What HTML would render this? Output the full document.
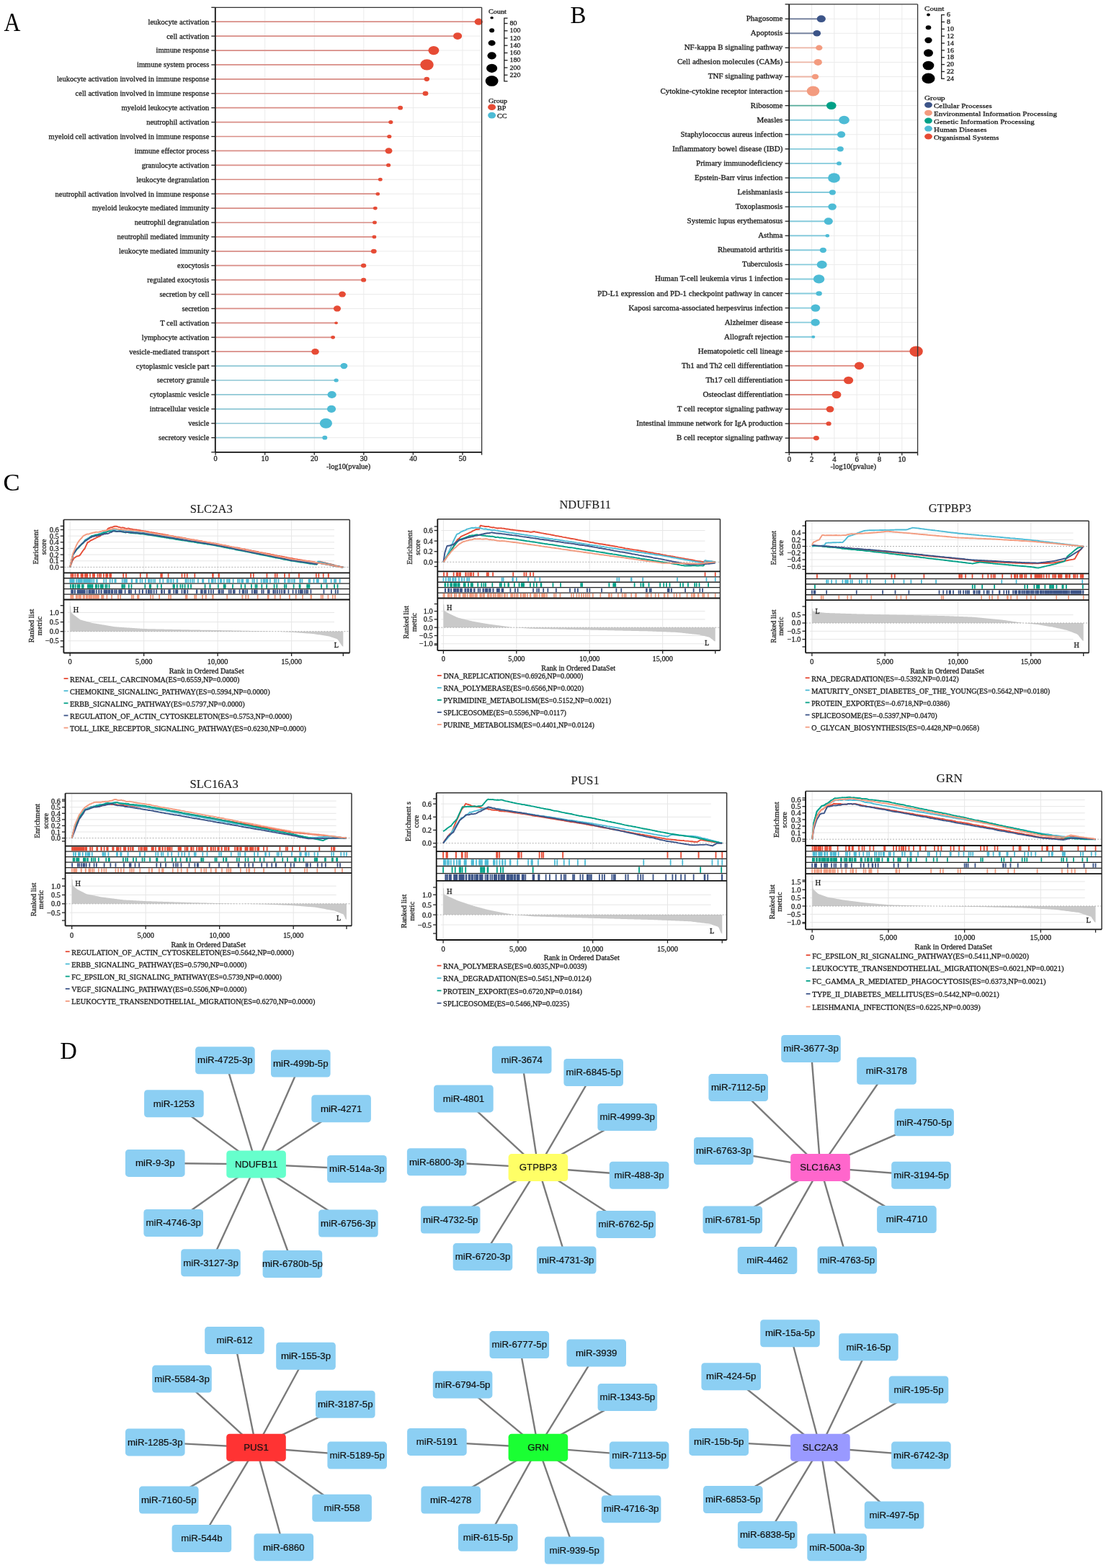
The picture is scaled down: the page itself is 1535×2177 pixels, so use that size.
<!DOCTYPE html>
<html><head><meta charset="utf-8"><title>Figure</title>
<style>
html,body{margin:0;padding:0;background:#fff;}
body{width:1535px;height:2177px;overflow:hidden;}
svg{display:block;}
text.s{font-family:"Liberation Serif","Times New Roman",serif;fill:#1c1c1c;stroke:#1c1c1c;stroke-width:0.28px;}
text.a{font-family:"Liberation Sans",Arial,sans-serif;fill:#111;stroke:#111;stroke-width:0.2px;}
</style></head><body>
<svg width="1535" height="2177" viewBox="0 0 1535 2177">
<rect width="1535" height="2177" fill="#fff"/>
<g id="panelA">
<text class="s" transform="translate(5.6,42.7) scale(0.9,1)" font-size="35.2" style="fill:#000;stroke:none">A</text>
<line x1="367.67" y1="10.3" x2="367.67" y2="627.8" stroke="#ebebeb" stroke-width="1"/>
<line x1="436.24" y1="10.3" x2="436.24" y2="627.8" stroke="#ebebeb" stroke-width="1"/>
<line x1="504.81" y1="10.3" x2="504.81" y2="627.8" stroke="#ebebeb" stroke-width="1"/>
<line x1="573.38" y1="10.3" x2="573.38" y2="627.8" stroke="#ebebeb" stroke-width="1"/>
<line x1="641.95" y1="10.3" x2="641.95" y2="627.8" stroke="#ebebeb" stroke-width="1"/>
<line x1="298.8" y1="30.2" x2="668.6" y2="30.2" stroke="#ebebeb" stroke-width="1"/>
<line x1="298.8" y1="50.11" x2="668.6" y2="50.11" stroke="#ebebeb" stroke-width="1"/>
<line x1="298.8" y1="70.03" x2="668.6" y2="70.03" stroke="#ebebeb" stroke-width="1"/>
<line x1="298.8" y1="89.94" x2="668.6" y2="89.94" stroke="#ebebeb" stroke-width="1"/>
<line x1="298.8" y1="109.85" x2="668.6" y2="109.85" stroke="#ebebeb" stroke-width="1"/>
<line x1="298.8" y1="129.76" x2="668.6" y2="129.76" stroke="#ebebeb" stroke-width="1"/>
<line x1="298.8" y1="149.68" x2="668.6" y2="149.68" stroke="#ebebeb" stroke-width="1"/>
<line x1="298.8" y1="169.59" x2="668.6" y2="169.59" stroke="#ebebeb" stroke-width="1"/>
<line x1="298.8" y1="189.5" x2="668.6" y2="189.5" stroke="#ebebeb" stroke-width="1"/>
<line x1="298.8" y1="209.42" x2="668.6" y2="209.42" stroke="#ebebeb" stroke-width="1"/>
<line x1="298.8" y1="229.33" x2="668.6" y2="229.33" stroke="#ebebeb" stroke-width="1"/>
<line x1="298.8" y1="249.24" x2="668.6" y2="249.24" stroke="#ebebeb" stroke-width="1"/>
<line x1="298.8" y1="269.16" x2="668.6" y2="269.16" stroke="#ebebeb" stroke-width="1"/>
<line x1="298.8" y1="289.07" x2="668.6" y2="289.07" stroke="#ebebeb" stroke-width="1"/>
<line x1="298.8" y1="308.98" x2="668.6" y2="308.98" stroke="#ebebeb" stroke-width="1"/>
<line x1="298.8" y1="328.89" x2="668.6" y2="328.89" stroke="#ebebeb" stroke-width="1"/>
<line x1="298.8" y1="348.81" x2="668.6" y2="348.81" stroke="#ebebeb" stroke-width="1"/>
<line x1="298.8" y1="368.72" x2="668.6" y2="368.72" stroke="#ebebeb" stroke-width="1"/>
<line x1="298.8" y1="388.63" x2="668.6" y2="388.63" stroke="#ebebeb" stroke-width="1"/>
<line x1="298.8" y1="408.55" x2="668.6" y2="408.55" stroke="#ebebeb" stroke-width="1"/>
<line x1="298.8" y1="428.46" x2="668.6" y2="428.46" stroke="#ebebeb" stroke-width="1"/>
<line x1="298.8" y1="448.37" x2="668.6" y2="448.37" stroke="#ebebeb" stroke-width="1"/>
<line x1="298.8" y1="468.29" x2="668.6" y2="468.29" stroke="#ebebeb" stroke-width="1"/>
<line x1="298.8" y1="488.2" x2="668.6" y2="488.2" stroke="#ebebeb" stroke-width="1"/>
<line x1="298.8" y1="508.11" x2="668.6" y2="508.11" stroke="#ebebeb" stroke-width="1"/>
<line x1="298.8" y1="528.02" x2="668.6" y2="528.02" stroke="#ebebeb" stroke-width="1"/>
<line x1="298.8" y1="547.94" x2="668.6" y2="547.94" stroke="#ebebeb" stroke-width="1"/>
<line x1="298.8" y1="567.85" x2="668.6" y2="567.85" stroke="#ebebeb" stroke-width="1"/>
<line x1="298.8" y1="587.76" x2="668.6" y2="587.76" stroke="#ebebeb" stroke-width="1"/>
<line x1="298.8" y1="607.68" x2="668.6" y2="607.68" stroke="#ebebeb" stroke-width="1"/>
<line x1="298.8" y1="30.2" x2="664.2" y2="30.2" stroke="#d98d86" stroke-width="1.7"/>
<line x1="298.8" y1="50.11" x2="635.1" y2="50.11" stroke="#d98d86" stroke-width="1.7"/>
<line x1="298.8" y1="70.03" x2="601.9" y2="70.03" stroke="#d98d86" stroke-width="1.7"/>
<line x1="298.8" y1="89.94" x2="592.5" y2="89.94" stroke="#d98d86" stroke-width="1.7"/>
<line x1="298.8" y1="109.85" x2="592.3" y2="109.85" stroke="#d98d86" stroke-width="1.7"/>
<line x1="298.8" y1="129.76" x2="590.5" y2="129.76" stroke="#d98d86" stroke-width="1.7"/>
<line x1="298.8" y1="149.68" x2="555.6" y2="149.68" stroke="#d98d86" stroke-width="1.7"/>
<line x1="298.8" y1="169.59" x2="542.3" y2="169.59" stroke="#d98d86" stroke-width="1.7"/>
<line x1="298.8" y1="189.5" x2="540.3" y2="189.5" stroke="#d98d86" stroke-width="1.7"/>
<line x1="298.8" y1="209.42" x2="539.5" y2="209.42" stroke="#d98d86" stroke-width="1.7"/>
<line x1="298.8" y1="229.33" x2="539.1" y2="229.33" stroke="#d98d86" stroke-width="1.7"/>
<line x1="298.8" y1="249.24" x2="527.8" y2="249.24" stroke="#d98d86" stroke-width="1.7"/>
<line x1="298.8" y1="269.16" x2="524.3" y2="269.16" stroke="#d98d86" stroke-width="1.7"/>
<line x1="298.8" y1="289.07" x2="520.8" y2="289.07" stroke="#d98d86" stroke-width="1.7"/>
<line x1="298.8" y1="308.98" x2="520" y2="308.98" stroke="#d98d86" stroke-width="1.7"/>
<line x1="298.8" y1="328.89" x2="519.4" y2="328.89" stroke="#d98d86" stroke-width="1.7"/>
<line x1="298.8" y1="348.81" x2="518.8" y2="348.81" stroke="#d98d86" stroke-width="1.7"/>
<line x1="298.8" y1="368.72" x2="504.6" y2="368.72" stroke="#d98d86" stroke-width="1.7"/>
<line x1="298.8" y1="388.63" x2="504.6" y2="388.63" stroke="#d98d86" stroke-width="1.7"/>
<line x1="298.8" y1="408.55" x2="475" y2="408.55" stroke="#d98d86" stroke-width="1.7"/>
<line x1="298.8" y1="428.46" x2="468" y2="428.46" stroke="#d98d86" stroke-width="1.7"/>
<line x1="298.8" y1="448.37" x2="466.6" y2="448.37" stroke="#d98d86" stroke-width="1.7"/>
<line x1="298.8" y1="468.29" x2="462.1" y2="468.29" stroke="#d98d86" stroke-width="1.7"/>
<line x1="298.8" y1="488.2" x2="437.5" y2="488.2" stroke="#d98d86" stroke-width="1.7"/>
<line x1="298.8" y1="508.11" x2="477.4" y2="508.11" stroke="#8fc8d6" stroke-width="1.7"/>
<line x1="298.8" y1="528.02" x2="466.6" y2="528.02" stroke="#8fc8d6" stroke-width="1.7"/>
<line x1="298.8" y1="547.94" x2="460.6" y2="547.94" stroke="#8fc8d6" stroke-width="1.7"/>
<line x1="298.8" y1="567.85" x2="460" y2="567.85" stroke="#8fc8d6" stroke-width="1.7"/>
<line x1="298.8" y1="587.76" x2="452.4" y2="587.76" stroke="#8fc8d6" stroke-width="1.7"/>
<line x1="298.8" y1="607.68" x2="450.8" y2="607.68" stroke="#8fc8d6" stroke-width="1.7"/>
<ellipse cx="664.2" cy="30.2" rx="5.62" ry="4.6" fill="#E64B35"/>
<ellipse cx="635.1" cy="50.11" rx="6.04" ry="4.95" fill="#E64B35"/>
<ellipse cx="601.9" cy="70.03" rx="7.51" ry="6.15" fill="#E64B35"/>
<ellipse cx="592.5" cy="89.94" rx="9.24" ry="7.57" fill="#E64B35"/>
<ellipse cx="592.3" cy="109.85" rx="3.78" ry="3.1" fill="#E64B35"/>
<ellipse cx="590.5" cy="129.76" rx="3.89" ry="3.18" fill="#E64B35"/>
<ellipse cx="555.6" cy="149.68" rx="3.46" ry="2.84" fill="#E64B35"/>
<ellipse cx="542.3" cy="169.59" rx="3.1" ry="2.54" fill="#E64B35"/>
<ellipse cx="540.3" cy="189.5" rx="3.1" ry="2.54" fill="#E64B35"/>
<ellipse cx="539.5" cy="209.42" rx="4.94" ry="4.05" fill="#E64B35"/>
<ellipse cx="539.1" cy="229.33" rx="3.1" ry="2.54" fill="#E64B35"/>
<ellipse cx="527.8" cy="249.24" rx="2.89" ry="2.37" fill="#E64B35"/>
<ellipse cx="524.3" cy="269.16" rx="2.78" ry="2.28" fill="#E64B35"/>
<ellipse cx="520.8" cy="289.07" rx="2.89" ry="2.37" fill="#E64B35"/>
<ellipse cx="520" cy="308.98" rx="2.89" ry="2.37" fill="#E64B35"/>
<ellipse cx="519.4" cy="328.89" rx="2.89" ry="2.37" fill="#E64B35"/>
<ellipse cx="518.8" cy="348.81" rx="3.89" ry="3.18" fill="#E64B35"/>
<ellipse cx="504.6" cy="368.72" rx="3.68" ry="3.01" fill="#E64B35"/>
<ellipse cx="504.6" cy="388.63" rx="3.57" ry="2.93" fill="#E64B35"/>
<ellipse cx="475" cy="408.55" rx="4.94" ry="4.05" fill="#E64B35"/>
<ellipse cx="468" cy="428.46" rx="5.04" ry="4.13" fill="#E64B35"/>
<ellipse cx="466.6" cy="448.37" rx="2.36" ry="1.94" fill="#E64B35"/>
<ellipse cx="462.1" cy="468.29" rx="2.89" ry="2.37" fill="#E64B35"/>
<ellipse cx="437.5" cy="488.2" rx="5.25" ry="4.3" fill="#E64B35"/>
<ellipse cx="477.4" cy="508.11" rx="4.94" ry="4.05" fill="#4DBBD5"/>
<ellipse cx="466.6" cy="528.02" rx="3.15" ry="2.58" fill="#4DBBD5"/>
<ellipse cx="460.6" cy="547.94" rx="6.14" ry="5.03" fill="#4DBBD5"/>
<ellipse cx="460" cy="567.85" rx="6.14" ry="5.03" fill="#4DBBD5"/>
<ellipse cx="452.4" cy="587.76" rx="8.61" ry="7.06" fill="#4DBBD5"/>
<ellipse cx="450.8" cy="607.68" rx="3.46" ry="2.84" fill="#4DBBD5"/>
<line x1="298.8" y1="10.3" x2="668.6" y2="10.3" stroke="#333" stroke-width="1.3"/>
<line x1="668.6" y1="10.3" x2="668.6" y2="627.8" stroke="#333" stroke-width="1.3"/>
<line x1="298.8" y1="627.8" x2="668.6" y2="627.8" stroke="#111" stroke-width="1.8"/>
<line x1="298.8" y1="10.3" x2="298.8" y2="627.8" stroke="#111" stroke-width="1.8"/>
<line x1="293.3" y1="30.2" x2="298.8" y2="30.2" stroke="#222" stroke-width="1.3"/>
<line x1="293.3" y1="50.11" x2="298.8" y2="50.11" stroke="#222" stroke-width="1.3"/>
<line x1="293.3" y1="70.03" x2="298.8" y2="70.03" stroke="#222" stroke-width="1.3"/>
<line x1="293.3" y1="89.94" x2="298.8" y2="89.94" stroke="#222" stroke-width="1.3"/>
<line x1="293.3" y1="109.85" x2="298.8" y2="109.85" stroke="#222" stroke-width="1.3"/>
<line x1="293.3" y1="129.76" x2="298.8" y2="129.76" stroke="#222" stroke-width="1.3"/>
<line x1="293.3" y1="149.68" x2="298.8" y2="149.68" stroke="#222" stroke-width="1.3"/>
<line x1="293.3" y1="169.59" x2="298.8" y2="169.59" stroke="#222" stroke-width="1.3"/>
<line x1="293.3" y1="189.5" x2="298.8" y2="189.5" stroke="#222" stroke-width="1.3"/>
<line x1="293.3" y1="209.42" x2="298.8" y2="209.42" stroke="#222" stroke-width="1.3"/>
<line x1="293.3" y1="229.33" x2="298.8" y2="229.33" stroke="#222" stroke-width="1.3"/>
<line x1="293.3" y1="249.24" x2="298.8" y2="249.24" stroke="#222" stroke-width="1.3"/>
<line x1="293.3" y1="269.16" x2="298.8" y2="269.16" stroke="#222" stroke-width="1.3"/>
<line x1="293.3" y1="289.07" x2="298.8" y2="289.07" stroke="#222" stroke-width="1.3"/>
<line x1="293.3" y1="308.98" x2="298.8" y2="308.98" stroke="#222" stroke-width="1.3"/>
<line x1="293.3" y1="328.89" x2="298.8" y2="328.89" stroke="#222" stroke-width="1.3"/>
<line x1="293.3" y1="348.81" x2="298.8" y2="348.81" stroke="#222" stroke-width="1.3"/>
<line x1="293.3" y1="368.72" x2="298.8" y2="368.72" stroke="#222" stroke-width="1.3"/>
<line x1="293.3" y1="388.63" x2="298.8" y2="388.63" stroke="#222" stroke-width="1.3"/>
<line x1="293.3" y1="408.55" x2="298.8" y2="408.55" stroke="#222" stroke-width="1.3"/>
<line x1="293.3" y1="428.46" x2="298.8" y2="428.46" stroke="#222" stroke-width="1.3"/>
<line x1="293.3" y1="448.37" x2="298.8" y2="448.37" stroke="#222" stroke-width="1.3"/>
<line x1="293.3" y1="468.29" x2="298.8" y2="468.29" stroke="#222" stroke-width="1.3"/>
<line x1="293.3" y1="488.2" x2="298.8" y2="488.2" stroke="#222" stroke-width="1.3"/>
<line x1="293.3" y1="508.11" x2="298.8" y2="508.11" stroke="#222" stroke-width="1.3"/>
<line x1="293.3" y1="528.02" x2="298.8" y2="528.02" stroke="#222" stroke-width="1.3"/>
<line x1="293.3" y1="547.94" x2="298.8" y2="547.94" stroke="#222" stroke-width="1.3"/>
<line x1="293.3" y1="567.85" x2="298.8" y2="567.85" stroke="#222" stroke-width="1.3"/>
<line x1="293.3" y1="587.76" x2="298.8" y2="587.76" stroke="#222" stroke-width="1.3"/>
<line x1="293.3" y1="607.68" x2="298.8" y2="607.68" stroke="#222" stroke-width="1.3"/>
<line x1="293.3" y1="10.3" x2="298.8" y2="10.3" stroke="#222" stroke-width="1.3"/>
<line x1="293.3" y1="627.8" x2="298.8" y2="627.8" stroke="#222" stroke-width="1.3"/>
<line x1="299.1" y1="627.8" x2="299.1" y2="631.65" stroke="#222" stroke-width="1.3"/>
<line x1="367.67" y1="627.8" x2="367.67" y2="631.65" stroke="#222" stroke-width="1.3"/>
<line x1="436.24" y1="627.8" x2="436.24" y2="631.65" stroke="#222" stroke-width="1.3"/>
<line x1="504.81" y1="627.8" x2="504.81" y2="631.65" stroke="#222" stroke-width="1.3"/>
<line x1="573.38" y1="627.8" x2="573.38" y2="631.65" stroke="#222" stroke-width="1.3"/>
<line x1="641.95" y1="627.8" x2="641.95" y2="631.65" stroke="#222" stroke-width="1.3"/>
<line x1="668.6" y1="627.8" x2="668.6" y2="631.65" stroke="#222" stroke-width="1.3"/>
<text class="s" transform="translate(290.3,33.6) scale(1.05,1)" font-size="10" text-anchor="end">leukocyte activation</text>
<text class="s" transform="translate(290.3,53.51) scale(1.05,1)" font-size="10" text-anchor="end">cell activation</text>
<text class="s" transform="translate(290.3,73.43) scale(1.05,1)" font-size="10" text-anchor="end">immune response</text>
<text class="s" transform="translate(290.3,93.34) scale(1.05,1)" font-size="10" text-anchor="end">immune system process</text>
<text class="s" transform="translate(290.3,113.25) scale(1.05,1)" font-size="10" text-anchor="end">leukocyte activation involved in immune response</text>
<text class="s" transform="translate(290.3,133.16) scale(1.05,1)" font-size="10" text-anchor="end">cell activation involved in immune response</text>
<text class="s" transform="translate(290.3,153.08) scale(1.05,1)" font-size="10" text-anchor="end">myeloid leukocyte activation</text>
<text class="s" transform="translate(290.3,172.99) scale(1.05,1)" font-size="10" text-anchor="end">neutrophil activation</text>
<text class="s" transform="translate(290.3,192.9) scale(1.05,1)" font-size="10" text-anchor="end">myeloid cell activation involved in immune response</text>
<text class="s" transform="translate(290.3,212.82) scale(1.05,1)" font-size="10" text-anchor="end">immune effector process</text>
<text class="s" transform="translate(290.3,232.73) scale(1.05,1)" font-size="10" text-anchor="end">granulocyte activation</text>
<text class="s" transform="translate(290.3,252.64) scale(1.05,1)" font-size="10" text-anchor="end">leukocyte degranulation</text>
<text class="s" transform="translate(290.3,272.56) scale(1.05,1)" font-size="10" text-anchor="end">neutrophil activation involved in immune response</text>
<text class="s" transform="translate(290.3,292.47) scale(1.05,1)" font-size="10" text-anchor="end">myeloid leukocyte mediated immunity</text>
<text class="s" transform="translate(290.3,312.38) scale(1.05,1)" font-size="10" text-anchor="end">neutrophil degranulation</text>
<text class="s" transform="translate(290.3,332.29) scale(1.05,1)" font-size="10" text-anchor="end">neutrophil mediated immunity</text>
<text class="s" transform="translate(290.3,352.21) scale(1.05,1)" font-size="10" text-anchor="end">leukocyte mediated immunity</text>
<text class="s" transform="translate(290.3,372.12) scale(1.05,1)" font-size="10" text-anchor="end">exocytosis</text>
<text class="s" transform="translate(290.3,392.03) scale(1.05,1)" font-size="10" text-anchor="end">regulated exocytosis</text>
<text class="s" transform="translate(290.3,411.95) scale(1.05,1)" font-size="10" text-anchor="end">secretion by cell</text>
<text class="s" transform="translate(290.3,431.86) scale(1.05,1)" font-size="10" text-anchor="end">secretion</text>
<text class="s" transform="translate(290.3,451.77) scale(1.05,1)" font-size="10" text-anchor="end">T cell activation</text>
<text class="s" transform="translate(290.3,471.69) scale(1.05,1)" font-size="10" text-anchor="end">lymphocyte activation</text>
<text class="s" transform="translate(290.3,491.6) scale(1.05,1)" font-size="10" text-anchor="end">vesicle-mediated transport</text>
<text class="s" transform="translate(290.3,511.51) scale(1.05,1)" font-size="10" text-anchor="end">cytoplasmic vesicle part</text>
<text class="s" transform="translate(290.3,531.42) scale(1.05,1)" font-size="10" text-anchor="end">secretory granule</text>
<text class="s" transform="translate(290.3,551.34) scale(1.05,1)" font-size="10" text-anchor="end">cytoplasmic vesicle</text>
<text class="s" transform="translate(290.3,571.25) scale(1.05,1)" font-size="10" text-anchor="end">intracellular vesicle</text>
<text class="s" transform="translate(290.3,591.16) scale(1.05,1)" font-size="10" text-anchor="end">vesicle</text>
<text class="s" transform="translate(290.3,611.08) scale(1.05,1)" font-size="10" text-anchor="end">secretory vesicle</text>
<text class="s" transform="translate(299.1,639.5) scale(1.1,1)" font-size="9.4" text-anchor="middle">0</text>
<text class="s" transform="translate(367.67,639.5) scale(1.1,1)" font-size="9.4" text-anchor="middle">10</text>
<text class="s" transform="translate(436.24,639.5) scale(1.1,1)" font-size="9.4" text-anchor="middle">20</text>
<text class="s" transform="translate(504.81,639.5) scale(1.1,1)" font-size="9.4" text-anchor="middle">30</text>
<text class="s" transform="translate(573.38,639.5) scale(1.1,1)" font-size="9.4" text-anchor="middle">40</text>
<text class="s" transform="translate(641.95,639.5) scale(1.1,1)" font-size="9.4" text-anchor="middle">50</text>
<text class="s" transform="translate(483.6,650.5) scale(1.1,1)" font-size="9.4" text-anchor="middle">-log10(pvalue)</text>
<text class="s" transform="translate(677.9,19.2) scale(1.22,1)" font-size="8.4">Count</text>
<ellipse cx="682.6" cy="24.7" rx="2.25" ry="1.75" fill="#000"/>
<ellipse cx="682.6" cy="42.3" rx="3.5" ry="2.95" fill="#000"/>
<ellipse cx="682.6" cy="59.7" rx="5" ry="3.95" fill="#000"/>
<ellipse cx="682.6" cy="77.3" rx="6.15" ry="5.1" fill="#000"/>
<ellipse cx="682.6" cy="94.8" rx="7.6" ry="6.1" fill="#000"/>
<ellipse cx="682.6" cy="112.4" rx="8.9" ry="7.4" fill="#000"/>
<line x1="699.8" y1="25.2" x2="699.8" y2="112.8" stroke="#222" stroke-width="1.3"/>
<line x1="699.2" y1="25.2" x2="704.5" y2="25.2" stroke="#222" stroke-width="1.3"/>
<line x1="699.2" y1="112.8" x2="704.5" y2="112.8" stroke="#222" stroke-width="1.3"/>
<line x1="699.8" y1="32.5" x2="704.5" y2="32.5" stroke="#222" stroke-width="1.3"/>
<text class="s" transform="translate(707.6,35.2) scale(1.28,1)" font-size="7.8">80</text>
<line x1="699.8" y1="42.74" x2="704.5" y2="42.74" stroke="#222" stroke-width="1.3"/>
<text class="s" transform="translate(707.6,45.44) scale(1.28,1)" font-size="7.8">100</text>
<line x1="699.8" y1="52.98" x2="704.5" y2="52.98" stroke="#222" stroke-width="1.3"/>
<text class="s" transform="translate(707.6,55.68) scale(1.28,1)" font-size="7.8">120</text>
<line x1="699.8" y1="63.22" x2="704.5" y2="63.22" stroke="#222" stroke-width="1.3"/>
<text class="s" transform="translate(707.6,65.92) scale(1.28,1)" font-size="7.8">140</text>
<line x1="699.8" y1="73.46" x2="704.5" y2="73.46" stroke="#222" stroke-width="1.3"/>
<text class="s" transform="translate(707.6,76.16) scale(1.28,1)" font-size="7.8">160</text>
<line x1="699.8" y1="83.7" x2="704.5" y2="83.7" stroke="#222" stroke-width="1.3"/>
<text class="s" transform="translate(707.6,86.4) scale(1.28,1)" font-size="7.8">180</text>
<line x1="699.8" y1="93.94" x2="704.5" y2="93.94" stroke="#222" stroke-width="1.3"/>
<text class="s" transform="translate(707.6,96.64) scale(1.28,1)" font-size="7.8">200</text>
<line x1="699.8" y1="104.18" x2="704.5" y2="104.18" stroke="#222" stroke-width="1.3"/>
<text class="s" transform="translate(707.6,106.88) scale(1.28,1)" font-size="7.8">220</text>
<text class="s" transform="translate(677.9,142.6) scale(1.22,1)" font-size="8.4">Group</text>
<ellipse cx="682.6" cy="148.8" rx="5.5" ry="4.3" fill="#E64B35"/>
<ellipse cx="682.6" cy="160.1" rx="5.5" ry="4.3" fill="#4DBBD5"/>
<text class="s" transform="translate(690,153) scale(1.22,1)" font-size="8.4">BP</text>
<text class="s" transform="translate(690,164) scale(1.22,1)" font-size="8.4">CC</text>
</g>
<g id="panelB">
<text class="s" transform="translate(791.6,31.9) scale(0.96,1)" font-size="34.3" style="fill:#000;stroke:none">B</text>
<line x1="1126.6" y1="5.9" x2="1126.6" y2="628.4" stroke="#ebebeb" stroke-width="1"/>
<line x1="1157.9" y1="5.9" x2="1157.9" y2="628.4" stroke="#ebebeb" stroke-width="1"/>
<line x1="1189.2" y1="5.9" x2="1189.2" y2="628.4" stroke="#ebebeb" stroke-width="1"/>
<line x1="1220.5" y1="5.9" x2="1220.5" y2="628.4" stroke="#ebebeb" stroke-width="1"/>
<line x1="1251.8" y1="5.9" x2="1251.8" y2="628.4" stroke="#ebebeb" stroke-width="1"/>
<line x1="1095.2" y1="26.2" x2="1273.6" y2="26.2" stroke="#ebebeb" stroke-width="1"/>
<line x1="1095.2" y1="46.27" x2="1273.6" y2="46.27" stroke="#ebebeb" stroke-width="1"/>
<line x1="1095.2" y1="66.34" x2="1273.6" y2="66.34" stroke="#ebebeb" stroke-width="1"/>
<line x1="1095.2" y1="86.41" x2="1273.6" y2="86.41" stroke="#ebebeb" stroke-width="1"/>
<line x1="1095.2" y1="106.48" x2="1273.6" y2="106.48" stroke="#ebebeb" stroke-width="1"/>
<line x1="1095.2" y1="126.55" x2="1273.6" y2="126.55" stroke="#ebebeb" stroke-width="1"/>
<line x1="1095.2" y1="146.62" x2="1273.6" y2="146.62" stroke="#ebebeb" stroke-width="1"/>
<line x1="1095.2" y1="166.69" x2="1273.6" y2="166.69" stroke="#ebebeb" stroke-width="1"/>
<line x1="1095.2" y1="186.76" x2="1273.6" y2="186.76" stroke="#ebebeb" stroke-width="1"/>
<line x1="1095.2" y1="206.83" x2="1273.6" y2="206.83" stroke="#ebebeb" stroke-width="1"/>
<line x1="1095.2" y1="226.9" x2="1273.6" y2="226.9" stroke="#ebebeb" stroke-width="1"/>
<line x1="1095.2" y1="246.97" x2="1273.6" y2="246.97" stroke="#ebebeb" stroke-width="1"/>
<line x1="1095.2" y1="267.04" x2="1273.6" y2="267.04" stroke="#ebebeb" stroke-width="1"/>
<line x1="1095.2" y1="287.11" x2="1273.6" y2="287.11" stroke="#ebebeb" stroke-width="1"/>
<line x1="1095.2" y1="307.18" x2="1273.6" y2="307.18" stroke="#ebebeb" stroke-width="1"/>
<line x1="1095.2" y1="327.25" x2="1273.6" y2="327.25" stroke="#ebebeb" stroke-width="1"/>
<line x1="1095.2" y1="347.32" x2="1273.6" y2="347.32" stroke="#ebebeb" stroke-width="1"/>
<line x1="1095.2" y1="367.39" x2="1273.6" y2="367.39" stroke="#ebebeb" stroke-width="1"/>
<line x1="1095.2" y1="387.46" x2="1273.6" y2="387.46" stroke="#ebebeb" stroke-width="1"/>
<line x1="1095.2" y1="407.53" x2="1273.6" y2="407.53" stroke="#ebebeb" stroke-width="1"/>
<line x1="1095.2" y1="427.6" x2="1273.6" y2="427.6" stroke="#ebebeb" stroke-width="1"/>
<line x1="1095.2" y1="447.67" x2="1273.6" y2="447.67" stroke="#ebebeb" stroke-width="1"/>
<line x1="1095.2" y1="467.74" x2="1273.6" y2="467.74" stroke="#ebebeb" stroke-width="1"/>
<line x1="1095.2" y1="487.81" x2="1273.6" y2="487.81" stroke="#ebebeb" stroke-width="1"/>
<line x1="1095.2" y1="507.88" x2="1273.6" y2="507.88" stroke="#ebebeb" stroke-width="1"/>
<line x1="1095.2" y1="527.95" x2="1273.6" y2="527.95" stroke="#ebebeb" stroke-width="1"/>
<line x1="1095.2" y1="548.02" x2="1273.6" y2="548.02" stroke="#ebebeb" stroke-width="1"/>
<line x1="1095.2" y1="568.09" x2="1273.6" y2="568.09" stroke="#ebebeb" stroke-width="1"/>
<line x1="1095.2" y1="588.16" x2="1273.6" y2="588.16" stroke="#ebebeb" stroke-width="1"/>
<line x1="1095.2" y1="608.23" x2="1273.6" y2="608.23" stroke="#ebebeb" stroke-width="1"/>
<line x1="1095.2" y1="26.2" x2="1139.8" y2="26.2" stroke="#7884a0" stroke-width="1.9"/>
<line x1="1095.2" y1="46.27" x2="1133.8" y2="46.27" stroke="#7884a0" stroke-width="1.9"/>
<line x1="1095.2" y1="66.34" x2="1136.8" y2="66.34" stroke="#ecb4a4" stroke-width="1.9"/>
<line x1="1095.2" y1="86.41" x2="1135.3" y2="86.41" stroke="#ecb4a4" stroke-width="1.9"/>
<line x1="1095.2" y1="106.48" x2="1131.5" y2="106.48" stroke="#ecb4a4" stroke-width="1.9"/>
<line x1="1095.2" y1="126.55" x2="1128.5" y2="126.55" stroke="#ecb4a4" stroke-width="1.9"/>
<line x1="1095.2" y1="146.62" x2="1153.8" y2="146.62" stroke="#55ab9a" stroke-width="1.9"/>
<line x1="1095.2" y1="166.69" x2="1171.5" y2="166.69" stroke="#86cbdc" stroke-width="1.9"/>
<line x1="1095.2" y1="186.76" x2="1167.6" y2="186.76" stroke="#86cbdc" stroke-width="1.9"/>
<line x1="1095.2" y1="206.83" x2="1166.3" y2="206.83" stroke="#86cbdc" stroke-width="1.9"/>
<line x1="1095.2" y1="226.9" x2="1164.5" y2="226.9" stroke="#86cbdc" stroke-width="1.9"/>
<line x1="1095.2" y1="246.97" x2="1157.5" y2="246.97" stroke="#86cbdc" stroke-width="1.9"/>
<line x1="1095.2" y1="267.04" x2="1155.4" y2="267.04" stroke="#86cbdc" stroke-width="1.9"/>
<line x1="1095.2" y1="287.11" x2="1155.1" y2="287.11" stroke="#86cbdc" stroke-width="1.9"/>
<line x1="1095.2" y1="307.18" x2="1149.8" y2="307.18" stroke="#86cbdc" stroke-width="1.9"/>
<line x1="1095.2" y1="327.25" x2="1148.3" y2="327.25" stroke="#86cbdc" stroke-width="1.9"/>
<line x1="1095.2" y1="347.32" x2="1142.4" y2="347.32" stroke="#86cbdc" stroke-width="1.9"/>
<line x1="1095.2" y1="367.39" x2="1140.7" y2="367.39" stroke="#86cbdc" stroke-width="1.9"/>
<line x1="1095.2" y1="387.46" x2="1136.6" y2="387.46" stroke="#86cbdc" stroke-width="1.9"/>
<line x1="1095.2" y1="407.53" x2="1136.7" y2="407.53" stroke="#86cbdc" stroke-width="1.9"/>
<line x1="1095.2" y1="427.6" x2="1131.8" y2="427.6" stroke="#86cbdc" stroke-width="1.9"/>
<line x1="1095.2" y1="447.67" x2="1131.6" y2="447.67" stroke="#86cbdc" stroke-width="1.9"/>
<line x1="1095.2" y1="467.74" x2="1128.8" y2="467.74" stroke="#86cbdc" stroke-width="1.9"/>
<line x1="1095.2" y1="487.81" x2="1271.6" y2="487.81" stroke="#df8a80" stroke-width="1.9"/>
<line x1="1095.2" y1="507.88" x2="1192.5" y2="507.88" stroke="#df8a80" stroke-width="1.9"/>
<line x1="1095.2" y1="527.95" x2="1177.6" y2="527.95" stroke="#df8a80" stroke-width="1.9"/>
<line x1="1095.2" y1="548.02" x2="1161" y2="548.02" stroke="#df8a80" stroke-width="1.9"/>
<line x1="1095.2" y1="568.09" x2="1152" y2="568.09" stroke="#df8a80" stroke-width="1.9"/>
<line x1="1095.2" y1="588.16" x2="1150.1" y2="588.16" stroke="#df8a80" stroke-width="1.9"/>
<line x1="1095.2" y1="608.23" x2="1132.9" y2="608.23" stroke="#df8a80" stroke-width="1.9"/>
<ellipse cx="1139.8" cy="26.2" rx="6.1" ry="4.88" fill="#3C5488"/>
<ellipse cx="1133.8" cy="46.27" rx="5.3" ry="4.24" fill="#3C5488"/>
<ellipse cx="1136.8" cy="66.34" rx="4.65" ry="3.72" fill="#F39B7F"/>
<ellipse cx="1135.3" cy="86.41" rx="5.65" ry="4.52" fill="#F39B7F"/>
<ellipse cx="1131.5" cy="106.48" rx="4.7" ry="3.76" fill="#F39B7F"/>
<ellipse cx="1128.5" cy="126.55" rx="8.8" ry="7.04" fill="#F39B7F"/>
<ellipse cx="1153.8" cy="146.62" rx="6.85" ry="5.48" fill="#00A087"/>
<ellipse cx="1171.5" cy="166.69" rx="7.35" ry="5.88" fill="#4DBBD5"/>
<ellipse cx="1167.6" cy="186.76" rx="5.6" ry="4.48" fill="#4DBBD5"/>
<ellipse cx="1166.3" cy="206.83" rx="4.55" ry="3.64" fill="#4DBBD5"/>
<ellipse cx="1164.5" cy="226.9" rx="3.4" ry="2.72" fill="#4DBBD5"/>
<ellipse cx="1157.5" cy="246.97" rx="8.45" ry="6.76" fill="#4DBBD5"/>
<ellipse cx="1155.4" cy="267.04" rx="4.55" ry="3.64" fill="#4DBBD5"/>
<ellipse cx="1155.1" cy="287.11" rx="5.8" ry="4.64" fill="#4DBBD5"/>
<ellipse cx="1149.8" cy="307.18" rx="6.1" ry="4.88" fill="#4DBBD5"/>
<ellipse cx="1148.3" cy="327.25" rx="2.75" ry="2.2" fill="#4DBBD5"/>
<ellipse cx="1142.4" cy="347.32" rx="4.55" ry="3.64" fill="#4DBBD5"/>
<ellipse cx="1140.7" cy="367.39" rx="7" ry="5.6" fill="#4DBBD5"/>
<ellipse cx="1136.6" cy="387.46" rx="7.7" ry="6.16" fill="#4DBBD5"/>
<ellipse cx="1136.7" cy="407.53" rx="4.15" ry="3.32" fill="#4DBBD5"/>
<ellipse cx="1131.8" cy="427.6" rx="6.45" ry="5.16" fill="#4DBBD5"/>
<ellipse cx="1131.6" cy="447.67" rx="6.2" ry="4.96" fill="#4DBBD5"/>
<ellipse cx="1128.8" cy="467.74" rx="2.5" ry="2" fill="#4DBBD5"/>
<ellipse cx="1271.6" cy="487.81" rx="9.25" ry="7.4" fill="#E64B35"/>
<ellipse cx="1192.5" cy="507.88" rx="6.6" ry="5.28" fill="#E64B35"/>
<ellipse cx="1177.6" cy="527.95" rx="6.6" ry="5.28" fill="#E64B35"/>
<ellipse cx="1161" cy="548.02" rx="6.45" ry="5.16" fill="#E64B35"/>
<ellipse cx="1152" cy="568.09" rx="5.4" ry="4.32" fill="#E64B35"/>
<ellipse cx="1150.1" cy="588.16" rx="3.55" ry="2.84" fill="#E64B35"/>
<ellipse cx="1132.9" cy="608.23" rx="3.95" ry="3.16" fill="#E64B35"/>
<line x1="1095.2" y1="5.9" x2="1273.6" y2="5.9" stroke="#333" stroke-width="1.3"/>
<line x1="1273.6" y1="5.9" x2="1273.6" y2="628.4" stroke="#333" stroke-width="1.3"/>
<line x1="1095.2" y1="628.4" x2="1273.6" y2="628.4" stroke="#111" stroke-width="1.8"/>
<line x1="1095.2" y1="5.9" x2="1095.2" y2="628.4" stroke="#111" stroke-width="1.8"/>
<line x1="1089.6" y1="26.2" x2="1095.2" y2="26.2" stroke="#222" stroke-width="1.3"/>
<line x1="1089.6" y1="46.27" x2="1095.2" y2="46.27" stroke="#222" stroke-width="1.3"/>
<line x1="1089.6" y1="66.34" x2="1095.2" y2="66.34" stroke="#222" stroke-width="1.3"/>
<line x1="1089.6" y1="86.41" x2="1095.2" y2="86.41" stroke="#222" stroke-width="1.3"/>
<line x1="1089.6" y1="106.48" x2="1095.2" y2="106.48" stroke="#222" stroke-width="1.3"/>
<line x1="1089.6" y1="126.55" x2="1095.2" y2="126.55" stroke="#222" stroke-width="1.3"/>
<line x1="1089.6" y1="146.62" x2="1095.2" y2="146.62" stroke="#222" stroke-width="1.3"/>
<line x1="1089.6" y1="166.69" x2="1095.2" y2="166.69" stroke="#222" stroke-width="1.3"/>
<line x1="1089.6" y1="186.76" x2="1095.2" y2="186.76" stroke="#222" stroke-width="1.3"/>
<line x1="1089.6" y1="206.83" x2="1095.2" y2="206.83" stroke="#222" stroke-width="1.3"/>
<line x1="1089.6" y1="226.9" x2="1095.2" y2="226.9" stroke="#222" stroke-width="1.3"/>
<line x1="1089.6" y1="246.97" x2="1095.2" y2="246.97" stroke="#222" stroke-width="1.3"/>
<line x1="1089.6" y1="267.04" x2="1095.2" y2="267.04" stroke="#222" stroke-width="1.3"/>
<line x1="1089.6" y1="287.11" x2="1095.2" y2="287.11" stroke="#222" stroke-width="1.3"/>
<line x1="1089.6" y1="307.18" x2="1095.2" y2="307.18" stroke="#222" stroke-width="1.3"/>
<line x1="1089.6" y1="327.25" x2="1095.2" y2="327.25" stroke="#222" stroke-width="1.3"/>
<line x1="1089.6" y1="347.32" x2="1095.2" y2="347.32" stroke="#222" stroke-width="1.3"/>
<line x1="1089.6" y1="367.39" x2="1095.2" y2="367.39" stroke="#222" stroke-width="1.3"/>
<line x1="1089.6" y1="387.46" x2="1095.2" y2="387.46" stroke="#222" stroke-width="1.3"/>
<line x1="1089.6" y1="407.53" x2="1095.2" y2="407.53" stroke="#222" stroke-width="1.3"/>
<line x1="1089.6" y1="427.6" x2="1095.2" y2="427.6" stroke="#222" stroke-width="1.3"/>
<line x1="1089.6" y1="447.67" x2="1095.2" y2="447.67" stroke="#222" stroke-width="1.3"/>
<line x1="1089.6" y1="467.74" x2="1095.2" y2="467.74" stroke="#222" stroke-width="1.3"/>
<line x1="1089.6" y1="487.81" x2="1095.2" y2="487.81" stroke="#222" stroke-width="1.3"/>
<line x1="1089.6" y1="507.88" x2="1095.2" y2="507.88" stroke="#222" stroke-width="1.3"/>
<line x1="1089.6" y1="527.95" x2="1095.2" y2="527.95" stroke="#222" stroke-width="1.3"/>
<line x1="1089.6" y1="548.02" x2="1095.2" y2="548.02" stroke="#222" stroke-width="1.3"/>
<line x1="1089.6" y1="568.09" x2="1095.2" y2="568.09" stroke="#222" stroke-width="1.3"/>
<line x1="1089.6" y1="588.16" x2="1095.2" y2="588.16" stroke="#222" stroke-width="1.3"/>
<line x1="1089.6" y1="608.23" x2="1095.2" y2="608.23" stroke="#222" stroke-width="1.3"/>
<line x1="1089.6" y1="5.9" x2="1095.2" y2="5.9" stroke="#222" stroke-width="1.3"/>
<line x1="1089.6" y1="628.4" x2="1095.2" y2="628.4" stroke="#222" stroke-width="1.3"/>
<line x1="1095.3" y1="628.4" x2="1095.3" y2="632.32" stroke="#222" stroke-width="1.3"/>
<line x1="1126.6" y1="628.4" x2="1126.6" y2="632.32" stroke="#222" stroke-width="1.3"/>
<line x1="1157.9" y1="628.4" x2="1157.9" y2="632.32" stroke="#222" stroke-width="1.3"/>
<line x1="1189.2" y1="628.4" x2="1189.2" y2="632.32" stroke="#222" stroke-width="1.3"/>
<line x1="1220.5" y1="628.4" x2="1220.5" y2="632.32" stroke="#222" stroke-width="1.3"/>
<line x1="1251.8" y1="628.4" x2="1251.8" y2="632.32" stroke="#222" stroke-width="1.3"/>
<line x1="1273.6" y1="628.4" x2="1273.6" y2="632.32" stroke="#222" stroke-width="1.3"/>
<text class="s" transform="translate(1086.3,29.2) scale(1.18,1)" font-size="9.3" text-anchor="end">Phagosome</text>
<text class="s" transform="translate(1086.3,49.27) scale(1.18,1)" font-size="9.3" text-anchor="end">Apoptosis</text>
<text class="s" transform="translate(1086.3,69.34) scale(1.18,1)" font-size="9.3" text-anchor="end">NF-kappa B signaling pathway</text>
<text class="s" transform="translate(1086.3,89.41) scale(1.18,1)" font-size="9.3" text-anchor="end">Cell adhesion molecules (CAMs)</text>
<text class="s" transform="translate(1086.3,109.48) scale(1.18,1)" font-size="9.3" text-anchor="end">TNF signaling pathway</text>
<text class="s" transform="translate(1086.3,129.55) scale(1.18,1)" font-size="9.3" text-anchor="end">Cytokine-cytokine receptor interaction</text>
<text class="s" transform="translate(1086.3,149.62) scale(1.18,1)" font-size="9.3" text-anchor="end">Ribosome</text>
<text class="s" transform="translate(1086.3,169.69) scale(1.18,1)" font-size="9.3" text-anchor="end">Measles</text>
<text class="s" transform="translate(1086.3,189.76) scale(1.18,1)" font-size="9.3" text-anchor="end">Staphylococcus aureus infection</text>
<text class="s" transform="translate(1086.3,209.83) scale(1.18,1)" font-size="9.3" text-anchor="end">Inflammatory bowel disease (IBD)</text>
<text class="s" transform="translate(1086.3,229.9) scale(1.18,1)" font-size="9.3" text-anchor="end">Primary immunodeficiency</text>
<text class="s" transform="translate(1086.3,249.97) scale(1.18,1)" font-size="9.3" text-anchor="end">Epstein-Barr virus infection</text>
<text class="s" transform="translate(1086.3,270.04) scale(1.18,1)" font-size="9.3" text-anchor="end">Leishmaniasis</text>
<text class="s" transform="translate(1086.3,290.11) scale(1.18,1)" font-size="9.3" text-anchor="end">Toxoplasmosis</text>
<text class="s" transform="translate(1086.3,310.18) scale(1.18,1)" font-size="9.3" text-anchor="end">Systemic lupus erythematosus</text>
<text class="s" transform="translate(1086.3,330.25) scale(1.18,1)" font-size="9.3" text-anchor="end">Asthma</text>
<text class="s" transform="translate(1086.3,350.32) scale(1.18,1)" font-size="9.3" text-anchor="end">Rheumatoid arthritis</text>
<text class="s" transform="translate(1086.3,370.39) scale(1.18,1)" font-size="9.3" text-anchor="end">Tuberculosis</text>
<text class="s" transform="translate(1086.3,390.46) scale(1.18,1)" font-size="9.3" text-anchor="end">Human T-cell leukemia virus 1 infection</text>
<text class="s" transform="translate(1086.3,410.53) scale(1.18,1)" font-size="9.3" text-anchor="end">PD-L1 expression and PD-1 checkpoint pathway in cancer</text>
<text class="s" transform="translate(1086.3,430.6) scale(1.18,1)" font-size="9.3" text-anchor="end">Kaposi sarcoma-associated herpesvirus infection</text>
<text class="s" transform="translate(1086.3,450.67) scale(1.18,1)" font-size="9.3" text-anchor="end">Alzheimer disease</text>
<text class="s" transform="translate(1086.3,470.74) scale(1.18,1)" font-size="9.3" text-anchor="end">Allograft rejection</text>
<text class="s" transform="translate(1086.3,490.81) scale(1.18,1)" font-size="9.3" text-anchor="end">Hematopoietic cell lineage</text>
<text class="s" transform="translate(1086.3,510.88) scale(1.18,1)" font-size="9.3" text-anchor="end">Th1 and Th2 cell differentiation</text>
<text class="s" transform="translate(1086.3,530.95) scale(1.18,1)" font-size="9.3" text-anchor="end">Th17 cell differentiation</text>
<text class="s" transform="translate(1086.3,551.02) scale(1.18,1)" font-size="9.3" text-anchor="end">Osteoclast differentiation</text>
<text class="s" transform="translate(1086.3,571.09) scale(1.18,1)" font-size="9.3" text-anchor="end">T cell receptor signaling pathway</text>
<text class="s" transform="translate(1086.3,591.16) scale(1.18,1)" font-size="9.3" text-anchor="end">Intestinal immune network for IgA production</text>
<text class="s" transform="translate(1086.3,611.23) scale(1.18,1)" font-size="9.3" text-anchor="end">B cell receptor signaling pathway</text>
<text class="s" transform="translate(1095.3,641) scale(1.14,1)" font-size="9.4" text-anchor="middle">0</text>
<text class="s" transform="translate(1126.6,641) scale(1.14,1)" font-size="9.4" text-anchor="middle">2</text>
<text class="s" transform="translate(1157.9,641) scale(1.14,1)" font-size="9.4" text-anchor="middle">4</text>
<text class="s" transform="translate(1189.2,641) scale(1.14,1)" font-size="9.4" text-anchor="middle">6</text>
<text class="s" transform="translate(1220.5,641) scale(1.14,1)" font-size="9.4" text-anchor="middle">8</text>
<text class="s" transform="translate(1251.8,641) scale(1.14,1)" font-size="9.4" text-anchor="middle">10</text>
<text class="s" transform="translate(1184.2,650.5) scale(1.14,1)" font-size="9.4" text-anchor="middle">-log10(pvalue)</text>
<text class="s" transform="translate(1283,14.9) scale(1.3,1)" font-size="8.6">Count</text>
<ellipse cx="1288.5" cy="20.5" rx="2.4" ry="1.92" fill="#000"/>
<ellipse cx="1288.5" cy="38.3" rx="3.8" ry="3.04" fill="#000"/>
<ellipse cx="1288.5" cy="55.8" rx="5.15" ry="4.12" fill="#000"/>
<ellipse cx="1288.5" cy="73.5" rx="6.5" ry="5.2" fill="#000"/>
<ellipse cx="1288.5" cy="91" rx="7.85" ry="6.28" fill="#000"/>
<ellipse cx="1288.5" cy="108.8" rx="9.05" ry="7.24" fill="#000"/>
<line x1="1306.7" y1="20.2" x2="1306.7" y2="109" stroke="#222" stroke-width="1.3"/>
<line x1="1306.1" y1="20.6" x2="1311" y2="20.6" stroke="#222" stroke-width="1.3"/>
<text class="s" transform="translate(1314,23.3) scale(1.28,1)" font-size="7.8">6</text>
<line x1="1306.1" y1="30.45" x2="1311" y2="30.45" stroke="#222" stroke-width="1.3"/>
<text class="s" transform="translate(1314,33.15) scale(1.28,1)" font-size="7.8">8</text>
<line x1="1306.1" y1="40.3" x2="1311" y2="40.3" stroke="#222" stroke-width="1.3"/>
<text class="s" transform="translate(1314,43) scale(1.28,1)" font-size="7.8">10</text>
<line x1="1306.1" y1="50.15" x2="1311" y2="50.15" stroke="#222" stroke-width="1.3"/>
<text class="s" transform="translate(1314,52.85) scale(1.28,1)" font-size="7.8">12</text>
<line x1="1306.1" y1="60" x2="1311" y2="60" stroke="#222" stroke-width="1.3"/>
<text class="s" transform="translate(1314,62.7) scale(1.28,1)" font-size="7.8">14</text>
<line x1="1306.1" y1="69.85" x2="1311" y2="69.85" stroke="#222" stroke-width="1.3"/>
<text class="s" transform="translate(1314,72.55) scale(1.28,1)" font-size="7.8">16</text>
<line x1="1306.1" y1="79.7" x2="1311" y2="79.7" stroke="#222" stroke-width="1.3"/>
<text class="s" transform="translate(1314,82.4) scale(1.28,1)" font-size="7.8">18</text>
<line x1="1306.1" y1="89.55" x2="1311" y2="89.55" stroke="#222" stroke-width="1.3"/>
<text class="s" transform="translate(1314,92.25) scale(1.28,1)" font-size="7.8">20</text>
<line x1="1306.1" y1="99.4" x2="1311" y2="99.4" stroke="#222" stroke-width="1.3"/>
<text class="s" transform="translate(1314,102.1) scale(1.28,1)" font-size="7.8">22</text>
<line x1="1306.1" y1="109.25" x2="1311" y2="109.25" stroke="#222" stroke-width="1.3"/>
<text class="s" transform="translate(1314,111.95) scale(1.28,1)" font-size="7.8">24</text>
<text class="s" transform="translate(1283,139) scale(1.3,1)" font-size="8.6">Group</text>
<ellipse cx="1288.5" cy="145.7" rx="5.4" ry="4" fill="#3C5488"/>
<text class="s" transform="translate(1296,149.8) scale(1.28,1)" font-size="8.6">Cellular Processes</text>
<ellipse cx="1288.5" cy="156.65" rx="5.4" ry="4" fill="#F39B7F"/>
<text class="s" transform="translate(1296,160.75) scale(1.28,1)" font-size="8.6">Environmental Information Processing</text>
<ellipse cx="1288.5" cy="167.6" rx="5.4" ry="4" fill="#00A087"/>
<text class="s" transform="translate(1296,171.7) scale(1.28,1)" font-size="8.6">Genetic Information Processing</text>
<ellipse cx="1288.5" cy="178.55" rx="5.4" ry="4" fill="#4DBBD5"/>
<text class="s" transform="translate(1296,182.65) scale(1.28,1)" font-size="8.6">Human Diseases</text>
<ellipse cx="1288.5" cy="189.5" rx="5.4" ry="4" fill="#E64B35"/>
<text class="s" transform="translate(1296,193.6) scale(1.28,1)" font-size="8.6">Organismal Systems</text>
</g>
<g id="panelC">
<text class="s" transform="translate(4.5,681.3)" font-size="34.6" style="fill:#000;stroke:none">C</text>
<line x1="97.2" y1="722.6" x2="97.2" y2="795.3" stroke="#e6e6e6" stroke-width="1"/>
<line x1="97.2" y1="832.5" x2="97.2" y2="906.5" stroke="#e6e6e6" stroke-width="1"/>
<line x1="199.67" y1="722.6" x2="199.67" y2="795.3" stroke="#e6e6e6" stroke-width="1"/>
<line x1="199.67" y1="832.5" x2="199.67" y2="906.5" stroke="#e6e6e6" stroke-width="1"/>
<line x1="302.13" y1="722.6" x2="302.13" y2="795.3" stroke="#e6e6e6" stroke-width="1"/>
<line x1="302.13" y1="832.5" x2="302.13" y2="906.5" stroke="#e6e6e6" stroke-width="1"/>
<line x1="404.6" y1="722.6" x2="404.6" y2="795.3" stroke="#e6e6e6" stroke-width="1"/>
<line x1="404.6" y1="832.5" x2="404.6" y2="906.5" stroke="#e6e6e6" stroke-width="1"/>
<line x1="94.2" y1="778.75" x2="464.02" y2="778.75" stroke="#e6e6e6" stroke-width="1"/>
<line x1="94.2" y1="770.1" x2="464.02" y2="770.1" stroke="#e6e6e6" stroke-width="1"/>
<line x1="94.2" y1="761.45" x2="464.02" y2="761.45" stroke="#e6e6e6" stroke-width="1"/>
<line x1="94.2" y1="752.8" x2="464.02" y2="752.8" stroke="#e6e6e6" stroke-width="1"/>
<line x1="94.2" y1="744.15" x2="464.02" y2="744.15" stroke="#e6e6e6" stroke-width="1"/>
<line x1="94.2" y1="735.5" x2="464.02" y2="735.5" stroke="#e6e6e6" stroke-width="1"/>
<line x1="94.2" y1="850.5" x2="464.02" y2="850.5" stroke="#e6e6e6" stroke-width="1"/>
<line x1="94.2" y1="863.6" x2="464.02" y2="863.6" stroke="#e6e6e6" stroke-width="1"/>
<line x1="94.2" y1="889.8" x2="464.02" y2="889.8" stroke="#e6e6e6" stroke-width="1"/>
<line x1="89.4" y1="787.4" x2="484.3" y2="787.4" stroke="#b0b0b0" stroke-width="1" stroke-dasharray="2,2"/>
<path d="M97.2,876.7 L97.2,840.81 L98.12,841.88 L98.43,849.19 L98.43,849.19 L98.43,849.19 L98.43,849.19 L98.43,849.19 L98.43,849.19 L98.43,849.19 L98.43,849.19 L98.43,849.19 L98.43,849.19 L98.43,849.19 L98.59,849.69 L98.78,850.3 L98.98,850.62 L99.18,850.8 L99.4,850.99 L99.62,851.18 L99.85,851.38 L100.09,851.59 L100.34,851.81 L100.6,852.03 L100.86,852.26 L101.13,852.5 L101.41,852.74 L101.69,852.98 L101.98,853.24 L102.28,853.5 L102.58,853.76 L102.89,854.03 L103.21,854.31 L103.53,854.57 L103.86,854.81 L104.2,855.06 L104.54,855.31 L104.89,855.56 L105.25,855.83 L105.61,856.09 L105.97,856.36 L106.35,856.63 L106.72,856.91 L107.11,857.19 L107.5,857.48 L107.89,857.77 L108.29,858.06 L108.7,858.36 L109.11,858.67 L109.53,858.97 L109.95,859.28 L110.38,859.6 L110.81,859.92 L111.25,860.24 L111.69,860.5 L112.14,860.62 L112.59,860.74 L113.05,860.87 L113.51,860.99 L113.98,861.12 L114.46,861.25 L114.94,861.38 L115.42,861.51 L115.91,861.64 L116.4,861.78 L116.9,861.91 L117.4,862.05 L117.91,862.18 L118.42,862.32 L118.94,862.46 L119.46,862.61 L119.98,862.75 L120.52,862.89 L121.05,863.04 L121.59,863.19 L122.13,863.33 L122.68,863.48 L123.24,863.63 L123.79,863.78 L124.36,863.94 L124.92,864.09 L125.49,864.25 L126.07,864.4 L126.65,864.56 L127.23,864.72 L127.82,864.88 L128.41,864.99 L129.01,865.09 L129.61,865.19 L130.22,865.3 L130.82,865.4 L131.44,865.51 L132.06,865.61 L132.68,865.72 L133.3,865.82 L133.93,865.93 L134.57,866.04 L135.2,866.15 L135.85,866.26 L136.49,866.37 L137.14,866.48 L137.8,866.59 L138.46,866.7 L139.12,866.82 L139.78,866.93 L140.45,867.04 L141.13,867.16 L141.81,867.27 L142.49,867.39 L143.17,867.51 L143.86,867.62 L144.55,867.74 L145.25,867.86 L145.95,867.98 L146.66,868.1 L147.37,868.22 L148.08,868.34 L148.79,868.46 L149.51,868.59 L150.24,868.71 L150.96,868.83 L151.69,868.96 L152.43,869.08 L153.17,869.21 L153.91,869.34 L154.66,869.46 L155.4,869.59 L156.16,869.72 L156.91,869.85 L157.67,869.98 L158.44,870.11 L159.2,870.19 L159.98,870.24 L160.75,870.3 L161.53,870.35 L162.31,870.41 L163.09,870.46 L163.88,870.52 L164.68,870.57 L165.47,870.63 L166.27,870.68 L167.07,870.74 L167.88,870.8 L168.69,870.85 L169.5,870.91 L170.32,870.97 L171.14,871.03 L171.96,871.08 L172.79,871.14 L173.62,871.2 L174.45,871.26 L175.29,871.32 L176.13,871.38 L176.97,871.44 L177.82,871.5 L178.67,871.56 L179.52,871.62 L180.38,871.68 L181.24,871.74 L182.1,871.8 L182.97,871.86 L183.84,871.92 L184.71,871.98 L185.59,872.04 L186.47,872.1 L187.35,872.17 L188.24,872.23 L189.13,872.29 L190.02,872.35 L190.92,872.42 L191.82,872.48 L192.72,872.54 L193.63,872.61 L194.54,872.67 L195.45,872.74 L196.36,872.8 L197.28,872.86 L198.2,872.93 L199.13,872.99 L200.06,873.04 L200.99,873.06 L201.92,873.08 L202.86,873.1 L203.8,873.12 L204.75,873.14 L205.69,873.16 L206.64,873.18 L207.6,873.2 L208.55,873.22 L209.51,873.24 L210.47,873.26 L211.44,873.28 L212.41,873.3 L213.38,873.32 L214.36,873.35 L215.33,873.37 L216.31,873.39 L217.3,873.41 L218.29,873.43 L219.28,873.45 L220.27,873.47 L221.26,873.49 L222.26,873.51 L223.27,873.53 L224.27,873.56 L225.28,873.58 L226.29,873.6 L227.3,873.62 L228.32,873.64 L229.34,873.66 L230.36,873.69 L231.39,873.71 L232.42,873.73 L233.45,873.75 L234.48,873.77 L235.52,873.8 L236.56,873.82 L237.61,873.84 L238.65,873.86 L239.7,873.89 L240.75,873.91 L241.81,873.93 L242.87,873.95 L243.93,873.98 L244.99,874 L246.06,874.02 L247.13,874.04 L248.2,874.07 L249.27,874.09 L250.35,874.11 L251.43,874.14 L252.52,874.16 L253.6,874.18 L254.69,874.2 L255.78,874.23 L256.88,874.25 L257.98,874.27 L259.08,874.3 L260.18,874.32 L261.29,874.34 L262.4,874.36 L263.51,874.38 L264.62,874.4 L265.74,874.42 L266.86,874.44 L267.99,874.46 L269.11,874.48 L270.24,874.5 L271.37,874.52 L272.51,874.54 L273.64,874.56 L274.78,874.57 L275.92,874.59 L277.07,874.61 L278.22,874.63 L279.37,874.65 L280.52,874.67 L281.68,874.69 L282.84,874.71 L284,874.73 L285.16,874.75 L286.33,874.77 L287.5,874.79 L288.67,874.81 L289.85,874.83 L291.03,874.85 L292.21,874.87 L293.39,874.89 L294.57,874.91 L295.76,874.93 L296.95,874.95 L298.15,874.97 L299.35,874.99 L300.54,875.01 L301.75,875.03 L302.95,875.05 L304.16,875.08 L305.37,875.1 L306.58,875.12 L307.8,875.14 L309.01,875.16 L310.23,875.18 L311.46,875.2 L312.68,875.22 L313.91,875.24 L315.14,875.26 L316.37,875.28 L317.61,875.3 L318.85,875.33 L320.09,875.35 L321.33,875.37 L322.58,875.39 L323.83,875.41 L325.08,875.44 L326.34,875.47 L327.59,875.49 L328.85,875.52 L330.11,875.54 L331.38,875.57 L332.65,875.6 L333.92,875.62 L335.19,875.65 L336.46,875.67 L337.74,875.7 L339.02,875.73 L340.3,875.75 L341.59,875.78 L342.88,875.8 L344.17,875.83 L345.46,875.86 L346.75,875.88 L348.05,875.91 L349.35,875.94 L350.65,875.96 L351.96,875.99 L353.27,876.02 L354.58,876.04 L355.89,876.07 L357.2,876.1 L358.52,876.12 L359.84,876.15 L361.17,876.18 L362.49,876.21 L363.82,876.23 L365.15,876.26 L366.48,876.29 L367.82,876.31 L369.15,876.34 L370.49,876.37 L371.84,876.4 L373.18,876.42 L374.53,876.47 L375.88,876.52 L377.23,876.58 L378.59,876.64 L379.94,876.7 L381.3,876.76 L382.67,876.81 L384.03,876.87 L385.4,876.93 L386.77,876.99 L388.14,877.05 L389.51,877.11 L390.89,877.16 L392.27,877.22 L393.65,877.28 L395.03,877.34 L396.42,877.4 L397.81,877.46 L399.2,877.52 L400.59,877.58 L401.99,877.64 L403.39,877.7 L404.79,877.76 L406.19,877.87 L407.6,877.98 L409.01,878.09 L410.42,878.19 L411.83,878.3 L413.25,878.41 L414.66,878.52 L416.08,878.63 L417.51,878.74 L418.93,878.85 L420.36,878.96 L421.79,879.07 L423.22,879.18 L424.65,879.29 L426.09,879.4 L427.53,879.51 L428.97,879.62 L430.41,879.73 L431.86,879.84 L433.31,879.95 L434.76,880.06 L436.21,880.24 L437.67,880.46 L439.13,880.69 L440.59,880.91 L442.05,881.14 L443.51,881.36 L444.98,881.59 L446.45,881.81 L447.92,882.04 L449.39,882.26 L450.87,882.49 L452.35,882.72 L453.83,882.94 L455.31,883.17 L456.8,883.56 L458.29,884.04 L459.78,884.51 L461.27,884.99 L462.76,885.47 L464.26,885.95 L465.76,886.42 L467.26,886.9 L468.77,888.12 L470.27,890.32 L471.78,892.52 L473.29,894.73 L474.81,896.94 L476.32,897.66 L476.32,876.7 Z" stroke="none" stroke-width="1" fill="#c9c9c9"/>
<line x1="89.4" y1="876.7" x2="484.3" y2="876.7" stroke="#b0b0b0" stroke-width="1" stroke-dasharray="2,2"/>
<path d="M98.55,796.3V801.84M100.52,796.3V801.84M101.47,796.3V801.84M104.39,796.3V801.84M107.43,796.3V801.84M108.46,796.3V801.84M112.54,796.3V801.84M113.74,796.3V801.84M114.07,796.3V801.84M114.99,796.3V801.84M117.94,796.3V801.84M119.79,796.3V801.84M121.39,796.3V801.84M124.98,796.3V801.84M128.93,796.3V801.84M130.24,796.3V801.84M131.07,796.3V801.84M135.43,796.3V801.84M137.95,796.3V801.84M140.12,796.3V801.84M143.93,796.3V801.84M147.18,796.3V801.84M147.4,796.3V801.84M149.14,796.3V801.84M152.3,796.3V801.84M152.65,796.3V801.84M152.99,796.3V801.84M154.16,796.3V801.84M171.16,796.3V801.84M175.04,796.3V801.84M194.81,796.3V801.84M203.88,796.3V801.84M223.25,796.3V801.84M224.91,796.3V801.84M233.6,796.3V801.84M252.49,796.3V801.84M256.36,796.3V801.84M259.73,796.3V801.84M270.32,796.3V801.84M295.05,796.3V801.84M295.82,796.3V801.84M303.37,796.3V801.84M303.98,796.3V801.84M348.11,796.3V801.84M351.79,796.3V801.84M370.43,796.3V801.84M381.81,796.3V801.84M384.58,796.3V801.84M395.06,796.3V801.84M401.31,796.3V801.84M414.94,796.3V801.84M438.83,796.3V801.84M442.32,796.3V801.84M448.72,796.3V801.84M455.68,796.3V801.84M455.95,796.3V801.84" stroke="#E64B35" stroke-width="1.8" fill="none"/>
<path d="M97.32,803.74V809.28M98.92,803.74V809.28M99.92,803.74V809.28M100.39,803.74V809.28M101.28,803.74V809.28M102.8,803.74V809.28M105.95,803.74V809.28M105.95,803.74V809.28M108.27,803.74V809.28M109.68,803.74V809.28M109.93,803.74V809.28M111.09,803.74V809.28M112.71,803.74V809.28M113.01,803.74V809.28M113.85,803.74V809.28M116.17,803.74V809.28M116.82,803.74V809.28M118.04,803.74V809.28M119.84,803.74V809.28M121.14,803.74V809.28M121.59,803.74V809.28M122.77,803.74V809.28M123.15,803.74V809.28M124.17,803.74V809.28M125.53,803.74V809.28M127.69,803.74V809.28M130.2,803.74V809.28M130.28,803.74V809.28M130.4,803.74V809.28M134.09,803.74V809.28M134.09,803.74V809.28M134.81,803.74V809.28M144.24,803.74V809.28M147.29,803.74V809.28M152.63,803.74V809.28M152.77,803.74V809.28M155.78,803.74V809.28M159.47,803.74V809.28M160.67,803.74V809.28M169.72,803.74V809.28M172.29,803.74V809.28M174.17,803.74V809.28M176.03,803.74V809.28M182.61,803.74V809.28M183.26,803.74V809.28M188.82,803.74V809.28M190.14,803.74V809.28M194.63,803.74V809.28M197.41,803.74V809.28M201.84,803.74V809.28M206.01,803.74V809.28M206.24,803.74V809.28M207.49,803.74V809.28M209.83,803.74V809.28M212.58,803.74V809.28M215.06,803.74V809.28M221.96,803.74V809.28M226.38,803.74V809.28M232.13,803.74V809.28M234.22,803.74V809.28M237.1,803.74V809.28M237.22,803.74V809.28M237.65,803.74V809.28M240.72,803.74V809.28M245.63,803.74V809.28M246.31,803.74V809.28M257.52,803.74V809.28M258.74,803.74V809.28M261.24,803.74V809.28M264.15,803.74V809.28M266.81,803.74V809.28M269.32,803.74V809.28M274.88,803.74V809.28M281.03,803.74V809.28M282.12,803.74V809.28M282.28,803.74V809.28M289.85,803.74V809.28M293.91,803.74V809.28M295.72,803.74V809.28M298.59,803.74V809.28M302.85,803.74V809.28M305.92,803.74V809.28M307.4,803.74V809.28M310.82,803.74V809.28M315.17,803.74V809.28M317.41,803.74V809.28M318.71,803.74V809.28M323.67,803.74V809.28M330.12,803.74V809.28M332.41,803.74V809.28M335.46,803.74V809.28M337.22,803.74V809.28M342.25,803.74V809.28M343.59,803.74V809.28M344.65,803.74V809.28M350.48,803.74V809.28M352.83,803.74V809.28M356.7,803.74V809.28M362.61,803.74V809.28M365.62,803.74V809.28M367.49,803.74V809.28M369.67,803.74V809.28M371.31,803.74V809.28M374.81,803.74V809.28M380.96,803.74V809.28M383.28,803.74V809.28M386.49,803.74V809.28M395.05,803.74V809.28M395.54,803.74V809.28M399.93,803.74V809.28M402.28,803.74V809.28M405.27,803.74V809.28M408.06,803.74V809.28M408.8,803.74V809.28M416.15,803.74V809.28M416.99,803.74V809.28M419.45,803.74V809.28M428.52,803.74V809.28M428.78,803.74V809.28M430.23,803.74V809.28M435.53,803.74V809.28M439.79,803.74V809.28M441.27,803.74V809.28M441.86,803.74V809.28M449.64,803.74V809.28M452.03,803.74V809.28M452.15,803.74V809.28M452.76,803.74V809.28M459.61,803.74V809.28M464.07,803.74V809.28M466.07,803.74V809.28M471.65,803.74V809.28" stroke="#4DBBD5" stroke-width="1.8" fill="none"/>
<path d="M97.89,811.18V816.72M100.6,811.18V816.72M102.14,811.18V816.72M104.69,811.18V816.72M107.68,811.18V816.72M109.54,811.18V816.72M110.12,811.18V816.72M110.52,811.18V816.72M113.89,811.18V816.72M114.08,811.18V816.72M114.45,811.18V816.72M115.76,811.18V816.72M121.95,811.18V816.72M122.74,811.18V816.72M124.6,811.18V816.72M125.41,811.18V816.72M127.32,811.18V816.72M128.54,811.18V816.72M132.72,811.18V816.72M133.77,811.18V816.72M134.16,811.18V816.72M136.69,811.18V816.72M139.74,811.18V816.72M140.77,811.18V816.72M141.24,811.18V816.72M141.47,811.18V816.72M142.88,811.18V816.72M146.37,811.18V816.72M148.43,811.18V816.72M151.57,811.18V816.72M169.31,811.18V816.72M170.99,811.18V816.72M173.1,811.18V816.72M178.83,811.18V816.72M182.42,811.18V816.72M201.31,811.18V816.72M207.76,811.18V816.72M209.16,811.18V816.72M218.45,811.18V816.72M223.89,811.18V816.72M240.52,811.18V816.72M241.94,811.18V816.72M245.76,811.18V816.72M250.45,811.18V816.72M253.35,811.18V816.72M256.62,811.18V816.72M261.15,811.18V816.72M265.07,811.18V816.72M284.56,811.18V816.72M291.44,811.18V816.72M291.59,811.18V816.72M302.77,811.18V816.72M310.68,811.18V816.72M311.91,811.18V816.72M312.75,811.18V816.72M323.03,811.18V816.72M334.71,811.18V816.72M340.2,811.18V816.72M348.96,811.18V816.72M354.51,811.18V816.72M356.54,811.18V816.72M363.31,811.18V816.72M370.17,811.18V816.72M380.61,811.18V816.72M384.29,811.18V816.72M394.85,811.18V816.72M397.29,811.18V816.72M407.62,811.18V816.72M415.62,811.18V816.72M416.56,811.18V816.72M426.18,811.18V816.72M427.53,811.18V816.72M429.43,811.18V816.72M445.98,811.18V816.72M453.64,811.18V816.72M453.69,811.18V816.72M464.06,811.18V816.72M468.52,811.18V816.72" stroke="#00A087" stroke-width="1.8" fill="none"/>
<path d="M99.08,818.62V824.16M99.28,818.62V824.16M99.6,818.62V824.16M101.26,818.62V824.16M103.79,818.62V824.16M104.01,818.62V824.16M104.1,818.62V824.16M107.57,818.62V824.16M109.38,818.62V824.16M110.98,818.62V824.16M111.52,818.62V824.16M112.48,818.62V824.16M112.71,818.62V824.16M114.29,818.62V824.16M115.37,818.62V824.16M116.53,818.62V824.16M117.81,818.62V824.16M120.63,818.62V824.16M123.38,818.62V824.16M124.83,818.62V824.16M124.96,818.62V824.16M125.3,818.62V824.16M127.36,818.62V824.16M128.35,818.62V824.16M129.91,818.62V824.16M130.02,818.62V824.16M130.17,818.62V824.16M130.85,818.62V824.16M133.78,818.62V824.16M133.81,818.62V824.16M137.14,818.62V824.16M137.49,818.62V824.16M137.51,818.62V824.16M140.43,818.62V824.16M140.87,818.62V824.16M144.43,818.62V824.16M145.2,818.62V824.16M145.4,818.62V824.16M146.73,818.62V824.16M147.79,818.62V824.16M148.46,818.62V824.16M150.61,818.62V824.16M151.84,818.62V824.16M152.34,818.62V824.16M154.78,818.62V824.16M155.96,818.62V824.16M156.26,818.62V824.16M159.18,818.62V824.16M159.71,818.62V824.16M161.82,818.62V824.16M165.09,818.62V824.16M165.72,818.62V824.16M165.84,818.62V824.16M167.45,818.62V824.16M168.5,818.62V824.16M168.93,818.62V824.16M173.63,818.62V824.16M178.63,818.62V824.16M180.07,818.62V824.16M182.16,818.62V824.16M187.86,818.62V824.16M193.53,818.62V824.16M193.64,818.62V824.16M197.71,818.62V824.16M198.11,818.62V824.16M203.03,818.62V824.16M205.84,818.62V824.16M206.36,818.62V824.16M208.41,818.62V824.16M210.54,818.62V824.16M213.71,818.62V824.16M217.18,818.62V824.16M223.99,818.62V824.16M224.91,818.62V824.16M227.99,818.62V824.16M234.18,818.62V824.16M235.98,818.62V824.16M241.25,818.62V824.16M244.07,818.62V824.16M244.76,818.62V824.16M246.35,818.62V824.16M252.43,818.62V824.16M255.5,818.62V824.16M255.59,818.62V824.16M257.09,818.62V824.16M260.27,818.62V824.16M272.81,818.62V824.16M273.39,818.62V824.16M279.07,818.62V824.16M279.62,818.62V824.16M280.81,818.62V824.16M283.75,818.62V824.16M285.66,818.62V824.16M285.72,818.62V824.16M289.72,818.62V824.16M292.95,818.62V824.16M295.99,818.62V824.16M303.38,818.62V824.16M304.97,818.62V824.16M307.62,818.62V824.16M309.79,818.62V824.16M317.8,818.62V824.16M320.29,818.62V824.16M320.67,818.62V824.16M323.99,818.62V824.16M324.11,818.62V824.16M325.7,818.62V824.16M332.58,818.62V824.16M336.65,818.62V824.16M338.13,818.62V824.16M340.62,818.62V824.16M343.11,818.62V824.16M349.89,818.62V824.16M352.86,818.62V824.16M354.12,818.62V824.16M356.07,818.62V824.16M356.62,818.62V824.16M363.32,818.62V824.16M365.72,818.62V824.16M371.85,818.62V824.16M373.71,818.62V824.16M379.33,818.62V824.16M380.21,818.62V824.16M382.47,818.62V824.16M385.14,818.62V824.16M388.22,818.62V824.16M391.12,818.62V824.16M394.14,818.62V824.16M395.38,818.62V824.16M400.39,818.62V824.16M406.55,818.62V824.16M410.82,818.62V824.16M414.48,818.62V824.16M416.86,818.62V824.16M418.48,818.62V824.16M419.76,818.62V824.16M422.72,818.62V824.16M425.17,818.62V824.16M427.2,818.62V824.16M431.44,818.62V824.16M449.45,818.62V824.16M459.89,818.62V824.16M465.7,818.62V824.16M468.78,818.62V824.16" stroke="#3C5488" stroke-width="1.8" fill="none"/>
<path d="M98.31,826.06V831.6M98.63,826.06V831.6M99.84,826.06V831.6M101.2,826.06V831.6M101.5,826.06V831.6M105.69,826.06V831.6M105.91,826.06V831.6M107.03,826.06V831.6M109.29,826.06V831.6M110.05,826.06V831.6M110.38,826.06V831.6M111.76,826.06V831.6M112.28,826.06V831.6M115.49,826.06V831.6M115.65,826.06V831.6M115.8,826.06V831.6M117.24,826.06V831.6M119.85,826.06V831.6M120.3,826.06V831.6M121.71,826.06V831.6M123.91,826.06V831.6M124.83,826.06V831.6M125.4,826.06V831.6M126.33,826.06V831.6M127.4,826.06V831.6M129.57,826.06V831.6M130.85,826.06V831.6M132.75,826.06V831.6M133.06,826.06V831.6M134.62,826.06V831.6M134.91,826.06V831.6M136,826.06V831.6M136.93,826.06V831.6M141.13,826.06V831.6M141.61,826.06V831.6M142.46,826.06V831.6M143.4,826.06V831.6M143.44,826.06V831.6M148.38,826.06V831.6M148.43,826.06V831.6M155.08,826.06V831.6M164.01,826.06V831.6M167.16,826.06V831.6M182.81,826.06V831.6M185.19,826.06V831.6M191,826.06V831.6M192.48,826.06V831.6M209.15,826.06V831.6M212.25,826.06V831.6M221.14,826.06V831.6M234.37,826.06V831.6M237.02,826.06V831.6M257.77,826.06V831.6M259.56,826.06V831.6M270.2,826.06V831.6M272.29,826.06V831.6M281,826.06V831.6M285.83,826.06V831.6M295.1,826.06V831.6M295.7,826.06V831.6M315.23,826.06V831.6M336.33,826.06V831.6M336.58,826.06V831.6M341.17,826.06V831.6M344.54,826.06V831.6M357.63,826.06V831.6M371.78,826.06V831.6M372.6,826.06V831.6M381.64,826.06V831.6M389.01,826.06V831.6M401.86,826.06V831.6M410.65,826.06V831.6M420.09,826.06V831.6M431.38,826.06V831.6M432.13,826.06V831.6M445.68,826.06V831.6M448.03,826.06V831.6M455.42,826.06V831.6M461.82,826.06V831.6M465.08,826.06V831.6" stroke="#F39B7F" stroke-width="1.8" fill="none"/>
<line x1="88.4" y1="802.74" x2="485.3" y2="802.74" stroke="#222" stroke-width="1.3"/>
<line x1="88.4" y1="810.18" x2="485.3" y2="810.18" stroke="#222" stroke-width="1.3"/>
<line x1="88.4" y1="817.62" x2="485.3" y2="817.62" stroke="#222" stroke-width="1.3"/>
<line x1="88.4" y1="825.06" x2="485.3" y2="825.06" stroke="#222" stroke-width="1.3"/>
<polyline points="97.2,787.4 98.66,783.61 100.11,779.47 100.27,778.68 101.57,777.02 103.02,774.54 103.35,774.29 104.48,773.78 105.93,772.66 107.41,772.26 108.86,771.94 110.32,771.27 111.55,770 111.77,769.56 113.23,767.42 114.68,765.25 116.16,763.28 117.61,761.77 117.69,761.67 119.07,758.45 120.52,755.37 121.79,752.62 121.98,753.02 123.43,752.42 124.89,751.14 126.36,750 127.82,749.71 129.27,748.79 129.99,748.66 130.73,747.85 132.18,747.6 133.64,746.41 135.11,746.02 136.57,745.13 138.02,744.45 138.19,744.68 139.48,743.85 140.93,742.17 142.39,741.52 143.84,740.57 144.33,740.22 145.32,738.85 146.77,737.78 148.23,736.13 149.68,734.25 150.48,733.36 151.14,733.41 152.59,732.59 154.07,732.2 155.52,732.13 156.98,731.38 158.43,731.05 158.68,730.71 159.89,730.73 161.34,730.69 162.8,730.97 164.27,731.76 165.73,731.9 167.18,732.46 168.64,732.58 170.09,732.39 171.55,732.57 173.02,733.15 174.48,733.57 175.93,733.84 177.39,733.58 178.84,733.56 180.3,734.08 181.75,734.32 183.23,734.69 184.68,735.04 186.14,735.25 187.59,735.51 189.05,735.56 190.5,735.74 191.98,735.89 193.44,736.1 194.89,736.46 196.35,736.83 197.8,736.87 199.26,737.24 199.67,737.39 200.71,737.48 202.19,737.57 203.64,737.88 205.1,738.16 206.55,738.46 208.01,738.83 209.46,738.93 210.94,739.24 212.39,739.51 213.85,739.79 215.3,740.11 216.76,740.18 218.21,740.34 219.67,740.75 221.14,740.92 222.6,741.16 224.05,741.32 225.51,741.66 226.96,742.01 228.42,742.15 229.89,742.41 231.35,742.6 232.8,743 234.26,743.42 235.71,743.65 237.17,744 238.62,744.18 240.1,744.42 241.55,744.75 243.01,745.02 244.46,745.33 245.92,745.6 247.37,745.7 248.85,746.04 250.3,746.41 251.76,746.45 253.21,746.63 254.67,746.92 256.12,747.14 257.58,747.54 259.05,747.93 260.51,748.22 261.96,748.39 263.42,748.6 264.87,748.83 266.33,749.15 267.8,749.32 269.26,749.54 270.71,749.88 272.17,750.12 273.62,750.31 275.08,750.71 276.53,750.82 278.01,751.07 279.46,751.3 280.92,751.57 282.37,751.99 283.83,752.2 285.28,752.57 286.76,752.79 288.22,753.15 289.67,753.41 291.13,753.52 292.58,753.77 294.04,753.99 295.49,754.26 296.97,754.51 298.42,754.62 299.88,754.79 301.33,755.24 302.13,755.41 302.79,755.57 304.24,755.69 305.72,756.15 307.17,756.4 308.63,756.63 310.08,756.82 311.54,757.12 312.99,757.39 314.45,757.77 315.92,758.03 317.38,758.44 318.83,758.82 320.29,759 321.74,759.4 323.2,759.67 324.67,759.74 326.13,760.08 327.58,760.34 329.04,760.53 330.49,760.74 331.95,761 333.4,761.37 334.88,761.64 336.33,762.07 337.79,762.32 339.24,762.49 340.7,762.96 342.15,763.36 343.63,763.44 345.08,763.61 346.54,764.08 347.99,764.26 349.45,764.65 350.9,764.94 352.36,765.22 353.83,765.48 355.29,765.75 356.74,766.01 358.2,766.27 359.65,766.7 361.11,766.92 362.58,767.19 364.04,767.43 365.49,767.74 366.95,768.11 368.4,768.27 369.86,768.61 371.31,768.75 372.79,769.04 374.24,769.28 375.7,769.68 377.15,769.88 378.61,770.12 380.06,770.35 381.54,770.82 383,771.14 384.45,771.54 385.91,771.84 387.36,772.03 388.82,772.23 390.27,772.39 391.75,772.68 393.2,773.05 394.66,773.26 396.11,773.59 397.57,773.81 399.02,774.19 400.5,774.51 401.95,774.84 403.41,775.04 404.6,775.14 404.86,775.2 406.32,775.51 407.77,775.82 409.23,776.06 410.7,776.34 412.16,776.46 413.61,776.84 415.07,776.94 416.52,777.13 417.98,777.33 419.45,777.73 420.91,778.11 422.36,778.19 423.82,778.57 425.27,778.61 426.73,778.84 428.18,778.98 429.66,779.29 431.11,779.62 432.57,779.78 434.02,779.93 435.48,780.34 436.93,780.56 438.41,780.84 439.86,780.97 441.32,781.39 441.48,781.42 442.77,780.38 443.53,779.68 444.23,779.67 445.68,780.06 447.14,780.46 448.61,780.94 450.07,781.19 451.52,781.43 452.98,781.94 454.43,782.17 455.89,782.55 457.36,783.1 458.82,783.28 460.27,783.64 461.73,783.98 463.18,784.43 464.64,784.94 466.09,785.31 467.57,785.72 469.02,786.09 470.48,786.43 471.93,786.82 473.39,787.16 474.85,787.49 475.3,787.4 476.32,787.4" fill="none" stroke="#E64B35" stroke-width="1.9" stroke-linejoin="round"/>
<polyline points="97.2,787.4 98.66,780.9 100.11,774.95 101.3,769.89 101.57,769.21 103.02,767.26 104.48,765.21 105.93,763.47 107.41,761.59 107.45,761.8 108.86,760.23 110.32,758.17 111.77,757 113.23,755.23 114.68,753.81 116.16,752.1 117.61,750.28 117.69,749.96 119.07,748.86 120.52,748.35 121.98,747.19 123.43,746.53 124.89,745.57 126.36,744.49 127.82,743.69 127.94,744.06 129.27,743.73 130.73,743.61 132.18,742.65 133.64,742.54 135.11,742.32 136.57,741.78 138.02,740.72 139.48,740.54 140.93,740.22 142.39,739.38 143.84,739.03 145.32,738.24 146.77,738.08 148.23,737.74 148.43,737.73 149.68,737.26 151.14,737.05 152.59,736.58 154.07,736.18 155.52,736.04 156.98,735.69 158.43,735.72 158.68,735.95 159.89,735.78 161.34,735.54 162.8,735.57 164.27,735.78 165.73,735.73 167.18,736.41 168.64,736.49 170.09,736.72 171.55,736.55 173.02,736.42 174.48,736.95 175.93,737.56 177.39,737.82 178.84,737.86 180.3,737.92 181.75,737.99 183.23,738.2 184.68,738.16 186.14,738.49 187.59,738.68 189.05,738.68 190.5,738.71 191.98,739.02 193.44,739.05 194.89,739.29 196.35,739.5 197.8,739.55 199.26,739.77 199.67,739.71 200.71,739.94 202.19,740.11 203.64,740.37 205.1,740.8 206.55,740.96 208.01,741.17 209.46,741.38 210.94,741.75 212.39,742.02 213.85,742.28 215.3,742.37 216.76,742.56 218.21,742.96 219.67,743.12 221.14,743.29 222.6,743.58 224.05,743.79 225.51,744.09 226.96,744.35 228.42,744.53 229.89,744.72 231.35,744.96 232.8,745.26 234.26,745.43 235.71,745.69 237.17,745.87 238.62,746.36 240.1,746.54 241.55,746.69 243.01,747.16 244.46,747.49 245.92,747.65 247.37,747.96 248.85,748.2 250.3,748.39 251.76,748.53 253.21,748.8 254.67,749.12 256.12,749.29 257.58,749.62 259.05,749.88 260.51,750.1 261.96,750.33 263.42,750.45 264.87,750.83 266.33,751.15 267.8,751.27 269.26,751.68 270.71,751.78 272.17,752.13 273.62,752.29 275.08,752.46 276.53,752.65 278.01,753.1 279.46,753.37 280.92,753.53 282.37,753.73 283.83,753.93 285.28,754.27 286.76,754.38 288.22,754.78 289.67,755.1 291.13,755.32 292.58,755.67 294.04,755.97 295.49,756.1 296.97,756.23 298.42,756.42 299.88,756.56 301.33,756.97 302.13,757.21 302.79,757.44 304.24,757.75 305.72,758.04 307.17,758.23 308.63,758.56 310.08,758.9 311.54,759.04 312.99,759.25 314.45,759.61 315.92,759.82 317.38,760.08 318.83,760.46 320.29,760.61 321.74,761.03 323.2,761.17 324.67,761.49 326.13,761.92 327.58,762.17 329.04,762.36 330.49,762.76 331.95,762.89 333.4,763.16 334.88,763.38 336.33,763.68 337.79,763.9 339.24,764.11 340.7,764.42 342.15,764.82 343.63,765.01 345.08,765.24 346.54,765.51 347.99,765.97 349.45,766.39 350.9,766.79 352.36,767.07 353.83,767.25 355.29,767.62 356.74,767.73 358.2,768.07 359.65,768.23 361.11,768.54 362.58,768.94 364.04,769.32 365.49,769.49 366.95,769.71 368.4,770 369.86,770.23 371.31,770.63 372.79,770.77 374.24,771.01 375.7,771.26 377.15,771.7 378.61,772.06 380.06,772.17 381.54,772.48 383,772.75 384.45,773.05 385.91,773.36 387.36,773.8 388.82,774.16 390.27,774.45 391.75,774.56 393.2,774.81 394.66,774.94 396.11,775.2 397.57,775.5 399.02,775.94 400.5,776.24 401.95,776.45 403.41,776.85 404.6,777 404.86,776.95 406.32,777.26 407.77,777.45 409.23,777.57 410.7,777.78 412.16,778.13 413.61,778.32 415.07,778.5 416.52,778.83 417.98,779.12 419.45,779.44 420.91,779.56 422.36,779.63 423.82,779.94 425.27,780.05 426.73,780.14 428.18,780.34 429.66,780.69 431.11,780.94 432.57,781.11 434.02,781.29 435.48,781.58 436.93,781.71 438.41,782.12 439.43,782.3 439.86,781.62 441.32,779.67 441.48,779.44 442.77,779.68 444.23,780.18 445.68,780.61 447.14,780.97 448.61,781.24 450.07,781.72 451.52,782.18 452.98,782.55 454.43,782.68 455.89,783.05 457.36,783.39 458.82,783.8 460.27,784.22 461.73,784.36 463.18,784.64 464.64,785.16 466.09,785.56 467.57,785.9 469.02,786.24 470.48,786.6 471.93,787.05 473.39,787.3 474.27,787.4 474.85,787.4 476.32,787.4" fill="none" stroke="#4DBBD5" stroke-width="1.9" stroke-linejoin="round"/>
<polyline points="97.2,787.4 98.66,781.32 100.11,775.48 101.3,770.28 101.57,769.4 103.02,767.75 104.48,765.83 105.93,763.66 107.41,761.97 107.45,762.07 108.86,760.65 110.32,759.24 111.77,757.23 113.23,755.85 114.68,754.71 116.16,753.29 117.61,751.2 117.69,751.43 119.07,750.3 120.52,749.37 121.98,748.65 123.43,747.35 124.89,745.95 126.36,745.04 127.82,744.18 127.94,744.45 129.27,743.76 130.73,743.54 132.18,742.75 133.64,742.43 135.11,742.46 136.57,741.94 138.02,741.97 139.48,741.63 140.93,740.78 142.39,740.43 143.84,739.66 145.32,739.44 146.77,739.08 148.23,738.55 148.43,738.26 149.68,737.93 151.14,737.55 152.59,737.58 154.07,737.88 155.52,737.82 156.63,737.23 156.98,737.21 158.43,737.31 159.89,737.45 161.34,738.04 162.8,737.89 164.27,737.65 165.73,737.53 167.18,737.98 168.64,737.87 170.09,738.48 171.55,738.8 173.02,739.11 174.48,739.46 175.93,739.02 177.39,739.13 178.84,739.64 180.3,739.73 181.75,739.95 183.23,740.14 184.68,740.25 186.14,740.42 187.59,740.43 189.05,740.44 190.5,740.67 191.98,740.91 193.44,740.96 194.89,741.22 196.35,741.21 197.8,741.37 199.26,741.65 199.67,741.58 200.71,741.75 202.19,742.05 203.64,742.26 205.1,742.55 206.55,742.78 208.01,742.91 209.46,743.06 210.94,743.27 212.39,743.55 213.85,743.83 215.3,743.94 216.76,744.27 218.21,744.58 219.67,744.85 221.14,745.06 222.6,745.21 224.05,745.46 225.51,745.77 226.96,745.87 228.42,746.25 229.89,746.41 231.35,746.73 232.8,746.87 234.26,747.1 235.71,747.47 237.17,747.62 238.62,747.72 240.1,747.91 241.55,748.28 243.01,748.63 244.46,748.95 245.92,749.08 247.37,749.35 248.85,749.67 250.3,749.86 251.76,750.06 253.21,750.3 254.67,750.35 256.12,750.53 257.58,750.74 259.05,750.93 260.51,751.37 261.96,751.68 263.42,751.82 264.87,752.04 266.33,752.33 267.8,752.42 269.26,752.61 270.71,753.04 272.17,753.13 273.62,753.45 275.08,753.75 276.53,753.92 278.01,754 279.46,754.34 280.92,754.54 282.37,754.76 283.83,755.05 285.28,755.16 286.76,755.32 288.22,755.78 289.67,755.89 291.13,756.04 292.58,756.22 294.04,756.44 295.49,756.69 296.97,757.03 298.42,757.26 299.88,757.67 301.33,758 302.13,757.93 302.79,758.09 304.24,758.52 305.72,758.68 307.17,759.08 308.63,759.36 310.08,759.55 311.54,759.97 312.99,760.1 314.45,760.57 315.92,760.79 317.38,761.16 318.83,761.49 320.29,761.59 321.74,761.81 323.2,762.11 324.67,762.38 326.13,762.79 327.58,763.25 329.04,763.47 330.49,763.75 331.95,764.15 333.4,764.36 334.88,764.65 336.33,764.89 337.79,765.07 339.24,765.36 340.7,765.7 342.15,765.89 343.63,766.24 345.08,766.52 346.54,766.76 347.99,767.19 349.45,767.57 350.9,767.82 352.36,768.11 353.83,768.37 355.29,768.63 356.74,769.01 358.2,769.23 359.65,769.59 361.11,769.96 362.58,770.27 364.04,770.52 365.49,770.82 366.95,771.11 368.4,771.41 369.86,771.6 371.31,771.93 372.79,772.34 374.24,772.47 375.7,772.9 377.15,773.16 378.61,773.5 380.06,773.71 381.54,774.19 383,774.57 384.45,774.64 385.91,774.84 387.36,775.14 388.82,775.37 390.27,775.78 391.75,776.14 393.2,776.52 394.66,776.78 396.11,776.97 397.57,777.17 399.02,777.47 400.5,777.84 401.95,778.09 403.41,778.48 404.6,778.78 404.86,778.67 406.32,778.84 407.77,779.12 409.23,779.3 410.7,779.64 412.16,779.72 413.61,780.07 415.07,780.33 416.52,780.56 417.98,780.74 419.45,780.89 420.91,781.06 422.36,781.31 423.82,781.61 425.27,781.77 426.73,781.94 428.18,782.23 429.66,782.51 431.11,782.74 432.57,782.88 434.02,783.05 435.48,783.2 436.93,783.53 438.41,783.64 439.43,783.86 439.86,783.42 441.32,781.71 441.48,781.3 442.77,781.66 444.23,781.93 445.68,782.28 447.14,782.35 448.61,782.77 450.07,783.12 451.52,783.25 452.98,783.4 454.43,783.73 455.89,784.03 457.36,784.2 458.82,784.51 460.27,784.93 461.73,785.23 463.18,785.56 464.64,785.63 466.09,785.85 467.57,786.14 469.02,786.47 470.48,786.8 471.93,787.05 473.39,787.35 474.27,787.4 474.85,787.4 476.32,787.4" fill="none" stroke="#00A087" stroke-width="1.9" stroke-linejoin="round"/>
<polyline points="97.2,787.4 98.66,781.33 100.11,775.32 101.3,769.83 101.57,769.89 103.02,767.45 104.48,765.18 105.93,762.89 107.41,761.15 107.45,761.43 108.86,759.89 110.32,758.08 111.77,756.93 113.23,755.25 114.68,754.17 116.16,753.01 117.61,751.58 117.69,751.5 119.07,750.52 120.52,749.84 121.98,748.61 123.43,747.93 124.89,746.6 126.36,746.24 127.82,745.43 127.94,744.86 129.27,744.65 130.73,744.78 132.18,743.91 133.64,744.05 135.11,743.54 136.57,743.52 138.02,743.05 139.48,742.86 140.93,742.38 142.39,742.41 143.84,741.67 145.32,740.97 146.77,741.2 148.23,740.66 148.43,740.94 149.68,740.8 151.14,740.3 152.59,739.42 154.07,739.06 155.52,738.31 156.63,737.49 156.98,737.36 158.43,737.25 159.89,737.6 161.34,737.65 162.8,737.97 164.27,737.85 165.73,737.74 167.18,737.71 168.64,738.31 170.09,738.4 171.55,738.31 173.02,738.82 174.48,738.7 175.93,738.94 177.39,738.84 178.84,739.06 180.3,739.08 181.75,739.21 183.23,739.27 184.68,739.49 186.14,739.75 187.59,739.73 189.05,739.81 190.5,739.92 191.98,740.15 193.44,740.37 194.89,740.55 196.35,740.59 197.8,740.53 199.26,740.54 199.67,740.59 200.71,740.85 202.19,741.09 203.64,741.44 205.1,741.76 206.55,742.04 208.01,742.27 209.46,742.52 210.94,742.52 212.39,742.68 213.85,742.97 215.3,743.1 216.76,743.28 218.21,743.44 219.67,743.69 221.14,743.87 222.6,744.2 224.05,744.41 225.51,744.64 226.96,744.8 228.42,745.08 229.89,745.54 231.35,745.82 232.8,746 234.26,746.25 235.71,746.44 237.17,746.58 238.62,746.8 240.1,747.11 241.55,747.24 243.01,747.51 244.46,747.8 245.92,747.93 247.37,748.26 248.85,748.53 250.3,748.8 251.76,749.1 253.21,749.18 254.67,749.56 256.12,749.83 257.58,749.95 259.05,750.1 260.51,750.5 261.96,750.67 263.42,750.9 264.87,751.11 266.33,751.34 267.8,751.53 269.26,751.75 270.71,751.91 272.17,752.16 273.62,752.53 275.08,752.67 276.53,752.89 278.01,753.32 279.46,753.45 280.92,753.61 282.37,753.98 283.83,754.15 285.28,754.29 286.76,754.69 288.22,754.9 289.67,754.99 291.13,755.34 292.58,755.7 294.04,755.84 295.49,756.17 296.97,756.26 298.42,756.62 299.88,756.75 301.33,757.12 302.13,757.25 302.79,757.47 304.24,757.65 305.72,757.95 307.17,758.17 308.63,758.46 310.08,758.77 311.54,759.02 312.99,759.2 314.45,759.43 315.92,759.91 317.38,760.26 318.83,760.61 320.29,760.79 321.74,761.2 323.2,761.52 324.67,761.84 326.13,762.16 327.58,762.53 329.04,762.85 330.49,763.05 331.95,763.16 333.4,763.37 334.88,763.76 336.33,764.06 337.79,764.42 339.24,764.7 340.7,764.94 342.15,765.31 343.63,765.65 345.08,765.9 346.54,766.24 347.99,766.58 349.45,766.93 350.9,767.09 352.36,767.33 353.83,767.74 355.29,768.1 356.74,768.27 358.2,768.43 359.65,768.86 361.11,769.18 362.58,769.31 364.04,769.66 365.49,769.89 366.95,770.17 368.4,770.63 369.86,770.81 371.31,771.17 372.79,771.43 374.24,771.62 375.7,771.85 377.15,772.13 378.61,772.44 380.06,772.89 381.54,773.2 383,773.51 384.45,773.91 385.91,774.25 387.36,774.37 388.82,774.65 390.27,774.95 391.75,775.15 393.2,775.41 394.66,775.71 396.11,776.08 397.57,776.52 399.02,776.75 400.5,777.17 401.95,777.56 403.41,777.82 404.6,778.03 404.86,778.07 406.32,778.23 407.77,778.32 409.23,778.55 410.7,778.68 412.16,778.82 413.61,779.18 415.07,779.53 416.52,779.77 417.98,780.03 419.45,780.09 420.91,780.38 422.36,780.49 423.82,780.61 425.27,780.77 426.73,781.05 428.18,781.45 429.66,781.74 431.11,782.05 432.57,782.14 434.02,782.43 435.48,782.68 436.93,782.92 438.41,783.05 439.43,783.15 439.86,782.84 441.32,781.7 441.48,781.34 442.77,781.67 444.23,781.8 445.68,782.21 447.14,782.49 448.61,782.66 450.07,782.79 451.52,783.24 452.98,783.57 454.43,783.66 455.89,784.05 457.36,784.32 458.82,784.56 460.27,784.91 461.73,785.26 463.18,785.5 464.64,785.84 466.09,785.9 467.57,786.26 469.02,786.38 470.48,786.56 471.93,786.8 473.39,787.05 474.27,787.4 474.85,787.4 476.32,787.4" fill="none" stroke="#3C5488" stroke-width="1.9" stroke-linejoin="round"/>
<polyline points="97.2,787.4 98.66,780.42 100.11,773.6 101.3,768.24 101.57,767.57 103.02,764.44 104.48,760.77 105.93,757.29 107.41,754.65 107.45,754.22 108.86,752.15 110.32,750.15 111.77,748.46 113.23,747.06 114.68,745.18 115.64,744.11 116.16,743.74 117.61,743.09 119.07,742.22 120.52,741.72 121.79,741.34 121.98,741.65 123.43,741.49 124.89,740.76 126.36,740.35 127.82,740.03 129.27,739.43 130.73,739.51 132.18,739 133.64,738.67 135.11,738.86 136.57,738.85 138.02,738.32 138.19,738.52 139.48,737.99 140.93,737.76 142.39,737.02 143.84,737.18 145.32,736.72 146.77,736.74 148.23,736.64 149.68,735.83 150.48,735.29 151.14,735.48 152.59,734.88 154.07,734.98 155.52,734.52 156.98,733.81 158.43,734.02 158.68,733.6 159.89,733.87 161.34,734.16 162.8,734.58 164.27,734.69 165.73,735.07 167.18,734.85 168.64,735.03 170.09,735.48 171.55,735.27 173.02,735.29 174.48,735.85 175.93,735.73 177.39,735.62 178.84,736.09 180.3,736.11 181.75,736.27 183.23,736.42 184.68,736.55 186.14,736.55 187.59,736.63 189.05,736.86 190.5,736.95 191.98,737.26 193.44,737.49 194.89,737.6 196.35,737.63 197.8,737.72 199.26,737.9 199.67,738.03 200.71,738.15 202.19,738.45 203.64,738.82 205.1,739.17 206.55,739.41 208.01,739.56 209.46,739.77 210.94,740.09 212.39,740.37 213.85,740.69 215.3,740.93 216.76,741.21 218.21,741.26 219.67,741.41 221.14,741.8 222.6,742.03 224.05,742.37 225.51,742.69 226.96,742.81 228.42,743.06 229.89,743.3 231.35,743.39 232.8,743.65 234.26,743.9 235.71,744.05 237.17,744.21 238.62,744.48 240.1,744.95 241.55,745.14 243.01,745.49 244.46,745.84 245.92,746.08 247.37,746.15 248.85,746.37 250.3,746.63 251.76,746.79 253.21,746.94 254.67,747.2 256.12,747.62 257.58,747.76 259.05,747.94 260.51,748.4 261.96,748.73 263.42,749.05 264.87,749.26 266.33,749.53 267.8,749.8 269.26,749.85 270.71,750.17 272.17,750.38 273.62,750.54 275.08,750.89 276.53,751.19 278.01,751.37 279.46,751.47 280.92,751.82 282.37,752.01 283.83,752.13 285.28,752.4 286.76,752.66 288.22,753.03 289.67,753.28 291.13,753.41 292.58,753.85 294.04,753.99 295.49,754.3 296.97,754.6 298.42,754.67 299.88,755.11 301.33,755.41 302.13,755.5 302.79,755.65 304.24,755.91 305.72,756.22 307.17,756.34 308.63,756.59 310.08,756.98 311.54,757.2 312.99,757.65 314.45,757.89 315.92,758.07 317.38,758.48 318.83,758.68 320.29,758.89 321.74,759.4 323.2,759.63 324.67,759.98 326.13,760.38 327.58,760.59 329.04,760.9 330.49,761.27 331.95,761.51 333.4,761.84 334.88,762.04 336.33,762.36 337.79,762.77 339.24,763.13 340.7,763.44 342.15,763.77 343.63,763.99 345.08,764.2 346.54,764.53 347.99,764.82 349.45,765.09 350.9,765.39 352.36,765.61 353.83,765.94 355.29,766.2 356.74,766.51 358.2,766.71 359.65,766.95 361.11,767.16 362.58,767.59 364.04,768.04 365.49,768.14 366.95,768.62 368.4,768.92 369.86,769.26 371.31,769.61 372.79,769.78 374.24,770.15 375.7,770.35 377.15,770.57 378.61,770.98 380.06,771.26 381.54,771.55 383,771.84 384.45,772.21 385.91,772.38 387.36,772.8 388.82,773.03 390.27,773.42 391.75,773.65 393.2,773.96 394.66,774.06 396.11,774.31 397.57,774.72 399.02,774.96 400.5,775.3 401.95,775.7 403.41,775.82 404.6,776.17 404.86,776.13 406.32,776.5 407.77,776.66 409.23,776.75 410.7,777.05 412.16,777.39 413.61,777.59 415.07,777.59 416.52,777.67 417.98,777.89 419.45,778.19 420.91,778.4 422.36,778.53 423.82,778.77 425.27,779.08 426.73,779.21 428.18,779.35 429.66,779.49 431.11,779.91 432.57,780.03 434.02,780.25 435.48,780.5 436.93,780.81 438.41,781.05 439.86,781.28 441.32,781.55 441.48,781.35 442.77,781.74 444.23,781.97 445.68,782.22 447.14,782.47 448.61,782.82 450.07,782.92 451.52,783.16 452.98,783.5 454.43,783.62 455.89,783.95 457.36,784.1 458.82,784.52 460.27,784.66 461.73,785.06 463.18,785.47 464.64,785.56 466.09,785.8 467.57,786.22 469.02,786.55 470.48,786.89 471.93,786.96 473.39,787.28 474.27,787.4 474.85,787.4 476.32,787.4" fill="none" stroke="#F39B7F" stroke-width="1.9" stroke-linejoin="round"/>
<line x1="88.4" y1="721.6" x2="485.3" y2="721.6" stroke="#333" stroke-width="1.5"/>
<line x1="485.3" y1="721.6" x2="485.3" y2="906.5" stroke="#333" stroke-width="1.5"/>
<line x1="88.4" y1="906.5" x2="485.3" y2="906.5" stroke="#111" stroke-width="1.8"/>
<line x1="88.4" y1="721.6" x2="88.4" y2="906.5" stroke="#111" stroke-width="1.8"/>
<line x1="88.4" y1="795.3" x2="485.3" y2="795.3" stroke="#111" stroke-width="1.8"/>
<line x1="88.4" y1="832.5" x2="485.3" y2="832.5" stroke="#111" stroke-width="1.8"/>
<line x1="83.8" y1="787.4" x2="88.4" y2="787.4" stroke="#222" stroke-width="1.3"/>
<text class="s" transform="translate(81.8,790.9)" font-size="10.4" text-anchor="end">0.0</text>
<line x1="83.8" y1="778.75" x2="88.4" y2="778.75" stroke="#222" stroke-width="1.3"/>
<text class="s" transform="translate(81.8,782.25)" font-size="10.4" text-anchor="end">0.1</text>
<line x1="83.8" y1="770.1" x2="88.4" y2="770.1" stroke="#222" stroke-width="1.3"/>
<text class="s" transform="translate(81.8,773.6)" font-size="10.4" text-anchor="end">0.2</text>
<line x1="83.8" y1="761.45" x2="88.4" y2="761.45" stroke="#222" stroke-width="1.3"/>
<text class="s" transform="translate(81.8,764.95)" font-size="10.4" text-anchor="end">0.3</text>
<line x1="83.8" y1="752.8" x2="88.4" y2="752.8" stroke="#222" stroke-width="1.3"/>
<text class="s" transform="translate(81.8,756.3)" font-size="10.4" text-anchor="end">0.4</text>
<line x1="83.8" y1="744.15" x2="88.4" y2="744.15" stroke="#222" stroke-width="1.3"/>
<text class="s" transform="translate(81.8,747.65)" font-size="10.4" text-anchor="end">0.5</text>
<line x1="83.8" y1="735.5" x2="88.4" y2="735.5" stroke="#222" stroke-width="1.3"/>
<text class="s" transform="translate(81.8,739)" font-size="10.4" text-anchor="end">0.6</text>
<line x1="83.8" y1="730.4" x2="88.4" y2="730.4" stroke="#222" stroke-width="1.3"/>
<line x1="83.8" y1="850.5" x2="88.4" y2="850.5" stroke="#222" stroke-width="1.3"/>
<text class="s" transform="translate(81.8,854)" font-size="10.4" text-anchor="end">1.0</text>
<line x1="83.8" y1="863.6" x2="88.4" y2="863.6" stroke="#222" stroke-width="1.3"/>
<text class="s" transform="translate(81.8,867.1)" font-size="10.4" text-anchor="end">0.5</text>
<line x1="83.8" y1="876.7" x2="88.4" y2="876.7" stroke="#222" stroke-width="1.3"/>
<text class="s" transform="translate(81.8,880.2)" font-size="10.4" text-anchor="end">0.0</text>
<line x1="83.8" y1="889.8" x2="88.4" y2="889.8" stroke="#222" stroke-width="1.3"/>
<text class="s" transform="translate(81.8,893.3)" font-size="10.4" text-anchor="end">−0.5</text>
<line x1="83.8" y1="840.7" x2="88.4" y2="840.7" stroke="#222" stroke-width="1.3"/>
<line x1="83.8" y1="898" x2="88.4" y2="898" stroke="#222" stroke-width="1.3"/>
<line x1="97.2" y1="906.5" x2="97.2" y2="911" stroke="#222" stroke-width="1.3"/>
<text class="s" transform="translate(97.2,922.3)" font-size="10.4" text-anchor="middle">0</text>
<line x1="199.67" y1="906.5" x2="199.67" y2="911" stroke="#222" stroke-width="1.3"/>
<text class="s" transform="translate(199.67,922.3)" font-size="10.4" text-anchor="middle">5,000</text>
<line x1="302.13" y1="906.5" x2="302.13" y2="911" stroke="#222" stroke-width="1.3"/>
<text class="s" transform="translate(302.13,922.3)" font-size="10.4" text-anchor="middle">10,000</text>
<line x1="404.6" y1="906.5" x2="404.6" y2="911" stroke="#222" stroke-width="1.3"/>
<text class="s" transform="translate(404.6,922.3)" font-size="10.4" text-anchor="middle">15,000</text>
<line x1="476.32" y1="906.5" x2="476.32" y2="911" stroke="#222" stroke-width="1.3"/>
<text class="s" transform="translate(286.6,934.6)" font-size="10.3" text-anchor="middle">Rank in Ordered DataSet</text>
<text class="s" transform="translate(293.2,712)" font-size="16.6" text-anchor="middle" style="stroke-width:0.1px">SLC2A3</text>
<text class="s" transform="translate(52.8,759.4) rotate(-90)" font-size="10.3" text-anchor="middle">Enrichment</text>
<text class="s" transform="translate(64.3,759.4) rotate(-90)" font-size="10.3" text-anchor="middle">score</text>
<text class="s" transform="translate(47.1,869) rotate(-90)" font-size="10.3" text-anchor="middle">Ranked list</text>
<text class="s" transform="translate(57.9,869) rotate(-90)" font-size="10.3" text-anchor="middle">metric</text>
<text class="s" transform="translate(101.7,849.8)" font-size="10.3">H</text>
<text class="s" transform="translate(463.8,898.6)" font-size="10.3">L</text>
<line x1="88.6" y1="942.1" x2="94.5" y2="942.1" stroke="#E64B35" stroke-width="1.8"/>
<text class="s" transform="translate(97.1,946.5)" font-size="10.27">RENAL_CELL_CARCINOMA(ES=0.6559,NP=0.0000)</text>
<line x1="88.6" y1="959.2" x2="94.5" y2="959.2" stroke="#4DBBD5" stroke-width="1.8"/>
<text class="s" transform="translate(97.1,963.6)" font-size="10.27">CHEMOKINE_SIGNALING_PATHWAY(ES=0.5994,NP=0.0000)</text>
<line x1="88.6" y1="976.3" x2="94.5" y2="976.3" stroke="#00A087" stroke-width="1.8"/>
<text class="s" transform="translate(97.1,980.7)" font-size="10.27">ERBB_SIGNALING_PATHWAY(ES=0.5797,NP=0.0000)</text>
<line x1="88.6" y1="993.4" x2="94.5" y2="993.4" stroke="#3C5488" stroke-width="1.8"/>
<text class="s" transform="translate(97.1,997.8)" font-size="10.27">REGULATION_OF_ACTIN_CYTOSKELETON(ES=0.5753,NP=0.0000)</text>
<line x1="88.6" y1="1010.5" x2="94.5" y2="1010.5" stroke="#F39B7F" stroke-width="1.8"/>
<text class="s" transform="translate(97.1,1014.9)" font-size="10.27">TOLL_LIKE_RECEPTOR_SIGNALING_PATHWAY(ES=0.6230,NP=0.0000)</text>
<line x1="615.4" y1="721.7" x2="615.4" y2="793.4" stroke="#e6e6e6" stroke-width="1"/>
<line x1="615.4" y1="830.5" x2="615.4" y2="903.1" stroke="#e6e6e6" stroke-width="1"/>
<line x1="716.84" y1="721.7" x2="716.84" y2="793.4" stroke="#e6e6e6" stroke-width="1"/>
<line x1="716.84" y1="830.5" x2="716.84" y2="903.1" stroke="#e6e6e6" stroke-width="1"/>
<line x1="818.27" y1="721.7" x2="818.27" y2="793.4" stroke="#e6e6e6" stroke-width="1"/>
<line x1="818.27" y1="830.5" x2="818.27" y2="903.1" stroke="#e6e6e6" stroke-width="1"/>
<line x1="919.7" y1="721.7" x2="919.7" y2="793.4" stroke="#e6e6e6" stroke-width="1"/>
<line x1="919.7" y1="830.5" x2="919.7" y2="903.1" stroke="#e6e6e6" stroke-width="1"/>
<line x1="612.4" y1="765.7" x2="978.54" y2="765.7" stroke="#e6e6e6" stroke-width="1"/>
<line x1="612.4" y1="751.1" x2="978.54" y2="751.1" stroke="#e6e6e6" stroke-width="1"/>
<line x1="612.4" y1="736.5" x2="978.54" y2="736.5" stroke="#e6e6e6" stroke-width="1"/>
<line x1="612.4" y1="848.6" x2="978.54" y2="848.6" stroke="#e6e6e6" stroke-width="1"/>
<line x1="612.4" y1="859.9" x2="978.54" y2="859.9" stroke="#e6e6e6" stroke-width="1"/>
<line x1="612.4" y1="882.5" x2="978.54" y2="882.5" stroke="#e6e6e6" stroke-width="1"/>
<line x1="612.4" y1="893.8" x2="978.54" y2="893.8" stroke="#e6e6e6" stroke-width="1"/>
<line x1="608.3" y1="780.3" x2="998.5" y2="780.3" stroke="#b0b0b0" stroke-width="1" stroke-dasharray="2,2"/>
<path d="M615.4,871.2 L615.4,838.43 L616.31,839.41 L616.62,846.91 L616.62,846.91 L616.62,846.91 L616.62,846.91 L616.62,846.91 L616.62,846.91 L616.62,846.91 L616.62,846.91 L616.62,846.91 L616.62,846.91 L616.62,846.91 L616.78,847.25 L616.97,847.64 L617.17,848.05 L617.37,848.48 L617.59,848.69 L617.81,848.81 L618.04,848.94 L618.28,849.07 L618.53,849.21 L618.78,849.35 L619.04,849.5 L619.31,849.65 L619.59,849.8 L619.87,849.96 L620.16,850.12 L620.45,850.28 L620.76,850.45 L621.07,850.63 L621.38,850.8 L621.7,850.98 L622.03,851.16 L622.37,851.35 L622.71,851.54 L623.05,851.73 L623.41,851.93 L623.77,852.11 L624.13,852.28 L624.5,852.45 L624.88,852.62 L625.26,852.8 L625.65,852.98 L626.04,853.16 L626.44,853.35 L626.84,853.54 L627.25,853.73 L627.67,853.92 L628.09,854.11 L628.51,854.31 L628.95,854.51 L629.38,854.71 L629.82,854.92 L630.27,855.13 L630.72,855.33 L631.18,855.55 L631.64,855.76 L632.1,855.98 L632.58,856.2 L633.05,856.42 L633.53,856.64 L634.02,856.87 L634.51,857.09 L635.01,857.32 L635.51,857.56 L636.01,857.72 L636.52,857.84 L637.03,857.97 L637.55,858.1 L638.08,858.23 L638.61,858.36 L639.14,858.49 L639.68,858.62 L640.22,858.75 L640.76,858.88 L641.31,859.02 L641.87,859.16 L642.43,859.29 L642.99,859.43 L643.56,859.57 L644.13,859.71 L644.71,859.85 L645.29,859.99 L645.88,860.14 L646.47,860.28 L647.06,860.43 L647.66,860.57 L648.26,860.72 L648.87,860.87 L649.48,861.02 L650.09,861.17 L650.71,861.32 L651.33,861.47 L651.96,861.63 L652.59,861.78 L653.23,861.94 L653.87,862.1 L654.51,862.25 L655.16,862.41 L655.81,862.57 L656.46,862.7 L657.12,862.82 L657.78,862.93 L658.45,863.05 L659.12,863.17 L659.8,863.29 L660.47,863.41 L661.16,863.54 L661.84,863.66 L662.53,863.78 L663.23,863.9 L663.92,864.03 L664.62,864.15 L665.33,864.28 L666.04,864.41 L666.75,864.53 L667.47,864.66 L668.19,864.79 L668.91,864.92 L669.64,865.05 L670.37,865.18 L671.1,865.31 L671.84,865.44 L672.59,865.57 L673.33,865.71 L674.08,865.84 L674.83,865.97 L675.59,866.11 L676.35,866.24 L677.11,866.34 L677.88,866.44 L678.65,866.55 L679.43,866.65 L680.2,866.76 L680.98,866.86 L681.77,866.96 L682.56,867.07 L683.35,867.18 L684.15,867.28 L684.94,867.39 L685.75,867.5 L686.55,867.6 L687.36,867.71 L688.17,867.82 L688.99,867.93 L689.81,868.04 L690.63,868.15 L691.46,868.26 L692.29,868.37 L693.12,868.48 L693.96,868.59 L694.8,868.71 L695.64,868.82 L696.49,868.93 L697.33,869.05 L698.19,869.17 L699.04,869.29 L699.9,869.41 L700.77,869.53 L701.63,869.65 L702.5,869.77 L703.37,869.89 L704.25,870.01 L705.13,870.13 L706.01,870.26 L706.9,870.38 L707.79,870.5 L708.68,870.63 L709.57,870.75 L710.47,870.88 L711.37,871 L712.28,871.13 L713.19,871.23 L714.1,871.29 L715.01,871.35 L715.93,871.4 L716.85,871.46 L717.77,871.52 L718.7,871.58 L719.63,871.65 L720.56,871.71 L721.5,871.77 L722.44,871.83 L723.38,871.89 L724.33,871.95 L725.28,872.01 L726.23,872.07 L727.18,872.14 L728.14,872.2 L729.1,872.26 L730.07,872.32 L731.03,872.39 L732,872.45 L732.98,872.51 L733.95,872.58 L734.93,872.64 L735.92,872.7 L736.9,872.77 L737.89,872.8 L738.88,872.82 L739.88,872.84 L740.87,872.87 L741.87,872.89 L742.88,872.91 L743.88,872.93 L744.89,872.96 L745.9,872.98 L746.92,873 L747.94,873.02 L748.96,873.05 L749.98,873.07 L751.01,873.09 L752.04,873.11 L753.07,873.14 L754.11,873.16 L755.15,873.18 L756.19,873.21 L757.23,873.23 L758.28,873.25 L759.33,873.28 L760.38,873.3 L761.44,873.32 L762.5,873.35 L763.56,873.37 L764.62,873.39 L765.69,873.42 L766.76,873.44 L767.83,873.47 L768.91,873.49 L769.99,873.51 L771.07,873.54 L772.15,873.56 L773.24,873.59 L774.33,873.61 L775.42,873.64 L776.52,873.66 L777.62,873.68 L778.72,873.71 L779.82,873.73 L780.93,873.76 L782.04,873.78 L783.15,873.81 L784.26,873.83 L785.38,873.86 L786.5,873.88 L787.63,873.91 L788.75,873.93 L789.88,873.96 L791.01,873.98 L792.15,874.01 L793.28,874.03 L794.42,874.06 L795.57,874.08 L796.71,874.11 L797.86,874.14 L799.01,874.16 L800.16,874.19 L801.32,874.21 L802.48,874.24 L803.64,874.26 L804.81,874.29 L805.97,874.32 L807.14,874.34 L808.31,874.37 L809.49,874.39 L810.67,874.42 L811.85,874.45 L813.03,874.47 L814.22,874.5 L815.4,874.53 L816.59,874.55 L817.79,874.58 L818.98,874.61 L820.18,874.63 L821.39,874.66 L822.59,874.69 L823.8,874.71 L825.01,874.74 L826.22,874.77 L827.43,874.79 L828.65,874.82 L829.87,874.85 L831.09,874.88 L832.32,874.9 L833.54,874.93 L834.77,874.96 L836.01,874.99 L837.24,875.01 L838.48,875.04 L839.72,875.07 L840.96,875.1 L842.21,875.12 L843.46,875.15 L844.71,875.18 L845.96,875.21 L847.22,875.24 L848.48,875.26 L849.74,875.29 L851,875.32 L852.27,875.35 L853.54,875.38 L854.81,875.4 L856.08,875.43 L857.36,875.46 L858.64,875.49 L859.92,875.52 L861.2,875.55 L862.49,875.58 L863.78,875.6 L865.07,875.63 L866.37,875.66 L867.66,875.69 L868.96,875.72 L870.26,875.75 L871.57,875.78 L872.87,875.81 L874.18,875.84 L875.49,875.86 L876.81,875.89 L878.12,875.92 L879.44,875.95 L880.76,875.98 L882.09,876.01 L883.41,876.04 L884.74,876.07 L886.08,876.1 L887.41,876.13 L888.75,876.16 L890.08,876.19 L891.42,876.22 L892.77,876.25 L894.11,876.28 L895.46,876.31 L896.81,876.34 L898.17,876.37 L899.52,876.4 L900.88,876.46 L902.24,876.51 L903.6,876.56 L904.97,876.61 L906.34,876.67 L907.71,876.72 L909.08,876.77 L910.46,876.83 L911.83,876.88 L913.21,876.94 L914.6,876.99 L915.98,877.04 L917.37,877.1 L918.76,877.15 L920.15,877.21 L921.54,877.26 L922.94,877.32 L924.34,877.37 L925.74,877.42 L927.15,877.48 L928.55,877.53 L929.96,877.59 L931.37,877.64 L932.78,877.7 L934.2,877.75 L935.62,877.81 L937.04,877.86 L938.46,877.92 L939.89,877.98 L941.31,878.13 L942.74,878.29 L944.18,878.45 L945.61,878.61 L947.05,878.77 L948.49,878.93 L949.93,879.09 L951.37,879.25 L952.82,879.41 L954.27,879.57 L955.72,879.73 L957.17,879.89 L958.63,880.06 L960.08,880.22 L961.54,880.38 L963.01,880.54 L964.47,880.71 L965.94,880.87 L967.41,881.03 L968.88,881.2 L970.35,881.36 L971.83,881.71 L973.31,882.06 L974.79,882.41 L976.27,882.77 L977.76,883.12 L979.25,883.48 L980.74,883.83 L982.23,884.19 L983.72,884.55 L985.22,885.23 L986.72,886.43 L988.22,887.62 L989.72,888.82 L991.23,890.02 L992.74,890.41 L992.74,871.2 Z" stroke="none" stroke-width="1" fill="#c9c9c9"/>
<line x1="608.3" y1="871.2" x2="998.5" y2="871.2" stroke="#b0b0b0" stroke-width="1" stroke-dasharray="2,2"/>
<path d="M616.04,794.4V799.92M620.32,794.4V799.92M620.62,794.4V799.92M620.83,794.4V799.92M629.63,794.4V799.92M633.67,794.4V799.92M635.35,794.4V799.92M637.65,794.4V799.92M639.02,794.4V799.92M646.24,794.4V799.92M646.75,794.4V799.92M649.59,794.4V799.92M652.38,794.4V799.92M654.34,794.4V799.92M657.17,794.4V799.92M663.67,794.4V799.92M675.74,794.4V799.92M675.96,794.4V799.92M677.86,794.4V799.92M684.14,794.4V799.92M712.25,794.4V799.92M727.52,794.4V799.92M730.43,794.4V799.92M735.91,794.4V799.92M740.26,794.4V799.92M978.54,794.4V799.92M992.74,794.4V799.92M992.74,794.4V799.92" stroke="#E64B35" stroke-width="1.8" fill="none"/>
<path d="M615.4,801.82V807.34M615.4,801.82V807.34M618.82,801.82V807.34M622.24,801.82V807.34M622.71,801.82V807.34M624.88,801.82V807.34M628.27,801.82V807.34M629.03,801.82V807.34M629.49,801.82V807.34M631.97,801.82V807.34M632.57,801.82V807.34M637.01,801.82V807.34M640.97,801.82V807.34M641.2,801.82V807.34M644.29,801.82V807.34M648.23,801.82V807.34M648.72,801.82V807.34M651.15,801.82V807.34M696.55,801.82V807.34M698.64,801.82V807.34M711.34,801.82V807.34M712,801.82V807.34M716.9,801.82V807.34M733.13,801.82V807.34M742.4,801.82V807.34M749.29,801.82V807.34M856.46,801.82V807.34M859.24,801.82V807.34M875.98,801.82V807.34M876.56,801.82V807.34M892.2,801.82V807.34M939.99,801.82V807.34M980.44,801.82V807.34M992.74,801.82V807.34" stroke="#4DBBD5" stroke-width="1.8" fill="none"/>
<path d="M617.44,809.24V814.76M618.16,809.24V814.76M621.52,809.24V814.76M621.68,809.24V814.76M625.25,809.24V814.76M626.18,809.24V814.76M627.17,809.24V814.76M629.93,809.24V814.76M630.64,809.24V814.76M632.26,809.24V814.76M633.41,809.24V814.76M635.7,809.24V814.76M637.32,809.24V814.76M637.61,809.24V814.76M643.79,809.24V814.76M644.49,809.24V814.76M645.09,809.24V814.76M645.66,809.24V814.76M649.92,809.24V814.76M653.73,809.24V814.76M655.1,809.24V814.76M655.81,809.24V814.76M655.97,809.24V814.76M663.24,809.24V814.76M668.32,809.24V814.76M671.43,809.24V814.76M673.99,809.24V814.76M674.12,809.24V814.76M683.34,809.24V814.76M693.74,809.24V814.76M693.8,809.24V814.76M695.78,809.24V814.76M700.3,809.24V814.76M705.35,809.24V814.76M706.03,809.24V814.76M713.84,809.24V814.76M720.52,809.24V814.76M720.57,809.24V814.76M723.8,809.24V814.76M725.48,809.24V814.76M727.09,809.24V814.76M735.89,809.24V814.76M740.81,809.24V814.76M744.79,809.24V814.76M750.57,809.24V814.76M751.39,809.24V814.76M767.47,809.24V814.76M778.08,809.24V814.76M806.24,809.24V814.76M808.13,809.24V814.76M845.37,809.24V814.76M851.29,809.24V814.76M853.02,809.24V814.76M854.26,809.24V814.76M880.61,809.24V814.76M889.38,809.24V814.76M892.27,809.24V814.76M893.25,809.24V814.76M900.51,809.24V814.76M916.16,809.24V814.76M921.23,809.24V814.76M924.96,809.24V814.76M929.46,809.24V814.76M944.29,809.24V814.76M947.94,809.24V814.76M954.92,809.24V814.76M964.16,809.24V814.76M966.71,809.24V814.76M970.53,809.24V814.76M983.05,809.24V814.76" stroke="#00A087" stroke-width="1.8" fill="none"/>
<path d="M617.8,816.66V822.18M618.17,816.66V822.18M622.11,816.66V822.18M622.96,816.66V822.18M623.26,816.66V822.18M626.03,816.66V822.18M626.08,816.66V822.18M629.96,816.66V822.18M630.38,816.66V822.18M631.16,816.66V822.18M632.64,816.66V822.18M634.72,816.66V822.18M636.34,816.66V822.18M638.95,816.66V822.18M640.77,816.66V822.18M640.99,816.66V822.18M645.36,816.66V822.18M646.43,816.66V822.18M649.1,816.66V822.18M650.21,816.66V822.18M652.99,816.66V822.18M654.44,816.66V822.18M657.96,816.66V822.18M658.44,816.66V822.18M658.65,816.66V822.18M663.69,816.66V822.18M663.74,816.66V822.18M663.83,816.66V822.18M666.31,816.66V822.18M670.37,816.66V822.18M671.05,816.66V822.18M673.66,816.66V822.18M674.8,816.66V822.18M675.98,816.66V822.18M676.55,816.66V822.18M679.08,816.66V822.18M680.68,816.66V822.18M684.29,816.66V822.18M684.43,816.66V822.18M684.65,816.66V822.18M689.83,816.66V822.18M691.07,816.66V822.18M691.47,816.66V822.18M692.92,816.66V822.18M696.55,816.66V822.18M698.34,816.66V822.18M708.41,816.66V822.18M714.94,816.66V822.18M718.6,816.66V822.18M740.1,816.66V822.18M745.33,816.66V822.18M747.88,816.66V822.18M754.2,816.66V822.18M760.36,816.66V822.18M771.85,816.66V822.18M791.01,816.66V822.18M797.98,816.66V822.18M797.98,816.66V822.18M801.95,816.66V822.18M814.96,816.66V822.18M818.38,816.66V822.18M835.09,816.66V822.18M855.38,816.66V822.18M862.25,816.66V822.18M897,816.66V822.18M897.74,816.66V822.18M901.81,816.66V822.18M903.7,816.66V822.18M926.84,816.66V822.18M928.61,816.66V822.18M931.94,816.66V822.18M951.08,816.66V822.18M962.64,816.66V822.18M971.31,816.66V822.18M975.11,816.66V822.18" stroke="#3C5488" stroke-width="1.8" fill="none"/>
<path d="M615.4,824.08V829.6M615.71,824.08V829.6M616.82,824.08V829.6M621.65,824.08V829.6M623.52,824.08V829.6M626.09,824.08V829.6M626.54,824.08V829.6M626.78,824.08V829.6M630.72,824.08V829.6M631.24,824.08V829.6M633.37,824.08V829.6M637.16,824.08V829.6M637.49,824.08V829.6M638.48,824.08V829.6M642.58,824.08V829.6M643.16,824.08V829.6M644.23,824.08V829.6M646.03,824.08V829.6M648.76,824.08V829.6M648.86,824.08V829.6M652.16,824.08V829.6M652.93,824.08V829.6M654.76,824.08V829.6M656.79,824.08V829.6M659.45,824.08V829.6M660.94,824.08V829.6M661.63,824.08V829.6M661.92,824.08V829.6M666.3,824.08V829.6M667.92,824.08V829.6M670.47,824.08V829.6M671.89,824.08V829.6M672.2,824.08V829.6M676.7,824.08V829.6M677.99,824.08V829.6M678.49,824.08V829.6M681.02,824.08V829.6M681.84,824.08V829.6M684.7,824.08V829.6M685.67,824.08V829.6M687.92,824.08V829.6M690.73,824.08V829.6M692.01,824.08V829.6M693.39,824.08V829.6M694.17,824.08V829.6M696.62,824.08V829.6M699.85,824.08V829.6M700.08,824.08V829.6M700.77,824.08V829.6M701.06,824.08V829.6M703.82,824.08V829.6M709.15,824.08V829.6M709.59,824.08V829.6M710.41,824.08V829.6M710.9,824.08V829.6M711.43,824.08V829.6M714.01,824.08V829.6M716.58,824.08V829.6M718.57,824.08V829.6M718.69,824.08V829.6M722.54,824.08V829.6M723.21,824.08V829.6M726.07,824.08V829.6M726.69,824.08V829.6M728.31,824.08V829.6M729.22,824.08V829.6M732.14,824.08V829.6M735.83,824.08V829.6M736.05,824.08V829.6M736.48,824.08V829.6M741.25,824.08V829.6M742.49,824.08V829.6M743.39,824.08V829.6M745.47,824.08V829.6M745.51,824.08V829.6M748.77,824.08V829.6M752.07,824.08V829.6M753.53,824.08V829.6M754.52,824.08V829.6M756.35,824.08V829.6M758.93,824.08V829.6M769.03,824.08V829.6M771.41,824.08V829.6M771.58,824.08V829.6M777.45,824.08V829.6M777.56,824.08V829.6M793.01,824.08V829.6M795.88,824.08V829.6M800.35,824.08V829.6M803.65,824.08V829.6M807.08,824.08V829.6M810.01,824.08V829.6M812.97,824.08V829.6M815.57,824.08V829.6M818.29,824.08V829.6M822.9,824.08V829.6M833.33,824.08V829.6M844.84,824.08V829.6M844.85,824.08V829.6M845.9,824.08V829.6M848.74,824.08V829.6M857.88,824.08V829.6M863.65,824.08V829.6M866.68,824.08V829.6M868.7,824.08V829.6M876.19,824.08V829.6M881.95,824.08V829.6M883.02,824.08V829.6M896.74,824.08V829.6M899.03,824.08V829.6M899.05,824.08V829.6M903.69,824.08V829.6M909.72,824.08V829.6M914.04,824.08V829.6M921.7,824.08V829.6M922.48,824.08V829.6M926.86,824.08V829.6M935.59,824.08V829.6M939.06,824.08V829.6M943.58,824.08V829.6M953.57,824.08V829.6M959.79,824.08V829.6M962.3,824.08V829.6M964.06,824.08V829.6M968.8,824.08V829.6M969.55,824.08V829.6M975.27,824.08V829.6M977.25,824.08V829.6M982.8,824.08V829.6M992.74,824.08V829.6" stroke="#F39B7F" stroke-width="1.8" fill="none"/>
<line x1="607.3" y1="800.82" x2="999.5" y2="800.82" stroke="#222" stroke-width="1.3"/>
<line x1="607.3" y1="808.24" x2="999.5" y2="808.24" stroke="#222" stroke-width="1.3"/>
<line x1="607.3" y1="815.66" x2="999.5" y2="815.66" stroke="#222" stroke-width="1.3"/>
<line x1="607.3" y1="823.08" x2="999.5" y2="823.08" stroke="#222" stroke-width="1.3"/>
<polyline points="615.4,780.3 616.84,778.05 618.3,776.27 619.74,773.96 621.2,771.63 621.49,771.39 622.64,769.88 624.1,767.77 625.54,765.17 627,762.76 628.44,760.28 629.6,758.55 629.91,758.11 631.35,755.16 632.81,752.51 634.27,750.31 634.67,749.38 635.71,748.63 637.17,747.52 638.61,746.15 640.07,744.79 641.51,744.12 641.77,744.11 642.97,743.47 644.41,742.92 645.87,742.1 647.31,741.65 648.77,740.94 649.89,740.48 650.21,740.37 651.67,739.46 653.13,738.78 654.57,738.28 656.03,737.15 657.48,736.68 658.94,735.95 660.03,735.27 660.38,734.89 661.84,735.01 663.28,734.83 664.74,734.85 665.1,734.83 666.18,731.45 666.73,729.64 667.64,729.6 669.08,730.22 670.54,730.43 672,730.75 673.44,731.04 674.9,730.95 676.34,731.11 677.8,730.95 679.24,731.47 680.7,731.82 682.14,732.1 683.6,732.48 685.05,732.16 686.51,732.59 687.95,732.95 689.41,733.2 690.87,733.51 692.31,733.27 693.77,733.33 695.21,733.25 696.67,733.47 698.11,733.62 699.57,733.8 701.01,734.11 702.47,734.44 703.91,734.54 705.37,734.63 706.81,734.93 708.27,735.22 709.73,735.43 711.17,735.48 712.64,735.7 714.08,735.89 715.54,736.16 716.98,736.4 718.44,736.5 719.88,736.73 721.34,736.79 722.78,737.04 724.24,737.13 725.68,737.22 727.14,737.46 728.6,737.61 730.04,737.9 731.5,738.04 732.94,738.12 734.4,738.43 735.84,738.7 737.12,738.8 737.3,738.83 738.74,738.54 740.21,738.21 741.18,738.04 741.65,738.16 743.11,738.5 744.55,738.69 746.01,739 747.47,739.28 748.91,739.46 750.37,739.82 751.81,740.13 753.27,740.36 754.71,740.69 756.17,740.93 757.61,741.21 759.07,741.47 760.51,741.65 761.97,741.91 763.41,742.09 764.87,742.48 766.34,742.76 767.78,743.01 769.24,743.33 770.68,743.7 772.14,744 773.58,744.1 775.04,744.36 776.48,744.76 777.94,744.93 779.38,745.14 780.84,745.57 782.28,745.88 783.74,746.12 785.2,746.25 786.64,746.62 788.1,746.89 789.54,747.19 791,747.47 792.44,747.81 793.91,747.97 795.35,748.18 796.81,748.42 798.25,748.66 799.71,749.04 801.15,749.25 802.61,749.64 804.07,749.84 805.51,750.07 806.97,750.43 808.41,750.66 809.87,750.94 811.31,751.12 812.77,751.49 814.21,751.65 815.67,751.91 817.11,752.36 818.27,752.59 818.57,752.74 820.01,752.98 821.48,753.09 822.94,753.26 824.38,753.6 825.84,753.99 827.28,754.19 828.74,754.41 830.18,754.61 831.64,754.96 833.08,755.2 834.54,755.32 835.98,755.56 837.44,755.81 838.88,756.02 840.34,756.23 841.8,756.61 843.24,756.78 844.7,757.04 846.14,757.27 847.61,757.62 849.05,757.76 850.51,758.01 851.95,758.22 853.41,758.53 854.85,758.71 856.31,758.93 857.75,759.32 859.21,759.58 860.67,759.9 862.11,760.06 863.57,760.32 865.01,760.62 866.47,760.98 867.91,761.32 869.37,761.62 870.81,761.8 872.27,761.98 873.71,762.27 875.18,762.5 876.62,762.59 878.08,762.94 879.54,763.22 880.98,763.35 882.44,763.64 883.88,763.77 885.34,764.03 886.78,764.26 888.24,764.46 889.68,764.79 891.14,765.1 892.58,765.25 894.04,765.56 895.48,765.73 896.94,765.97 898.4,766.4 899.84,766.78 901.3,766.88 902.75,767.11 904.21,767.35 905.65,767.55 907.11,767.84 908.55,768.18 910.01,768.48 911.45,768.75 912.91,768.87 914.35,769.04 915.81,769.38 917.27,769.74 918.71,770.04 919.7,770.23 920.17,770.33 921.61,770.61 923.07,770.72 924.51,771.07 925.97,771.4 927.41,771.58 928.87,771.92 930.32,772.03 931.78,772.34 933.22,772.44 934.68,772.76 936.14,772.91 937.58,773.31 939.04,773.59 940.48,773.91 941.94,774.23 943.38,774.34 944.84,774.61 946.28,774.9 947.74,775.14 949.18,775.42 950.64,775.76 952.08,776 953.54,776.15 955,776.34 956.44,776.7 957.91,776.89 959.35,777.12 960.81,777.4 962.25,777.79 963.71,778.05 965.15,778.41 966.61,778.7 968.05,778.89 969.51,779.19 970.95,779.3 972.41,779.5 973.87,779.78 975.31,779.96 976.51,780.13 976.77,779.89 978.21,778.98 978.54,778.66 979.67,778.73 981.11,779.09 982.57,779.29 984.01,779.31 985.48,779.62 986.92,779.79 988.38,779.78 989.82,780.01 991.28,780.26 992.74,780.3" fill="none" stroke="#E64B35" stroke-width="1.9" stroke-linejoin="round"/>
<polyline points="615.4,780.3 616.84,777.43 618.3,774.59 619.74,772.18 621.2,769.53 621.49,768.86 622.64,766.7 624.1,763.36 625.54,760.48 627,756.75 628.44,753.3 629.6,750.72 629.91,750.01 631.35,746.99 632.81,744.26 633.66,742.37 634.27,741.7 635.71,741.09 637.17,740.54 638.61,739.32 640.07,738.21 641.51,737.9 642.97,736.99 643.8,736.74 644.41,736.58 645.87,736.1 647.31,735.12 648.77,734.37 650.21,734.24 651.67,733.63 653.13,733.46 653.95,732.84 654.57,732.93 656.03,732.78 657.48,733.16 658.94,732.74 660.38,732.45 661.84,732.87 663.28,732.7 664.09,732.51 664.74,732.63 666.18,733.21 667.64,733.49 669.08,733.93 670.54,734.33 672,734.64 673.44,734.27 674.9,734.47 676.34,734.98 677.8,735.25 679.24,735.14 680.7,735.61 682.14,736.05 683.6,736.2 685.05,735.92 686.51,735.86 687.95,736.41 689.41,736.63 690.87,736.68 692.31,737.26 693.77,737.4 695.21,737.73 696.67,737.89 698.11,738.06 699.57,738.2 701.01,738.46 702.47,738.8 703.91,739.09 705.37,739.2 706.81,739.45 708.27,739.58 709.73,739.79 711.17,739.94 712.64,740.2 714.08,740.51 715.54,740.81 716.84,740.94 716.98,741.06 718.44,741.1 719.88,741.26 721.34,741.53 722.78,741.71 724.24,742.01 725.68,742.21 727.14,742.3 728.6,742.7 730.04,742.77 731.5,743.01 732.94,743.34 734.4,743.53 735.84,743.74 737.3,743.99 738.74,744.17 740.21,744.34 741.65,744.6 743.11,744.74 744.55,745.1 746.01,745.22 747.47,745.56 748.91,745.87 750.37,746.07 751.81,746.25 753.27,746.32 754.71,746.54 756.17,746.87 757.61,747.14 759.07,747.35 760.51,747.43 761.97,747.79 763.41,748.01 764.87,748.13 766.34,748.29 767.78,748.61 769.24,748.9 770.68,748.96 772.14,749.17 773.58,749.39 775.04,749.55 776.48,749.79 777.94,750.07 779.38,750.25 780.84,750.41 782.28,750.79 783.74,751.1 785.2,751.36 786.64,751.42 788.1,751.67 789.54,751.91 791,752.11 792.44,752.2 793.91,752.42 795.35,752.57 796.81,752.89 798.25,753.07 799.71,753.43 801.15,753.74 802.61,753.85 804.07,754 805.51,754.26 806.97,754.48 808.41,754.76 809.87,754.98 811.31,755.21 812.77,755.41 814.21,755.6 815.67,755.84 817.11,755.96 818.27,756.26 818.57,756.4 820.01,756.62 821.48,756.78 822.94,757.08 824.38,757.16 825.84,757.3 827.28,757.59 828.74,757.79 830.18,758.11 831.64,758.32 833.08,758.4 834.54,758.76 835.98,758.85 837.44,759.02 838.88,759.37 840.34,759.59 841.8,759.77 843.24,760.07 844.7,760.33 846.14,760.55 847.61,760.61 849.05,760.92 850.51,761.23 851.95,761.43 853.41,761.5 854.85,761.76 856.31,761.92 857.75,762.23 859.21,762.53 860.67,762.7 862.11,762.86 863.57,763.08 865.01,763.17 866.47,763.31 867.91,763.5 869.37,763.76 870.81,764.09 872.27,764.33 873.71,764.6 875.18,764.73 876.62,764.94 878.08,765.3 879.54,765.46 880.98,765.74 882.44,766.05 883.88,766.28 885.34,766.51 886.78,766.78 888.24,766.89 889.68,767.07 891.14,767.27 892.58,767.4 894.04,767.67 895.48,767.96 896.94,768.26 898.4,768.42 899.84,768.63 901.3,768.92 902.75,768.96 904.21,769.23 905.65,769.52 907.11,769.63 908.55,769.97 910.01,770.23 911.45,770.49 912.91,770.52 914.35,770.65 915.81,770.85 917.27,771 918.71,771.39 919.7,771.58 920.17,771.6 921.61,771.93 923.07,772.29 924.51,772.37 925.97,772.61 927.41,772.82 928.87,773.07 930.32,773.35 931.78,773.74 933.22,774.1 934.68,774.22 936.14,774.5 937.58,774.67 939.04,774.97 940.48,775.23 941.94,775.5 943.38,775.82 944.84,776.18 946.28,776.28 947.74,776.48 949.18,776.86 950.64,777.24 952.08,777.33 953.54,777.62 955,777.8 956.44,777.98 957.91,778.21 959.35,778.6 960.81,778.84 962.25,779.09 963.71,779.45 965.15,779.78 966.61,779.89 968.05,780.11 969.51,780.54 970.95,780.76 972.41,781.03 973.87,781.37 975.31,781.7 976.51,781.91 976.77,781.36 978.21,778.62 978.54,777.94 979.67,778.27 981.11,778.63 982.57,778.71 984.01,778.88 985.48,779.11 986.92,779.3 988.38,779.48 989.82,779.81 991.28,780.03 992.74,780.3" fill="none" stroke="#4DBBD5" stroke-width="1.9" stroke-linejoin="round"/>
<polyline points="615.4,780.3 616.84,778.1 618.3,775.84 619.74,773.57 621.2,771.53 621.49,771.02 622.64,769.32 624.1,766.86 625.54,765.02 627,762.74 628.44,760.64 629.6,758.97 629.91,758.05 631.35,756.65 632.81,754.66 634.27,752.9 635.71,751.07 637.17,749.46 637.72,748.98 638.61,748.75 640.07,748.44 641.51,747.89 642.97,747.37 644.41,746.88 645.87,746.27 647.31,745.75 648.77,745.2 650.21,744.53 651.67,743.64 651.92,743.7 653.13,743.97 654.57,743.44 656.03,743.28 657.48,743.43 658.94,742.93 660.38,742.51 661.84,742.17 662.06,742.08 663.28,742.74 664.74,742.62 666.18,742.9 667.64,743.15 669.08,743.46 670.54,743.55 672,743.8 673.44,743.66 674.9,744.32 676.34,744.13 677.8,744.55 679.24,744.51 680.7,744.77 682.14,744.75 683.6,744.67 685.05,745.09 686.51,745.49 687.95,746 689.41,745.82 690.87,745.66 692.31,746.2 693.77,746.44 695.21,746.36 696.67,746.5 698.11,746.62 699.57,746.98 701.01,747.13 702.47,747.31 703.91,747.58 705.37,747.75 706.81,747.93 708.27,748.01 709.73,748.04 711.17,748.25 712.64,748.31 714.08,748.58 715.54,748.64 716.84,748.89 716.98,749.04 718.44,749.09 719.88,749.4 721.34,749.57 722.78,749.72 724.24,750.1 725.68,750.25 727.14,750.49 728.6,750.76 730.04,751.01 731.5,751.3 732.94,751.35 734.4,751.49 735.84,751.84 737.3,752.09 738.74,752.32 740.21,752.47 741.65,752.57 743.11,752.83 744.55,753.16 746.01,753.4 747.47,753.69 748.91,753.8 750.37,754.02 751.81,754.2 753.27,754.46 754.71,754.67 756.17,754.98 757.61,755.2 759.07,755.29 760.51,755.59 761.97,755.9 763.41,755.96 764.87,756.16 766.34,756.28 767.78,756.47 769.24,756.7 770.68,757.09 772.14,757.19 773.58,757.5 775.04,757.71 776.48,757.95 777.94,758.1 779.38,758.38 780.84,758.53 782.28,758.74 783.74,759.09 785.2,759.26 786.64,759.39 788.1,759.72 789.54,759.95 791,760.2 792.44,760.27 793.91,760.42 795.35,760.6 796.81,760.82 798.25,761.15 799.71,761.52 801.15,761.7 802.61,761.79 804.07,762.09 805.51,762.39 806.97,762.45 808.41,762.81 809.87,763.11 811.31,763.23 812.77,763.5 814.21,763.6 815.67,763.73 817.11,763.99 818.27,764.19 818.57,764.3 820.01,764.53 821.48,764.68 822.94,765.06 824.38,765.14 825.84,765.41 827.28,765.59 828.74,765.96 830.18,766.08 831.64,766.38 833.08,766.6 834.54,766.88 835.98,767.01 837.44,767.31 838.88,767.44 840.34,767.77 841.8,768.06 843.24,768.29 844.7,768.44 846.14,768.76 847.61,768.98 849.05,769.05 850.51,769.39 851.95,769.59 853.41,769.76 854.85,769.91 856.31,770.21 857.75,770.49 859.21,770.75 860.67,770.87 862.11,771.22 863.57,771.53 865.01,771.71 866.47,771.89 867.91,772.2 869.37,772.5 870.81,772.67 872.27,772.89 873.71,773.19 875.18,773.43 876.62,773.47 878.08,773.61 879.54,773.81 880.98,774.16 882.44,774.34 883.88,774.7 885.34,774.89 886.78,775.04 888.24,775.41 889.68,775.7 891.14,775.94 892.58,776.11 894.04,776.23 895.48,776.48 896.94,776.67 898.4,777.03 899.84,777.17 901.3,777.31 902.75,777.6 904.21,777.81 905.65,777.92 907.11,778.34 908.55,778.57 910.01,778.81 911.45,779.1 912.91,779.25 914.35,779.47 915.81,779.77 917.27,779.99 918.71,780.17 919.7,780.23 920.17,780.35 921.61,780.62 923.07,780.77 924.51,780.92 925.97,781.26 927.41,781.42 928.87,781.62 930.32,781.87 931.78,782.29 933.22,782.58 934.68,782.74 936.14,783 937.58,783.22 939.04,783.43 940.48,783.77 941.94,784.02 943.38,784.38 944.84,784.68 946.28,784.98 947.74,785.11 949.18,785.25 950.14,785.52 950.64,785.59 952.08,785.45 953.54,785.49 955,785.44 956.44,785.47 957.91,785.44 959.35,785.45 960.81,785.39 962.25,785.32 963.71,785.27 965.15,785.28 966.61,785.43 968.05,785.54 969.51,785.44 970.95,785.33 972.41,785.36 973.87,785.42 975.31,785.43 976.51,785.31 976.77,784.96 978.21,782.35 978.54,781.75 979.67,781.53 981.11,781.42 982.57,781.28 984.01,781.26 985.48,781.04 986.92,780.89 988.38,780.85 989.82,780.54 991.28,780.29 992.74,780.3" fill="none" stroke="#00A087" stroke-width="1.9" stroke-linejoin="round"/>
<polyline points="615.4,780.3 616.84,771.17 617.43,767.26 618.3,764.4 619.74,760.03 620.47,758.14 621.2,757.69 622.64,757.73 624.1,757.54 625.54,756.82 627,756.46 628.44,756.3 629.6,755.77 629.91,755.15 631.35,753.91 632.81,752.7 634.27,751.87 635.71,751.22 637.17,750.25 637.72,749.69 638.61,749.46 640.07,749.34 641.51,748.96 642.97,748.46 644.41,747.8 645.87,747.46 647.31,747.17 648.77,746.43 649.89,745.91 650.21,746.21 651.67,745.84 653.13,745.47 654.57,745.11 656.03,744.98 657.48,744.69 658.94,743.88 660.38,743.91 661.84,743.64 663.28,743.29 664.74,742.77 666.12,742.28 666.18,742.64 667.64,742.01 669.08,741.61 670.54,741.53 672,741.02 673.44,740.77 674.9,740.5 676.34,740.28 677.8,740.23 679.24,740.16 680.7,739.57 682.14,739.23 682.35,739.17 683.6,739.65 685.05,739.79 686.51,740.04 687.95,740.2 689.41,740.56 690.87,740.35 692.31,740.78 693.77,740.75 695.21,740.83 696.67,741.11 698.11,741.42 699.57,741.48 701.01,741.67 702.47,741.94 703.91,742.22 705.37,742.3 706.81,742.52 708.27,742.72 709.73,742.79 711.17,743.12 712.64,743.36 714.08,743.4 715.54,743.54 716.84,743.77 716.98,743.74 718.44,743.93 719.88,744.19 721.34,744.44 722.78,744.62 724.24,744.92 725.68,745.17 727.14,745.36 728.6,745.48 730.04,745.58 731.5,745.93 732.94,746.06 734.4,746.21 735.84,746.57 737.3,746.81 738.74,746.92 740.21,747.19 741.65,747.36 743.11,747.51 744.55,747.78 746.01,747.88 747.47,748.21 748.91,748.52 750.37,748.78 751.81,748.88 753.27,748.98 754.71,749.23 756.17,749.46 757.61,749.57 759.07,749.7 760.51,749.89 761.97,750.23 763.41,750.53 764.87,750.82 766.34,750.97 767.78,751.06 769.24,751.33 770.68,751.59 772.14,751.86 773.58,751.98 775.04,752.16 776.48,752.38 777.94,752.56 779.38,752.89 780.84,753.02 782.28,753.32 783.74,753.6 785.2,753.74 786.64,753.89 788.1,754.03 789.54,754.23 791,754.35 792.44,754.62 793.91,754.76 795.35,754.9 796.81,755.15 798.25,755.45 799.71,755.78 801.15,755.92 802.61,756.25 804.07,756.48 805.51,756.74 806.97,756.81 808.41,756.95 809.87,757.18 811.31,757.42 812.77,757.72 814.21,757.76 815.67,758.02 817.11,758.29 818.27,758.55 818.57,758.48 820.01,758.73 821.48,759.03 822.94,759.36 824.38,759.48 825.84,759.86 827.28,760.13 828.74,760.24 830.18,760.62 831.64,760.96 833.08,761.06 834.54,761.3 835.98,761.55 837.44,761.93 838.88,762.04 840.34,762.25 841.8,762.67 843.24,762.91 844.7,763.07 846.14,763.28 847.61,763.7 849.05,763.92 850.51,764.19 851.95,764.58 853.41,764.85 854.85,765.09 856.31,765.31 857.75,765.62 859.21,765.94 860.67,766.24 862.11,766.37 863.57,766.52 865.01,766.69 866.47,766.91 867.91,767.29 869.37,767.45 870.81,767.69 872.27,768.06 873.71,768.3 875.18,768.51 876.62,768.94 878.08,769.19 879.54,769.4 880.98,769.6 882.44,769.96 883.88,770.12 885.34,770.43 886.78,770.81 888.24,771.09 889.68,771.25 891.14,771.63 892.58,771.74 894.04,772.14 895.48,772.45 896.94,772.53 898.4,772.69 899.84,773.05 901.3,773.21 902.75,773.46 904.21,773.72 905.65,774.15 907.11,774.49 908.55,774.77 910.01,774.98 911.45,775.17 912.91,775.35 914.35,775.73 915.81,775.91 917.27,776.19 918.71,776.49 919.7,776.65 920.17,776.79 921.61,777.07 923.07,777.41 924.51,777.67 925.97,777.99 927.41,778.24 928.87,778.63 930.32,778.74 931.78,779.07 933.22,779.47 934.68,779.69 936.14,779.96 937.58,780.15 939.04,780.54 940.48,780.79 941.94,781.05 943.38,781.36 944.84,781.69 946.28,781.94 947.74,782.37 949.18,782.5 950.64,782.77 952.08,783.12 953.54,783.32 955,783.61 956.22,783.83 956.44,783.8 957.91,783.76 959.35,783.74 960.81,783.6 962.25,783.68 963.71,783.57 965.15,783.59 966.61,783.59 968.05,783.41 969.51,783.36 970.95,783.46 972.41,783.27 973.87,783.14 975.31,783.26 976.51,783.32 976.77,783.21 978.21,783.14 979.67,783.04 981.11,782.8 982.57,782.75 984.01,782.7 985.48,782.51 986.92,782.27 988.38,782.21 989.82,781.94 991.28,781.75 992.74,781.76" fill="none" stroke="#3C5488" stroke-width="1.9" stroke-linejoin="round"/>
<polyline points="615.4,780.3 616.84,778.54 618.3,775.98 619.74,774.11 621.2,772.07 621.49,771.73 622.64,770.43 624.1,768.69 625.54,766.59 627,764.92 628.44,763.66 629.6,762.09 629.91,761.66 631.35,760.74 632.81,759.67 634.27,758.09 635.71,756.91 637.17,755.58 637.72,755.06 638.61,754.63 640.07,753.81 641.51,752.88 642.97,752.19 644.41,751.75 645.87,751.3 647.31,750.77 647.86,750.49 648.77,750.6 650.21,750.02 651.67,749.5 653.13,749.52 654.57,749.38 656.03,749.05 657.48,748.26 658,748.26 658.94,748.02 660.38,748.22 661.84,748.33 663.28,748.13 664.74,748.24 666.18,748.05 667.64,748.39 669.08,748.61 670.54,748.53 672,748.51 672.2,748.4 673.44,748.25 674.9,748.14 676.34,748.34 677.8,748.9 679.24,749.26 680.7,748.98 682.14,749.46 683.6,749.57 685.05,749.45 686.51,749.96 687.95,750.18 689.41,750.51 690.87,750.73 692.31,750.89 693.77,751.2 695.21,751.08 696.67,751.03 698.11,751.11 699.57,751.2 701.01,751.4 702.47,751.59 703.91,751.77 705.37,751.91 706.81,752.17 708.27,752.38 709.73,752.59 711.17,752.69 712.64,752.96 714.08,753.02 715.54,753.17 716.84,753.36 716.98,753.31 718.44,753.49 719.88,753.59 721.34,753.98 722.78,754.18 724.24,754.36 725.68,754.47 727.14,754.73 728.6,754.93 730.04,755.17 731.5,755.37 732.94,755.71 734.4,755.77 735.84,756 737.3,756.24 738.74,756.43 740.21,756.61 741.65,756.79 743.11,757.14 744.55,757.2 746.01,757.39 747.47,757.68 748.91,757.95 750.37,758.05 751.81,758.4 753.27,758.64 754.71,758.79 756.17,759.07 757.61,759.26 759.07,759.3 760.51,759.6 761.97,759.68 763.41,759.93 764.87,760.25 766.34,760.49 767.78,760.66 769.24,760.76 770.68,760.98 772.14,761.27 773.58,761.37 775.04,761.5 776.48,761.89 777.94,762.03 779.38,762.35 780.84,762.62 782.28,762.76 783.74,762.83 785.2,763.17 786.64,763.29 788.1,763.53 789.54,763.74 791,764.04 792.44,764.24 793.91,764.33 795.35,764.61 796.81,764.71 798.25,764.99 799.71,765.17 801.15,765.48 802.61,765.56 804.07,765.7 805.51,765.87 806.97,766.21 808.41,766.43 809.87,766.71 811.31,766.95 812.77,767.02 814.21,767.34 815.67,767.51 817.11,767.69 818.27,767.75 818.57,767.76 820.01,767.93 821.48,768.15 822.94,768.52 824.38,768.66 825.84,768.99 827.28,769.09 828.74,769.21 830.18,769.36 831.64,769.75 833.08,770.02 834.54,770.25 835.98,770.31 837.44,770.42 838.88,770.76 840.34,770.84 841.8,771.07 843.24,771.28 844.7,771.37 846.14,771.72 847.61,771.98 849.05,772.11 850.51,772.21 851.95,772.38 853.41,772.75 854.85,772.83 856.31,773.05 857.75,773.19 859.21,773.32 860.67,773.54 862.11,773.79 863.57,774.03 865.01,774.14 866.47,774.42 867.91,774.64 869.37,774.97 870.81,775.04 872.27,775.36 873.71,775.47 875.18,775.58 876.62,775.71 878.08,775.91 879.54,776.23 880.98,776.56 882.44,776.6 883.88,776.8 885.34,777.15 886.78,777.34 888.24,777.6 889.68,777.67 891.14,777.9 892.58,778.13 894.04,778.28 895.48,778.55 896.94,778.76 898.4,778.97 899.84,779.13 901.3,779.32 902.75,779.61 904.21,779.64 905.65,779.84 907.11,779.94 908.55,780.3 910.01,780.36 911.45,780.55 912.91,780.68 914.35,780.95 915.81,781.13 917.27,781.39 918.71,781.69 919.7,781.72 920.17,781.85 921.61,781.81 923.07,781.7 924.51,781.68 925.97,781.69 927.41,781.65 928.87,781.78 930.32,781.95 931.78,781.92 933.22,781.83 934.68,781.92 936.14,781.87 937.58,781.94 939.04,781.87 940.48,781.9 941.94,781.98 943.38,782.1 944.84,782.21 946.28,782.14 947.74,782.26 949.18,782.22 950.64,782.3 952.08,782.18 953.54,782.27 955,782.29 956.44,782.33 957.91,782.46 959.35,782.46 960.81,782.46 962.25,782.4 963.71,782.47 965.15,782.56 966.61,782.52 968.05,782.6 969.51,782.54 970.42,782.55 970.95,782.5 972.41,782.28 973.87,782.2 975.31,782.13 976.77,781.94 978.21,781.71 979.67,781.6 981.11,781.51 982.57,781.24 984.01,781.04 985.48,780.98 986.92,780.86 988.38,780.69 989.82,780.49 991.28,780.51 992.74,780.3" fill="none" stroke="#F39B7F" stroke-width="1.9" stroke-linejoin="round"/>
<line x1="607.3" y1="720.7" x2="999.5" y2="720.7" stroke="#333" stroke-width="1.5"/>
<line x1="999.5" y1="720.7" x2="999.5" y2="903.1" stroke="#333" stroke-width="1.5"/>
<line x1="607.3" y1="903.1" x2="999.5" y2="903.1" stroke="#111" stroke-width="1.8"/>
<line x1="607.3" y1="720.7" x2="607.3" y2="903.1" stroke="#111" stroke-width="1.8"/>
<line x1="607.3" y1="793.4" x2="999.5" y2="793.4" stroke="#111" stroke-width="1.8"/>
<line x1="607.3" y1="830.5" x2="999.5" y2="830.5" stroke="#111" stroke-width="1.8"/>
<line x1="602.7" y1="780.3" x2="607.3" y2="780.3" stroke="#222" stroke-width="1.3"/>
<text class="s" transform="translate(600.7,783.76)" font-size="10.3" text-anchor="end">0.0</text>
<line x1="602.7" y1="765.7" x2="607.3" y2="765.7" stroke="#222" stroke-width="1.3"/>
<text class="s" transform="translate(600.7,769.16)" font-size="10.3" text-anchor="end">0.2</text>
<line x1="602.7" y1="751.1" x2="607.3" y2="751.1" stroke="#222" stroke-width="1.3"/>
<text class="s" transform="translate(600.7,754.56)" font-size="10.3" text-anchor="end">0.4</text>
<line x1="602.7" y1="736.5" x2="607.3" y2="736.5" stroke="#222" stroke-width="1.3"/>
<text class="s" transform="translate(600.7,739.97)" font-size="10.3" text-anchor="end">0.6</text>
<line x1="602.7" y1="731" x2="607.3" y2="731" stroke="#222" stroke-width="1.3"/>
<line x1="602.7" y1="786.5" x2="607.3" y2="786.5" stroke="#222" stroke-width="1.3"/>
<line x1="602.7" y1="848.6" x2="607.3" y2="848.6" stroke="#222" stroke-width="1.3"/>
<text class="s" transform="translate(600.7,852.07)" font-size="10.3" text-anchor="end">1.0</text>
<line x1="602.7" y1="859.9" x2="607.3" y2="859.9" stroke="#222" stroke-width="1.3"/>
<text class="s" transform="translate(600.7,863.37)" font-size="10.3" text-anchor="end">0.5</text>
<line x1="602.7" y1="871.2" x2="607.3" y2="871.2" stroke="#222" stroke-width="1.3"/>
<text class="s" transform="translate(600.7,874.67)" font-size="10.3" text-anchor="end">0.0</text>
<line x1="602.7" y1="882.5" x2="607.3" y2="882.5" stroke="#222" stroke-width="1.3"/>
<text class="s" transform="translate(600.7,885.97)" font-size="10.3" text-anchor="end">−0.5</text>
<line x1="602.7" y1="893.8" x2="607.3" y2="893.8" stroke="#222" stroke-width="1.3"/>
<text class="s" transform="translate(600.7,897.27)" font-size="10.3" text-anchor="end">−1.0</text>
<line x1="602.7" y1="838.5" x2="607.3" y2="838.5" stroke="#222" stroke-width="1.3"/>
<line x1="602.7" y1="895.5" x2="607.3" y2="895.5" stroke="#222" stroke-width="1.3"/>
<line x1="615.4" y1="903.1" x2="615.4" y2="907.6" stroke="#222" stroke-width="1.3"/>
<text class="s" transform="translate(615.4,918)" font-size="10.3" text-anchor="middle">0</text>
<line x1="716.84" y1="903.1" x2="716.84" y2="907.6" stroke="#222" stroke-width="1.3"/>
<text class="s" transform="translate(716.84,918)" font-size="10.3" text-anchor="middle">5,000</text>
<line x1="818.27" y1="903.1" x2="818.27" y2="907.6" stroke="#222" stroke-width="1.3"/>
<text class="s" transform="translate(818.27,918)" font-size="10.3" text-anchor="middle">10,000</text>
<line x1="919.7" y1="903.1" x2="919.7" y2="907.6" stroke="#222" stroke-width="1.3"/>
<text class="s" transform="translate(919.7,918)" font-size="10.3" text-anchor="middle">15,000</text>
<line x1="992.74" y1="903.1" x2="992.74" y2="907.6" stroke="#222" stroke-width="1.3"/>
<text class="s" transform="translate(802.7,931)" font-size="10.2" text-anchor="middle">Rank in Ordered DataSet</text>
<text class="s" transform="translate(812.2,706.2)" font-size="16.43" text-anchor="middle" style="stroke-width:0.1px">NDUFB11</text>
<text class="s" transform="translate(571.5,760) rotate(-90)" font-size="10.2" text-anchor="middle">Enrichment</text>
<text class="s" transform="translate(583,760) rotate(-90)" font-size="10.2" text-anchor="middle">score</text>
<text class="s" transform="translate(566.5,864) rotate(-90)" font-size="10.2" text-anchor="middle">Ranked list</text>
<text class="s" transform="translate(577.5,864) rotate(-90)" font-size="10.2" text-anchor="middle">metric</text>
<text class="s" transform="translate(620,846.5)" font-size="10.2">H</text>
<text class="s" transform="translate(978,895.5)" font-size="10.2">L</text>
<line x1="606.9" y1="937.9" x2="612.8" y2="937.9" stroke="#E64B35" stroke-width="1.8"/>
<text class="s" transform="translate(615.4,942.3)" font-size="10.17">DNA_REPLICATION(ES=0.6926,NP=0.0000)</text>
<line x1="606.9" y1="954.9" x2="612.8" y2="954.9" stroke="#4DBBD5" stroke-width="1.8"/>
<text class="s" transform="translate(615.4,959.3)" font-size="10.17">RNA_POLYMERASE(ES=0.6566,NP=0.0020)</text>
<line x1="606.9" y1="971.9" x2="612.8" y2="971.9" stroke="#00A087" stroke-width="1.8"/>
<text class="s" transform="translate(615.4,976.3)" font-size="10.17">PYRIMIDINE_METABOLISM(ES=0.5152,NP=0.0021)</text>
<line x1="606.9" y1="988.9" x2="612.8" y2="988.9" stroke="#3C5488" stroke-width="1.8"/>
<text class="s" transform="translate(615.4,993.3)" font-size="10.17">SPLICEOSOME(ES=0.5596,NP=0.0117)</text>
<line x1="606.9" y1="1005.9" x2="612.8" y2="1005.9" stroke="#F39B7F" stroke-width="1.8"/>
<text class="s" transform="translate(615.4,1010.3)" font-size="10.17">PURINE_METABOLISM(ES=0.4401,NP=0.0124)</text>
<line x1="1126.9" y1="724.3" x2="1126.9" y2="796.3" stroke="#e6e6e6" stroke-width="1"/>
<line x1="1126.9" y1="833.1" x2="1126.9" y2="906.4" stroke="#e6e6e6" stroke-width="1"/>
<line x1="1228.2" y1="724.3" x2="1228.2" y2="796.3" stroke="#e6e6e6" stroke-width="1"/>
<line x1="1228.2" y1="833.1" x2="1228.2" y2="906.4" stroke="#e6e6e6" stroke-width="1"/>
<line x1="1329.5" y1="724.3" x2="1329.5" y2="796.3" stroke="#e6e6e6" stroke-width="1"/>
<line x1="1329.5" y1="833.1" x2="1329.5" y2="906.4" stroke="#e6e6e6" stroke-width="1"/>
<line x1="1430.8" y1="724.3" x2="1430.8" y2="796.3" stroke="#e6e6e6" stroke-width="1"/>
<line x1="1430.8" y1="833.1" x2="1430.8" y2="906.4" stroke="#e6e6e6" stroke-width="1"/>
<line x1="1123.9" y1="740.02" x2="1489.55" y2="740.02" stroke="#e6e6e6" stroke-width="1"/>
<line x1="1123.9" y1="749.26" x2="1489.55" y2="749.26" stroke="#e6e6e6" stroke-width="1"/>
<line x1="1123.9" y1="767.74" x2="1489.55" y2="767.74" stroke="#e6e6e6" stroke-width="1"/>
<line x1="1123.9" y1="776.98" x2="1489.55" y2="776.98" stroke="#e6e6e6" stroke-width="1"/>
<line x1="1123.9" y1="786.22" x2="1489.55" y2="786.22" stroke="#e6e6e6" stroke-width="1"/>
<line x1="1123.9" y1="853.7" x2="1489.55" y2="853.7" stroke="#e6e6e6" stroke-width="1"/>
<line x1="1123.9" y1="876.3" x2="1489.55" y2="876.3" stroke="#e6e6e6" stroke-width="1"/>
<line x1="1123.9" y1="887.6" x2="1489.55" y2="887.6" stroke="#e6e6e6" stroke-width="1"/>
<line x1="1119.1" y1="758.5" x2="1510.2" y2="758.5" stroke="#b0b0b0" stroke-width="1" stroke-dasharray="2,2"/>
<path d="M1126.9,865 L1126.9,844.66 L1127.81,845.27 L1128.12,848.23 L1128.12,848.23 L1128.12,848.23 L1128.12,848.23 L1128.12,848.23 L1128.12,848.23 L1128.12,848.23 L1128.12,848.23 L1128.12,848.23 L1128.12,848.23 L1128.12,848.23 L1128.28,848.27 L1128.47,848.33 L1128.66,848.38 L1128.87,848.44 L1129.08,848.51 L1129.31,848.57 L1129.54,848.64 L1129.78,848.71 L1130.02,848.78 L1130.28,848.85 L1130.54,848.93 L1130.8,849 L1131.08,849.08 L1131.36,849.16 L1131.65,849.25 L1131.95,849.33 L1132.25,849.42 L1132.56,849.51 L1132.87,849.6 L1133.2,849.65 L1133.52,849.68 L1133.86,849.72 L1134.2,849.75 L1134.54,849.78 L1134.9,849.82 L1135.26,849.85 L1135.62,849.88 L1135.99,849.92 L1136.37,849.96 L1136.75,849.99 L1137.13,850.03 L1137.53,850.07 L1137.93,850.11 L1138.33,850.14 L1138.74,850.18 L1139.15,850.22 L1139.57,850.26 L1140,850.3 L1140.43,850.34 L1140.86,850.39 L1141.3,850.43 L1141.75,850.47 L1142.2,850.51 L1142.66,850.56 L1143.12,850.6 L1143.58,850.65 L1144.05,850.69 L1144.53,850.74 L1145.01,850.78 L1145.49,850.83 L1145.98,850.88 L1146.48,850.92 L1146.98,850.97 L1147.48,851 L1147.99,851.02 L1148.51,851.03 L1149.02,851.05 L1149.55,851.07 L1150.07,851.09 L1150.61,851.1 L1151.14,851.12 L1151.68,851.14 L1152.23,851.16 L1152.78,851.18 L1153.33,851.19 L1153.89,851.21 L1154.46,851.23 L1155.02,851.25 L1155.59,851.27 L1156.17,851.29 L1156.75,851.31 L1157.34,851.33 L1157.92,851.35 L1158.52,851.37 L1159.11,851.39 L1159.72,851.41 L1160.32,851.43 L1160.93,851.45 L1161.55,851.47 L1162.16,851.49 L1162.79,851.51 L1163.41,851.53 L1164.04,851.55 L1164.68,851.57 L1165.31,851.6 L1165.96,851.62 L1166.6,851.64 L1167.25,851.66 L1167.91,851.68 L1168.56,851.7 L1169.23,851.73 L1169.89,851.75 L1170.56,851.77 L1171.24,851.79 L1171.91,851.82 L1172.6,851.84 L1173.28,851.86 L1173.97,851.89 L1174.66,851.91 L1175.36,851.93 L1176.06,851.96 L1176.76,851.98 L1177.47,852 L1178.18,852.03 L1178.9,852.05 L1179.62,852.07 L1180.34,852.1 L1181.07,852.12 L1181.8,852.15 L1182.53,852.17 L1183.27,852.2 L1184.01,852.22 L1184.75,852.25 L1185.5,852.27 L1186.25,852.3 L1187.01,852.32 L1187.77,852.35 L1188.53,852.36 L1189.3,852.38 L1190.07,852.4 L1190.84,852.41 L1191.62,852.43 L1192.4,852.45 L1193.18,852.47 L1193.97,852.48 L1194.76,852.5 L1195.55,852.52 L1196.35,852.54 L1197.15,852.56 L1197.96,852.57 L1198.77,852.59 L1199.58,852.61 L1200.39,852.63 L1201.21,852.65 L1202.03,852.66 L1202.86,852.68 L1203.68,852.7 L1204.52,852.72 L1205.35,852.74 L1206.19,852.76 L1207.03,852.78 L1207.88,852.79 L1208.73,852.81 L1209.58,852.83 L1210.43,852.85 L1211.29,852.87 L1212.15,852.89 L1213.02,852.91 L1213.89,852.93 L1214.76,852.95 L1215.63,852.97 L1216.51,852.99 L1217.39,853.01 L1218.28,853.03 L1219.16,853.05 L1220.05,853.07 L1220.95,853.09 L1221.85,853.11 L1222.75,853.13 L1223.65,853.15 L1224.56,853.17 L1225.47,853.19 L1226.38,853.21 L1227.3,853.23 L1228.22,853.25 L1229.14,853.27 L1230.06,853.29 L1230.99,853.31 L1231.92,853.33 L1232.86,853.35 L1233.8,853.37 L1234.74,853.39 L1235.68,853.41 L1236.63,853.44 L1237.58,853.46 L1238.54,853.48 L1239.49,853.5 L1240.45,853.52 L1241.41,853.54 L1242.38,853.56 L1243.35,853.59 L1244.32,853.61 L1245.3,853.63 L1246.27,853.65 L1247.26,853.67 L1248.24,853.7 L1249.23,853.72 L1250.22,853.74 L1251.21,853.76 L1252.21,853.78 L1253.2,853.81 L1254.21,853.83 L1255.21,853.85 L1256.22,853.87 L1257.23,853.9 L1258.24,853.92 L1259.26,853.94 L1260.28,853.96 L1261.3,853.99 L1262.33,854.01 L1263.36,854.03 L1264.39,854.06 L1265.42,854.08 L1266.46,854.1 L1267.5,854.12 L1268.54,854.15 L1269.59,854.17 L1270.64,854.19 L1271.69,854.22 L1272.74,854.24 L1273.8,854.27 L1274.86,854.29 L1275.92,854.31 L1276.99,854.34 L1278.06,854.36 L1279.13,854.38 L1280.2,854.41 L1281.28,854.43 L1282.36,854.46 L1283.44,854.48 L1284.53,854.5 L1285.62,854.53 L1286.71,854.55 L1287.8,854.58 L1288.9,854.6 L1290,854.63 L1291.1,854.65 L1292.21,854.68 L1293.32,854.7 L1294.43,854.73 L1295.54,854.75 L1296.66,854.78 L1297.78,854.8 L1298.9,854.83 L1300.02,854.85 L1301.15,854.88 L1302.28,854.9 L1303.41,854.93 L1304.55,854.95 L1305.69,854.98 L1306.83,855 L1307.97,855.03 L1309.12,855.05 L1310.27,855.1 L1311.42,855.14 L1312.57,855.19 L1313.73,855.23 L1314.89,855.28 L1316.05,855.32 L1317.22,855.37 L1318.39,855.41 L1319.56,855.46 L1320.73,855.5 L1321.91,855.55 L1323.09,855.6 L1324.27,855.64 L1325.45,855.69 L1326.64,855.74 L1327.83,855.78 L1329.02,855.83 L1330.21,855.87 L1331.41,855.92 L1332.61,855.97 L1333.81,856.02 L1335.02,856.06 L1336.23,856.11 L1337.44,856.16 L1338.65,856.2 L1339.87,856.25 L1341.08,856.3 L1342.3,856.35 L1343.53,856.39 L1344.75,856.44 L1345.98,856.49 L1347.21,856.54 L1348.45,856.59 L1349.68,856.64 L1350.92,856.75 L1352.16,856.87 L1353.41,856.98 L1354.66,857.1 L1355.9,857.22 L1357.16,857.34 L1358.41,857.46 L1359.67,857.58 L1360.93,857.7 L1362.19,857.82 L1363.45,857.94 L1364.72,858.06 L1365.99,858.18 L1367.26,858.3 L1368.54,858.42 L1369.81,858.54 L1371.09,858.66 L1372.38,858.78 L1373.66,858.9 L1374.95,859.03 L1376.24,859.15 L1377.53,859.27 L1378.83,859.39 L1380.12,859.52 L1381.42,859.64 L1382.73,859.76 L1384.03,859.89 L1385.34,860.01 L1386.65,860.14 L1387.96,860.26 L1389.27,860.38 L1390.59,860.53 L1391.91,860.72 L1393.23,860.92 L1394.56,861.12 L1395.89,861.31 L1397.21,861.51 L1398.55,861.71 L1399.88,861.91 L1401.22,862.11 L1402.56,862.31 L1403.9,862.51 L1405.24,862.71 L1406.59,862.91 L1407.94,863.11 L1409.29,863.31 L1410.64,863.51 L1412,863.71 L1413.36,863.91 L1414.72,864.12 L1416.09,864.32 L1417.45,864.52 L1418.82,864.72 L1420.19,864.93 L1421.56,865.1 L1422.94,865.25 L1424.32,865.41 L1425.7,865.56 L1427.08,865.72 L1428.47,865.87 L1429.85,866.02 L1431.24,866.18 L1432.64,866.33 L1434.03,866.49 L1435.43,866.65 L1436.83,866.8 L1438.23,866.96 L1439.63,867.12 L1441.04,867.28 L1442.45,867.51 L1443.86,867.75 L1445.28,867.99 L1446.69,868.22 L1448.11,868.46 L1449.53,868.7 L1450.95,868.94 L1452.38,869.18 L1453.81,869.41 L1455.24,869.65 L1456.67,869.89 L1458.11,870.13 L1459.54,870.37 L1460.98,870.62 L1462.43,870.93 L1463.87,871.25 L1465.32,871.57 L1466.76,871.89 L1468.22,872.22 L1469.67,872.54 L1471.13,872.87 L1472.58,873.19 L1474.04,873.52 L1475.51,873.84 L1476.97,874.17 L1478.44,874.5 L1479.91,874.83 L1481.38,875.15 L1482.86,875.73 L1484.33,876.32 L1485.81,876.91 L1487.29,877.5 L1488.78,878.09 L1490.26,878.68 L1491.75,879.27 L1493.24,879.87 L1494.73,880.46 L1496.23,881.58 L1497.72,883.49 L1499.22,885.4 L1500.73,887.31 L1502.23,889.23 L1503.74,889.86 L1503.74,865 Z" stroke="none" stroke-width="1" fill="#c9c9c9"/>
<line x1="1119.1" y1="865" x2="1510.2" y2="865" stroke="#b0b0b0" stroke-width="1" stroke-dasharray="2,2"/>
<path d="M1133.96,797.3V802.76M1179.79,797.3V802.76M1203.25,797.3V802.76M1237.47,797.3V802.76M1241.83,797.3V802.76M1282.39,797.3V802.76M1331.22,797.3V802.76M1332.8,797.3V802.76M1334.93,797.3V802.76M1340.16,797.3V802.76M1349.51,797.3V802.76M1363.73,797.3V802.76M1371.33,797.3V802.76M1375.66,797.3V802.76M1378.7,797.3V802.76M1380.89,797.3V802.76M1391.25,797.3V802.76M1403.64,797.3V802.76M1407.95,797.3V802.76M1409.1,797.3V802.76M1411.47,797.3V802.76M1412.05,797.3V802.76M1415.6,797.3V802.76M1417.57,797.3V802.76M1418.81,797.3V802.76M1422.22,797.3V802.76M1424.41,797.3V802.76M1430.8,797.3V802.76M1431.35,797.3V802.76M1436.48,797.3V802.76M1438.14,797.3V802.76M1439.91,797.3V802.76M1441.16,797.3V802.76M1442.13,797.3V802.76M1442.59,797.3V802.76M1443.83,797.3V802.76M1445.78,797.3V802.76M1448.6,797.3V802.76M1452.39,797.3V802.76M1452.69,797.3V802.76M1455.85,797.3V802.76M1461.24,797.3V802.76M1463.39,797.3V802.76M1465.32,797.3V802.76M1468.97,797.3V802.76M1470.02,797.3V802.76M1471.83,797.3V802.76M1473.52,797.3V802.76M1479.06,797.3V802.76M1480.2,797.3V802.76M1481.22,797.3V802.76M1483.81,797.3V802.76M1484.74,797.3V802.76M1490.04,797.3V802.76M1492.04,797.3V802.76M1492.51,797.3V802.76M1495.27,797.3V802.76M1499.75,797.3V802.76M1501.61,797.3V802.76M1503.28,797.3V802.76" stroke="#E64B35" stroke-width="1.8" fill="none"/>
<path d="M1147.11,804.66V810.12M1149.31,804.66V810.12M1154.18,804.66V810.12M1160.45,804.66V810.12M1169.45,804.66V810.12M1173.2,804.66V810.12M1175.09,804.66V810.12M1176.82,804.66V810.12M1180.46,804.66V810.12M1182.83,804.66V810.12M1192.77,804.66V810.12M1192.97,804.66V810.12M1195.87,804.66V810.12M1203.52,804.66V810.12M1207.94,804.66V810.12M1228.79,804.66V810.12M1240.13,804.66V810.12M1254.52,804.66V810.12M1264.37,804.66V810.12M1264.39,804.66V810.12M1278.85,804.66V810.12M1299.11,804.66V810.12M1390.28,804.66V810.12M1410.54,804.66V810.12M1502.24,804.66V810.12" stroke="#4DBBD5" stroke-width="1.8" fill="none"/>
<path d="M1130.95,812.02V817.48M1349.76,812.02V817.48M1352.83,812.02V817.48M1363.17,812.02V817.48M1380.15,812.02V817.48M1422.27,812.02V817.48M1425.91,812.02V817.48M1435.42,812.02V817.48M1438.93,812.02V817.48M1440.15,812.02V817.48M1441.37,812.02V817.48M1442.26,812.02V817.48M1450.33,812.02V817.48M1457.11,812.02V817.48M1459,812.02V817.48M1460.99,812.02V817.48M1461.97,812.02V817.48M1466.39,812.02V817.48M1474.41,812.02V817.48M1475.53,812.02V817.48M1479.84,812.02V817.48M1502.84,812.02V817.48" stroke="#00A087" stroke-width="1.8" fill="none"/>
<path d="M1126.9,819.38V824.84M1129.7,819.38V824.84M1131.38,819.38V824.84M1147.16,819.38V824.84M1188.77,819.38V824.84M1225.12,819.38V824.84M1242.52,819.38V824.84M1261.39,819.38V824.84M1303.53,819.38V824.84M1309.24,819.38V824.84M1309.24,819.38V824.84M1314.19,819.38V824.84M1317.7,819.38V824.84M1319.03,819.38V824.84M1323.02,819.38V824.84M1330.63,819.38V824.84M1333.12,819.38V824.84M1337.07,819.38V824.84M1340.21,819.38V824.84M1340.58,819.38V824.84M1342.89,819.38V824.84M1345.01,819.38V824.84M1351.34,819.38V824.84M1352.7,819.38V824.84M1355.62,819.38V824.84M1355.74,819.38V824.84M1358.19,819.38V824.84M1359.63,819.38V824.84M1365.55,819.38V824.84M1369.81,819.38V824.84M1370.32,819.38V824.84M1372.49,819.38V824.84M1377.55,819.38V824.84M1386.85,819.38V824.84M1387.46,819.38V824.84M1393.31,819.38V824.84M1396.97,819.38V824.84M1399.93,819.38V824.84M1400.14,819.38V824.84M1406.11,819.38V824.84M1406.4,819.38V824.84M1408.87,819.38V824.84M1410.54,819.38V824.84M1410.99,819.38V824.84M1413.92,819.38V824.84M1414.58,819.38V824.84M1415.02,819.38V824.84M1415.39,819.38V824.84M1415.83,819.38V824.84M1418.32,819.38V824.84M1418.87,819.38V824.84M1418.92,819.38V824.84M1421.1,819.38V824.84M1421.6,819.38V824.84M1421.95,819.38V824.84M1424.29,819.38V824.84M1424.78,819.38V824.84M1425.32,819.38V824.84M1426.31,819.38V824.84M1426.85,819.38V824.84M1428.76,819.38V824.84M1431,819.38V824.84M1431.32,819.38V824.84M1431.33,819.38V824.84M1433.27,819.38V824.84M1434.08,819.38V824.84M1434.22,819.38V824.84M1436.61,819.38V824.84M1436.72,819.38V824.84M1438.79,819.38V824.84M1439.24,819.38V824.84M1439.77,819.38V824.84M1439.88,819.38V824.84M1441.36,819.38V824.84M1443.83,819.38V824.84M1444.03,819.38V824.84M1445.1,819.38V824.84M1445.54,819.38V824.84M1445.99,819.38V824.84M1448.03,819.38V824.84M1448.13,819.38V824.84M1450.2,819.38V824.84M1450.26,819.38V824.84M1451.72,819.38V824.84M1452,819.38V824.84M1452.24,819.38V824.84M1454.07,819.38V824.84M1455.08,819.38V824.84M1455.48,819.38V824.84M1457.36,819.38V824.84M1458.77,819.38V824.84M1459.76,819.38V824.84M1460.05,819.38V824.84M1461.96,819.38V824.84M1461.98,819.38V824.84M1462.85,819.38V824.84M1464.02,819.38V824.84M1465.75,819.38V824.84M1466.01,819.38V824.84M1467.13,819.38V824.84M1468.17,819.38V824.84M1468.48,819.38V824.84M1469.92,819.38V824.84M1470.44,819.38V824.84M1471.71,819.38V824.84M1472.34,819.38V824.84M1473.28,819.38V824.84M1475.18,819.38V824.84M1475.65,819.38V824.84M1475.88,819.38V824.84M1477.46,819.38V824.84M1479.17,819.38V824.84M1479.84,819.38V824.84M1480.89,819.38V824.84M1481.13,819.38V824.84M1481.86,819.38V824.84M1483.87,819.38V824.84M1483.92,819.38V824.84M1486.39,819.38V824.84M1486.88,819.38V824.84M1488.32,819.38V824.84M1488.64,819.38V824.84M1489.72,819.38V824.84M1491,819.38V824.84M1492.13,819.38V824.84M1492.19,819.38V824.84M1492.82,819.38V824.84M1493.92,819.38V824.84M1494.78,819.38V824.84M1495.83,819.38V824.84M1496.99,819.38V824.84M1498.21,819.38V824.84M1498.72,819.38V824.84M1500.06,819.38V824.84M1500.47,819.38V824.84M1503,819.38V824.84M1503.48,819.38V824.84" stroke="#3C5488" stroke-width="1.8" fill="none"/>
<path d="M1126.9,826.74V832.2M1139.63,826.74V832.2M1140.02,826.74V832.2M1142.47,826.74V832.2M1164.28,826.74V832.2M1176.24,826.74V832.2M1181.4,826.74V832.2M1209.28,826.74V832.2M1244.41,826.74V832.2M1250.42,826.74V832.2M1257.83,826.74V832.2M1306.72,826.74V832.2M1309.24,826.74V832.2M1362.16,826.74V832.2M1373.27,826.74V832.2M1376.96,826.74V832.2M1385.11,826.74V832.2M1397.94,826.74V832.2M1398.76,826.74V832.2M1403.09,826.74V832.2M1411.62,826.74V832.2M1425.06,826.74V832.2M1430.8,826.74V832.2M1436.8,826.74V832.2M1466.22,826.74V832.2M1482.95,826.74V832.2M1503.74,826.74V832.2" stroke="#F39B7F" stroke-width="1.8" fill="none"/>
<line x1="1118.1" y1="803.66" x2="1511.2" y2="803.66" stroke="#222" stroke-width="1.3"/>
<line x1="1118.1" y1="811.02" x2="1511.2" y2="811.02" stroke="#222" stroke-width="1.3"/>
<line x1="1118.1" y1="818.38" x2="1511.2" y2="818.38" stroke="#222" stroke-width="1.3"/>
<line x1="1118.1" y1="825.74" x2="1511.2" y2="825.74" stroke="#222" stroke-width="1.3"/>
<polyline points="1126.9,757.11 1128.34,757.22 1129.8,757.49 1131.24,757.71 1132.69,757.86 1134.13,757.76 1135.59,757.85 1137.03,757.99 1138.49,758.04 1139.93,758.01 1141.39,758.04 1142.82,758.33 1144.28,758.74 1145.74,758.83 1147.18,759.06 1148.64,759.18 1150.08,759.19 1151.54,759.41 1152.97,759.37 1154.43,759.3 1155.87,759.28 1157.33,759.66 1158.77,759.84 1160.23,760.15 1161.67,760.01 1163.12,760.08 1164.58,760.17 1166.02,760.43 1167.48,760.63 1168.92,760.54 1170.38,760.66 1171.82,761.01 1173.28,761.35 1174.71,761.32 1176.17,761.38 1177.61,761.39 1179.07,761.47 1180.51,761.49 1181.97,761.52 1183.43,761.78 1184.86,761.79 1186.32,761.84 1187.76,762.14 1189.22,762.51 1190.66,762.8 1192.12,763.08 1193.56,763.26 1195.01,763.08 1196.45,763.28 1197.91,763.41 1199.35,763.43 1200.81,763.77 1202.27,763.67 1203.71,763.76 1205.16,763.78 1206.6,763.92 1208.06,764.16 1209.5,764.27 1210.96,764.34 1212.4,764.56 1213.86,764.73 1215.29,764.83 1216.75,764.9 1218.19,764.94 1219.65,765.11 1221.11,765.19 1222.55,765.41 1224.01,765.51 1225.44,765.61 1226.9,765.68 1228.2,765.76 1228.34,765.82 1229.8,765.98 1231.24,766.18 1232.7,766.38 1234.14,766.46 1235.59,766.62 1237.03,766.74 1238.49,766.86 1239.95,767.08 1241.39,767.14 1242.85,767.38 1244.29,767.43 1245.75,767.63 1247.18,767.84 1248.64,767.89 1250.08,768.12 1251.54,768.26 1252.98,768.45 1254.44,768.54 1255.88,768.59 1257.33,768.7 1258.79,768.81 1260.23,768.93 1261.69,769.2 1263.13,769.27 1264.59,769.38 1266.03,769.51 1267.48,769.65 1268.92,769.85 1270.38,770.04 1271.82,770.22 1273.28,770.31 1274.72,770.42 1276.18,770.54 1277.63,770.66 1279.07,770.9 1280.53,771.09 1281.97,771.28 1283.43,771.36 1284.87,771.56 1286.33,771.69 1287.76,771.82 1289.22,771.94 1290.66,772.14 1292.12,772.18 1293.56,772.39 1295.02,772.57 1296.48,772.73 1297.91,772.81 1299.37,772.96 1300.81,773.03 1302.27,773.16 1303.71,773.39 1305.17,773.52 1306.61,773.58 1308.06,773.79 1309.5,773.85 1310.96,773.97 1312.4,774.2 1313.86,774.31 1315.32,774.4 1316.76,774.65 1318.22,774.8 1319.65,775 1321.11,775.09 1322.55,775.26 1324.01,775.4 1325.45,775.5 1326.91,775.71 1328.35,775.83 1329.8,775.93 1331.24,776.09 1332.7,776.25 1334.16,776.37 1335.6,776.56 1337.06,776.64 1338.5,776.78 1339.95,776.92 1341.39,777.08 1342.85,777.28 1344.29,777.38 1345.75,777.49 1347.19,777.66 1348.65,777.82 1349.76,777.98 1350.08,778.12 1351.54,778.54 1353,779.06 1353.81,779.33 1354.44,779.4 1355.9,779.44 1357.34,779.5 1358.8,779.55 1360.23,779.67 1361.69,779.64 1363.13,779.73 1364.59,779.69 1366.03,779.75 1367.49,779.86 1368.93,779.99 1370.38,779.98 1371.84,780.04 1373.28,780.13 1374.74,780.16 1376.18,780.19 1377.64,780.28 1379.08,780.34 1380.53,780.48 1381.97,780.55 1383.43,780.53 1384.87,780.61 1386.33,780.67 1387.77,780.66 1389.23,780.68 1390.69,780.8 1392.12,780.83 1393.58,780.94 1395.02,780.98 1396.48,781.02 1397.92,781.15 1399.38,781.26 1400.82,781.26 1402.27,781.32 1403.71,781.32 1405.17,781.45 1406.61,781.59 1408.07,781.57 1409.53,781.7 1410.97,781.68 1412.42,781.79 1413.86,781.81 1415.32,781.87 1416.76,781.87 1418.22,782 1419.66,782.02 1421.12,782.09 1422.55,782.24 1424.01,782.33 1425.45,782.32 1426.91,782.34 1428.37,782.34 1429.81,782.37 1430.8,782.41 1431.27,782.38 1432.7,782.43 1434.16,782.33 1435.6,782.29 1437.06,782.31 1438.5,782.27 1439.96,782.29 1441.4,782.21 1442.85,782.16 1444.29,782.06 1445.75,782.08 1447.21,782.07 1448.65,782.03 1450.11,781.96 1451.55,781.96 1453,781.96 1454.44,781.87 1455.9,781.8 1457.34,781.7 1458.8,781.64 1460.24,781.67 1461.19,781.67 1461.7,781.49 1463.13,781.26 1464.59,780.94 1466.05,780.75 1467.49,780.46 1468.95,780.23 1470.39,779.96 1471.85,779.66 1473.29,779.44 1474.74,779.16 1476.18,779.02 1477.4,778.85 1477.64,778.83 1479.08,778.52 1480.54,778.27 1481.98,777.98 1483.44,777.64 1484.89,777.38 1486.33,777.09 1487.79,776.83 1489.23,776.61 1490.69,776.27 1491.58,776.15 1492.13,775.11 1493.59,772.58 1495.02,770.11 1496.48,767.59 1497.66,765.43 1497.92,765.06 1499.38,763.49 1500.82,761.78 1502.28,760.1 1503.74,758.5" fill="none" stroke="#E64B35" stroke-width="1.9" stroke-linejoin="round"/>
<polyline points="1126.9,758.5 1128.34,758.48 1129.8,758.27 1131.24,757.93 1132.69,757.89 1134.13,757.84 1135.59,757.91 1137.03,757.85 1138.49,757.78 1139.93,757.6 1141.39,757.36 1142.82,757.18 1144.12,757.28 1144.28,757.02 1145.74,754.48 1146.15,753.85 1147.18,753.86 1148.64,753.6 1150.08,753.47 1151.54,753.63 1152.97,753.52 1154.43,753.43 1155.87,753.26 1157.33,753.31 1158.77,753.11 1160.23,753.21 1161.67,753.12 1163.12,753.1 1164.58,753.19 1166.02,752.92 1167.48,753.08 1168.92,753.1 1169.45,752.99 1170.38,752.11 1171.82,750.82 1173.28,749.31 1173.5,748.98 1174.71,747.65 1176.17,745.89 1177.55,744.54 1177.61,744.68 1179.07,744.29 1180.51,743.69 1181.97,743.31 1183.43,742.86 1184.86,742.2 1186.32,741.88 1187.76,741.27 1189.22,740.59 1190.66,739.92 1192.12,739.49 1193.56,738.91 1195.01,738.38 1196.45,737.97 1197.91,737.36 1199.35,737.03 1200.81,736.78 1201.86,736.59 1202.27,736.6 1203.71,736.45 1205.16,736.37 1206.6,736.19 1208.06,736.17 1209.5,736.24 1210.96,736.25 1212.4,736.19 1213.86,736.22 1215.29,736.13 1216.75,736.17 1218.19,736.17 1219.65,736.17 1221.11,736.02 1222.55,735.96 1224.01,736.01 1225.44,736.01 1226.9,735.89 1228.34,735.81 1229.8,735.83 1231.24,735.85 1232.7,735.89 1234.14,735.83 1235.59,735.8 1237.03,735.8 1238.49,735.82 1239.95,735.78 1241.39,735.66 1242.85,735.57 1244.29,735.55 1245.75,735.51 1247.18,735.45 1248.64,735.47 1250.08,735.48 1251.54,735.5 1252.98,735.45 1254.44,735.4 1255.88,735.44 1257.33,735.46 1258.59,735.36 1258.79,735.25 1260.23,734.78 1261.69,734.25 1263.13,733.81 1264.59,733.33 1266.03,732.87 1266.69,732.58 1267.48,732.75 1268.92,732.87 1270.38,733.13 1271.82,733.23 1273.28,733.39 1274.72,733.52 1276.18,733.78 1277.63,734.01 1279.07,734.12 1280.53,734.38 1281.97,734.51 1283.43,734.72 1284.87,734.89 1286.33,735.07 1287.76,735.32 1289.22,735.5 1290.66,735.68 1292.12,735.88 1293.56,735.97 1295.02,736.21 1296.48,736.3 1297.91,736.54 1299.37,736.65 1300.81,736.87 1302.27,736.99 1303.71,737.25 1305.17,737.37 1306.61,737.59 1308.06,737.72 1309.5,737.88 1310.96,738.08 1312.4,738.29 1313.86,738.47 1315.32,738.7 1316.76,738.83 1318.22,739.1 1319.65,739.3 1321.11,739.43 1322.55,739.57 1324.01,739.76 1325.45,739.93 1326.91,740.05 1328.35,740.3 1329.5,740.49 1329.8,740.57 1331.24,740.7 1332.7,740.78 1334.16,740.84 1335.6,741.02 1337.06,741.17 1338.5,741.37 1339.95,741.45 1341.39,741.58 1342.85,741.73 1344.29,741.92 1345.75,742.07 1347.19,742.09 1348.65,742.26 1350.08,742.39 1351.54,742.49 1353,742.67 1354.44,742.76 1355.9,742.84 1357.34,743.03 1358.8,743.2 1360.23,743.33 1361.69,743.44 1363.13,743.5 1364.59,743.73 1366.03,743.88 1367.49,743.92 1368.93,744.12 1370.38,744.21 1371.84,744.33 1373.28,744.5 1374.74,744.56 1376.18,744.68 1377.64,744.84 1379.08,744.98 1380.53,745.09 1381.97,745.27 1383.43,745.41 1384.87,745.46 1386.33,745.59 1387.77,745.69 1389.23,745.94 1390.69,746.02 1392.12,746.11 1393.58,746.36 1395.02,746.43 1396.48,746.65 1397.92,746.72 1399.38,746.8 1400.82,747.01 1402.27,747.21 1403.71,747.35 1405.17,747.38 1406.61,747.44 1408.07,747.53 1409.53,747.74 1410.97,747.85 1412.42,747.95 1413.86,748.18 1415.32,748.26 1416.76,748.41 1418.22,748.51 1419.66,748.68 1421.12,748.88 1422.55,749.06 1424.01,749.11 1425.45,749.23 1426.91,749.39 1428.37,749.54 1429.81,749.67 1430.8,749.76 1431.27,749.83 1432.7,750.06 1434.16,750.25 1435.6,750.45 1437.06,750.56 1438.5,750.66 1439.96,750.77 1441.4,751.02 1442.85,751.26 1444.29,751.38 1445.75,751.61 1447.21,751.8 1448.65,752.01 1450.11,752.11 1451.55,752.25 1453,752.36 1454.44,752.47 1455.9,752.66 1457.34,752.93 1458.8,753.16 1460.24,753.23 1461.7,753.48 1463.13,753.6 1464.59,753.78 1466.05,753.92 1467.49,754.09 1468.95,754.34 1470.39,754.45 1471.85,754.72 1473.29,754.92 1474.74,755.03 1476.18,755.21 1477.64,755.41 1479.08,755.6 1480.54,755.74 1481.98,755.94 1483.44,756.1 1484.89,756.23 1486.33,756.37 1487.79,756.59 1489.23,756.73 1490.69,756.95 1492.13,757.08 1493.59,757.33 1495.02,757.43 1496.48,757.65 1497.92,757.83 1499.38,757.96 1500.82,758.06 1502.28,758.32 1503.74,758.5" fill="none" stroke="#4DBBD5" stroke-width="1.9" stroke-linejoin="round"/>
<polyline points="1126.9,757.11 1128.34,757.49 1129.8,757.7 1131.24,757.88 1132.69,758.05 1134.13,758.15 1135.59,758.3 1137.03,758.3 1138.49,758.26 1139.93,758.27 1141.39,758.69 1142.82,758.74 1144.28,759.01 1145.74,758.94 1147.18,759.11 1148.64,759.45 1150.08,759.54 1151.54,759.86 1152.97,759.82 1154.43,759.82 1155.87,760.1 1157.33,760.06 1158.77,760.1 1160.23,760.33 1161.67,760.65 1163.12,760.79 1164.58,760.89 1166.02,761.13 1167.48,761.44 1168.92,761.79 1170.38,761.73 1171.82,761.93 1173.28,761.95 1174.71,761.94 1176.17,762.31 1177.61,762.5 1179.07,762.56 1180.51,762.83 1181.97,762.95 1183.43,762.87 1184.86,763.12 1186.32,763.17 1187.76,763.43 1189.22,763.68 1190.66,763.75 1192.12,763.72 1193.56,764.09 1195.01,764.09 1196.45,764.13 1197.91,764.35 1199.35,764.5 1200.81,764.69 1202.27,764.99 1203.71,765.11 1205.16,765.08 1206.6,765.1 1208.06,765.34 1209.5,765.65 1210.96,765.83 1212.4,766.04 1213.86,766.21 1215.29,766.41 1216.75,766.53 1218.19,766.61 1219.65,766.8 1221.11,766.91 1222.55,767.14 1224.01,767.35 1225.44,767.44 1226.9,767.57 1228.2,767.71 1228.34,767.71 1229.8,767.87 1231.24,768.06 1232.7,768.3 1234.14,768.53 1235.59,768.71 1237.03,768.78 1238.49,769.02 1239.95,769.12 1241.39,769.39 1242.85,769.56 1244.29,769.77 1245.75,769.95 1247.18,770.06 1248.64,770.19 1250.08,770.32 1251.54,770.57 1252.98,770.71 1254.44,770.92 1255.88,771.04 1257.33,771.32 1258.79,771.43 1260.23,771.63 1261.69,771.87 1263.13,771.97 1264.59,772.22 1266.03,772.31 1267.48,772.52 1268.92,772.72 1270.38,772.84 1271.82,772.96 1273.28,773.09 1274.72,773.25 1276.18,773.54 1277.63,773.8 1279.07,774 1280.53,774.13 1281.97,774.27 1283.43,774.4 1284.87,774.65 1286.33,774.84 1287.76,775.08 1289.22,775.21 1290.66,775.35 1292.12,775.51 1293.56,775.67 1295.02,775.87 1296.48,776.07 1297.91,776.26 1299.37,776.43 1300.81,776.52 1302.27,776.67 1303.71,776.88 1305.17,777.11 1306.61,777.31 1308.06,777.41 1309.5,777.58 1310.96,777.77 1312.4,777.96 1313.86,778.16 1315.32,778.39 1316.76,778.51 1318.22,778.69 1319.65,778.82 1321.11,779 1322.55,779.26 1324.01,779.42 1325.45,779.52 1326.91,779.65 1328.35,779.81 1329.8,780.06 1331.24,780.26 1332.7,780.4 1334.16,780.55 1335.6,780.69 1337.06,780.93 1338.5,781.06 1339.95,781.21 1341.39,781.44 1342.85,781.66 1344.29,781.84 1345.75,782.07 1347.19,782.17 1348.65,782.33 1349.76,782.57 1350.08,782.53 1351.54,782.17 1353,781.86 1354.44,781.56 1355.9,781.3 1357.34,781.05 1358.8,780.88 1359.89,780.68 1360.23,780.63 1361.69,780.74 1363.13,780.85 1364.59,781.08 1366.03,781.21 1367.49,781.29 1368.93,781.45 1370.38,781.55 1371.84,781.71 1373.28,781.78 1374.74,782.02 1376.18,782.17 1377.64,782.26 1379.08,782.45 1380.53,782.65 1381.97,782.81 1383.43,782.92 1384.87,783.06 1386.33,783.08 1387.77,783.21 1389.23,783.4 1390.69,783.45 1392.12,783.62 1393.58,783.72 1395.02,783.79 1396.48,783.99 1397.92,784.09 1399.38,784.24 1400.82,784.46 1402.27,784.55 1403.71,784.64 1405.17,784.79 1406.61,784.96 1408.07,785.15 1409.53,785.28 1410.97,785.41 1412.42,785.5 1413.86,785.67 1415.32,785.7 1416.76,785.86 1418.22,785.94 1419.66,786.06 1421.12,786.18 1422.55,786.3 1424.01,786.41 1425.45,786.66 1426.91,786.77 1428.37,786.87 1429.81,786.95 1430.8,787.04 1431.27,787.07 1432.7,787.34 1434.16,787.5 1435.6,787.7 1437.06,788.01 1438.5,788.27 1439.96,788.39 1440.93,788.47 1441.4,788.44 1442.85,788.11 1444.29,787.83 1445.75,787.42 1447.21,787.07 1448.65,786.7 1450.11,786.39 1451.55,786.07 1453,785.67 1454.44,785.39 1455.9,785.08 1457.34,784.78 1458.8,784.37 1460.24,784.04 1461.19,783.91 1461.7,783.82 1463.13,783.45 1464.59,783.04 1466.05,782.55 1467.49,782.11 1468.95,781.66 1470.39,781.34 1471.85,780.95 1473.29,780.47 1474.74,780.12 1476.18,779.61 1477.4,779.29 1477.64,778.94 1479.08,776.5 1480.54,773.98 1481.45,772.32 1481.98,771.96 1483.44,770.72 1484.89,769.5 1486.33,768.4 1487.79,767.2 1489.23,766 1490.69,764.76 1492.13,763.57 1493.59,762.4 1495.02,761.19 1495.63,760.7 1496.48,760.47 1497.92,760.1 1499.38,759.68 1500.82,759.31 1502.28,758.86 1503.74,758.5" fill="none" stroke="#00A087" stroke-width="1.9" stroke-linejoin="round"/>
<polyline points="1126.9,756.65 1128.34,756.86 1129.8,756.93 1131.24,757.11 1132.69,757.37 1134.13,757.62 1135.59,757.67 1137.03,757.78 1138.49,757.94 1139.93,758.02 1141.39,758.19 1142.82,758.25 1144.28,758.23 1145.74,758.1 1147.18,758.18 1148.64,758.38 1150.08,758.52 1151.54,758.72 1152.97,758.96 1154.43,759.04 1155.87,759.26 1157.33,759.47 1158.77,759.26 1160.23,759.21 1161.67,759.61 1163.12,759.8 1164.58,759.89 1166.02,759.95 1167.48,760.09 1168.92,760.13 1170.38,760.07 1171.82,760.4 1173.28,760.61 1174.71,760.67 1176.17,760.91 1177.61,760.76 1179.07,760.98 1180.51,761.13 1181.97,761.43 1183.43,761.62 1184.86,761.62 1186.32,761.63 1187.76,761.93 1189.22,761.72 1190.66,761.73 1192.12,761.84 1193.56,762.16 1195.01,762.3 1196.45,762.48 1197.91,762.52 1199.35,762.83 1200.81,762.73 1202.27,762.83 1203.71,763.09 1205.16,762.93 1206.6,762.9 1208.06,763.13 1209.5,763.33 1210.96,763.5 1212.4,763.67 1213.86,763.77 1215.29,763.94 1216.75,764.07 1218.19,764.24 1219.65,764.26 1221.11,764.35 1222.55,764.56 1224.01,764.69 1225.44,764.83 1226.9,764.89 1228.2,764.96 1228.34,764.93 1229.8,765.17 1231.24,765.31 1232.7,765.37 1234.14,765.58 1235.59,765.69 1237.03,765.85 1238.49,766.08 1239.95,766.21 1241.39,766.41 1242.85,766.54 1244.29,766.61 1245.75,766.73 1247.18,766.94 1248.64,767.13 1250.08,767.21 1251.54,767.29 1252.98,767.4 1254.44,767.57 1255.88,767.8 1257.33,767.93 1258.79,768.03 1260.23,768.21 1261.69,768.32 1263.13,768.58 1264.59,768.7 1266.03,768.8 1267.48,768.98 1268.92,769.08 1270.38,769.22 1271.82,769.37 1273.28,769.58 1274.72,769.7 1276.18,769.83 1277.63,769.96 1279.07,770.06 1280.53,770.31 1281.97,770.52 1283.43,770.65 1284.87,770.83 1286.33,770.96 1287.76,771.16 1289.22,771.34 1290.66,771.46 1292.12,771.6 1293.56,771.71 1295.02,771.81 1296.48,772.04 1297.91,772.23 1299.37,772.4 1300.81,772.47 1302.27,772.62 1303.71,772.8 1305.17,772.99 1306.61,773.1 1308.06,773.23 1309.5,773.31 1310.96,773.53 1312.4,773.65 1313.86,773.84 1315.32,773.94 1316.76,774 1318.22,774.23 1319.65,774.29 1321.11,774.52 1322.55,774.7 1324.01,774.79 1325.45,774.9 1326.91,775.13 1328.35,775.23 1329.8,775.38 1331.24,775.49 1332.7,775.72 1334.16,775.82 1335.6,775.92 1337.06,776.03 1338.5,776.21 1339.95,776.42 1341.39,776.57 1342.85,776.74 1344.29,776.95 1345.75,777.09 1347.19,777.2 1348.65,777.33 1349.76,777.4 1350.08,777.42 1351.54,777.44 1353,777.59 1354.44,777.66 1355.9,777.69 1357.34,777.86 1358.8,777.94 1360.23,777.96 1361.69,778 1363.13,778.09 1364.59,778.11 1366.03,778.19 1367.49,778.36 1368.93,778.4 1370.38,778.54 1371.84,778.67 1373.28,778.64 1374.74,778.71 1376.18,778.79 1377.64,778.93 1379.08,778.99 1380.53,779.02 1381.97,779.05 1383.43,779.19 1384.87,779.28 1386.33,779.39 1387.77,779.48 1389.23,779.55 1390.69,779.63 1392.12,779.63 1393.58,779.8 1395.02,779.83 1396.48,779.93 1397.92,779.97 1399.38,780.04 1400.82,780.06 1402.27,780.19 1403.71,780.27 1405.17,780.35 1406.61,780.42 1408.07,780.44 1409.53,780.55 1410.97,780.67 1412.42,780.67 1413.86,780.82 1415.32,780.8 1416.76,780.89 1418.22,780.99 1419.66,781.09 1420.67,781.07 1421.12,781.03 1422.55,781.12 1424.01,781.12 1425.45,781.2 1426.91,781.25 1428.37,781.22 1429.81,781.34 1431.27,781.38 1432.7,781.36 1434.16,781.46 1435.6,781.54 1437.06,781.57 1438.5,781.64 1439.96,781.7 1440.93,781.66 1441.4,781.55 1442.85,781.43 1444.29,781.2 1445.75,780.98 1447.21,780.87 1448.65,780.7 1450.11,780.6 1451.55,780.38 1453,780.17 1454.44,780.02 1455.9,779.94 1457.34,779.69 1458.8,779.54 1460.24,779.32 1461.19,779.3 1461.7,779.13 1463.13,778.86 1464.59,778.56 1466.05,778.25 1467.49,777.89 1468.95,777.48 1470.39,777.19 1471.85,776.82 1473.29,776.53 1474.74,776.18 1476.18,775.79 1477.64,775.54 1479.08,775.27 1480.54,774.93 1481.45,774.7 1481.98,774.29 1483.44,773.32 1484.89,772.4 1486.33,771.57 1487.79,770.65 1489.23,769.71 1490.69,768.77 1492.13,767.88 1493.59,767.04 1495.02,766.18 1496.48,765.23 1497.92,764.24 1499.38,763.3 1499.68,763.19 1500.82,761.81 1502.28,760.1 1503.74,758.5" fill="none" stroke="#3C5488" stroke-width="1.9" stroke-linejoin="round"/>
<polyline points="1126.9,756.65 1128.34,753.91 1128.93,752.88 1129.8,752.28 1131.24,751.82 1132.69,751.22 1134.13,750.45 1135.59,749.91 1137.03,749.39 1138.49,746.98 1139.93,744.73 1141.08,742.96 1141.39,742.91 1142.82,742.91 1144.28,743.22 1145.74,743.36 1147.18,743.18 1148.64,743.17 1150.08,743.29 1151.54,743.32 1152.97,743.29 1154.43,743.1 1155.87,743.33 1157.33,743.16 1158.77,743.19 1160.23,743.01 1161.67,743.19 1163.12,743.43 1164.58,743.23 1166.02,743.39 1167.48,743.35 1168.92,743.17 1170.38,743.08 1171.82,743.07 1173.28,743.31 1173.5,743.16 1174.71,742.76 1176.17,742.19 1177.61,741.95 1179.07,741.63 1179.58,741.62 1180.51,741.39 1181.97,741.08 1183.43,741.28 1184.86,741.33 1186.32,741.12 1187.76,741.15 1189.22,741.24 1190.66,740.87 1192.12,740.68 1193.56,740.73 1195.01,740.68 1196.45,740.83 1197.91,740.61 1199.35,740.49 1200.81,740.21 1202.27,740.15 1203.71,740.32 1205.16,740.25 1206.6,739.95 1207.94,739.94 1208.06,739.94 1209.5,739.81 1210.96,739.69 1212.4,739.56 1213.86,739.48 1215.29,739.39 1216.75,739.19 1218.19,739.04 1219.65,738.9 1221.11,738.84 1222.55,738.69 1224.01,738.51 1225.44,738.44 1226.9,738.22 1228.34,738.05 1229.8,737.9 1231.24,737.73 1232.25,737.72 1232.7,737.74 1234.14,737.93 1235.59,738.03 1237.03,738.18 1238.49,738.33 1239.95,738.5 1241.39,738.67 1242.85,738.68 1244.29,738.78 1245.75,738.89 1247.18,739.1 1248.64,739.2 1250.08,739.35 1251.54,739.42 1252.98,739.64 1254.44,739.72 1255.88,739.84 1257.33,739.91 1258.79,740.14 1260.23,740.18 1261.69,740.3 1263.13,740.39 1264.59,740.6 1266.03,740.72 1267.48,740.83 1268.92,740.98 1270.38,741.16 1271.82,741.24 1273.28,741.4 1274.72,741.6 1276.18,741.68 1277.63,741.86 1279.07,741.97 1280.53,742.03 1281.97,742.21 1283.43,742.28 1284.87,742.43 1286.33,742.5 1287.76,742.71 1289.22,742.85 1290.66,742.97 1292.12,743.1 1293.56,743.25 1295.02,743.42 1296.48,743.48 1297.91,743.56 1299.37,743.7 1300.81,743.93 1302.27,743.97 1303.71,744.17 1305.17,744.35 1306.61,744.41 1308.06,744.56 1309.5,744.65 1310.96,744.74 1312.4,744.82 1313.86,745.02 1315.32,745.22 1316.76,745.28 1318.22,745.35 1319.65,745.53 1321.11,745.7 1322.55,745.83 1324.01,745.9 1325.45,746.07 1326.91,746.24 1328.35,746.33 1329.5,746.49 1329.8,746.56 1331.24,746.66 1332.7,746.6 1334.16,746.69 1335.6,746.79 1337.06,746.82 1338.5,746.88 1339.95,746.93 1341.39,746.95 1342.85,747.05 1344.29,747.17 1345.75,747.19 1347.19,747.27 1348.65,747.28 1350.08,747.32 1351.54,747.36 1353,747.37 1354.44,747.51 1355.9,747.63 1357.34,747.71 1358.8,747.73 1360.23,747.75 1361.69,747.77 1363.13,747.86 1364.59,747.87 1366.03,747.99 1367.49,748.05 1368.93,748.17 1370.38,748.19 1371.84,748.19 1373.28,748.31 1374.74,748.3 1376.18,748.38 1377.64,748.51 1379.08,748.5 1380.53,748.52 1381.97,748.64 1383.43,748.68 1384.2,748.72 1384.87,748.84 1386.33,748.96 1387.77,749.05 1389.23,749.1 1390.69,749.21 1392.12,749.36 1393.58,749.44 1395.02,749.51 1396.48,749.56 1397.92,749.62 1399.38,749.73 1400.82,749.88 1402.27,750.01 1403.71,750.03 1405.17,750.09 1406.61,750.15 1408.07,750.24 1409.53,750.24 1410.97,750.37 1412.42,750.41 1413.86,750.58 1415.32,750.72 1416.76,750.85 1418.22,750.95 1419.66,751.06 1421.12,751.02 1422.55,751.14 1424.01,751.13 1425.45,751.29 1426.91,751.38 1428.37,751.44 1429.81,751.48 1430.8,751.56 1431.27,751.59 1432.7,751.72 1434.16,751.84 1435.6,751.96 1437.06,752.06 1438.5,752.24 1439.96,752.47 1441.4,752.63 1442.85,752.67 1444.29,752.83 1445.75,752.93 1447.21,753.05 1448.65,753.18 1450.11,753.39 1451.55,753.59 1453,753.78 1454.44,753.81 1455.9,753.87 1457.34,754.08 1458.8,754.18 1460.24,754.26 1461.7,754.43 1463.13,754.54 1464.59,754.67 1466.05,754.9 1467.49,755.11 1468.95,755.28 1470.39,755.32 1471.85,755.47 1473.29,755.68 1474.74,755.81 1476.18,755.99 1477.64,756.04 1479.08,756.11 1480.54,756.28 1481.98,756.5 1483.44,756.58 1484.89,756.79 1486.33,756.86 1487.79,756.99 1489.23,757.19 1490.69,757.23 1492.13,757.43 1493.59,757.53 1495.02,757.61 1496.48,757.78 1497.92,757.97 1499.38,758.12 1500.82,758.3 1502.28,758.46 1503.74,758.5" fill="none" stroke="#F39B7F" stroke-width="1.9" stroke-linejoin="round"/>
<line x1="1118.1" y1="723.3" x2="1511.2" y2="723.3" stroke="#333" stroke-width="1.5"/>
<line x1="1511.2" y1="723.3" x2="1511.2" y2="906.4" stroke="#333" stroke-width="1.5"/>
<line x1="1118.1" y1="906.4" x2="1511.2" y2="906.4" stroke="#111" stroke-width="1.8"/>
<line x1="1118.1" y1="723.3" x2="1118.1" y2="906.4" stroke="#111" stroke-width="1.8"/>
<line x1="1118.1" y1="796.3" x2="1511.2" y2="796.3" stroke="#111" stroke-width="1.8"/>
<line x1="1118.1" y1="833.1" x2="1511.2" y2="833.1" stroke="#111" stroke-width="1.8"/>
<line x1="1113.5" y1="740.02" x2="1118.1" y2="740.02" stroke="#222" stroke-width="1.3"/>
<text class="s" transform="translate(1111.5,743.49)" font-size="10.3" text-anchor="end">0.4</text>
<line x1="1113.5" y1="749.26" x2="1118.1" y2="749.26" stroke="#222" stroke-width="1.3"/>
<text class="s" transform="translate(1111.5,752.73)" font-size="10.3" text-anchor="end">0.2</text>
<line x1="1113.5" y1="758.5" x2="1118.1" y2="758.5" stroke="#222" stroke-width="1.3"/>
<text class="s" transform="translate(1111.5,761.97)" font-size="10.3" text-anchor="end">0.0</text>
<line x1="1113.5" y1="767.74" x2="1118.1" y2="767.74" stroke="#222" stroke-width="1.3"/>
<text class="s" transform="translate(1111.5,771.21)" font-size="10.3" text-anchor="end">−0.2</text>
<line x1="1113.5" y1="776.98" x2="1118.1" y2="776.98" stroke="#222" stroke-width="1.3"/>
<text class="s" transform="translate(1111.5,780.45)" font-size="10.3" text-anchor="end">−0.4</text>
<line x1="1113.5" y1="786.22" x2="1118.1" y2="786.22" stroke="#222" stroke-width="1.3"/>
<text class="s" transform="translate(1111.5,789.69)" font-size="10.3" text-anchor="end">−0.6</text>
<line x1="1113.5" y1="730" x2="1118.1" y2="730" stroke="#222" stroke-width="1.3"/>
<line x1="1113.5" y1="790.5" x2="1118.1" y2="790.5" stroke="#222" stroke-width="1.3"/>
<line x1="1113.5" y1="853.7" x2="1118.1" y2="853.7" stroke="#222" stroke-width="1.3"/>
<text class="s" transform="translate(1111.5,857.17)" font-size="10.3" text-anchor="end">0.5</text>
<line x1="1113.5" y1="865" x2="1118.1" y2="865" stroke="#222" stroke-width="1.3"/>
<text class="s" transform="translate(1111.5,868.47)" font-size="10.3" text-anchor="end">0.0</text>
<line x1="1113.5" y1="876.3" x2="1118.1" y2="876.3" stroke="#222" stroke-width="1.3"/>
<text class="s" transform="translate(1111.5,879.76)" font-size="10.3" text-anchor="end">−0.5</text>
<line x1="1113.5" y1="887.6" x2="1118.1" y2="887.6" stroke="#222" stroke-width="1.3"/>
<text class="s" transform="translate(1111.5,891.07)" font-size="10.3" text-anchor="end">−1.0</text>
<line x1="1113.5" y1="842" x2="1118.1" y2="842" stroke="#222" stroke-width="1.3"/>
<line x1="1113.5" y1="898" x2="1118.1" y2="898" stroke="#222" stroke-width="1.3"/>
<line x1="1126.9" y1="906.4" x2="1126.9" y2="910.9" stroke="#222" stroke-width="1.3"/>
<text class="s" transform="translate(1126.9,922)" font-size="10.3" text-anchor="middle">0</text>
<line x1="1228.2" y1="906.4" x2="1228.2" y2="910.9" stroke="#222" stroke-width="1.3"/>
<text class="s" transform="translate(1228.2,922)" font-size="10.3" text-anchor="middle">5,000</text>
<line x1="1329.5" y1="906.4" x2="1329.5" y2="910.9" stroke="#222" stroke-width="1.3"/>
<text class="s" transform="translate(1329.5,922)" font-size="10.3" text-anchor="middle">10,000</text>
<line x1="1430.8" y1="906.4" x2="1430.8" y2="910.9" stroke="#222" stroke-width="1.3"/>
<text class="s" transform="translate(1430.8,922)" font-size="10.3" text-anchor="middle">15,000</text>
<line x1="1503.74" y1="906.4" x2="1503.74" y2="910.9" stroke="#222" stroke-width="1.3"/>
<text class="s" transform="translate(1314.5,934.9)" font-size="10.2" text-anchor="middle">Rank in Ordered DataSet</text>
<text class="s" transform="translate(1318.4,711.1)" font-size="16.43" text-anchor="middle" style="stroke-width:0.1px">GTPBP3</text>
<text class="s" transform="translate(1077.2,760.8) rotate(-90)" font-size="10.2" text-anchor="middle">Enrichment</text>
<text class="s" transform="translate(1087.3,760.8) rotate(-90)" font-size="10.2" text-anchor="middle">score</text>
<text class="s" transform="translate(1076.6,869.6) rotate(-90)" font-size="10.2" text-anchor="middle">Ranked list</text>
<text class="s" transform="translate(1086.6,869.6) rotate(-90)" font-size="10.2" text-anchor="middle">metric</text>
<text class="s" transform="translate(1490.5,899)" font-size="10.2">H</text>
<text class="s" transform="translate(1131.5,852)" font-size="10.2">L</text>
<line x1="1117.7" y1="941.2" x2="1123.6" y2="941.2" stroke="#E64B35" stroke-width="1.8"/>
<text class="s" transform="translate(1126.2,945.6)" font-size="10.18">RNA_DEGRADATION(ES=-0.5392,NP=0.0142)</text>
<line x1="1117.7" y1="958.3" x2="1123.6" y2="958.3" stroke="#4DBBD5" stroke-width="1.8"/>
<text class="s" transform="translate(1126.2,962.7)" font-size="10.18">MATURITY_ONSET_DIABETES_OF_THE_YOUNG(ES=0.5642,NP=0.0180)</text>
<line x1="1117.7" y1="975.4" x2="1123.6" y2="975.4" stroke="#00A087" stroke-width="1.8"/>
<text class="s" transform="translate(1126.2,979.8)" font-size="10.18">PROTEIN_EXPORT(ES=-0.6718,NP=0.0386)</text>
<line x1="1117.7" y1="992.5" x2="1123.6" y2="992.5" stroke="#3C5488" stroke-width="1.8"/>
<text class="s" transform="translate(1126.2,996.9)" font-size="10.18">SPLICEOSOME(ES=-0.5397,NP=0.0470)</text>
<line x1="1117.7" y1="1009.6" x2="1123.6" y2="1009.6" stroke="#F39B7F" stroke-width="1.8"/>
<text class="s" transform="translate(1126.2,1014)" font-size="10.18">O_GLYCAN_BIOSYNTHESIS(ES=0.4428,NP=0.0658)</text>
<line x1="99.7" y1="1102.4" x2="99.7" y2="1174.7" stroke="#e6e6e6" stroke-width="1"/>
<line x1="99.7" y1="1212.1" x2="99.7" y2="1285.4" stroke="#e6e6e6" stroke-width="1"/>
<line x1="202.2" y1="1102.4" x2="202.2" y2="1174.7" stroke="#e6e6e6" stroke-width="1"/>
<line x1="202.2" y1="1212.1" x2="202.2" y2="1285.4" stroke="#e6e6e6" stroke-width="1"/>
<line x1="304.7" y1="1102.4" x2="304.7" y2="1174.7" stroke="#e6e6e6" stroke-width="1"/>
<line x1="304.7" y1="1212.1" x2="304.7" y2="1285.4" stroke="#e6e6e6" stroke-width="1"/>
<line x1="407.2" y1="1102.4" x2="407.2" y2="1174.7" stroke="#e6e6e6" stroke-width="1"/>
<line x1="407.2" y1="1212.1" x2="407.2" y2="1285.4" stroke="#e6e6e6" stroke-width="1"/>
<line x1="96.7" y1="1155.02" x2="466.65" y2="1155.02" stroke="#e6e6e6" stroke-width="1"/>
<line x1="96.7" y1="1146.44" x2="466.65" y2="1146.44" stroke="#e6e6e6" stroke-width="1"/>
<line x1="96.7" y1="1137.86" x2="466.65" y2="1137.86" stroke="#e6e6e6" stroke-width="1"/>
<line x1="96.7" y1="1129.28" x2="466.65" y2="1129.28" stroke="#e6e6e6" stroke-width="1"/>
<line x1="96.7" y1="1120.7" x2="466.65" y2="1120.7" stroke="#e6e6e6" stroke-width="1"/>
<line x1="96.7" y1="1112.12" x2="466.65" y2="1112.12" stroke="#e6e6e6" stroke-width="1"/>
<line x1="96.7" y1="1230.2" x2="466.65" y2="1230.2" stroke="#e6e6e6" stroke-width="1"/>
<line x1="96.7" y1="1242.5" x2="466.65" y2="1242.5" stroke="#e6e6e6" stroke-width="1"/>
<line x1="96.7" y1="1267.1" x2="466.65" y2="1267.1" stroke="#e6e6e6" stroke-width="1"/>
<line x1="91.6" y1="1163.6" x2="487" y2="1163.6" stroke="#b0b0b0" stroke-width="1" stroke-dasharray="2,2"/>
<path d="M99.7,1254.8 L99.7,1220.36 L100.62,1221.39 L100.93,1228.36 L100.93,1228.36 L100.93,1228.36 L100.93,1228.36 L100.93,1228.36 L100.93,1228.36 L100.93,1228.36 L100.93,1228.36 L100.93,1228.36 L100.93,1228.36 L100.93,1228.36 L101.1,1228.73 L101.29,1229.16 L101.49,1229.61 L101.69,1230.07 L101.91,1230.33 L102.14,1230.51 L102.37,1230.7 L102.61,1230.89 L102.86,1231.09 L103.12,1231.29 L103.38,1231.5 L103.65,1231.72 L103.93,1231.94 L104.22,1232.17 L104.51,1232.41 L104.81,1232.65 L105.11,1232.89 L105.43,1233.14 L105.74,1233.4 L106.07,1233.66 L106.4,1233.92 L106.74,1234.19 L107.08,1234.47 L107.44,1234.75 L107.79,1235.03 L108.15,1235.25 L108.52,1235.43 L108.9,1235.62 L109.28,1235.81 L109.66,1236 L110.06,1236.2 L110.45,1236.4 L110.86,1236.6 L111.26,1236.8 L111.68,1237.01 L112.1,1237.22 L112.52,1237.43 L112.95,1237.65 L113.39,1237.86 L113.83,1238.08 L114.27,1238.31 L114.72,1238.53 L115.18,1238.76 L115.64,1238.99 L116.11,1239.22 L116.58,1239.46 L117.06,1239.7 L117.54,1239.94 L118.02,1240.18 L118.51,1240.43 L119.01,1240.68 L119.51,1240.93 L120.02,1241.18 L120.53,1241.34 L121.04,1241.44 L121.56,1241.55 L122.09,1241.65 L122.62,1241.76 L123.15,1241.87 L123.69,1241.98 L124.23,1242.09 L124.78,1242.2 L125.33,1242.32 L125.89,1242.43 L126.45,1242.54 L127.01,1242.66 L127.58,1242.78 L128.16,1242.89 L128.73,1243.01 L129.32,1243.13 L129.9,1243.25 L130.5,1243.37 L131.09,1243.49 L131.69,1243.61 L132.3,1243.74 L132.9,1243.86 L133.52,1243.99 L134.13,1244.11 L134.76,1244.24 L135.38,1244.37 L136.01,1244.5 L136.64,1244.62 L137.28,1244.75 L137.92,1244.89 L138.57,1245.02 L139.22,1245.15 L139.87,1245.28 L140.53,1245.42 L141.19,1245.52 L141.86,1245.6 L142.53,1245.69 L143.2,1245.77 L143.88,1245.86 L144.56,1245.95 L145.25,1246.03 L145.94,1246.12 L146.63,1246.21 L147.33,1246.3 L148.03,1246.39 L148.73,1246.48 L149.44,1246.57 L150.15,1246.66 L150.87,1246.75 L151.59,1246.85 L152.31,1246.94 L153.04,1247.03 L153.77,1247.13 L154.51,1247.22 L155.25,1247.31 L155.99,1247.41 L156.74,1247.5 L157.49,1247.6 L158.24,1247.7 L159,1247.79 L159.76,1247.89 L160.52,1247.99 L161.29,1248.09 L162.06,1248.19 L162.84,1248.29 L163.62,1248.39 L164.4,1248.49 L165.18,1248.59 L165.97,1248.69 L166.77,1248.79 L167.56,1248.89 L168.36,1248.99 L169.17,1249.1 L169.97,1249.2 L170.78,1249.3 L171.6,1249.4 L172.42,1249.44 L173.24,1249.49 L174.06,1249.53 L174.89,1249.58 L175.72,1249.63 L176.56,1249.67 L177.39,1249.72 L178.24,1249.77 L179.08,1249.82 L179.93,1249.86 L180.78,1249.91 L181.64,1249.96 L182.49,1250.01 L183.36,1250.05 L184.22,1250.1 L185.09,1250.15 L185.96,1250.2 L186.84,1250.25 L187.72,1250.3 L188.6,1250.35 L189.48,1250.4 L190.37,1250.45 L191.26,1250.5 L192.16,1250.55 L193.06,1250.6 L193.96,1250.65 L194.86,1250.7 L195.77,1250.75 L196.68,1250.8 L197.6,1250.85 L198.51,1250.9 L199.43,1250.96 L200.36,1251.01 L201.29,1251.06 L202.22,1251.11 L203.15,1251.14 L204.09,1251.17 L205.03,1251.2 L205.97,1251.23 L206.92,1251.26 L207.86,1251.29 L208.82,1251.32 L209.77,1251.35 L210.73,1251.38 L211.69,1251.41 L212.66,1251.44 L213.63,1251.48 L214.6,1251.51 L215.57,1251.54 L216.55,1251.57 L217.53,1251.6 L218.51,1251.63 L219.5,1251.66 L220.49,1251.7 L221.48,1251.73 L222.48,1251.76 L223.48,1251.79 L224.48,1251.82 L225.48,1251.86 L226.49,1251.89 L227.5,1251.92 L228.51,1251.95 L229.53,1251.98 L230.55,1252.02 L231.57,1252.05 L232.6,1252.08 L233.63,1252.12 L234.66,1252.15 L235.69,1252.18 L236.73,1252.22 L237.77,1252.25 L238.82,1252.28 L239.86,1252.32 L240.91,1252.35 L241.96,1252.38 L243.02,1252.42 L244.08,1252.45 L245.14,1252.48 L246.2,1252.52 L247.27,1252.55 L248.34,1252.59 L249.41,1252.62 L250.49,1252.66 L251.57,1252.69 L252.65,1252.72 L253.73,1252.76 L254.82,1252.79 L255.91,1252.83 L257,1252.86 L258.1,1252.9 L259.2,1252.93 L260.3,1252.97 L261.4,1253 L262.51,1253.04 L263.62,1253.08 L264.73,1253.1 L265.85,1253.13 L266.97,1253.16 L268.09,1253.18 L269.21,1253.21 L270.34,1253.24 L271.47,1253.26 L272.6,1253.29 L273.73,1253.32 L274.87,1253.35 L276.01,1253.37 L277.16,1253.4 L278.3,1253.43 L279.45,1253.46 L280.6,1253.48 L281.76,1253.51 L282.92,1253.54 L284.08,1253.57 L285.24,1253.59 L286.4,1253.62 L287.57,1253.65 L288.74,1253.68 L289.92,1253.71 L291.09,1253.74 L292.27,1253.76 L293.45,1253.79 L294.64,1253.82 L295.83,1253.85 L297.02,1253.88 L298.21,1253.91 L299.4,1253.93 L300.6,1253.96 L301.8,1253.99 L303.01,1254.02 L304.21,1254.05 L305.42,1254.08 L306.63,1254.11 L307.85,1254.14 L309.06,1254.17 L310.28,1254.2 L311.51,1254.23 L312.73,1254.25 L313.96,1254.28 L315.19,1254.31 L316.42,1254.34 L317.66,1254.37 L318.89,1254.4 L320.13,1254.43 L321.38,1254.46 L322.62,1254.49 L323.87,1254.52 L325.12,1254.55 L326.38,1254.58 L327.63,1254.61 L328.89,1254.64 L330.15,1254.67 L331.42,1254.7 L332.68,1254.73 L333.95,1254.76 L335.23,1254.79 L336.5,1254.83 L337.78,1254.86 L339.06,1254.89 L340.34,1254.92 L341.62,1254.95 L342.91,1254.98 L344.2,1255.01 L345.49,1255.04 L346.79,1255.07 L348.08,1255.1 L349.38,1255.13 L350.69,1255.17 L351.99,1255.2 L353.3,1255.23 L354.61,1255.26 L355.92,1255.29 L357.24,1255.32 L358.56,1255.35 L359.88,1255.39 L361.2,1255.42 L362.52,1255.45 L363.85,1255.48 L365.18,1255.51 L366.52,1255.55 L367.85,1255.61 L369.19,1255.66 L370.53,1255.72 L371.87,1255.78 L373.22,1255.83 L374.56,1255.89 L375.91,1255.95 L377.27,1256 L378.62,1256.06 L379.98,1256.12 L381.34,1256.17 L382.7,1256.23 L384.07,1256.29 L385.44,1256.35 L386.81,1256.4 L388.18,1256.46 L389.55,1256.52 L390.93,1256.58 L392.31,1256.63 L393.69,1256.69 L395.08,1256.75 L396.46,1256.81 L397.85,1256.87 L399.25,1256.93 L400.64,1256.98 L402.04,1257.04 L403.44,1257.1 L404.84,1257.16 L406.24,1257.22 L407.65,1257.3 L409.06,1257.41 L410.47,1257.52 L411.88,1257.63 L413.3,1257.75 L414.72,1257.86 L416.14,1257.98 L417.56,1258.09 L418.99,1258.2 L420.42,1258.32 L421.85,1258.43 L423.28,1258.55 L424.72,1258.66 L426.15,1258.78 L427.59,1258.89 L429.04,1259.01 L430.48,1259.12 L431.93,1259.24 L433.38,1259.35 L434.83,1259.47 L436.28,1259.59 L437.74,1259.7 L439.2,1259.95 L440.66,1260.22 L442.12,1260.49 L443.59,1260.76 L445.06,1261.03 L446.53,1261.3 L448,1261.58 L449.48,1261.85 L450.96,1262.12 L452.44,1262.39 L453.92,1262.67 L455.4,1262.94 L456.89,1263.22 L458.38,1263.49 L459.87,1263.77 L461.37,1264.04 L462.86,1264.32 L464.36,1264.6 L465.86,1265.15 L467.37,1265.75 L468.87,1266.35 L470.38,1266.95 L471.89,1267.56 L473.4,1268.16 L474.92,1268.77 L476.43,1269.37 L477.95,1272.09 L479.48,1275.74 L481,1276.94 L481,1254.8 Z" stroke="none" stroke-width="1" fill="#c9c9c9"/>
<line x1="91.6" y1="1254.8" x2="487" y2="1254.8" stroke="#b0b0b0" stroke-width="1" stroke-dasharray="2,2"/>
<path d="M100.02,1175.7V1181.28M100.76,1175.7V1181.28M102.61,1175.7V1181.28M103.54,1175.7V1181.28M104.27,1175.7V1181.28M104.35,1175.7V1181.28M104.62,1175.7V1181.28M106.2,1175.7V1181.28M107.94,1175.7V1181.28M108.19,1175.7V1181.28M109.19,1175.7V1181.28M110.56,1175.7V1181.28M111.23,1175.7V1181.28M112.36,1175.7V1181.28M113.55,1175.7V1181.28M113.57,1175.7V1181.28M114.11,1175.7V1181.28M115.9,1175.7V1181.28M116.34,1175.7V1181.28M116.37,1175.7V1181.28M118.44,1175.7V1181.28M119.63,1175.7V1181.28M120.2,1175.7V1181.28M125.12,1175.7V1181.28M125.3,1175.7V1181.28M125.59,1175.7V1181.28M128.22,1175.7V1181.28M134.31,1175.7V1181.28M135.21,1175.7V1181.28M140.32,1175.7V1181.28M140.86,1175.7V1181.28M144.6,1175.7V1181.28M148.35,1175.7V1181.28M149.18,1175.7V1181.28M149.37,1175.7V1181.28M149.72,1175.7V1181.28M156.24,1175.7V1181.28M157.57,1175.7V1181.28M161.98,1175.7V1181.28M163.28,1175.7V1181.28M164.61,1175.7V1181.28M167.39,1175.7V1181.28M171.9,1175.7V1181.28M173.16,1175.7V1181.28M174.39,1175.7V1181.28M178.01,1175.7V1181.28M178.44,1175.7V1181.28M181.19,1175.7V1181.28M183.7,1175.7V1181.28M184.86,1175.7V1181.28M192.68,1175.7V1181.28M195.29,1175.7V1181.28M197.25,1175.7V1181.28M197.3,1175.7V1181.28M199.81,1175.7V1181.28M201.43,1175.7V1181.28M202.2,1175.7V1181.28M203.77,1175.7V1181.28M210.55,1175.7V1181.28M211.16,1175.7V1181.28M212.94,1175.7V1181.28M216.12,1175.7V1181.28M220.4,1175.7V1181.28M221.7,1175.7V1181.28M222.13,1175.7V1181.28M225.33,1175.7V1181.28M225.86,1175.7V1181.28M229.13,1175.7V1181.28M232.09,1175.7V1181.28M234.07,1175.7V1181.28M236.04,1175.7V1181.28M236.08,1175.7V1181.28M238.45,1175.7V1181.28M247.58,1175.7V1181.28M248.31,1175.7V1181.28M249.15,1175.7V1181.28M249.32,1175.7V1181.28M251.08,1175.7V1181.28M256.67,1175.7V1181.28M259.02,1175.7V1181.28M260.49,1175.7V1181.28M265.06,1175.7V1181.28M266.06,1175.7V1181.28M268.49,1175.7V1181.28M273.01,1175.7V1181.28M275.74,1175.7V1181.28M277.68,1175.7V1181.28M279.83,1175.7V1181.28M279.95,1175.7V1181.28M280.98,1175.7V1181.28M287.53,1175.7V1181.28M287.88,1175.7V1181.28M292.49,1175.7V1181.28M293.54,1175.7V1181.28M296.22,1175.7V1181.28M298.73,1175.7V1181.28M302.22,1175.7V1181.28M303.01,1175.7V1181.28M303.89,1175.7V1181.28M307.39,1175.7V1181.28M307.79,1175.7V1181.28M311.94,1175.7V1181.28M314.12,1175.7V1181.28M316.72,1175.7V1181.28M317.65,1175.7V1181.28M326.12,1175.7V1181.28M328.7,1175.7V1181.28M330.42,1175.7V1181.28M333.17,1175.7V1181.28M333.68,1175.7V1181.28M334.84,1175.7V1181.28M340.42,1175.7V1181.28M341.79,1175.7V1181.28M343.67,1175.7V1181.28M346.98,1175.7V1181.28M348.74,1175.7V1181.28M349.55,1175.7V1181.28M351.45,1175.7V1181.28M354.4,1175.7V1181.28M357.35,1175.7V1181.28M357.57,1175.7V1181.28M359.14,1175.7V1181.28M366.01,1175.7V1181.28M370.67,1175.7V1181.28M388.44,1175.7V1181.28M396.83,1175.7V1181.28M399.05,1175.7V1181.28M405.94,1175.7V1181.28M415.95,1175.7V1181.28M423.84,1175.7V1181.28M443.32,1175.7V1181.28M460.12,1175.7V1181.28M462.83,1175.7V1181.28M464.44,1175.7V1181.28" stroke="#E64B35" stroke-width="1.8" fill="none"/>
<path d="M102.01,1183.18V1188.76M104.61,1183.18V1188.76M105.1,1183.18V1188.76M108.88,1183.18V1188.76M110.77,1183.18V1188.76M110.89,1183.18V1188.76M114.79,1183.18V1188.76M118.83,1183.18V1188.76M119.42,1183.18V1188.76M121.74,1183.18V1188.76M123.3,1183.18V1188.76M124.26,1183.18V1188.76M124.42,1183.18V1188.76M127.8,1183.18V1188.76M142.48,1183.18V1188.76M143.96,1183.18V1188.76M146.04,1183.18V1188.76M150.47,1183.18V1188.76M161.95,1183.18V1188.76M163.04,1183.18V1188.76M167.24,1183.18V1188.76M168.51,1183.18V1188.76M177.59,1183.18V1188.76M194.01,1183.18V1188.76M194.42,1183.18V1188.76M200.92,1183.18V1188.76M216.27,1183.18V1188.76M219.27,1183.18V1188.76M223.89,1183.18V1188.76M226.4,1183.18V1188.76M233.11,1183.18V1188.76M238.25,1183.18V1188.76M247.71,1183.18V1188.76M252.4,1183.18V1188.76M256.28,1183.18V1188.76M262.37,1183.18V1188.76M269.78,1183.18V1188.76M271.67,1183.18V1188.76M281.34,1183.18V1188.76M287.5,1183.18V1188.76M304.21,1183.18V1188.76M304.48,1183.18V1188.76M306.95,1183.18V1188.76M320.78,1183.18V1188.76M330.68,1183.18V1188.76M333.23,1183.18V1188.76M340.06,1183.18V1188.76M340.5,1183.18V1188.76M353.08,1183.18V1188.76M357.83,1183.18V1188.76M368.14,1183.18V1188.76M368.94,1183.18V1188.76M373.77,1183.18V1188.76M384.69,1183.18V1188.76M386.78,1183.18V1188.76M390.6,1183.18V1188.76M405.04,1183.18V1188.76M416.3,1183.18V1188.76M417.73,1183.18V1188.76M423.68,1183.18V1188.76M425.38,1183.18V1188.76M428.54,1183.18V1188.76M436.49,1183.18V1188.76M441.07,1183.18V1188.76M460.21,1183.18V1188.76M463.06,1183.18V1188.76M473.23,1183.18V1188.76M477.54,1183.18V1188.76M481,1183.18V1188.76" stroke="#4DBBD5" stroke-width="1.8" fill="none"/>
<path d="M101.6,1190.66V1196.24M103.35,1190.66V1196.24M106.3,1190.66V1196.24M106.57,1190.66V1196.24M107.43,1190.66V1196.24M108.55,1190.66V1196.24M109.46,1190.66V1196.24M115.87,1190.66V1196.24M116.43,1190.66V1196.24M116.91,1190.66V1196.24M118.57,1190.66V1196.24M121.29,1190.66V1196.24M121.9,1190.66V1196.24M126.9,1190.66V1196.24M126.98,1190.66V1196.24M129.54,1190.66V1196.24M132.06,1190.66V1196.24M136.86,1190.66V1196.24M147.29,1190.66V1196.24M150.77,1190.66V1196.24M151.86,1190.66V1196.24M170.97,1190.66V1196.24M174.44,1190.66V1196.24M177.03,1190.66V1196.24M184.97,1190.66V1196.24M189.04,1190.66V1196.24M197.55,1190.66V1196.24M200.55,1190.66V1196.24M208.17,1190.66V1196.24M217.07,1190.66V1196.24M218.44,1190.66V1196.24M229.35,1190.66V1196.24M238.99,1190.66V1196.24M244.02,1190.66V1196.24M250.52,1190.66V1196.24M258.81,1190.66V1196.24M259.67,1190.66V1196.24M263.83,1190.66V1196.24M279.21,1190.66V1196.24M280.13,1190.66V1196.24M282.29,1190.66V1196.24M298.5,1190.66V1196.24M300.68,1190.66V1196.24M310.09,1190.66V1196.24M313.53,1190.66V1196.24M314.45,1190.66V1196.24M328.89,1190.66V1196.24M331.78,1190.66V1196.24M340.63,1190.66V1196.24M344.38,1190.66V1196.24M352.99,1190.66V1196.24M353.19,1190.66V1196.24M360.95,1190.66V1196.24M366.47,1190.66V1196.24M380.81,1190.66V1196.24M381.48,1190.66V1196.24M392.26,1190.66V1196.24M398.91,1190.66V1196.24M408.76,1190.66V1196.24M410.67,1190.66V1196.24M415.68,1190.66V1196.24M421.34,1190.66V1196.24M436.7,1190.66V1196.24M438.65,1190.66V1196.24M440.23,1190.66V1196.24M450.95,1190.66V1196.24M451.98,1190.66V1196.24M460.87,1190.66V1196.24M461.96,1190.66V1196.24M467.1,1190.66V1196.24M468.19,1190.66V1196.24" stroke="#00A087" stroke-width="1.8" fill="none"/>
<path d="M100.12,1198.14V1203.72M100.17,1198.14V1203.72M107.84,1198.14V1203.72M109.99,1198.14V1203.72M112.83,1198.14V1203.72M115.51,1198.14V1203.72M115.78,1198.14V1203.72M117.37,1198.14V1203.72M119.76,1198.14V1203.72M124.3,1198.14V1203.72M130.62,1198.14V1203.72M133.92,1198.14V1203.72M144.63,1198.14V1203.72M153.34,1198.14V1203.72M160.48,1198.14V1203.72M172.02,1198.14V1203.72M179.83,1198.14V1203.72M181.52,1198.14V1203.72M187.51,1198.14V1203.72M193.13,1198.14V1203.72M217.33,1198.14V1203.72M222.95,1198.14V1203.72M230.11,1198.14V1203.72M240.68,1198.14V1203.72M244.16,1198.14V1203.72M246.64,1198.14V1203.72M251.47,1198.14V1203.72M262.52,1198.14V1203.72M270.42,1198.14V1203.72M273.85,1198.14V1203.72M274.98,1198.14V1203.72M290.68,1198.14V1203.72M304.07,1198.14V1203.72M316.52,1198.14V1203.72M330.8,1198.14V1203.72M331.42,1198.14V1203.72M340.09,1198.14V1203.72M345.3,1198.14V1203.72M351.08,1198.14V1203.72M363.18,1198.14V1203.72M370.48,1198.14V1203.72M377.25,1198.14V1203.72M382.81,1198.14V1203.72M383.23,1198.14V1203.72M396,1198.14V1203.72M403.58,1198.14V1203.72M408.13,1198.14V1203.72M424.9,1198.14V1203.72M426.98,1198.14V1203.72M430.78,1198.14V1203.72M440.8,1198.14V1203.72M446.64,1198.14V1203.72M451.85,1198.14V1203.72M468.47,1198.14V1203.72M472.01,1198.14V1203.72" stroke="#3C5488" stroke-width="1.8" fill="none"/>
<path d="M99.79,1205.62V1211.2M102.34,1205.62V1211.2M103.94,1205.62V1211.2M105.48,1205.62V1211.2M106.36,1205.62V1211.2M112.56,1205.62V1211.2M112.69,1205.62V1211.2M113.03,1205.62V1211.2M118.64,1205.62V1211.2M118.76,1205.62V1211.2M119.03,1205.62V1211.2M123.36,1205.62V1211.2M124.45,1205.62V1211.2M124.77,1205.62V1211.2M125.51,1205.62V1211.2M128.18,1205.62V1211.2M130.45,1205.62V1211.2M136.84,1205.62V1211.2M141.19,1205.62V1211.2M144.47,1205.62V1211.2M147.36,1205.62V1211.2M160.44,1205.62V1211.2M163.99,1205.62V1211.2M167.93,1205.62V1211.2M171.78,1205.62V1211.2M180.42,1205.62V1211.2M182.97,1205.62V1211.2M185.56,1205.62V1211.2M194.27,1205.62V1211.2M206.89,1205.62V1211.2M210.53,1205.62V1211.2M211.21,1205.62V1211.2M220.84,1205.62V1211.2M225.04,1205.62V1211.2M225.91,1205.62V1211.2M226.62,1205.62V1211.2M239.83,1205.62V1211.2M246.75,1205.62V1211.2M251.67,1205.62V1211.2M259.68,1205.62V1211.2M259.73,1205.62V1211.2M260.36,1205.62V1211.2M270.95,1205.62V1211.2M279.22,1205.62V1211.2M283.47,1205.62V1211.2M286.17,1205.62V1211.2M292.77,1205.62V1211.2M299.13,1205.62V1211.2M300.01,1205.62V1211.2M307.99,1205.62V1211.2M314.7,1205.62V1211.2M317.26,1205.62V1211.2M319.63,1205.62V1211.2M320.44,1205.62V1211.2M333.9,1205.62V1211.2M342.28,1205.62V1211.2M345.29,1205.62V1211.2M346.25,1205.62V1211.2M353.26,1205.62V1211.2M366.04,1205.62V1211.2M366.2,1205.62V1211.2M396.23,1205.62V1211.2M402.02,1205.62V1211.2M403.3,1205.62V1211.2M423.01,1205.62V1211.2M426.15,1205.62V1211.2M440.29,1205.62V1211.2M465.17,1205.62V1211.2M474.93,1205.62V1211.2" stroke="#F39B7F" stroke-width="1.8" fill="none"/>
<line x1="90.6" y1="1182.18" x2="488" y2="1182.18" stroke="#222" stroke-width="1.3"/>
<line x1="90.6" y1="1189.66" x2="488" y2="1189.66" stroke="#222" stroke-width="1.3"/>
<line x1="90.6" y1="1197.14" x2="488" y2="1197.14" stroke="#222" stroke-width="1.3"/>
<line x1="90.6" y1="1204.62" x2="488" y2="1204.62" stroke="#222" stroke-width="1.3"/>
<polyline points="99.7,1163.6 101.16,1158.24 102.63,1152.2 103.8,1148.06 104.09,1147.78 105.56,1144.21 107.02,1141.15 108.49,1138.47 109.95,1134.99 111.43,1132.44 112.88,1129.85 114.36,1127.83 115.81,1125.75 116.1,1124.86 117.29,1124.49 118.77,1123.56 120.22,1122.8 121.7,1121.78 123.15,1121.39 124.3,1120.92 124.63,1120.96 126.08,1120.26 127.56,1120.11 129.02,1120.17 130.49,1120.44 131.95,1119.75 133.42,1119.39 134.88,1119.64 136.35,1119.72 137.83,1119.86 139.29,1119.06 140.7,1118.8 140.76,1119.03 142.22,1117.88 143.69,1117.46 145.15,1116.54 146.62,1115.64 146.85,1115.57 148.08,1115.62 149.56,1115.92 151.01,1116.05 152.49,1116.42 153.94,1116.73 155.42,1117.07 156.9,1116.71 158.35,1116.87 159.83,1117.08 161.28,1117.05 162.76,1117.32 164.21,1117.51 165.69,1117.59 167.15,1117.35 168.62,1117.55 170.08,1117.72 171.55,1117.99 173.01,1118.39 174.48,1118.07 175.96,1117.86 177.42,1118.15 178.89,1118.32 180.35,1118.54 181.82,1118.81 183.28,1118.98 184.75,1119.16 186.21,1119.3 187.69,1119.38 189.14,1119.52 190.62,1119.69 192.07,1119.66 193.55,1119.7 195.03,1119.98 196.48,1120.05 197.96,1120.23 199.41,1120.41 200.89,1120.53 202.2,1120.63 202.34,1120.6 203.82,1121.02 205.28,1121.38 206.75,1121.7 208.21,1121.8 209.68,1122.06 211.14,1122.39 212.61,1122.46 214.09,1122.64 215.55,1122.88 217.02,1123.2 218.48,1123.36 219.95,1123.78 221.41,1124.02 222.88,1124.23 224.34,1124.48 225.82,1124.59 227.27,1124.98 228.75,1125.12 230.2,1125.37 231.68,1125.52 233.16,1125.69 234.61,1125.93 236.09,1126.15 237.54,1126.37 239.02,1126.69 240.47,1126.97 241.95,1127.41 243.41,1127.52 244.88,1127.86 246.34,1128.08 247.81,1128.47 249.27,1128.52 250.74,1128.66 252.22,1129.1 253.68,1129.3 255.15,1129.47 256.61,1129.66 258.08,1129.86 259.54,1130.21 261.01,1130.36 262.47,1130.7 263.95,1130.93 265.4,1131.3 266.88,1131.5 268.33,1131.83 269.81,1132.15 271.29,1132.2 272.74,1132.38 274.22,1132.7 275.67,1133.03 277.15,1133.31 278.6,1133.67 280.08,1133.72 281.54,1133.94 283.01,1134.22 284.47,1134.5 285.94,1134.78 287.4,1135.11 288.87,1135.4 290.35,1135.56 291.81,1135.84 293.28,1136.15 294.74,1136.26 296.21,1136.49 297.67,1136.69 299.14,1136.83 300.6,1137.15 302.08,1137.48 303.53,1137.82 304.7,1137.94 305.01,1138.06 306.46,1138.26 307.94,1138.47 309.42,1138.81 310.87,1139.08 312.35,1139.2 313.8,1139.49 315.28,1139.74 316.73,1139.86 318.21,1140.26 319.67,1140.65 321.14,1140.81 322.6,1140.99 324.07,1141.16 325.53,1141.54 327,1141.93 328.48,1142.03 329.94,1142.32 331.41,1142.59 332.87,1142.84 334.34,1143.01 335.8,1143.3 337.27,1143.52 338.73,1143.89 340.21,1144.04 341.66,1144.2 343.14,1144.66 344.59,1144.97 346.07,1145.1 347.55,1145.51 349,1145.74 350.48,1146.07 351.93,1146.39 353.41,1146.7 354.86,1146.86 356.34,1147.18 357.8,1147.23 359.27,1147.56 360.73,1147.75 362.2,1148.07 363.66,1148.4 365.13,1148.66 366.61,1148.84 368.07,1148.92 369.54,1149.33 371,1149.49 372.47,1149.68 373.93,1150.08 375.4,1150.24 376.86,1150.44 378.34,1150.71 379.79,1151.12 381.27,1151.31 382.72,1151.61 384.2,1151.76 385.68,1152.16 387.13,1152.25 388.61,1152.51 390.06,1152.74 391.54,1153.07 392.99,1153.42 394.47,1153.68 395.93,1153.79 397.4,1154.22 398.86,1154.35 400.33,1154.78 401.79,1155.05 403.26,1155.22 404.74,1155.55 406.2,1155.75 407.2,1155.97 407.67,1156.05 409.13,1155.98 410.6,1156.28 412.06,1156.3 413.53,1156.36 414.99,1156.47 416.47,1156.75 417.92,1156.76 419.4,1156.83 420.85,1157.06 422.33,1157.22 423.81,1157.3 425.26,1157.37 426.74,1157.55 427.7,1157.76 428.19,1157.65 429.67,1157.93 431.12,1158.15 432.6,1158.29 434.06,1158.46 435.53,1158.54 436.99,1158.7 438.46,1158.72 439.92,1158.98 441.39,1159.26 442.87,1159.29 444.33,1159.35 445.8,1159.43 447.26,1159.68 448.73,1159.92 450.19,1159.99 451.66,1160.36 453.12,1160.37 454.6,1160.7 456.05,1160.87 457.53,1161.1 458.98,1161.07 460.46,1161.25 461.94,1161.37 463.39,1161.63 464.87,1161.73 466.32,1161.99 467.8,1162.2 469.25,1162.29 470.73,1162.51 472.19,1162.56 473.66,1162.86 475.12,1162.96 476.59,1163.04 478.05,1163.32 479.52,1163.32 481,1163.6" fill="none" stroke="#E64B35" stroke-width="1.9" stroke-linejoin="round"/>
<polyline points="99.7,1163.6 101.16,1157.73 102.63,1151.35 103.8,1146.41 104.09,1145.53 105.56,1142.6 107.02,1139.36 108.49,1136.12 109.95,1133.39 111.43,1131.79 112.88,1129.83 114.36,1128.35 115.81,1126.04 117.29,1124.57 118.15,1123.16 118.77,1123.31 120.22,1122.96 121.7,1121.99 123.15,1121.32 124.63,1120.97 126.08,1120.32 127.56,1120.04 129.02,1119.72 130.45,1119.24 130.49,1119.08 131.95,1118.95 133.42,1118.47 134.88,1117.69 136.35,1117.44 137.83,1117.06 139.29,1116.81 140.76,1116.96 142.22,1116.96 143.69,1116.43 145.15,1115.8 146.62,1115.15 148.08,1115.23 149.56,1114.54 150.95,1114.58 151.01,1114.97 152.49,1115.09 153.94,1114.88 155.42,1114.98 156.9,1114.44 158.35,1114.08 159.15,1114.06 159.83,1113.95 161.28,1114.06 162.76,1114.12 164.21,1114.73 165.69,1115.01 167.15,1115.32 168.62,1115.24 170.08,1115.41 171.55,1115.7 173.01,1116.19 174.48,1116.53 175.96,1117.08 177.42,1117.03 178.89,1117.44 180.35,1117.82 181.82,1117.86 183.28,1117.85 184.75,1118.18 186.21,1118.24 187.69,1118.46 189.14,1118.82 190.62,1119.13 192.07,1119.23 193.55,1119.32 195.03,1119.7 196.48,1119.75 197.96,1120.03 199.41,1120.26 200.89,1120.37 202.2,1120.73 202.34,1120.79 203.82,1120.89 205.28,1121.2 206.75,1121.42 208.21,1121.65 209.68,1121.97 211.14,1122.23 212.61,1122.66 214.09,1122.82 215.55,1123.26 217.02,1123.45 218.48,1123.79 219.95,1124.07 221.41,1124.19 222.88,1124.47 224.34,1124.65 225.82,1124.85 227.27,1125.17 228.75,1125.4 230.2,1125.69 231.68,1126.05 233.16,1126.29 234.61,1126.56 236.09,1126.93 237.54,1127.17 239.02,1127.56 240.47,1127.67 241.95,1128.01 243.41,1128.19 244.88,1128.38 246.34,1128.8 247.81,1129.18 249.27,1129.52 250.74,1129.62 252.22,1129.79 253.68,1130.05 255.15,1130.5 256.61,1130.85 258.08,1131.16 259.54,1131.49 261.01,1131.63 262.47,1131.95 263.95,1132.14 265.4,1132.47 266.88,1132.79 268.33,1132.95 269.81,1133.05 271.29,1133.45 272.74,1133.8 274.22,1134.07 275.67,1134.3 277.15,1134.47 278.6,1134.62 280.08,1134.99 281.54,1135.16 283.01,1135.53 284.47,1135.77 285.94,1136.01 287.4,1136.42 288.87,1136.73 290.35,1137.04 291.81,1137.23 293.28,1137.47 294.74,1137.77 296.21,1138.1 297.67,1138.48 299.14,1138.62 300.6,1138.85 302.08,1139.21 303.53,1139.55 304.7,1139.65 305.01,1139.73 306.46,1139.9 307.94,1140.26 309.42,1140.63 310.87,1140.94 312.35,1141.24 313.8,1141.42 315.28,1141.59 316.73,1141.97 318.21,1142.26 319.67,1142.54 321.14,1142.64 322.6,1142.91 324.07,1143.09 325.53,1143.47 327,1143.78 328.48,1144.05 329.94,1144.21 331.41,1144.39 332.87,1144.59 334.34,1144.93 335.8,1145.26 337.27,1145.66 338.73,1145.83 340.21,1146.2 341.66,1146.3 343.14,1146.6 344.59,1146.91 346.07,1147.28 347.55,1147.56 349,1147.69 350.48,1148.07 351.93,1148.37 353.41,1148.63 354.86,1148.85 356.34,1149.19 357.8,1149.5 359.27,1149.83 360.73,1149.87 362.2,1150.27 363.66,1150.48 365.13,1150.59 366.61,1150.81 368.07,1151.02 369.54,1151.44 371,1151.67 372.47,1152.11 373.93,1152.24 375.4,1152.68 376.86,1152.96 378.34,1153.31 379.79,1153.61 381.27,1153.75 382.72,1153.91 384.2,1154.23 385.68,1154.4 387.13,1154.66 388.61,1155.05 390.06,1155.35 391.54,1155.54 392.99,1155.73 394.47,1155.93 395.93,1156.4 397.4,1156.68 398.86,1157.07 400.33,1157.21 401.79,1157.54 403.26,1157.85 404.74,1158.06 406.2,1158.17 407.2,1158.38 407.67,1158.63 409.13,1158.86 410.6,1159.16 412.06,1159.61 413.53,1160.07 414.99,1160.5 416.47,1160.87 417.92,1161.09 419.4,1161.42 420.85,1161.94 422.33,1162.42 423.81,1162.75 425.26,1163.04 426.74,1163.33 427.7,1163.61 428.19,1163.55 429.67,1163.3 431.12,1163.09 432.6,1162.97 434.06,1162.79 435.53,1162.84 436.99,1162.87 438.46,1162.67 439.92,1162.63 441.39,1162.4 442.87,1162.24 444.33,1162.25 445.8,1162.21 447.26,1162.09 448.73,1161.92 450.19,1161.81 451.66,1161.77 453.12,1161.53 454.6,1161.53 456.05,1161.4 457.53,1161.12 458.45,1161.12 458.98,1161.18 460.46,1161.38 461.94,1161.39 463.39,1161.51 464.87,1161.72 466.32,1161.8 467.8,1161.91 469.25,1162.2 470.73,1162.52 472.19,1162.69 473.66,1162.73 475.12,1162.93 476.59,1163.12 478.05,1163.27 479.52,1163.38 481,1163.6" fill="none" stroke="#4DBBD5" stroke-width="1.9" stroke-linejoin="round"/>
<polyline points="99.7,1163.6 101.16,1158.32 102.63,1153.08 103.8,1148.71 104.09,1147.77 105.56,1144.4 107.02,1141.25 108.49,1138.42 109.95,1135.75 111.43,1133.56 112.88,1131.61 114.36,1129.7 115.81,1127.87 117.29,1125.95 118.15,1124.59 118.77,1124.07 120.22,1123.91 121.7,1123.73 123.15,1123.03 124.63,1122.42 126.08,1121.34 127.56,1120.86 129.02,1120.48 130.49,1119.96 131.95,1119.62 132.5,1119.27 133.42,1118.81 134.88,1118.95 136.35,1118.91 137.83,1118.31 139.29,1117.84 140.76,1117.66 142.22,1117.04 143.69,1117.05 145.15,1116.36 146.62,1115.81 148.08,1115.49 149.56,1115.15 150.95,1115.48 151.01,1115.37 152.49,1115.31 153.94,1115.53 155.42,1115.26 156.9,1115.16 158.35,1114.68 159.83,1114.76 161.2,1114.26 161.28,1114.34 162.76,1114.19 164.21,1114.59 165.69,1115.25 167.15,1115.35 168.62,1115.66 170.08,1115.72 171.55,1115.78 173.01,1115.72 174.48,1115.74 175.96,1116.17 177.42,1116.06 178.89,1116.31 180.35,1116.93 181.82,1116.84 183.28,1116.84 184.75,1116.94 186.21,1117.28 187.69,1117.45 189.14,1117.46 190.62,1117.64 192.07,1117.85 193.55,1118.06 195.03,1118.15 196.48,1118.34 197.96,1118.37 199.41,1118.71 200.89,1118.76 202.2,1118.88 202.34,1119.05 203.82,1119.43 205.28,1119.65 206.75,1119.74 208.21,1120.13 209.68,1120.51 211.14,1120.78 212.61,1121.12 214.09,1121.17 215.55,1121.33 217.02,1121.74 218.48,1121.9 219.95,1122.09 221.41,1122.3 222.88,1122.53 224.34,1122.84 225.82,1123.2 227.27,1123.38 228.75,1123.63 230.2,1123.96 231.68,1124.41 233.16,1124.81 234.61,1124.91 236.09,1125.35 237.54,1125.66 239.02,1125.83 240.47,1126.2 241.95,1126.3 243.41,1126.56 244.88,1126.78 246.34,1127.08 247.81,1127.3 249.27,1127.68 250.74,1127.83 252.22,1128.23 253.68,1128.59 255.15,1128.91 256.61,1129.25 258.08,1129.35 259.54,1129.57 261.01,1129.74 262.47,1130.06 263.95,1130.44 265.4,1130.59 266.88,1131.01 268.33,1131.13 269.81,1131.4 271.29,1131.7 272.74,1132.01 274.22,1132.19 275.67,1132.5 277.15,1132.66 278.6,1133.11 280.08,1133.32 281.54,1133.67 283.01,1134 284.47,1134.13 285.94,1134.35 287.4,1134.75 288.87,1134.9 290.35,1135.06 291.81,1135.29 293.28,1135.66 294.74,1135.87 296.21,1136.18 297.67,1136.37 299.14,1136.86 300.6,1137.17 302.08,1137.38 303.53,1137.67 304.7,1137.79 305.01,1137.86 306.46,1138.09 307.94,1138.56 309.42,1138.95 310.87,1139.16 312.35,1139.52 313.8,1139.65 315.28,1139.82 316.73,1140.15 318.21,1140.36 319.67,1140.72 321.14,1140.95 322.6,1141.45 324.07,1141.75 325.53,1142.14 327,1142.43 328.48,1142.63 329.94,1142.85 331.41,1143.17 332.87,1143.39 334.34,1143.81 335.8,1144.04 337.27,1144.41 338.73,1144.82 340.21,1145.08 341.66,1145.41 343.14,1145.56 344.59,1145.78 346.07,1145.98 347.55,1146.42 349,1146.7 350.48,1147.09 351.93,1147.45 353.41,1147.66 354.86,1147.94 356.34,1148.21 357.8,1148.43 359.27,1148.91 360.73,1149.11 362.2,1149.49 363.66,1149.8 365.13,1150.02 366.61,1150.21 368.07,1150.54 369.54,1150.75 371,1150.96 372.47,1151.41 373.93,1151.88 375.4,1152.26 376.86,1152.47 378.34,1152.82 379.79,1153.17 381.27,1153.42 382.72,1153.5 384.2,1153.69 385.68,1154.18 387.13,1154.39 388.61,1154.83 390.06,1155.14 391.54,1155.38 392.99,1155.55 394.47,1155.85 395.93,1156.25 397.4,1156.6 398.86,1156.98 400.33,1157.12 401.79,1157.24 403.26,1157.47 404.74,1157.98 406.2,1158.16 407.2,1158.3 407.67,1158.58 409.13,1158.74 410.6,1159.22 412.06,1159.52 413.53,1159.94 414.99,1160.26 416.47,1160.52 417.92,1160.79 419.4,1160.95 420.85,1161.3 422.33,1161.74 423.81,1161.89 425.26,1162.25 426.74,1162.49 428.19,1162.82 429.67,1163.07 431.12,1163.28 432.6,1163.67 434.06,1163.95 435.53,1164.43 436.99,1164.81 438.46,1165.04 439.92,1165.18 441.39,1165.53 442.87,1165.9 444.33,1166.3 445.8,1166.51 447.26,1166.84 448.2,1167.11 448.73,1166.84 450.19,1166.21 451.66,1165.45 453.12,1164.92 454.6,1164.35 456.05,1163.69 456.4,1163.55 457.53,1163.61 458.98,1163.74 460.46,1163.63 461.94,1163.54 463.39,1163.57 464.87,1163.46 466.32,1163.43 467.8,1163.36 469.25,1163.5 470.73,1163.44 472.19,1163.6 473.66,1163.51 475.12,1163.56 476.59,1163.61 478.05,1163.75 479.52,1163.73 481,1163.6" fill="none" stroke="#00A087" stroke-width="1.9" stroke-linejoin="round"/>
<polyline points="99.7,1163.6 101.16,1159.98 102.63,1156.17 103.8,1152.86 104.09,1152.52 105.56,1148.53 107.02,1144.62 108.49,1141.09 109.95,1137.2 111.43,1135.45 112.88,1133.27 114.36,1131.22 115.81,1129.17 117.29,1126.39 118.15,1124.9 118.77,1124.49 120.22,1124.23 121.7,1123.57 123.15,1123.4 124.63,1122.59 126.08,1122.02 127.56,1121.66 129.02,1121.15 130.45,1120.34 130.49,1120.33 131.95,1120.49 133.42,1120.47 134.88,1120.39 136.35,1119.99 137.83,1119.71 139.29,1119.44 140.76,1118.72 142.22,1118.27 143.69,1118.21 145.15,1118 146.62,1117.87 146.85,1117.19 148.08,1117.19 149.56,1117.06 151.01,1116.61 152.49,1116.73 153.94,1116.15 155.05,1115.97 155.42,1115.91 156.9,1116.23 158.35,1117.05 159.83,1117.48 161.28,1117.91 162.76,1118.36 164.21,1118.23 165.69,1118.23 167.15,1118.57 168.62,1118.69 170.08,1118.76 171.55,1119.2 173.01,1119.73 174.48,1120 175.96,1120.06 177.42,1120.22 178.89,1120.34 180.35,1120.46 181.82,1120.81 183.28,1121.09 184.75,1121.35 186.21,1121.5 187.69,1121.82 189.14,1122.01 190.62,1122.27 192.07,1122.47 193.55,1122.67 195.03,1122.81 196.48,1123.23 197.96,1123.53 199.41,1123.86 200.89,1124.01 202.2,1124.16 202.34,1124.23 203.82,1124.41 205.28,1124.76 206.75,1124.95 208.21,1125.07 209.68,1125.36 211.14,1125.53 212.61,1125.77 214.09,1126.25 215.55,1126.54 217.02,1126.8 218.48,1127.02 219.95,1127.32 221.41,1127.65 222.88,1127.94 224.34,1128.21 225.82,1128.41 227.27,1128.62 228.75,1128.97 230.2,1129.29 231.68,1129.33 233.16,1129.61 234.61,1129.94 236.09,1130.26 237.54,1130.57 239.02,1130.59 240.47,1130.99 241.95,1131.35 243.41,1131.46 244.88,1131.56 246.34,1131.84 247.81,1132.04 249.27,1132.28 250.74,1132.5 252.22,1132.9 253.68,1133.26 255.15,1133.45 256.61,1133.84 258.08,1134.03 259.54,1134.39 261.01,1134.53 262.47,1134.8 263.95,1135.16 265.4,1135.37 266.88,1135.69 268.33,1135.88 269.81,1136.23 271.29,1136.26 272.74,1136.42 274.22,1136.85 275.67,1137.01 277.15,1137.29 278.6,1137.59 280.08,1137.86 281.54,1138.16 283.01,1138.29 284.47,1138.57 285.94,1138.84 287.4,1139.15 288.87,1139.46 290.35,1139.64 291.81,1139.81 293.28,1140.11 294.74,1140.32 296.21,1140.75 297.67,1141.11 299.14,1141.29 300.6,1141.63 302.08,1141.94 303.53,1142.01 304.7,1142.34 305.01,1142.2 306.46,1142.48 307.94,1142.66 309.42,1142.83 310.87,1143.27 312.35,1143.61 313.8,1143.91 315.28,1144.18 316.73,1144.3 318.21,1144.4 319.67,1144.78 321.14,1144.95 322.6,1145.34 324.07,1145.45 325.53,1145.82 327,1146.04 328.48,1146.22 329.94,1146.37 331.41,1146.81 332.87,1147.17 334.34,1147.36 335.8,1147.7 337.27,1148.04 338.73,1148.37 340.21,1148.55 341.66,1148.74 343.14,1149.06 344.59,1149.21 346.07,1149.35 347.55,1149.63 349,1150.01 350.48,1150.2 351.93,1150.54 353.41,1150.74 354.86,1151.02 356.34,1151.34 357.8,1151.52 359.27,1151.74 360.73,1151.9 362.2,1152.07 363.66,1152.54 365.13,1152.65 366.61,1152.92 368.07,1153.2 369.54,1153.47 371,1153.77 372.47,1154.03 373.93,1154.37 375.4,1154.66 376.86,1154.84 378.34,1155.23 379.79,1155.43 381.27,1155.53 382.72,1155.93 384.2,1156.25 385.68,1156.43 387.13,1156.69 388.61,1157 390.06,1157.18 391.54,1157.46 392.99,1157.68 394.47,1157.97 395.93,1158.22 397.4,1158.34 398.86,1158.54 400.33,1158.83 401.79,1159.11 403.26,1159.39 404.74,1159.79 406.2,1160.14 407.2,1160.23 407.67,1160.28 409.13,1160.51 410.6,1160.8 412.06,1161.13 413.53,1161.57 414.99,1161.96 416.47,1162.19 417.92,1162.36 419.4,1162.79 420.85,1163.17 422.33,1163.42 423.81,1163.61 425.26,1163.82 426.74,1164.18 427.7,1164.29 428.19,1164.39 429.67,1164.4 431.12,1164.41 432.6,1164.2 434.06,1164.19 435.53,1164.21 436.99,1164.07 438.46,1164.12 439.92,1164.06 441.39,1164.04 442.87,1164.12 444.33,1164.19 445.8,1164.12 447.26,1164.01 448.73,1163.94 450.19,1163.99 451.66,1163.88 453.12,1163.77 454.6,1163.66 456.05,1163.73 457.53,1163.81 458.45,1163.8 458.98,1163.61 460.46,1163.73 461.94,1163.79 463.39,1163.68 464.87,1163.73 466.32,1163.72 467.8,1163.55 469.25,1163.64 470.73,1163.48 472.19,1163.41 473.66,1163.63 475.12,1163.62 476.59,1163.71 478.05,1163.71 479.52,1163.53 481,1163.6" fill="none" stroke="#3C5488" stroke-width="1.9" stroke-linejoin="round"/>
<polyline points="99.7,1163.6 101.16,1157.18 102.63,1151.14 103.8,1146.01 104.09,1145.35 105.56,1141.38 107.02,1138.36 108.49,1134.81 109.95,1131.41 111.43,1129.65 112.88,1127.5 114.36,1125.16 115.81,1123.09 117.29,1121.76 118.15,1120.6 118.77,1120.36 120.22,1119.38 121.7,1118.39 123.15,1117.42 124.63,1116.39 126.08,1116.27 127.56,1115.17 129.02,1114.82 130.45,1114.11 130.49,1113.89 131.95,1113.9 133.42,1113.6 134.88,1113.77 136.35,1113.62 137.83,1113.81 139.29,1113.75 140.76,1113.69 142.22,1113.05 143.69,1113.23 145.15,1112.94 146.62,1112.7 148.08,1112.91 149.56,1112.63 150.95,1112.7 151.01,1112.35 152.49,1111.96 153.94,1111.87 155.42,1111.49 156.9,1110.93 158.35,1110.09 159.15,1109.96 159.83,1109.94 161.28,1110.04 162.76,1110.71 164.21,1110.99 165.69,1111.08 167.15,1110.84 168.62,1110.77 170.08,1111.48 171.55,1111.52 173.01,1111.9 174.48,1112.55 175.96,1113.02 177.42,1112.87 178.89,1112.91 180.35,1112.81 181.82,1113.08 183.28,1113.33 184.75,1113.61 186.21,1113.95 187.69,1114.21 189.14,1114.48 190.62,1114.78 192.07,1115.04 193.55,1115.24 195.03,1115.43 196.48,1115.65 197.96,1115.77 199.41,1115.85 200.89,1116.25 202.2,1116.42 202.34,1116.37 203.82,1116.77 205.28,1116.88 206.75,1117.06 208.21,1117.27 209.68,1117.68 211.14,1118.13 212.61,1118.32 214.09,1118.74 215.55,1118.86 217.02,1119.14 218.48,1119.49 219.95,1119.85 221.41,1120.2 222.88,1120.51 224.34,1120.72 225.82,1120.83 227.27,1120.99 228.75,1121.31 230.2,1121.65 231.68,1121.9 233.16,1122.18 234.61,1122.52 236.09,1122.58 237.54,1122.92 239.02,1123.24 240.47,1123.56 241.95,1123.69 243.41,1123.88 244.88,1124.2 246.34,1124.55 247.81,1124.7 249.27,1124.97 250.74,1125.41 252.22,1125.6 253.68,1125.85 255.15,1126.14 256.61,1126.51 258.08,1126.82 259.54,1127.07 261.01,1127.27 262.47,1127.6 263.95,1127.79 265.4,1127.96 266.88,1128.37 268.33,1128.55 269.81,1128.97 271.29,1129.08 272.74,1129.36 274.22,1129.71 275.67,1129.85 277.15,1130.29 278.6,1130.56 280.08,1130.9 281.54,1131.22 283.01,1131.42 284.47,1131.72 285.94,1132 287.4,1132.12 288.87,1132.36 290.35,1132.72 291.81,1133.01 293.28,1133.23 294.74,1133.38 296.21,1133.65 297.67,1133.97 299.14,1134.2 300.6,1134.64 302.08,1135 303.53,1135.06 304.7,1135.25 305.01,1135.39 306.46,1135.71 307.94,1135.82 309.42,1136.03 310.87,1136.34 312.35,1136.82 313.8,1137.13 315.28,1137.39 316.73,1137.7 318.21,1137.82 319.67,1138.1 321.14,1138.43 322.6,1138.78 324.07,1139.15 325.53,1139.41 327,1139.76 328.48,1139.93 329.94,1140.24 331.41,1140.61 332.87,1140.83 334.34,1141.05 335.8,1141.43 337.27,1141.72 338.73,1141.94 340.21,1142.3 341.66,1142.57 343.14,1142.65 344.59,1142.98 346.07,1143.2 347.55,1143.53 349,1143.71 350.48,1144.01 351.93,1144.36 353.41,1144.67 354.86,1144.81 356.34,1145.12 357.8,1145.45 359.27,1145.64 360.73,1146.05 362.2,1146.39 363.66,1146.69 365.13,1146.91 366.61,1147.27 368.07,1147.57 369.54,1147.76 371,1148.1 372.47,1148.5 373.93,1148.63 375.4,1148.96 376.86,1149.25 378.34,1149.63 379.79,1149.78 381.27,1150.09 382.72,1150.42 384.2,1150.77 385.68,1150.97 387.13,1151.24 388.61,1151.49 390.06,1151.61 391.54,1151.99 392.99,1152.17 394.47,1152.43 395.93,1152.76 397.4,1152.95 398.86,1153.38 400.33,1153.56 401.79,1153.77 403.26,1154.19 404.74,1154.62 406.2,1154.86 407.2,1155.16 407.67,1155.21 409.13,1155.18 410.6,1155.36 412.06,1155.39 413.53,1155.66 414.99,1155.73 416.47,1155.79 417.92,1156.05 419.4,1156.31 420.85,1156.31 422.33,1156.43 423.81,1156.68 425.26,1156.85 426.74,1157.11 428.19,1157.13 429.67,1157.35 431.12,1157.61 432.6,1157.7 434.06,1157.97 435.53,1158.2 436.99,1158.26 438.46,1158.39 439.92,1158.36 441.39,1158.51 442.87,1158.57 444.33,1158.85 445.8,1159.1 447.26,1159.36 448.2,1159.32 448.73,1159.28 450.19,1159.53 451.66,1159.76 453.12,1159.96 454.6,1160.14 456.05,1160.39 457.53,1160.64 458.98,1160.65 460.46,1160.76 461.94,1160.91 463.39,1161.25 464.87,1161.61 466.32,1161.68 467.8,1161.83 469.25,1162.14 470.73,1162.45 472.19,1162.52 473.66,1162.8 475.12,1162.85 476.59,1162.89 478.05,1163.01 479.52,1163.21 481,1163.6" fill="none" stroke="#F39B7F" stroke-width="1.9" stroke-linejoin="round"/>
<line x1="90.6" y1="1101.4" x2="488" y2="1101.4" stroke="#333" stroke-width="1.5"/>
<line x1="488" y1="1101.4" x2="488" y2="1285.4" stroke="#333" stroke-width="1.5"/>
<line x1="90.6" y1="1285.4" x2="488" y2="1285.4" stroke="#111" stroke-width="1.8"/>
<line x1="90.6" y1="1101.4" x2="90.6" y2="1285.4" stroke="#111" stroke-width="1.8"/>
<line x1="90.6" y1="1174.7" x2="488" y2="1174.7" stroke="#111" stroke-width="1.8"/>
<line x1="90.6" y1="1212.1" x2="488" y2="1212.1" stroke="#111" stroke-width="1.8"/>
<line x1="86" y1="1163.6" x2="90.6" y2="1163.6" stroke="#222" stroke-width="1.3"/>
<text class="s" transform="translate(84,1167.1)" font-size="10.4" text-anchor="end">0.0</text>
<line x1="86" y1="1155.02" x2="90.6" y2="1155.02" stroke="#222" stroke-width="1.3"/>
<text class="s" transform="translate(84,1158.52)" font-size="10.4" text-anchor="end">0.1</text>
<line x1="86" y1="1146.44" x2="90.6" y2="1146.44" stroke="#222" stroke-width="1.3"/>
<text class="s" transform="translate(84,1149.94)" font-size="10.4" text-anchor="end">0.2</text>
<line x1="86" y1="1137.86" x2="90.6" y2="1137.86" stroke="#222" stroke-width="1.3"/>
<text class="s" transform="translate(84,1141.36)" font-size="10.4" text-anchor="end">0.3</text>
<line x1="86" y1="1129.28" x2="90.6" y2="1129.28" stroke="#222" stroke-width="1.3"/>
<text class="s" transform="translate(84,1132.78)" font-size="10.4" text-anchor="end">0.4</text>
<line x1="86" y1="1120.7" x2="90.6" y2="1120.7" stroke="#222" stroke-width="1.3"/>
<text class="s" transform="translate(84,1124.2)" font-size="10.4" text-anchor="end">0.5</text>
<line x1="86" y1="1112.12" x2="90.6" y2="1112.12" stroke="#222" stroke-width="1.3"/>
<text class="s" transform="translate(84,1115.62)" font-size="10.4" text-anchor="end">0.6</text>
<line x1="86" y1="1110" x2="90.6" y2="1110" stroke="#222" stroke-width="1.3"/>
<line x1="86" y1="1168" x2="90.6" y2="1168" stroke="#222" stroke-width="1.3"/>
<line x1="86" y1="1230.2" x2="90.6" y2="1230.2" stroke="#222" stroke-width="1.3"/>
<text class="s" transform="translate(84,1233.7)" font-size="10.4" text-anchor="end">1.0</text>
<line x1="86" y1="1242.5" x2="90.6" y2="1242.5" stroke="#222" stroke-width="1.3"/>
<text class="s" transform="translate(84,1246)" font-size="10.4" text-anchor="end">0.5</text>
<line x1="86" y1="1254.8" x2="90.6" y2="1254.8" stroke="#222" stroke-width="1.3"/>
<text class="s" transform="translate(84,1258.3)" font-size="10.4" text-anchor="end">0.0</text>
<line x1="86" y1="1267.1" x2="90.6" y2="1267.1" stroke="#222" stroke-width="1.3"/>
<text class="s" transform="translate(84,1270.6)" font-size="10.4" text-anchor="end">−0.5</text>
<line x1="86" y1="1220" x2="90.6" y2="1220" stroke="#222" stroke-width="1.3"/>
<line x1="86" y1="1278" x2="90.6" y2="1278" stroke="#222" stroke-width="1.3"/>
<line x1="99.7" y1="1285.4" x2="99.7" y2="1289.9" stroke="#222" stroke-width="1.3"/>
<text class="s" transform="translate(99.7,1302)" font-size="10.4" text-anchor="middle">0</text>
<line x1="202.2" y1="1285.4" x2="202.2" y2="1289.9" stroke="#222" stroke-width="1.3"/>
<text class="s" transform="translate(202.2,1302)" font-size="10.4" text-anchor="middle">5,000</text>
<line x1="304.7" y1="1285.4" x2="304.7" y2="1289.9" stroke="#222" stroke-width="1.3"/>
<text class="s" transform="translate(304.7,1302)" font-size="10.4" text-anchor="middle">10,000</text>
<line x1="407.2" y1="1285.4" x2="407.2" y2="1289.9" stroke="#222" stroke-width="1.3"/>
<text class="s" transform="translate(407.2,1302)" font-size="10.4" text-anchor="middle">15,000</text>
<line x1="481" y1="1285.4" x2="481" y2="1289.9" stroke="#222" stroke-width="1.3"/>
<text class="s" transform="translate(289.3,1315)" font-size="10.3" text-anchor="middle">Rank in Ordered DataSet</text>
<text class="s" transform="translate(297.1,1094.3)" font-size="16.6" text-anchor="middle" style="stroke-width:0.1px">SLC16A3</text>
<text class="s" transform="translate(55.3,1139.8) rotate(-90)" font-size="10.3" text-anchor="middle">Enrichment</text>
<text class="s" transform="translate(66.7,1139.8) rotate(-90)" font-size="10.3" text-anchor="middle">score</text>
<text class="s" transform="translate(49.8,1249) rotate(-90)" font-size="10.3" text-anchor="middle">Ranked list</text>
<text class="s" transform="translate(60.2,1249) rotate(-90)" font-size="10.3" text-anchor="middle">metric</text>
<text class="s" transform="translate(104.5,1229.5)" font-size="10.3">H</text>
<text class="s" transform="translate(467,1278)" font-size="10.3">L</text>
<line x1="90.8" y1="1321.2" x2="96.7" y2="1321.2" stroke="#E64B35" stroke-width="1.8"/>
<text class="s" transform="translate(99.3,1325.6)" font-size="10.29">REGULATION_OF_ACTIN_CYTOSKELETON(ES=0.5642,NP=0.0000)</text>
<line x1="90.8" y1="1338.4" x2="96.7" y2="1338.4" stroke="#4DBBD5" stroke-width="1.8"/>
<text class="s" transform="translate(99.3,1342.8)" font-size="10.29">ERBB_SIGNALING_PATHWAY(ES=0.5790,NP=0.0000)</text>
<line x1="90.8" y1="1355.6" x2="96.7" y2="1355.6" stroke="#00A087" stroke-width="1.8"/>
<text class="s" transform="translate(99.3,1360)" font-size="10.29">FC_EPSILON_RI_SIGNALING_PATHWAY(ES=0.5739,NP=0.0000)</text>
<line x1="90.8" y1="1372.8" x2="96.7" y2="1372.8" stroke="#3C5488" stroke-width="1.8"/>
<text class="s" transform="translate(99.3,1377.2)" font-size="10.29">VEGF_SIGNALING_PATHWAY(ES=0.5506,NP=0.0000)</text>
<line x1="90.8" y1="1390" x2="96.7" y2="1390" stroke="#F39B7F" stroke-width="1.8"/>
<text class="s" transform="translate(99.3,1394.4)" font-size="10.29">LEUKOCYTE_TRANSENDOTHELIAL_MIGRATION(ES=0.6270,NP=0.0000)</text>
<line x1="615.1" y1="1101.7" x2="615.1" y2="1182.1" stroke="#e6e6e6" stroke-width="1"/>
<line x1="615.1" y1="1222.9" x2="615.1" y2="1305" stroke="#e6e6e6" stroke-width="1"/>
<line x1="718.9" y1="1101.7" x2="718.9" y2="1182.1" stroke="#e6e6e6" stroke-width="1"/>
<line x1="718.9" y1="1222.9" x2="718.9" y2="1305" stroke="#e6e6e6" stroke-width="1"/>
<line x1="822.7" y1="1101.7" x2="822.7" y2="1182.1" stroke="#e6e6e6" stroke-width="1"/>
<line x1="822.7" y1="1222.9" x2="822.7" y2="1305" stroke="#e6e6e6" stroke-width="1"/>
<line x1="926.5" y1="1101.7" x2="926.5" y2="1182.1" stroke="#e6e6e6" stroke-width="1"/>
<line x1="926.5" y1="1222.9" x2="926.5" y2="1305" stroke="#e6e6e6" stroke-width="1"/>
<line x1="612.1" y1="1152.5" x2="986.7" y2="1152.5" stroke="#e6e6e6" stroke-width="1"/>
<line x1="612.1" y1="1134.3" x2="986.7" y2="1134.3" stroke="#e6e6e6" stroke-width="1"/>
<line x1="612.1" y1="1116.1" x2="986.7" y2="1116.1" stroke="#e6e6e6" stroke-width="1"/>
<line x1="612.1" y1="1242.3" x2="986.7" y2="1242.3" stroke="#e6e6e6" stroke-width="1"/>
<line x1="612.1" y1="1256.2" x2="986.7" y2="1256.2" stroke="#e6e6e6" stroke-width="1"/>
<line x1="612.1" y1="1284" x2="986.7" y2="1284" stroke="#e6e6e6" stroke-width="1"/>
<line x1="606.7" y1="1170.7" x2="1007.6" y2="1170.7" stroke="#b0b0b0" stroke-width="1" stroke-dasharray="2,2"/>
<path d="M615.1,1270.1 L615.1,1232.57 L616.03,1233.7 L616.35,1240.91 L616.35,1240.91 L616.35,1240.91 L616.35,1240.91 L616.35,1240.91 L616.35,1240.91 L616.35,1240.91 L616.35,1240.91 L616.35,1240.91 L616.35,1240.91 L616.35,1240.91 L616.52,1241.2 L616.71,1241.52 L616.91,1241.86 L617.12,1242.21 L617.34,1242.38 L617.57,1242.48 L617.81,1242.58 L618.06,1242.69 L618.31,1242.81 L618.57,1242.92 L618.84,1243.04 L619.11,1243.16 L619.39,1243.29 L619.68,1243.42 L619.98,1243.55 L620.29,1243.69 L620.6,1243.83 L620.91,1243.97 L621.24,1244.11 L621.57,1244.26 L621.91,1244.41 L622.25,1244.56 L622.6,1244.72 L622.95,1244.88 L623.32,1245.04 L623.68,1245.21 L624.06,1245.37 L624.44,1245.54 L624.83,1245.71 L625.22,1245.89 L625.61,1246.07 L626.02,1246.25 L626.43,1246.43 L626.84,1246.61 L627.26,1246.8 L627.69,1246.99 L628.12,1247.18 L628.56,1247.38 L629,1247.58 L629.45,1247.78 L629.9,1247.98 L630.36,1248.18 L630.82,1248.39 L631.29,1248.6 L631.76,1248.81 L632.24,1249.02 L632.72,1249.24 L633.21,1249.46 L633.71,1249.68 L634.2,1249.9 L634.71,1250.13 L635.22,1250.35 L635.73,1250.58 L636.25,1250.77 L636.77,1250.95 L637.3,1251.12 L637.83,1251.3 L638.37,1251.48 L638.91,1251.66 L639.46,1251.84 L640.01,1252.03 L640.56,1252.21 L641.12,1252.4 L641.69,1252.59 L642.26,1252.78 L642.83,1252.97 L643.41,1253.17 L643.99,1253.36 L644.58,1253.56 L645.17,1253.76 L645.77,1253.96 L646.37,1254.16 L646.98,1254.36 L647.58,1254.57 L648.2,1254.77 L648.82,1254.98 L649.44,1255.19 L650.07,1255.4 L650.7,1255.61 L651.33,1255.82 L651.97,1256.03 L652.61,1256.25 L653.26,1256.47 L653.91,1256.68 L654.57,1256.9 L655.23,1257.12 L655.89,1257.35 L656.56,1257.57 L657.23,1257.75 L657.91,1257.93 L658.59,1258.12 L659.27,1258.3 L659.96,1258.48 L660.65,1258.67 L661.35,1258.86 L662.05,1259.04 L662.75,1259.23 L663.46,1259.42 L664.17,1259.61 L664.89,1259.8 L665.61,1260 L666.33,1260.19 L667.06,1260.39 L667.79,1260.58 L668.52,1260.78 L669.26,1260.98 L670.01,1261.18 L670.75,1261.38 L671.5,1261.58 L672.26,1261.78 L673.01,1261.98 L673.78,1262.18 L674.54,1262.39 L675.31,1262.6 L676.08,1262.8 L676.86,1263.01 L677.64,1263.2 L678.42,1263.36 L679.21,1263.52 L680,1263.68 L680.79,1263.84 L681.59,1264 L682.39,1264.16 L683.2,1264.32 L684.01,1264.48 L684.82,1264.64 L685.64,1264.81 L686.46,1264.97 L687.28,1265.14 L688.11,1265.3 L688.94,1265.47 L689.77,1265.64 L690.61,1265.81 L691.45,1265.98 L692.29,1266.15 L693.14,1266.32 L693.99,1266.49 L694.85,1266.66 L695.7,1266.83 L696.57,1267 L697.43,1267.18 L698.3,1267.35 L699.17,1267.49 L700.05,1267.64 L700.92,1267.79 L701.81,1267.93 L702.69,1268.08 L703.58,1268.23 L704.47,1268.38 L705.37,1268.53 L706.27,1268.68 L707.17,1268.83 L708.07,1268.98 L708.98,1269.13 L709.89,1269.29 L710.81,1269.44 L711.73,1269.59 L712.65,1269.75 L713.58,1269.9 L714.5,1270.06 L715.44,1270.16 L716.37,1270.24 L717.31,1270.33 L718.25,1270.41 L719.2,1270.5 L720.14,1270.58 L721.09,1270.67 L722.05,1270.75 L723.01,1270.84 L723.97,1270.92 L724.93,1271.01 L725.9,1271.1 L726.87,1271.18 L727.84,1271.27 L728.82,1271.36 L729.8,1271.44 L730.78,1271.53 L731.77,1271.62 L732.76,1271.71 L733.75,1271.8 L734.74,1271.89 L735.74,1271.97 L736.74,1272.06 L737.75,1272.15 L738.76,1272.24 L739.77,1272.33 L740.78,1272.36 L741.8,1272.39 L742.82,1272.42 L743.84,1272.45 L744.87,1272.48 L745.9,1272.51 L746.93,1272.54 L747.97,1272.57 L749.01,1272.61 L750.05,1272.64 L751.09,1272.67 L752.14,1272.7 L753.19,1272.73 L754.24,1272.76 L755.3,1272.8 L756.36,1272.83 L757.42,1272.86 L758.49,1272.89 L759.56,1272.92 L760.63,1272.96 L761.7,1272.99 L762.78,1273.02 L763.86,1273.05 L764.94,1273.09 L766.03,1273.12 L767.12,1273.15 L768.21,1273.18 L769.31,1273.22 L770.4,1273.25 L771.51,1273.28 L772.61,1273.32 L773.72,1273.35 L774.83,1273.38 L775.94,1273.42 L777.05,1273.45 L778.17,1273.48 L779.29,1273.52 L780.42,1273.55 L781.54,1273.59 L782.67,1273.62 L783.81,1273.65 L784.94,1273.69 L786.08,1273.72 L787.22,1273.76 L788.37,1273.79 L789.51,1273.83 L790.66,1273.86 L791.82,1273.9 L792.97,1273.93 L794.13,1273.97 L795.29,1274 L796.45,1274.04 L797.62,1274.07 L798.79,1274.11 L799.96,1274.14 L801.14,1274.18 L802.32,1274.21 L803.5,1274.25 L804.68,1274.28 L805.87,1274.32 L807.06,1274.35 L808.25,1274.39 L809.44,1274.43 L810.64,1274.46 L811.84,1274.5 L813.04,1274.54 L814.25,1274.57 L815.46,1274.61 L816.67,1274.64 L817.88,1274.68 L819.1,1274.72 L820.32,1274.75 L821.54,1274.79 L822.76,1274.83 L823.99,1274.86 L825.22,1274.89 L826.45,1274.93 L827.69,1274.96 L828.93,1274.99 L830.17,1275.03 L831.41,1275.06 L832.66,1275.09 L833.91,1275.13 L835.16,1275.16 L836.41,1275.19 L837.67,1275.23 L838.93,1275.26 L840.19,1275.29 L841.46,1275.33 L842.73,1275.36 L844,1275.4 L845.27,1275.43 L846.54,1275.46 L847.82,1275.5 L849.1,1275.53 L850.39,1275.57 L851.67,1275.6 L852.96,1275.64 L854.25,1275.67 L855.55,1275.71 L856.84,1275.74 L858.14,1275.78 L859.45,1275.81 L860.75,1275.85 L862.06,1275.88 L863.37,1275.92 L864.68,1275.95 L865.99,1275.99 L867.31,1276.02 L868.63,1276.06 L869.95,1276.09 L871.28,1276.13 L872.61,1276.16 L873.94,1276.2 L875.27,1276.23 L876.61,1276.27 L877.94,1276.31 L879.28,1276.34 L880.63,1276.38 L881.97,1276.41 L883.32,1276.45 L884.67,1276.49 L886.03,1276.52 L887.38,1276.56 L888.74,1276.59 L890.1,1276.63 L891.46,1276.67 L892.83,1276.7 L894.2,1276.74 L895.57,1276.78 L896.94,1276.81 L898.32,1276.85 L899.7,1276.89 L901.08,1276.93 L902.46,1276.96 L903.85,1277 L905.24,1277.04 L906.63,1277.09 L908.02,1277.15 L909.42,1277.21 L910.82,1277.27 L912.22,1277.33 L913.62,1277.39 L915.03,1277.45 L916.44,1277.51 L917.85,1277.57 L919.26,1277.63 L920.68,1277.69 L922.1,1277.75 L923.52,1277.81 L924.94,1277.87 L926.37,1277.93 L927.79,1278 L929.22,1278.06 L930.66,1278.12 L932.09,1278.18 L933.53,1278.24 L934.97,1278.3 L936.41,1278.36 L937.86,1278.43 L939.31,1278.49 L940.76,1278.55 L942.21,1278.61 L943.67,1278.68 L945.12,1278.74 L946.58,1278.8 L948.04,1278.86 L949.51,1278.93 L950.98,1278.99 L952.45,1279.05 L953.92,1279.11 L955.39,1279.18 L956.87,1279.24 L958.35,1279.36 L959.83,1279.54 L961.31,1279.73 L962.8,1279.91 L964.29,1280.1 L965.78,1280.28 L967.27,1280.46 L968.77,1280.65 L970.27,1280.83 L971.77,1281.02 L973.27,1281.21 L974.78,1281.39 L976.28,1281.58 L977.79,1281.77 L979.31,1281.95 L980.82,1282.14 L982.34,1282.33 L983.86,1282.51 L985.38,1282.86 L986.9,1283.37 L988.43,1283.88 L989.96,1284.39 L991.49,1284.91 L993.02,1285.42 L994.56,1285.93 L996.1,1286.45 L997.64,1288.08 L999.18,1291.69 L1000.73,1295.32 L1002.27,1296.51 L1002.27,1270.1 Z" stroke="none" stroke-width="1" fill="#c9c9c9"/>
<line x1="606.7" y1="1270.1" x2="1007.6" y2="1270.1" stroke="#b0b0b0" stroke-width="1" stroke-dasharray="2,2"/>
<path d="M615.1,1183.1V1191.4M619.51,1183.1V1191.4M620.91,1183.1V1191.4M632.81,1183.1V1191.4M632.99,1183.1V1191.4M640.74,1183.1V1191.4M641.7,1183.1V1191.4M645.69,1183.1V1191.4M648.32,1183.1V1191.4M689.17,1183.1V1191.4M690.47,1183.1V1191.4M693.21,1183.1V1191.4M718.9,1183.1V1191.4M720.7,1183.1V1191.4M723.63,1183.1V1191.4M748.63,1183.1V1191.4M751.84,1183.1V1191.4M754.19,1183.1V1191.4M781.18,1183.1V1191.4M926.5,1183.1V1191.4M945.18,1183.1V1191.4M969.5,1183.1V1191.4M969.66,1183.1V1191.4M993.51,1183.1V1191.4M1002.27,1183.1V1191.4" stroke="#E64B35" stroke-width="1.8" fill="none"/>
<path d="M615.89,1193.3V1201.6M617.49,1193.3V1201.6M618.34,1193.3V1201.6M620.89,1193.3V1201.6M622.99,1193.3V1201.6M625.76,1193.3V1201.6M629.97,1193.3V1201.6M634.01,1193.3V1201.6M636.85,1193.3V1201.6M638.73,1193.3V1201.6M644.55,1193.3V1201.6M644.72,1193.3V1201.6M645.29,1193.3V1201.6M646.63,1193.3V1201.6M646.85,1193.3V1201.6M654.58,1193.3V1201.6M656.32,1193.3V1201.6M656.99,1193.3V1201.6M660.93,1193.3V1201.6M665.15,1193.3V1201.6M666.86,1193.3V1201.6M666.94,1193.3V1201.6M668.95,1193.3V1201.6M673.5,1193.3V1201.6M675.17,1193.3V1201.6M676.98,1193.3V1201.6M677.2,1193.3V1201.6M684.97,1193.3V1201.6M686.17,1193.3V1201.6M686.5,1193.3V1201.6M689.52,1193.3V1201.6M693.47,1193.3V1201.6M697.07,1193.3V1201.6M697.71,1193.3V1201.6M701.06,1193.3V1201.6M701.31,1193.3V1201.6M707.8,1193.3V1201.6M708.52,1193.3V1201.6M718.26,1193.3V1201.6M733.1,1193.3V1201.6M737.54,1193.3V1201.6M738.9,1193.3V1201.6M746.9,1193.3V1201.6M769.99,1193.3V1201.6M773.26,1193.3V1201.6M782.74,1193.3V1201.6M790.01,1193.3V1201.6M801.9,1193.3V1201.6M812.06,1193.3V1201.6M893.28,1193.3V1201.6M930.65,1193.3V1201.6M947.26,1193.3V1201.6M988.45,1193.3V1201.6M996.55,1193.3V1201.6M1002.27,1193.3V1201.6" stroke="#4DBBD5" stroke-width="1.8" fill="none"/>
<path d="M615.1,1203.5V1211.8M627.56,1203.5V1211.8M631.71,1203.5V1211.8M637.75,1203.5V1211.8M639.31,1203.5V1211.8M641.6,1203.5V1211.8M646.24,1203.5V1211.8M667.14,1203.5V1211.8M668.99,1203.5V1211.8M671.04,1203.5V1211.8M672.3,1203.5V1211.8M676.59,1203.5V1211.8M677.38,1203.5V1211.8M689.84,1203.5V1211.8M694.9,1203.5V1211.8M698.14,1203.5V1211.8M739.66,1203.5V1211.8M887.06,1203.5V1211.8M972.17,1203.5V1211.8M1001.24,1203.5V1211.8" stroke="#00A087" stroke-width="1.8" fill="none"/>
<path d="M618.29,1213.7V1222M618.84,1213.7V1222M618.93,1213.7V1222M620.96,1213.7V1222M623.67,1213.7V1222M623.68,1213.7V1222M625.47,1213.7V1222M625.66,1213.7V1222M626,1213.7V1222M630.1,1213.7V1222M631.88,1213.7V1222M633.11,1213.7V1222M633.87,1213.7V1222M634.29,1213.7V1222M637.45,1213.7V1222M639.07,1213.7V1222M640.38,1213.7V1222M641.5,1213.7V1222M642.82,1213.7V1222M643.72,1213.7V1222M646.65,1213.7V1222M647.36,1213.7V1222M650.62,1213.7V1222M650.89,1213.7V1222M652.03,1213.7V1222M654.37,1213.7V1222M655.87,1213.7V1222M655.99,1213.7V1222M658.48,1213.7V1222M660.6,1213.7V1222M662.02,1213.7V1222M663.32,1213.7V1222M665.93,1213.7V1222M666.56,1213.7V1222M668.3,1213.7V1222M669.3,1213.7V1222M669.69,1213.7V1222M673.59,1213.7V1222M675.98,1213.7V1222M675.99,1213.7V1222M676.29,1213.7V1222M676.4,1213.7V1222M677.27,1213.7V1222M680.5,1213.7V1222M683.1,1213.7V1222M685.84,1213.7V1222M686.25,1213.7V1222M687.65,1213.7V1222M689.2,1213.7V1222M691.94,1213.7V1222M692.78,1213.7V1222M695.2,1213.7V1222M696.4,1213.7V1222M697.16,1213.7V1222M697.92,1213.7V1222M698.45,1213.7V1222M699.58,1213.7V1222M700.08,1213.7V1222M703.56,1213.7V1222M705.29,1213.7V1222M706.65,1213.7V1222M708.69,1213.7V1222M710.41,1213.7V1222M711.01,1213.7V1222M711.21,1213.7V1222M713.53,1213.7V1222M715.38,1213.7V1222M717.86,1213.7V1222M719.29,1213.7V1222M720.59,1213.7V1222M724.69,1213.7V1222M724.98,1213.7V1222M725.23,1213.7V1222M726,1213.7V1222M726.92,1213.7V1222M729.28,1213.7V1222M739.54,1213.7V1222M740.05,1213.7V1222M741.23,1213.7V1222M747.24,1213.7V1222M748.5,1213.7V1222M757.62,1213.7V1222M762.94,1213.7V1222M771.69,1213.7V1222M778.78,1213.7V1222M782.87,1213.7V1222M785.18,1213.7V1222M795.16,1213.7V1222M797.19,1213.7V1222M805.44,1213.7V1222M808.83,1213.7V1222M814.9,1213.7V1222M816.69,1213.7V1222M818.81,1213.7V1222M820.86,1213.7V1222M831.9,1213.7V1222M835.79,1213.7V1222M838.96,1213.7V1222M849.39,1213.7V1222M851.91,1213.7V1222M853.84,1213.7V1222M868.32,1213.7V1222M871.64,1213.7V1222M885.44,1213.7V1222M889.24,1213.7V1222M892.37,1213.7V1222M906.51,1213.7V1222M924.2,1213.7V1222M933.38,1213.7V1222M937.82,1213.7V1222M945.17,1213.7V1222M950.72,1213.7V1222M962.65,1213.7V1222M977.62,1213.7V1222M978.4,1213.7V1222M982.25,1213.7V1222M1001.85,1213.7V1222M1002.27,1213.7V1222" stroke="#3C5488" stroke-width="1.8" fill="none"/>
<line x1="605.7" y1="1192.3" x2="1008.6" y2="1192.3" stroke="#222" stroke-width="1.3"/>
<line x1="605.7" y1="1202.5" x2="1008.6" y2="1202.5" stroke="#222" stroke-width="1.3"/>
<line x1="605.7" y1="1212.7" x2="1008.6" y2="1212.7" stroke="#222" stroke-width="1.3"/>
<polyline points="615.1,1170.7 616.57,1168.11 618.07,1165.91 619.56,1164.16 621.04,1162 621.33,1161.33 622.53,1160.36 624.03,1158.15 625.52,1156.86 627,1155.35 627.56,1154.45 628.49,1152.02 629.98,1148.04 631.48,1144.24 632.95,1140.8 633.78,1138.79 634.45,1137.6 635.94,1134.66 637.42,1130.81 638.91,1127.75 640.01,1125.3 640.41,1124.38 641.9,1122.52 643.38,1120.68 644.87,1118.36 646.24,1115.9 646.36,1115.65 647.86,1116.53 649.33,1116.68 650.83,1117.26 652.32,1117.59 653.82,1118.56 654.54,1119.25 655.29,1119.23 656.79,1119.27 658.28,1119.78 659.75,1119.55 661.25,1120.28 662.74,1120.1 664.24,1120.56 665.71,1120.72 667.21,1121.37 668.7,1121.89 670.2,1122.45 671.67,1122.11 673.17,1122.14 674.66,1122.73 676.13,1122.66 677.38,1123.03 677.63,1123.59 679.12,1123.4 680.62,1123.96 682.09,1124.43 683.59,1124.42 685.08,1124.76 686.58,1124.47 688.05,1124.78 689.55,1125.11 691.04,1125.14 692.53,1125.72 694.01,1126.13 695.5,1126.18 697,1126.15 698.47,1126.35 699.97,1126.46 701.46,1126.53 702.96,1126.61 704.43,1126.91 705.93,1126.99 707.42,1127.36 708.91,1127.57 710.39,1127.89 711.88,1128.16 713.38,1128.32 714.85,1128.45 716.35,1128.55 717.84,1128.72 718.9,1128.99 719.34,1128.99 720.81,1129.2 722.3,1129.57 723.8,1129.68 725.29,1130.06 726.77,1130.13 728.26,1130.36 729.76,1130.47 731.25,1130.76 732.73,1131.01 734.22,1131.32 735.72,1131.59 737.19,1131.85 738.68,1132.27 740.18,1132.62 741.67,1132.81 743.15,1133.1 744.64,1133.14 746.14,1133.4 747.63,1133.51 749.11,1133.85 750.6,1134.11 752.1,1134.32 753.57,1134.52 755.06,1134.86 756.56,1135.17 758.05,1135.29 759.53,1135.63 761.02,1135.8 762.52,1136.04 764.01,1136.45 765.49,1136.56 766.98,1136.9 768.47,1137.17 769.97,1137.31 771.44,1137.49 772.94,1137.89 774.43,1137.96 775.91,1138.2 777.4,1138.62 778.9,1138.77 780.39,1139.01 781.87,1139.14 783.36,1139.55 784.85,1139.89 786.35,1140.07 787.82,1140.19 789.32,1140.63 790.81,1140.91 792.29,1141.2 793.78,1141.26 795.28,1141.38 796.77,1141.69 798.24,1141.86 799.74,1142.13 801.23,1142.45 802.73,1142.62 804.2,1142.98 805.7,1143.16 807.19,1143.42 808.69,1143.68 810.16,1143.88 811.66,1144.04 813.15,1144.39 814.62,1144.72 816.12,1144.92 817.61,1145.3 819.11,1145.69 820.58,1145.9 822.08,1146.23 822.7,1146.12 823.57,1146.14 825.07,1146.58 826.54,1146.85 828.04,1147.06 829.53,1147.26 831,1147.73 832.5,1148.1 833.99,1148.46 835.49,1148.65 836.96,1149 838.46,1149.31 839.95,1149.5 841.45,1149.6 842.92,1149.81 844.41,1150.09 845.91,1150.51 847.4,1150.81 848.88,1151.02 850.37,1151.31 851.87,1151.68 853.34,1151.81 854.84,1151.98 856.33,1152.19 857.83,1152.38 859.3,1152.78 860.79,1153.11 862.29,1153.48 863.78,1153.61 865.26,1154.05 866.75,1154.3 868.25,1154.59 869.72,1154.94 871.22,1155.11 872.71,1155.3 874.21,1155.72 875.68,1156.01 877.17,1156.09 878.67,1156.54 880.16,1156.91 881.64,1157.08 883.13,1157.38 884.63,1157.61 886.12,1157.98 887.6,1158.05 889.09,1158.37 890.59,1158.63 892.06,1158.74 893.55,1159.12 895.05,1159.47 896.54,1159.67 898.02,1159.9 899.51,1160.19 901.01,1160.4 902.5,1160.72 903.98,1161.12 905.47,1161.34 906.96,1161.59 908.44,1161.98 909.93,1162.19 911.43,1162.52 912.92,1162.82 914.4,1162.91 915.89,1163.2 917.39,1163.44 918.88,1163.73 920.36,1163.92 921.85,1164.21 923.34,1164.58 924.84,1164.99 926.31,1165.14 926.5,1165.06 927.81,1165.1 929.3,1165.33 930.78,1165.37 932.27,1165.75 933.77,1165.81 935.26,1165.91 936.73,1165.98 938.23,1166.22 939.72,1166.45 941.22,1166.6 942.69,1166.71 944.19,1166.86 945.68,1167.02 947.16,1167.09 948.65,1167.05 950.15,1167.37 951.64,1167.58 953.11,1167.61 954.61,1167.63 956.1,1167.93 957.6,1168.09 959.07,1168.22 960.57,1168.31 962.06,1168.55 963.56,1168.74 965.03,1168.66 966.53,1168.83 968.02,1168.79 969.49,1167.87 970.99,1166.97 972.17,1166.17 972.48,1166.18 973.98,1166.35 975.45,1166.49 976.95,1166.91 978.44,1167.18 979.94,1167.38 981.41,1167.55 982.9,1167.78 984.4,1167.99 985.87,1168.22 987.37,1168.44 988.86,1168.75 990.36,1168.97 991.83,1169.31 993.33,1169.32 994.82,1169.53 996.32,1169.75 997.79,1170.13 999.28,1170.31 1000.78,1170.36 1002.27,1170.7" fill="none" stroke="#E64B35" stroke-width="1.9" stroke-linejoin="round"/>
<polyline points="615.1,1170.7 616.57,1168.94 618.07,1167.1 619.56,1165.67 621.04,1163.93 622.53,1162.24 623.4,1161.04 624.03,1160.63 625.52,1157.83 627,1155.11 628.49,1153.03 629.98,1150.59 631.48,1148.3 631.71,1148.27 632.95,1146.55 634.45,1143.9 635.94,1141.66 637.42,1139.68 638.91,1137.7 640.01,1135.79 640.41,1135.81 641.9,1135.22 643.38,1134.52 644.87,1133.59 646.36,1132.21 647.86,1130.97 649.33,1130.39 650.83,1128.86 652.32,1127.52 652.47,1127.91 653.82,1127.72 655.29,1127.28 656.79,1126.87 658.28,1126.12 659.75,1125.95 661.25,1125.56 662.74,1125.16 664.24,1124.68 665.71,1124.41 667,1123.97 667.21,1123.92 668.7,1123.15 670.2,1122.72 671.67,1122.7 673.17,1122.14 674.66,1121.52 676.13,1121.19 677.38,1120.87 677.63,1120.62 679.12,1121.51 680.62,1121.66 682.09,1121.68 683.59,1122.03 685.08,1122.4 686.58,1122.53 688.05,1122.88 689.55,1123.3 691.04,1123.31 692.53,1123.15 694.01,1123.17 695.5,1123.86 697,1124.12 698.47,1124.56 699.97,1124.79 701.46,1125.19 702.96,1125.27 704.43,1125.46 705.93,1125.62 707.42,1125.85 708.91,1126.06 710.39,1126.51 711.88,1126.67 713.38,1127 714.85,1127.09 716.35,1127.42 717.84,1127.83 718.9,1127.95 719.34,1128.01 720.81,1128.25 722.3,1128.37 723.8,1128.57 725.29,1128.97 726.77,1129.19 728.26,1129.25 729.76,1129.36 731.25,1129.74 732.73,1129.94 734.22,1130.03 735.72,1130.19 737.19,1130.57 738.68,1130.72 740.18,1131.07 741.67,1131.29 743.15,1131.64 744.64,1131.86 746.14,1132.04 747.63,1132.24 749.11,1132.57 750.6,1132.81 752.1,1132.86 753.57,1133.1 755.06,1133.26 756.56,1133.56 758.05,1133.62 759.53,1133.96 761.02,1134.07 762.52,1134.21 764.01,1134.5 765.49,1134.72 766.98,1135.1 768.47,1135.26 769.97,1135.46 771.44,1135.8 772.94,1136.04 774.43,1136.13 775.91,1136.43 777.4,1136.56 778.9,1136.84 780.39,1137.12 781.87,1137.39 783.36,1137.73 784.85,1137.82 786.35,1138.06 787.82,1138.38 789.32,1138.66 790.81,1138.7 792.29,1138.99 793.78,1139 795.28,1139.37 796.77,1139.54 798.24,1139.87 799.74,1139.95 801.23,1140.27 802.73,1140.46 804.2,1140.59 805.7,1140.96 807.19,1141.29 808.69,1141.29 810.16,1141.59 811.66,1141.64 813.15,1141.88 814.62,1142.25 816.12,1142.41 817.61,1142.55 819.11,1142.92 820.58,1143.02 822.08,1143.31 822.7,1143.41 823.57,1143.57 825.07,1143.88 826.54,1144.1 828.04,1144.49 829.53,1144.6 831,1144.89 832.5,1145.15 833.99,1145.33 835.49,1145.7 836.96,1146.01 838.46,1146.13 839.95,1146.4 841.45,1146.75 842.92,1147.13 844.41,1147.38 845.91,1147.48 847.4,1147.87 848.88,1148.03 850.37,1148.37 851.87,1148.49 853.34,1148.79 854.84,1148.96 856.33,1149.16 857.83,1149.47 859.3,1149.76 860.79,1150.14 862.29,1150.43 863.78,1150.75 865.26,1150.81 866.75,1151.24 868.25,1151.56 869.72,1151.85 871.22,1151.96 872.71,1152.33 874.21,1152.44 875.68,1152.54 877.17,1152.94 878.67,1153.22 880.16,1153.45 881.64,1153.73 883.13,1153.89 884.63,1154.3 886.12,1154.49 887.6,1154.74 889.09,1154.88 890.59,1155.05 892.06,1155.43 893.55,1155.64 895.05,1156.08 896.54,1156.24 898.02,1156.44 899.51,1156.78 901.01,1156.95 902.5,1157.31 903.98,1157.57 905.47,1157.92 906.96,1158.26 908.44,1158.51 909.93,1158.64 911.43,1158.92 912.92,1159.36 914.4,1159.45 915.89,1159.7 917.39,1159.85 918.88,1160.27 920.36,1160.57 921.85,1160.81 923.34,1161.05 924.84,1161.19 926.31,1161.44 926.5,1161.54 927.81,1160.84 929.3,1160.22 930.78,1159.51 932.27,1159.07 932.73,1159 933.77,1158.94 935.26,1158.99 936.73,1159.25 938.23,1159.36 939.72,1159.45 941.22,1159.59 942.69,1159.83 944.19,1159.72 945.68,1159.81 947.16,1160.04 948.65,1160.24 950.15,1160.14 951.64,1160.38 953.11,1160.6 954.61,1160.71 956.1,1160.64 957.6,1160.63 959.07,1160.79 960.57,1160.82 962.06,1160.97 963.56,1161.2 965.03,1161.26 966.53,1161.57 968.02,1161.7 969.49,1162.12 970.99,1162.37 972.48,1162.77 973.98,1163.32 975.45,1163.68 976.95,1163.97 978.44,1164.3 979.94,1164.75 981.41,1165.01 982.9,1165.52 984.4,1165.92 985.87,1166.25 987.37,1166.77 988.86,1167.02 990.36,1167.43 991.83,1167.88 993.33,1168.15 994.82,1168.72 996.32,1169.25 997.79,1169.57 999.28,1169.94 1000.78,1170.17 1002.27,1170.7" fill="none" stroke="#4DBBD5" stroke-width="1.9" stroke-linejoin="round"/>
<polyline points="615.1,1154.32 616.57,1153.26 618.07,1152.27 619.56,1151.03 621.04,1149.76 622.53,1148.74 624.03,1147.75 625.48,1146.92 625.52,1147.16 627,1145.26 628.49,1143.48 629.98,1141.51 631.48,1140.26 632.95,1138.29 633.78,1137.82 634.45,1136.4 635.94,1133.11 637.42,1129.8 638.91,1126.62 640.41,1123.36 641.9,1120.19 642.09,1120.19 643.38,1120.41 644.87,1120.37 646.36,1119.9 647.86,1120.08 649.33,1119.6 650.83,1120.03 652.32,1119.56 653.82,1119.97 655.29,1119.68 656.79,1119.83 658.28,1119.23 659.75,1119.47 661.25,1119.62 662.74,1119.46 664.24,1119.11 665.71,1119.3 667.21,1119.13 668.7,1118.78 669.08,1118.46 670.2,1117.46 671.67,1115.6 673.17,1113.77 674.66,1112.03 676.13,1110.49 677.38,1109.8 677.63,1109.54 679.12,1110.15 680.62,1109.91 682.09,1110.19 683.59,1109.89 685.08,1110.29 686.58,1110.45 688.05,1110.58 689.55,1110.7 691.04,1110.54 692.53,1110.83 693.99,1110.64 694.01,1110.59 695.5,1110.49 697,1110.6 698.47,1111.24 699.97,1111.62 701.46,1112.11 702.96,1112.34 704.43,1112.64 705.93,1113.02 707.42,1113.43 708.91,1113.64 710.39,1114.03 711.88,1114.41 713.38,1114.68 714.85,1115.04 716.35,1115.3 717.84,1115.65 719.34,1115.87 720.81,1116.07 722.3,1116.37 723.8,1116.75 725.29,1117.1 726.77,1117.17 728.26,1117.32 729.76,1117.8 731.25,1118 732.73,1118.25 734.22,1118.45 735.72,1118.69 737.19,1119.23 738.68,1119.38 740.18,1119.61 741.67,1119.88 743.15,1120.39 744.64,1120.54 746.14,1121.02 747.63,1121.14 749.11,1121.5 750.6,1121.92 752.1,1122.18 753.57,1122.43 755.06,1122.75 756.56,1123.03 758.05,1123.32 759.53,1123.54 761.02,1123.74 762.52,1123.99 764.01,1124.24 765.49,1124.78 766.98,1125.17 768.47,1125.49 769.97,1125.76 771.44,1125.87 772.94,1126.13 774.43,1126.39 775.91,1126.72 777.4,1127.06 778.9,1127.55 780.39,1127.88 781.87,1128.16 783.36,1128.43 784.85,1128.79 786.35,1128.94 787.82,1129.21 789.32,1129.45 790.81,1129.89 792.29,1130.01 793.78,1130.29 795.28,1130.73 796.77,1131.11 798.24,1131.44 799.74,1131.72 801.23,1132.06 802.73,1132.4 804.2,1132.74 805.7,1132.89 807.19,1133.03 808.69,1133.44 810.16,1133.62 811.66,1134.07 813.15,1134.26 814.62,1134.6 816.12,1134.76 817.61,1135.04 819.11,1135.26 820.58,1135.48 822.08,1135.86 822.7,1135.97 823.57,1136.1 825.07,1136.41 826.54,1136.77 828.04,1137.27 829.53,1137.41 831,1137.73 832.5,1138.02 833.99,1138.37 835.49,1138.59 836.96,1138.98 838.46,1139.17 839.95,1139.6 841.45,1139.86 842.92,1140.26 844.41,1140.68 845.91,1140.92 847.4,1141.03 848.88,1141.5 850.37,1141.63 851.87,1141.96 853.34,1142.29 854.84,1142.63 856.33,1142.92 857.83,1143.37 859.3,1143.5 860.79,1143.81 862.29,1144.2 863.78,1144.6 865.26,1144.94 866.75,1145.31 868.25,1145.61 869.72,1145.91 871.22,1146.21 872.71,1146.54 874.21,1146.58 875.68,1146.87 877.17,1147.21 878.67,1147.58 880.16,1147.7 881.64,1147.99 883.13,1148.42 884.63,1148.68 886.12,1149.03 887.6,1149.29 889.09,1149.6 890.59,1149.84 892.06,1150.27 893.55,1150.51 895.05,1150.73 896.54,1150.87 898.02,1151.3 899.51,1151.58 901.01,1151.79 902.5,1152.09 903.98,1152.35 905.47,1152.79 906.96,1153.07 908.44,1153.28 909.93,1153.78 911.43,1154.04 912.92,1154.44 914.4,1154.58 915.89,1154.88 917.39,1155.21 918.88,1155.37 920.36,1155.63 921.85,1155.88 923.34,1156.2 924.84,1156.52 926.31,1156.81 926.5,1156.79 927.81,1157.11 929.3,1157.32 930.78,1157.66 932.27,1157.96 933.77,1158.06 935.26,1158.3 936.73,1158.52 938.23,1158.76 939.72,1158.99 941.22,1159.19 942.69,1159.53 944.19,1159.64 945.68,1159.89 947.16,1160.03 948.65,1160.28 950.15,1160.68 951.64,1160.76 953.11,1160.9 954.61,1161.11 956.1,1161.38 957.6,1161.59 959.07,1161.8 960.57,1162.11 962.06,1162.25 963.56,1162.49 965.03,1162.66 966.53,1163.05 968.02,1163.41 969.49,1163.75 970.99,1164.22 972.48,1164.38 973.98,1164.61 975.45,1164.93 976.95,1165.32 978.44,1165.77 979.94,1166.16 981.41,1166.55 982.9,1166.9 984.4,1167.03 985.87,1167.41 987.37,1167.6 988.86,1167.92 990.36,1168.28 991.83,1168.44 993.33,1168.8 994.82,1169.12 996.32,1169.28 997.79,1169.53 999.28,1170.07 1000.78,1170.33 1002.27,1170.7" fill="none" stroke="#00A087" stroke-width="1.9" stroke-linejoin="round"/>
<polyline points="615.1,1170.7 616.57,1168.44 618.07,1166.53 619.56,1164.18 621.04,1162.45 621.33,1161.7 622.53,1160.46 624.03,1159.56 625.52,1158.36 627,1156.99 628.49,1155.93 629.63,1155.03 629.98,1153.89 631.48,1151.13 632.95,1148.25 634.45,1145.49 635.94,1142.97 637.42,1140.06 637.94,1138.64 638.91,1138.32 640.41,1137.03 641.9,1135.78 643.38,1134.63 644.87,1133.22 646.24,1131.71 646.36,1131.39 647.86,1131.44 649.33,1131.14 650.83,1131.37 652.32,1130.73 653.82,1130.2 655.29,1130.06 656.79,1130.35 658.28,1129.93 659.75,1129.73 660.77,1129.35 661.25,1129.01 662.74,1128.38 664.24,1127.28 665.71,1126.89 667.21,1126.39 668.7,1125.43 669.08,1124.85 670.2,1124.55 671.67,1123.84 673.17,1123.09 674.66,1122.26 676.13,1121.59 677.38,1120.58 677.63,1120.43 679.12,1120.66 680.62,1120.95 682.09,1121.31 683.59,1122.12 685.08,1122.15 686.58,1122.29 688.05,1122.9 689.55,1123.51 691.04,1123.26 692.53,1123.94 694.01,1124.44 695.5,1124.66 697,1124.63 698.47,1124.61 699.97,1124.7 701.46,1125.13 702.96,1125.33 704.43,1125.44 705.93,1125.58 707.42,1125.97 708.91,1126.32 710.39,1126.47 711.88,1126.78 713.38,1126.97 714.85,1127.22 716.35,1127.45 717.84,1127.65 718.9,1127.8 719.34,1127.84 720.81,1128.05 722.3,1128.28 723.8,1128.49 725.29,1128.85 726.77,1129 728.26,1129.3 729.76,1129.51 731.25,1129.72 732.73,1130.17 734.22,1130.58 735.72,1130.8 737.19,1130.92 738.68,1131.17 740.18,1131.46 741.67,1131.63 743.15,1132.04 744.64,1132.13 746.14,1132.42 747.63,1132.68 749.11,1133.09 750.6,1133.16 752.1,1133.45 753.57,1133.55 755.06,1133.78 756.56,1134.22 758.05,1134.48 759.53,1134.81 761.02,1135.12 762.52,1135.15 764.01,1135.28 765.49,1135.53 766.98,1135.72 768.47,1136.02 769.97,1136.2 771.44,1136.68 772.94,1136.96 774.43,1137.25 775.91,1137.55 777.4,1137.62 778.9,1137.74 780.39,1138.01 781.87,1138.2 783.36,1138.61 784.85,1138.94 786.35,1139.27 787.82,1139.55 789.32,1139.66 790.81,1139.94 792.29,1140.08 793.78,1140.25 795.28,1140.47 796.77,1140.67 798.24,1140.86 799.74,1141.37 801.23,1141.67 802.73,1141.83 804.2,1142.04 805.7,1142.28 807.19,1142.54 808.69,1142.87 810.16,1142.98 811.66,1143.26 813.15,1143.55 814.62,1143.74 816.12,1143.97 817.61,1144.2 819.11,1144.67 820.58,1144.91 822.08,1145.14 822.7,1145.12 823.57,1145.48 825.07,1145.91 826.54,1146.26 828.04,1146.5 829.53,1146.83 831,1147.01 832.5,1147.39 833.99,1147.76 835.49,1148 836.96,1148.21 838.46,1148.65 839.95,1148.87 841.45,1149.32 842.92,1149.62 844.41,1149.82 845.91,1150.23 847.4,1150.59 848.88,1150.83 850.37,1151.3 851.87,1151.48 853.34,1151.96 854.84,1152.27 856.33,1152.49 857.83,1152.75 859.3,1153.15 860.79,1153.58 862.29,1153.88 863.78,1154.14 865.26,1154.34 866.75,1154.75 868.25,1155.2 869.72,1155.61 871.22,1155.81 872.71,1156.18 874.21,1156.48 875.68,1156.7 877.17,1157.12 878.67,1157.32 880.16,1157.7 881.64,1158.09 883.13,1158.45 884.63,1158.78 886.12,1159.08 887.6,1159.51 889.09,1159.85 890.59,1160.09 892.06,1160.28 893.55,1160.75 895.05,1161.14 896.54,1161.54 898.02,1161.92 899.51,1162.14 901.01,1162.45 902.5,1162.73 903.98,1162.89 905.47,1163.13 906.96,1163.41 908.44,1163.81 909.93,1164.26 911.43,1164.67 912.92,1164.91 914.4,1165.35 915.89,1165.76 917.39,1166.13 918.88,1166.26 920.36,1166.66 921.85,1166.85 923.34,1167.33 924.84,1167.71 926.31,1168.05 926.5,1167.98 927.81,1168.08 929.3,1168.4 930.78,1168.54 932.27,1168.77 933.77,1168.91 935.26,1169.24 936.73,1169.39 938.23,1169.69 939.72,1169.97 941.22,1170.36 942.69,1170.58 944.19,1170.75 945.68,1171.09 947.16,1171.41 948.65,1171.47 950.15,1171.82 951.64,1172.03 953.11,1172.31 954.61,1172.39 956.1,1172.74 957.6,1173.01 959.07,1173.13 960.57,1173.21 961.79,1173.26 962.06,1173.33 963.56,1173.29 965.03,1173.37 966.53,1173.14 968.02,1173.13 969.49,1173.13 970.99,1172.88 972.48,1172.83 973.98,1172.87 975.45,1172.9 976.95,1172.91 978.44,1172.61 979.94,1172.64 980.48,1172.65 981.41,1172.67 982.9,1173.12 984.4,1173.42 985.87,1173.81 987.37,1173.94 988.78,1174.36 988.86,1174.46 990.36,1173.38 991.83,1172.69 993.33,1171.83 994.82,1170.75 995.01,1170.55 996.32,1170.71 997.79,1170.78 999.28,1170.83 1000.78,1170.84 1002.27,1170.7" fill="none" stroke="#3C5488" stroke-width="1.9" stroke-linejoin="round"/>
<line x1="605.7" y1="1100.7" x2="1008.6" y2="1100.7" stroke="#333" stroke-width="1.5"/>
<line x1="1008.6" y1="1100.7" x2="1008.6" y2="1305" stroke="#333" stroke-width="1.5"/>
<line x1="605.7" y1="1305" x2="1008.6" y2="1305" stroke="#111" stroke-width="1.8"/>
<line x1="605.7" y1="1100.7" x2="605.7" y2="1305" stroke="#111" stroke-width="1.8"/>
<line x1="605.7" y1="1182.1" x2="1008.6" y2="1182.1" stroke="#111" stroke-width="1.8"/>
<line x1="605.7" y1="1222.9" x2="1008.6" y2="1222.9" stroke="#111" stroke-width="1.8"/>
<line x1="601.1" y1="1170.7" x2="605.7" y2="1170.7" stroke="#222" stroke-width="1.3"/>
<text class="s" transform="translate(599.1,1174.25)" font-size="10.56" text-anchor="end">0.0</text>
<line x1="601.1" y1="1152.5" x2="605.7" y2="1152.5" stroke="#222" stroke-width="1.3"/>
<text class="s" transform="translate(599.1,1156.05)" font-size="10.56" text-anchor="end">0.2</text>
<line x1="601.1" y1="1134.3" x2="605.7" y2="1134.3" stroke="#222" stroke-width="1.3"/>
<text class="s" transform="translate(599.1,1137.85)" font-size="10.56" text-anchor="end">0.4</text>
<line x1="601.1" y1="1116.1" x2="605.7" y2="1116.1" stroke="#222" stroke-width="1.3"/>
<text class="s" transform="translate(599.1,1119.65)" font-size="10.56" text-anchor="end">0.6</text>
<line x1="601.1" y1="1109" x2="605.7" y2="1109" stroke="#222" stroke-width="1.3"/>
<line x1="601.1" y1="1176" x2="605.7" y2="1176" stroke="#222" stroke-width="1.3"/>
<line x1="601.1" y1="1242.3" x2="605.7" y2="1242.3" stroke="#222" stroke-width="1.3"/>
<text class="s" transform="translate(599.1,1245.85)" font-size="10.56" text-anchor="end">1.0</text>
<line x1="601.1" y1="1256.2" x2="605.7" y2="1256.2" stroke="#222" stroke-width="1.3"/>
<text class="s" transform="translate(599.1,1259.75)" font-size="10.56" text-anchor="end">0.5</text>
<line x1="601.1" y1="1270.1" x2="605.7" y2="1270.1" stroke="#222" stroke-width="1.3"/>
<text class="s" transform="translate(599.1,1273.65)" font-size="10.56" text-anchor="end">0.0</text>
<line x1="601.1" y1="1284" x2="605.7" y2="1284" stroke="#222" stroke-width="1.3"/>
<text class="s" transform="translate(599.1,1287.55)" font-size="10.56" text-anchor="end">−0.5</text>
<line x1="601.1" y1="1232" x2="605.7" y2="1232" stroke="#222" stroke-width="1.3"/>
<line x1="601.1" y1="1296" x2="605.7" y2="1296" stroke="#222" stroke-width="1.3"/>
<line x1="615.1" y1="1305" x2="615.1" y2="1309.5" stroke="#222" stroke-width="1.3"/>
<text class="s" transform="translate(615.1,1320.8)" font-size="10.56" text-anchor="middle">0</text>
<line x1="718.9" y1="1305" x2="718.9" y2="1309.5" stroke="#222" stroke-width="1.3"/>
<text class="s" transform="translate(718.9,1320.8)" font-size="10.56" text-anchor="middle">5,000</text>
<line x1="822.7" y1="1305" x2="822.7" y2="1309.5" stroke="#222" stroke-width="1.3"/>
<text class="s" transform="translate(822.7,1320.8)" font-size="10.56" text-anchor="middle">10,000</text>
<line x1="926.5" y1="1305" x2="926.5" y2="1309.5" stroke="#222" stroke-width="1.3"/>
<text class="s" transform="translate(926.5,1320.8)" font-size="10.56" text-anchor="middle">15,000</text>
<line x1="1002.27" y1="1305" x2="1002.27" y2="1309.5" stroke="#222" stroke-width="1.3"/>
<text class="s" transform="translate(807.3,1333.2)" font-size="10.45" text-anchor="middle">Rank in Ordered DataSet</text>
<text class="s" transform="translate(812.2,1089.4)" font-size="16.85" text-anchor="middle" style="stroke-width:0.1px">PUS1</text>
<text class="s" transform="translate(570.4,1140.5) rotate(-90)" font-size="10.45" text-anchor="middle">Enrichment s</text>
<text class="s" transform="translate(580.9,1140.5) rotate(-90)" font-size="10.45" text-anchor="middle">core</text>
<text class="s" transform="translate(563.9,1265.2) rotate(-90)" font-size="10.45" text-anchor="middle">Ranked list</text>
<text class="s" transform="translate(575.3,1265.2) rotate(-90)" font-size="10.45" text-anchor="middle">metric</text>
<text class="s" transform="translate(620,1240.5)" font-size="10.45">H</text>
<text class="s" transform="translate(985,1296)" font-size="10.45">L</text>
<line x1="606.6" y1="1340.7" x2="612.5" y2="1340.7" stroke="#E64B35" stroke-width="1.8"/>
<text class="s" transform="translate(615.1,1345.1)" font-size="10.42">RNA_POLYMERASE(ES=0.6035,NP=0.0039)</text>
<line x1="606.6" y1="1358.05" x2="612.5" y2="1358.05" stroke="#4DBBD5" stroke-width="1.8"/>
<text class="s" transform="translate(615.1,1362.45)" font-size="10.42">RNA_DEGRADATION(ES=0.5451,NP=0.0124)</text>
<line x1="606.6" y1="1375.4" x2="612.5" y2="1375.4" stroke="#00A087" stroke-width="1.8"/>
<text class="s" transform="translate(615.1,1379.8)" font-size="10.42">PROTEIN_EXPORT(ES=0.6720,NP=0.0184)</text>
<line x1="606.6" y1="1392.75" x2="612.5" y2="1392.75" stroke="#3C5488" stroke-width="1.8"/>
<text class="s" transform="translate(615.1,1397.15)" font-size="10.42">SPLICEOSOME(ES=0.5466,NP=0.0235)</text>
<line x1="1127.2" y1="1099.4" x2="1127.2" y2="1174" stroke="#e6e6e6" stroke-width="1"/>
<line x1="1127.2" y1="1213.1" x2="1127.2" y2="1290.3" stroke="#e6e6e6" stroke-width="1"/>
<line x1="1232.93" y1="1099.4" x2="1232.93" y2="1174" stroke="#e6e6e6" stroke-width="1"/>
<line x1="1232.93" y1="1213.1" x2="1232.93" y2="1290.3" stroke="#e6e6e6" stroke-width="1"/>
<line x1="1338.67" y1="1099.4" x2="1338.67" y2="1174" stroke="#e6e6e6" stroke-width="1"/>
<line x1="1338.67" y1="1213.1" x2="1338.67" y2="1290.3" stroke="#e6e6e6" stroke-width="1"/>
<line x1="1444.4" y1="1099.4" x2="1444.4" y2="1174" stroke="#e6e6e6" stroke-width="1"/>
<line x1="1444.4" y1="1213.1" x2="1444.4" y2="1290.3" stroke="#e6e6e6" stroke-width="1"/>
<line x1="1124.2" y1="1156.1" x2="1505.73" y2="1156.1" stroke="#e6e6e6" stroke-width="1"/>
<line x1="1124.2" y1="1147" x2="1505.73" y2="1147" stroke="#e6e6e6" stroke-width="1"/>
<line x1="1124.2" y1="1137.9" x2="1505.73" y2="1137.9" stroke="#e6e6e6" stroke-width="1"/>
<line x1="1124.2" y1="1128.8" x2="1505.73" y2="1128.8" stroke="#e6e6e6" stroke-width="1"/>
<line x1="1124.2" y1="1119.7" x2="1505.73" y2="1119.7" stroke="#e6e6e6" stroke-width="1"/>
<line x1="1124.2" y1="1110.6" x2="1505.73" y2="1110.6" stroke="#e6e6e6" stroke-width="1"/>
<line x1="1124.2" y1="1223.95" x2="1505.73" y2="1223.95" stroke="#e6e6e6" stroke-width="1"/>
<line x1="1124.2" y1="1235.3" x2="1505.73" y2="1235.3" stroke="#e6e6e6" stroke-width="1"/>
<line x1="1124.2" y1="1246.65" x2="1505.73" y2="1246.65" stroke="#e6e6e6" stroke-width="1"/>
<line x1="1124.2" y1="1269.35" x2="1505.73" y2="1269.35" stroke="#e6e6e6" stroke-width="1"/>
<line x1="1124.2" y1="1280.7" x2="1505.73" y2="1280.7" stroke="#e6e6e6" stroke-width="1"/>
<line x1="1119.1" y1="1165.2" x2="1528.1" y2="1165.2" stroke="#b0b0b0" stroke-width="1" stroke-dasharray="2,2"/>
<path d="M1127.2,1258 L1127.2,1222.82 L1128.15,1223.87 L1128.47,1233.03 L1128.47,1233.03 L1128.47,1233.03 L1128.47,1233.03 L1128.47,1233.03 L1128.47,1233.03 L1128.47,1233.03 L1128.47,1233.03 L1128.47,1233.03 L1128.47,1233.03 L1128.47,1233.03 L1128.64,1233.49 L1128.84,1234.02 L1129.04,1234.57 L1129.26,1235.14 L1129.48,1235.45 L1129.71,1235.66 L1129.95,1235.87 L1130.2,1236.09 L1130.46,1236.32 L1130.72,1236.56 L1131,1236.8 L1131.28,1237.05 L1131.56,1237.31 L1131.86,1237.57 L1132.16,1237.84 L1132.47,1238.12 L1132.78,1238.4 L1133.11,1238.69 L1133.44,1238.99 L1133.77,1239.29 L1134.11,1239.59 L1134.46,1239.9 L1134.82,1240.22 L1135.18,1240.55 L1135.55,1240.88 L1135.92,1241.07 L1136.3,1241.21 L1136.69,1241.34 L1137.08,1241.48 L1137.48,1241.63 L1137.88,1241.77 L1138.29,1241.92 L1138.71,1242.07 L1139.13,1242.22 L1139.56,1242.37 L1139.99,1242.52 L1140.43,1242.68 L1140.87,1242.84 L1141.32,1243 L1141.77,1243.16 L1142.23,1243.33 L1142.7,1243.49 L1143.17,1243.66 L1143.65,1243.83 L1144.13,1244 L1144.61,1244.18 L1145.1,1244.35 L1145.6,1244.53 L1146.1,1244.71 L1146.61,1244.89 L1147.12,1245.08 L1147.64,1245.26 L1148.16,1245.45 L1148.68,1245.58 L1149.22,1245.67 L1149.75,1245.77 L1150.29,1245.87 L1150.84,1245.97 L1151.39,1246.07 L1151.94,1246.17 L1152.5,1246.27 L1153.07,1246.38 L1153.64,1246.48 L1154.21,1246.59 L1154.79,1246.69 L1155.37,1246.8 L1155.96,1246.9 L1156.55,1247.01 L1157.15,1247.12 L1157.75,1247.23 L1158.36,1247.34 L1158.97,1247.45 L1159.58,1247.57 L1160.2,1247.68 L1160.83,1247.79 L1161.45,1247.91 L1162.08,1248.02 L1162.72,1248.14 L1163.36,1248.26 L1164.01,1248.37 L1164.66,1248.49 L1165.31,1248.61 L1165.97,1248.73 L1166.63,1248.85 L1167.3,1248.97 L1167.97,1249.1 L1168.64,1249.22 L1169.32,1249.34 L1170,1249.44 L1170.69,1249.53 L1171.38,1249.62 L1172.08,1249.71 L1172.77,1249.8 L1173.48,1249.89 L1174.18,1249.98 L1174.9,1250.07 L1175.61,1250.16 L1176.33,1250.25 L1177.05,1250.35 L1177.78,1250.44 L1178.51,1250.54 L1179.25,1250.63 L1179.99,1250.73 L1180.73,1250.82 L1181.47,1250.92 L1182.23,1251.01 L1182.98,1251.11 L1183.74,1251.21 L1184.5,1251.31 L1185.27,1251.41 L1186.04,1251.5 L1186.81,1251.6 L1187.59,1251.7 L1188.37,1251.81 L1189.15,1251.91 L1189.94,1252.01 L1190.73,1252.11 L1191.53,1252.21 L1192.33,1252.32 L1193.13,1252.42 L1193.94,1252.52 L1194.75,1252.63 L1195.56,1252.73 L1196.38,1252.84 L1197.2,1252.94 L1198.03,1253.05 L1198.86,1253.16 L1199.69,1253.26 L1200.53,1253.37 L1201.37,1253.47 L1202.21,1253.55 L1203.06,1253.62 L1203.91,1253.69 L1204.76,1253.76 L1205.62,1253.84 L1206.48,1253.91 L1207.35,1253.99 L1208.21,1254.06 L1209.09,1254.14 L1209.96,1254.21 L1210.84,1254.29 L1211.72,1254.36 L1212.61,1254.44 L1213.5,1254.51 L1214.39,1254.59 L1215.29,1254.67 L1216.19,1254.75 L1217.09,1254.82 L1217.99,1254.9 L1218.9,1254.98 L1219.82,1255.06 L1220.73,1255.14 L1221.65,1255.22 L1222.58,1255.29 L1223.5,1255.37 L1224.43,1255.45 L1225.37,1255.53 L1226.3,1255.61 L1227.24,1255.7 L1228.19,1255.78 L1229.13,1255.86 L1230.08,1255.94 L1231.04,1256.02 L1231.99,1256.1 L1232.95,1256.18 L1233.91,1256.21 L1234.88,1256.24 L1235.85,1256.27 L1236.82,1256.3 L1237.8,1256.32 L1238.78,1256.35 L1239.76,1256.38 L1240.75,1256.41 L1241.74,1256.44 L1242.73,1256.46 L1243.72,1256.49 L1244.72,1256.52 L1245.72,1256.55 L1246.73,1256.58 L1247.74,1256.61 L1248.75,1256.64 L1249.76,1256.67 L1250.78,1256.69 L1251.8,1256.72 L1252.82,1256.75 L1253.85,1256.78 L1254.88,1256.81 L1255.92,1256.84 L1256.95,1256.87 L1257.99,1256.9 L1259.03,1256.93 L1260.08,1256.96 L1261.13,1256.99 L1262.18,1257.02 L1263.24,1257.05 L1264.29,1257.08 L1265.36,1257.11 L1266.42,1257.14 L1267.49,1257.17 L1268.56,1257.2 L1269.63,1257.23 L1270.71,1257.27 L1271.79,1257.3 L1272.87,1257.33 L1273.95,1257.36 L1275.04,1257.39 L1276.13,1257.42 L1277.23,1257.45 L1278.33,1257.48 L1279.43,1257.51 L1280.53,1257.55 L1281.64,1257.58 L1282.75,1257.61 L1283.86,1257.64 L1284.98,1257.67 L1286.09,1257.71 L1287.22,1257.74 L1288.34,1257.77 L1289.47,1257.8 L1290.6,1257.83 L1291.73,1257.87 L1292.87,1257.9 L1294.01,1257.93 L1295.15,1257.96 L1296.29,1258 L1297.44,1258.02 L1298.59,1258.04 L1299.74,1258.06 L1300.9,1258.08 L1302.06,1258.1 L1303.22,1258.12 L1304.39,1258.14 L1305.56,1258.16 L1306.73,1258.19 L1307.9,1258.21 L1309.08,1258.23 L1310.26,1258.25 L1311.44,1258.27 L1312.63,1258.29 L1313.81,1258.31 L1315,1258.33 L1316.2,1258.35 L1317.4,1258.38 L1318.59,1258.4 L1319.8,1258.42 L1321,1258.44 L1322.21,1258.46 L1323.42,1258.48 L1324.63,1258.51 L1325.85,1258.53 L1327.07,1258.55 L1328.29,1258.57 L1329.52,1258.59 L1330.74,1258.61 L1331.97,1258.64 L1333.21,1258.66 L1334.44,1258.68 L1335.68,1258.7 L1336.92,1258.73 L1338.17,1258.75 L1339.41,1258.77 L1340.66,1258.79 L1341.92,1258.81 L1343.17,1258.84 L1344.43,1258.86 L1345.69,1258.88 L1346.95,1258.9 L1348.22,1258.93 L1349.49,1258.95 L1350.76,1258.97 L1352.04,1259 L1353.31,1259.02 L1354.59,1259.04 L1355.87,1259.06 L1357.16,1259.09 L1358.45,1259.11 L1359.74,1259.13 L1361.03,1259.17 L1362.33,1259.2 L1363.63,1259.23 L1364.93,1259.26 L1366.23,1259.3 L1367.54,1259.33 L1368.85,1259.36 L1370.16,1259.39 L1371.47,1259.43 L1372.79,1259.46 L1374.11,1259.49 L1375.43,1259.53 L1376.76,1259.56 L1378.09,1259.59 L1379.42,1259.63 L1380.75,1259.66 L1382.09,1259.69 L1383.42,1259.73 L1384.77,1259.76 L1386.11,1259.79 L1387.46,1259.83 L1388.8,1259.86 L1390.16,1259.89 L1391.51,1259.93 L1392.87,1259.96 L1394.23,1260 L1395.59,1260.03 L1396.95,1260.07 L1398.32,1260.1 L1399.69,1260.13 L1401.06,1260.17 L1402.44,1260.2 L1403.81,1260.24 L1405.19,1260.27 L1406.58,1260.31 L1407.96,1260.34 L1409.35,1260.38 L1410.74,1260.41 L1412.13,1260.45 L1413.53,1260.48 L1414.93,1260.52 L1416.33,1260.55 L1417.73,1260.59 L1419.14,1260.62 L1420.54,1260.66 L1421.95,1260.69 L1423.37,1260.73 L1424.78,1260.81 L1426.2,1260.88 L1427.62,1260.96 L1429.05,1261.03 L1430.47,1261.11 L1431.9,1261.19 L1433.33,1261.26 L1434.76,1261.34 L1436.2,1261.42 L1437.64,1261.5 L1439.08,1261.57 L1440.52,1261.65 L1441.97,1261.73 L1443.42,1261.81 L1444.87,1261.88 L1446.32,1261.96 L1447.78,1262.04 L1449.24,1262.12 L1450.7,1262.2 L1452.16,1262.28 L1453.63,1262.35 L1455.1,1262.43 L1456.57,1262.51 L1458.04,1262.59 L1459.51,1262.67 L1460.99,1262.75 L1462.47,1262.83 L1463.96,1262.91 L1465.44,1262.99 L1466.93,1263.17 L1468.42,1263.36 L1469.91,1263.56 L1471.41,1263.75 L1472.91,1263.94 L1474.41,1264.13 L1475.91,1264.33 L1477.41,1264.52 L1478.92,1264.72 L1480.43,1264.91 L1481.94,1265.11 L1483.46,1265.3 L1484.98,1265.5 L1486.5,1265.69 L1488.02,1265.89 L1489.54,1266.08 L1491.07,1266.28 L1492.6,1266.48 L1494.13,1266.68 L1495.66,1266.87 L1497.2,1267.07 L1498.74,1267.57 L1500.28,1268.09 L1501.82,1268.61 L1503.37,1269.13 L1504.92,1269.65 L1506.47,1270.17 L1508.02,1270.69 L1509.58,1271.21 L1511.14,1271.73 L1512.7,1272.25 L1514.26,1272.86 L1515.82,1275.21 L1517.39,1277.57 L1518.96,1279.93 L1520.53,1280.7 L1520.53,1258 Z" stroke="none" stroke-width="1" fill="#c9c9c9"/>
<line x1="1119.1" y1="1258" x2="1528.1" y2="1258" stroke="#b0b0b0" stroke-width="1" stroke-dasharray="2,2"/>
<path d="M1127.59,1175V1180.92M1130.16,1175V1180.92M1131.47,1175V1180.92M1133.38,1175V1180.92M1133.63,1175V1180.92M1135.89,1175V1180.92M1136.71,1175V1180.92M1137.12,1175V1180.92M1137.68,1175V1180.92M1139.04,1175V1180.92M1141.48,1175V1180.92M1145.19,1175V1180.92M1147.18,1175V1180.92M1148.31,1175V1180.92M1151.02,1175V1180.92M1153.05,1175V1180.92M1162.63,1175V1180.92M1174.1,1175V1180.92M1178.09,1175V1180.92M1179.16,1175V1180.92M1182.63,1175V1180.92M1183.95,1175V1180.92M1192.13,1175V1180.92M1196.65,1175V1180.92M1199.51,1175V1180.92M1207.36,1175V1180.92M1212.38,1175V1180.92M1227.07,1175V1180.92M1228.33,1175V1180.92M1240.13,1175V1180.92M1243.96,1175V1180.92M1248.02,1175V1180.92M1250.89,1175V1180.92M1253.13,1175V1180.92M1254.19,1175V1180.92M1257.03,1175V1180.92M1261.52,1175V1180.92M1268,1175V1180.92M1276.71,1175V1180.92M1277.41,1175V1180.92M1284.66,1175V1180.92M1297.06,1175V1180.92M1302.02,1175V1180.92M1306.44,1175V1180.92M1319.45,1175V1180.92M1323.75,1175V1180.92M1331.23,1175V1180.92M1338.19,1175V1180.92M1361.07,1175V1180.92M1365.76,1175V1180.92M1369.99,1175V1180.92M1380.64,1175V1180.92M1384.49,1175V1180.92M1406.36,1175V1180.92M1414.6,1175V1180.92M1416.55,1175V1180.92M1427.94,1175V1180.92M1446.42,1175V1180.92M1452.68,1175V1180.92M1454.07,1175V1180.92M1460.99,1175V1180.92M1472.23,1175V1180.92M1474.29,1175V1180.92M1496.36,1175V1180.92M1506.13,1175V1180.92M1520.53,1175V1180.92" stroke="#E64B35" stroke-width="1.8" fill="none"/>
<path d="M1128.57,1182.82V1188.74M1129.32,1182.82V1188.74M1130.99,1182.82V1188.74M1133.14,1182.82V1188.74M1136.22,1182.82V1188.74M1137.51,1182.82V1188.74M1138.15,1182.82V1188.74M1138.75,1182.82V1188.74M1139.99,1182.82V1188.74M1140.8,1182.82V1188.74M1144.21,1182.82V1188.74M1144.28,1182.82V1188.74M1145.27,1182.82V1188.74M1147.89,1182.82V1188.74M1148.27,1182.82V1188.74M1152.67,1182.82V1188.74M1154.44,1182.82V1188.74M1156.7,1182.82V1188.74M1158.24,1182.82V1188.74M1158.24,1182.82V1188.74M1160.01,1182.82V1188.74M1163.68,1182.82V1188.74M1163.68,1182.82V1188.74M1173.94,1182.82V1188.74M1176.05,1182.82V1188.74M1179.3,1182.82V1188.74M1185.56,1182.82V1188.74M1186.64,1182.82V1188.74M1187.25,1182.82V1188.74M1188.01,1182.82V1188.74M1192.68,1182.82V1188.74M1198.25,1182.82V1188.74M1203.42,1182.82V1188.74M1206.24,1182.82V1188.74M1214.15,1182.82V1188.74M1216.54,1182.82V1188.74M1219.92,1182.82V1188.74M1222.72,1182.82V1188.74M1225.83,1182.82V1188.74M1226.46,1182.82V1188.74M1227.08,1182.82V1188.74M1233.63,1182.82V1188.74M1235.67,1182.82V1188.74M1240.47,1182.82V1188.74M1240.6,1182.82V1188.74M1252.13,1182.82V1188.74M1252.47,1182.82V1188.74M1255.72,1182.82V1188.74M1263.42,1182.82V1188.74M1264.09,1182.82V1188.74M1264.66,1182.82V1188.74M1274.12,1182.82V1188.74M1287.67,1182.82V1188.74M1289.83,1182.82V1188.74M1299.9,1182.82V1188.74M1305.21,1182.82V1188.74M1318.67,1182.82V1188.74M1319.73,1182.82V1188.74M1330.62,1182.82V1188.74M1337.53,1182.82V1188.74M1344.64,1182.82V1188.74M1347.39,1182.82V1188.74M1350.23,1182.82V1188.74M1370.53,1182.82V1188.74M1372.36,1182.82V1188.74M1378.64,1182.82V1188.74M1386.79,1182.82V1188.74M1387.86,1182.82V1188.74M1397.44,1182.82V1188.74M1398.58,1182.82V1188.74M1408.09,1182.82V1188.74M1422.11,1182.82V1188.74M1426.95,1182.82V1188.74M1431.32,1182.82V1188.74M1437.25,1182.82V1188.74M1455.92,1182.82V1188.74M1459.65,1182.82V1188.74M1460.91,1182.82V1188.74M1474.73,1182.82V1188.74M1476.59,1182.82V1188.74M1477.87,1182.82V1188.74M1499.86,1182.82V1188.74M1503.05,1182.82V1188.74M1514.73,1182.82V1188.74M1520.53,1182.82V1188.74" stroke="#4DBBD5" stroke-width="1.8" fill="none"/>
<path d="M1127.81,1190.64V1196.56M1128.68,1190.64V1196.56M1129.41,1190.64V1196.56M1130.12,1190.64V1196.56M1132.93,1190.64V1196.56M1133.46,1190.64V1196.56M1133.95,1190.64V1196.56M1136.59,1190.64V1196.56M1137.57,1190.64V1196.56M1137.91,1190.64V1196.56M1138.25,1190.64V1196.56M1138.5,1190.64V1196.56M1140.74,1190.64V1196.56M1142.63,1190.64V1196.56M1143.16,1190.64V1196.56M1143.71,1190.64V1196.56M1143.98,1190.64V1196.56M1145.21,1190.64V1196.56M1147.44,1190.64V1196.56M1147.76,1190.64V1196.56M1148.96,1190.64V1196.56M1149.5,1190.64V1196.56M1150,1190.64V1196.56M1152.63,1190.64V1196.56M1152.95,1190.64V1196.56M1154.44,1190.64V1196.56M1154.83,1190.64V1196.56M1156.99,1190.64V1196.56M1157.02,1190.64V1196.56M1158.85,1190.64V1196.56M1159.94,1190.64V1196.56M1160.99,1190.64V1196.56M1166.86,1190.64V1196.56M1167.47,1190.64V1196.56M1168.12,1190.64V1196.56M1171.75,1190.64V1196.56M1173.9,1190.64V1196.56M1175.37,1190.64V1196.56M1178.7,1190.64V1196.56M1179.09,1190.64V1196.56M1180.84,1190.64V1196.56M1183.18,1190.64V1196.56M1186.03,1190.64V1196.56M1186.6,1190.64V1196.56M1187.7,1190.64V1196.56M1194.53,1190.64V1196.56M1194.59,1190.64V1196.56M1194.78,1190.64V1196.56M1196.08,1190.64V1196.56M1200.69,1190.64V1196.56M1203.87,1190.64V1196.56M1205.11,1190.64V1196.56M1205.72,1190.64V1196.56M1208.7,1190.64V1196.56M1209.97,1190.64V1196.56M1214.3,1190.64V1196.56M1216.91,1190.64V1196.56M1217.06,1190.64V1196.56M1219.08,1190.64V1196.56M1220.31,1190.64V1196.56M1224.5,1190.64V1196.56M1231.8,1190.64V1196.56M1232.56,1190.64V1196.56M1233.2,1190.64V1196.56M1240.19,1190.64V1196.56M1246.27,1190.64V1196.56M1247.83,1190.64V1196.56M1249.82,1190.64V1196.56M1259.64,1190.64V1196.56M1263.26,1190.64V1196.56M1264.66,1190.64V1196.56M1271.83,1190.64V1196.56M1285.64,1190.64V1196.56M1295.72,1190.64V1196.56M1300.54,1190.64V1196.56M1314.89,1190.64V1196.56M1344.03,1190.64V1196.56M1361.35,1190.64V1196.56M1363.84,1190.64V1196.56M1389.99,1190.64V1196.56M1393.35,1190.64V1196.56M1403,1190.64V1196.56M1418.66,1190.64V1196.56M1422.17,1190.64V1196.56M1425.25,1190.64V1196.56M1445.33,1190.64V1196.56M1473.33,1190.64V1196.56M1475.94,1190.64V1196.56M1480.52,1190.64V1196.56M1489.94,1190.64V1196.56M1502.38,1190.64V1196.56M1508.88,1190.64V1196.56" stroke="#00A087" stroke-width="1.8" fill="none"/>
<path d="M1127.2,1198.46V1204.38M1130.85,1198.46V1204.38M1132.08,1198.46V1204.38M1133.04,1198.46V1204.38M1139.88,1198.46V1204.38M1144.03,1198.46V1204.38M1146.02,1198.46V1204.38M1148.17,1198.46V1204.38M1154.08,1198.46V1204.38M1157.62,1198.46V1204.38M1160.18,1198.46V1204.38M1167.19,1198.46V1204.38M1173.05,1198.46V1204.38M1175.27,1198.46V1204.38M1181.93,1198.46V1204.38M1194.64,1198.46V1204.38M1198.8,1198.46V1204.38M1205.4,1198.46V1204.38M1210.64,1198.46V1204.38M1211.27,1198.46V1204.38M1215.12,1198.46V1204.38M1218.66,1198.46V1204.38M1240.67,1198.46V1204.38M1246.74,1198.46V1204.38M1259.74,1198.46V1204.38M1338.67,1198.46V1204.38M1341.12,1198.46V1204.38M1343.53,1198.46V1204.38M1353.41,1198.46V1204.38M1392.1,1198.46V1204.38M1392.78,1198.46V1204.38M1395.68,1198.46V1204.38M1402.44,1198.46V1204.38M1412.68,1198.46V1204.38M1481.86,1198.46V1204.38M1504.53,1198.46V1204.38M1517.34,1198.46V1204.38M1520.53,1198.46V1204.38" stroke="#3C5488" stroke-width="1.8" fill="none"/>
<path d="M1127.2,1206.28V1212.2M1130.39,1206.28V1212.2M1130.49,1206.28V1212.2M1131.1,1206.28V1212.2M1133.48,1206.28V1212.2M1134.32,1206.28V1212.2M1134.69,1206.28V1212.2M1136.65,1206.28V1212.2M1139.13,1206.28V1212.2M1139.55,1206.28V1212.2M1140.07,1206.28V1212.2M1143.52,1206.28V1212.2M1144.1,1206.28V1212.2M1144.33,1206.28V1212.2M1146.09,1206.28V1212.2M1146.75,1206.28V1212.2M1148.21,1206.28V1212.2M1150.5,1206.28V1212.2M1150.65,1206.28V1212.2M1151.42,1206.28V1212.2M1152.95,1206.28V1212.2M1155.36,1206.28V1212.2M1156.8,1206.28V1212.2M1156.82,1206.28V1212.2M1158.85,1206.28V1212.2M1162.82,1206.28V1212.2M1168.41,1206.28V1212.2M1174.18,1206.28V1212.2M1180.5,1206.28V1212.2M1183.05,1206.28V1212.2M1184.31,1206.28V1212.2M1188.18,1206.28V1212.2M1198.68,1206.28V1212.2M1201.45,1206.28V1212.2M1206.3,1206.28V1212.2M1207.48,1206.28V1212.2M1208.13,1206.28V1212.2M1209.49,1206.28V1212.2M1218.35,1206.28V1212.2M1243.4,1206.28V1212.2M1244.79,1206.28V1212.2M1248.08,1206.28V1212.2M1292.19,1206.28V1212.2M1305.1,1206.28V1212.2M1308.84,1206.28V1212.2M1329.62,1206.28V1212.2M1332.89,1206.28V1212.2M1370.36,1206.28V1212.2M1381.44,1206.28V1212.2M1399.25,1206.28V1212.2M1407.84,1206.28V1212.2M1439.63,1206.28V1212.2M1473.9,1206.28V1212.2M1481.79,1206.28V1212.2M1487.41,1206.28V1212.2M1491.83,1206.28V1212.2M1507.15,1206.28V1212.2" stroke="#F39B7F" stroke-width="1.8" fill="none"/>
<line x1="1118.1" y1="1181.82" x2="1529.1" y2="1181.82" stroke="#222" stroke-width="1.3"/>
<line x1="1118.1" y1="1189.64" x2="1529.1" y2="1189.64" stroke="#222" stroke-width="1.3"/>
<line x1="1118.1" y1="1197.46" x2="1529.1" y2="1197.46" stroke="#222" stroke-width="1.3"/>
<line x1="1118.1" y1="1205.28" x2="1529.1" y2="1205.28" stroke="#222" stroke-width="1.3"/>
<polyline points="1127.2,1165.2 1128.7,1152.57 1129.31,1147.15 1130.22,1144.33 1131.73,1138.95 1133.25,1133.73 1133.54,1133.07 1134.75,1131.16 1136.27,1128.93 1137.77,1126.85 1139.3,1125.2 1139.89,1124.21 1140.8,1123.98 1142.32,1123.46 1143.82,1122 1145.34,1120.94 1146.87,1120.29 1148.35,1119.68 1148.37,1119.54 1149.89,1118.87 1151.39,1118.52 1152.91,1117.78 1154.42,1117.54 1155.94,1116.68 1156.81,1115.84 1157.44,1115.52 1158.96,1116.21 1160.46,1115.92 1161.99,1115.85 1163.49,1115.9 1165.01,1116.01 1166.53,1115.98 1168.03,1116.65 1169.49,1116.5 1169.56,1116.68 1171.06,1116.89 1172.58,1116.58 1174.08,1116.58 1175.61,1116.58 1177.11,1116.06 1178.63,1115.95 1180.13,1115.86 1181.65,1116.39 1183.15,1116.57 1184.3,1116.29 1184.68,1116.07 1186.2,1116.13 1187.7,1116.06 1189.22,1116.47 1190.73,1117.11 1192.25,1117.24 1193.75,1117.24 1195.27,1117.82 1196.77,1118.11 1198.3,1118.49 1199.8,1118.93 1201.32,1119 1202.82,1119.45 1204.34,1119.88 1205.87,1119.97 1207.37,1120.49 1208.89,1120.11 1210.39,1120.58 1211.91,1120.84 1213.42,1121.02 1214.94,1121.39 1216.44,1121.51 1217.96,1121.72 1219.46,1122.01 1220.99,1122.34 1222.49,1122.49 1224.01,1122.72 1225.53,1122.85 1227.03,1123.15 1228.56,1123.45 1230.06,1123.6 1231.58,1123.92 1232.93,1124.24 1233.08,1124.13 1234.61,1124.45 1236.11,1124.86 1237.63,1125.11 1239.13,1125.46 1240.65,1125.56 1242.16,1125.71 1243.68,1125.98 1245.2,1126.4 1246.7,1126.61 1248.22,1126.85 1249.73,1127.2 1251.25,1127.53 1252.75,1127.8 1254.27,1128.1 1255.77,1128.4 1257.3,1128.46 1258.8,1128.74 1260.32,1128.97 1261.82,1129.14 1263.34,1129.45 1264.87,1129.63 1266.37,1129.78 1267.89,1130.24 1269.39,1130.58 1270.92,1130.96 1272.42,1131.29 1273.94,1131.32 1275.44,1131.67 1276.96,1131.8 1278.46,1132.13 1279.99,1132.28 1281.49,1132.52 1283.01,1132.68 1284.53,1132.89 1286.04,1133.21 1287.56,1133.54 1289.06,1133.72 1290.58,1133.98 1292.08,1134.36 1293.61,1134.5 1295.11,1134.98 1296.63,1135.16 1298.13,1135.46 1299.65,1135.65 1301.16,1135.88 1302.68,1136.31 1304.2,1136.41 1305.7,1136.85 1307.22,1136.93 1308.73,1137.07 1310.25,1137.48 1311.75,1137.91 1313.27,1138.23 1314.77,1138.48 1316.3,1138.73 1317.8,1138.83 1319.32,1139.06 1320.82,1139.2 1322.34,1139.64 1323.87,1139.92 1325.37,1140.25 1326.89,1140.63 1328.39,1140.93 1329.92,1141.2 1331.42,1141.38 1332.94,1141.44 1334.44,1141.68 1335.96,1142.11 1337.46,1142.16 1338.67,1142.4 1338.99,1142.59 1340.49,1142.77 1342.01,1143.01 1343.53,1143.25 1345.04,1143.54 1346.56,1143.83 1348.06,1144.24 1349.58,1144.61 1351.08,1144.93 1352.61,1145.17 1354.11,1145.33 1355.63,1145.67 1357.13,1146.06 1358.65,1146.27 1360.16,1146.69 1361.68,1146.83 1363.2,1146.98 1364.7,1147.28 1366.22,1147.7 1367.73,1148 1369.25,1148.42 1370.75,1148.71 1372.27,1148.86 1373.77,1149.23 1375.3,1149.45 1376.8,1149.62 1378.32,1149.97 1379.82,1150.15 1381.34,1150.61 1382.87,1150.75 1384.37,1151.2 1385.89,1151.41 1387.39,1151.61 1388.92,1151.82 1390.42,1152.14 1391.94,1152.33 1393.44,1152.71 1394.96,1153.19 1396.46,1153.31 1397.99,1153.58 1399.49,1153.78 1401.01,1153.99 1402.53,1154.5 1404.04,1154.91 1405.56,1155.17 1407.06,1155.48 1408.58,1155.64 1410.08,1155.86 1411.61,1156.15 1413.11,1156.53 1414.63,1156.69 1416.13,1157.14 1417.65,1157.26 1419.16,1157.68 1420.68,1158 1422.2,1158.38 1423.7,1158.7 1425.22,1158.82 1426.73,1158.96 1428.25,1159.26 1429.75,1159.56 1431.27,1159.78 1432.77,1160.11 1434.3,1160.48 1435.8,1160.7 1437.32,1161.14 1438.82,1161.48 1440.34,1161.65 1441.87,1162.09 1443.37,1162.36 1444.4,1162.46 1444.89,1162.39 1446.39,1162.58 1447.92,1162.88 1449.42,1162.99 1450.94,1163.02 1452.44,1163.08 1453.96,1163.15 1455.46,1163.3 1456.99,1163.56 1458.49,1163.54 1460.01,1163.78 1461.53,1163.99 1463.04,1164 1464.56,1164.13 1466.06,1164.35 1467.58,1164.49 1469.08,1164.67 1470.61,1164.66 1472.11,1164.75 1473.63,1164.77 1475.13,1164.95 1476.13,1165.12 1476.65,1164.9 1478.16,1164.42 1479.68,1163.77 1481.2,1163.35 1482.7,1162.79 1484.22,1162.39 1485.73,1161.88 1486.7,1161.61 1487.25,1161.51 1488.75,1161.63 1490.27,1161.86 1491.77,1162.07 1493.3,1162.23 1494.8,1162.49 1496.32,1162.77 1497.82,1162.73 1499.34,1163.05 1500.87,1163.23 1502.37,1163.18 1503.89,1163.29 1505.39,1163.58 1506.92,1163.72 1508.42,1164.03 1509.94,1164.18 1511.44,1164.16 1512.96,1164.33 1514.47,1164.4 1515.99,1164.6 1517.49,1164.71 1519.01,1164.97 1520.53,1165.2" fill="none" stroke="#E64B35" stroke-width="1.9" stroke-linejoin="round"/>
<polyline points="1127.2,1165.2 1128.7,1148.81 1129.31,1142.68 1130.22,1139.24 1131.73,1134.05 1133.25,1128.63 1133.54,1127.57 1134.75,1125.79 1136.27,1124.07 1137.77,1122.12 1139.3,1120.15 1139.89,1119.66 1140.8,1118.98 1142.32,1118.78 1143.82,1118.25 1145.34,1117.76 1146.87,1116.82 1148.35,1116.42 1148.37,1116.02 1149.89,1115.66 1151.39,1114.73 1152.91,1114.03 1154.42,1113.31 1155.94,1112.74 1157.44,1112.15 1158.92,1111.46 1158.96,1111.3 1160.46,1110.91 1161.99,1110.92 1163.49,1111.24 1165.01,1110.61 1166.53,1110.98 1168.03,1111.17 1169.49,1110.79 1169.56,1110.59 1171.06,1110.36 1172.58,1110.27 1174.08,1110.76 1175.61,1110.8 1177.11,1111.02 1178.63,1110.72 1180.13,1110.47 1181.65,1110.77 1183.15,1110.94 1184.68,1110.81 1186.2,1110.97 1187.7,1110.8 1189.22,1111.1 1190.64,1110.88 1190.73,1111.22 1192.25,1111.39 1193.75,1111.54 1195.27,1111.9 1196.77,1112.6 1198.3,1112.9 1199.8,1113.68 1201.32,1114.11 1202.82,1113.84 1204.34,1114.42 1205.87,1114.34 1207.37,1114.5 1208.89,1114.74 1210.39,1115.28 1211.91,1115.72 1213.42,1116.1 1214.94,1116.41 1216.44,1116.78 1217.96,1116.9 1219.46,1117.15 1220.99,1117.44 1222.49,1117.66 1224.01,1118.09 1225.53,1118.41 1227.03,1118.65 1228.56,1118.81 1230.06,1119.14 1231.58,1119.52 1232.93,1119.71 1233.08,1119.67 1234.61,1119.86 1236.11,1120.24 1237.63,1120.47 1239.13,1120.68 1240.65,1121.05 1242.16,1121.32 1243.68,1121.5 1245.2,1121.87 1246.7,1122.19 1248.22,1122.44 1249.73,1122.6 1251.25,1122.84 1252.75,1123.09 1254.27,1123.39 1255.77,1123.62 1257.3,1123.89 1258.8,1124.28 1260.32,1124.35 1261.82,1124.76 1263.34,1125.14 1264.87,1125.2 1266.37,1125.52 1267.89,1125.77 1269.39,1126.01 1270.92,1126.4 1272.42,1126.69 1273.94,1126.73 1275.44,1127.11 1276.96,1127.47 1278.46,1127.53 1279.99,1127.79 1281.49,1127.93 1283.01,1128.28 1284.53,1128.44 1286.04,1128.83 1287.56,1129.19 1289.06,1129.35 1290.58,1129.66 1292.08,1129.96 1293.61,1130.08 1295.11,1130.3 1296.63,1130.67 1298.13,1130.9 1299.65,1131.07 1301.16,1131.36 1302.68,1131.79 1304.2,1131.89 1305.7,1132.22 1307.22,1132.55 1308.73,1132.93 1310.25,1133.16 1311.75,1133.37 1313.27,1133.71 1314.77,1133.91 1316.3,1133.98 1317.8,1134.28 1319.32,1134.57 1320.82,1134.94 1322.34,1135.23 1323.87,1135.58 1325.37,1135.62 1326.89,1135.98 1328.39,1136.27 1329.92,1136.46 1331.42,1136.7 1332.94,1136.85 1334.44,1137.19 1335.96,1137.33 1337.46,1137.48 1338.67,1137.82 1338.99,1138.06 1340.49,1138.34 1342.01,1138.54 1343.53,1138.79 1345.04,1139.06 1346.56,1139.22 1348.06,1139.56 1349.58,1139.85 1351.08,1140 1352.61,1140.42 1354.11,1140.56 1355.63,1140.78 1357.13,1140.98 1358.65,1141.42 1360.16,1141.55 1361.68,1141.78 1363.2,1142.04 1364.7,1142.4 1366.22,1142.54 1367.73,1142.8 1369.25,1142.98 1370.75,1143.36 1372.27,1143.55 1373.77,1143.75 1375.3,1144.16 1376.8,1144.39 1378.32,1144.76 1379.82,1144.94 1381.34,1145.37 1382.87,1145.49 1384.37,1145.83 1385.89,1146.19 1387.39,1146.32 1388.92,1146.57 1390.42,1146.94 1391.54,1147.01 1391.94,1146.99 1393.44,1147.37 1394.96,1147.69 1396.46,1147.93 1397.99,1148.13 1399.49,1148.47 1401.01,1148.63 1402.53,1148.85 1404.04,1149.26 1405.56,1149.53 1407.06,1149.87 1408.58,1150.26 1410.08,1150.52 1411.61,1150.84 1413.11,1150.99 1414.63,1151.39 1416.13,1151.61 1417.65,1152.04 1419.16,1152.42 1420.68,1152.57 1422.2,1152.71 1423.7,1153.04 1425.22,1153.35 1426.73,1153.77 1428.25,1153.95 1429.75,1154.17 1431.27,1154.57 1432.77,1154.94 1434.3,1155.32 1435.8,1155.41 1437.32,1155.82 1438.82,1155.9 1440.34,1156.24 1441.87,1156.48 1443.37,1156.71 1444.4,1157.01 1444.89,1157.09 1446.39,1157.37 1447.92,1157.62 1449.42,1157.87 1450.94,1158.12 1452.44,1158.28 1453.96,1158.31 1455.46,1158.54 1456.99,1158.89 1458.49,1158.95 1460.01,1159.35 1461.53,1159.65 1463.04,1159.87 1464.56,1159.88 1466.06,1160.05 1467.58,1160.29 1469.08,1160.53 1470.61,1160.8 1472.11,1160.91 1473.63,1161.3 1475.13,1161.45 1476.13,1161.57 1476.65,1161.55 1478.16,1161.62 1479.68,1161.91 1481.2,1161.87 1482.7,1162.14 1484.22,1162.42 1485.73,1162.63 1486.7,1162.57 1487.25,1162.64 1488.75,1162.68 1490.27,1162.92 1491.77,1163.05 1493.3,1162.96 1494.8,1163.09 1496.32,1163.1 1497.82,1163.23 1499.34,1163.37 1500.87,1163.7 1502.37,1163.81 1503.89,1163.79 1505.39,1164.08 1506.92,1164.01 1508.42,1164.3 1509.94,1164.45 1511.44,1164.49 1512.96,1164.66 1514.47,1164.76 1515.99,1164.87 1517.49,1164.85 1519.01,1165.15 1520.53,1165.2" fill="none" stroke="#4DBBD5" stroke-width="1.9" stroke-linejoin="round"/>
<polyline points="1127.2,1165.2 1128.7,1149.25 1129.31,1142.79 1130.22,1139.1 1131.73,1134.04 1133.25,1128.01 1133.54,1126.74 1134.75,1125.4 1136.27,1123.37 1137.77,1122.14 1139.3,1120.37 1139.89,1119.4 1140.8,1118.64 1142.32,1118.44 1143.82,1118.03 1145.34,1116.86 1146.87,1115.57 1148.35,1115.36 1148.37,1115.37 1149.89,1114.05 1151.39,1113.09 1152.91,1111.58 1154.42,1110.76 1155.94,1110.12 1157.44,1108.82 1158.92,1108.27 1158.96,1108.07 1160.46,1108.38 1161.99,1108.09 1163.49,1107.93 1165.01,1107.67 1166.53,1107.61 1168.03,1107.33 1169.56,1107.2 1171.06,1107.39 1172.58,1107.32 1174.08,1107.42 1175.61,1107.01 1177.11,1106.82 1178.63,1106.66 1180.07,1107.12 1180.13,1106.8 1181.65,1107.52 1183.15,1107.45 1184.68,1107.25 1186.2,1107.47 1187.7,1107.76 1189.22,1107.58 1190.64,1107.96 1190.73,1108.17 1192.25,1107.84 1193.75,1108.08 1195.27,1108.72 1196.77,1108.99 1198.3,1108.84 1199.8,1108.86 1201.32,1109.01 1202.82,1109.08 1204.34,1109.67 1205.87,1110.15 1207.37,1110.32 1208.89,1110.5 1210.39,1110.4 1211.91,1110.59 1213.42,1110.82 1214.94,1110.93 1216.44,1111.14 1217.96,1111.4 1219.46,1111.56 1220.99,1111.85 1222.49,1112 1224.01,1112.11 1225.53,1112.41 1227.03,1112.47 1228.56,1112.68 1230.06,1112.77 1231.58,1112.97 1232.93,1113.36 1233.08,1113.3 1234.61,1113.5 1236.11,1113.97 1237.63,1114.43 1239.13,1114.68 1240.65,1114.87 1242.16,1115.22 1243.68,1115.66 1245.2,1115.83 1246.7,1116.21 1248.22,1116.5 1249.73,1116.78 1251.25,1116.96 1252.75,1117.19 1254.27,1117.49 1255.77,1117.96 1257.3,1118.44 1258.8,1118.83 1260.32,1118.99 1261.82,1119.2 1263.34,1119.55 1264.87,1119.88 1266.37,1120.15 1267.89,1120.44 1269.39,1120.87 1270.92,1121.25 1272.42,1121.62 1273.94,1121.79 1275.44,1122.23 1276.96,1122.59 1278.46,1122.79 1279.99,1123.05 1281.49,1123.41 1283.01,1123.74 1284.53,1123.92 1286.04,1124.23 1287.56,1124.71 1289.06,1124.97 1290.58,1125.41 1292.08,1125.49 1293.61,1125.68 1295.11,1126.19 1296.63,1126.61 1298.13,1127 1299.65,1127.16 1301.16,1127.43 1302.68,1127.75 1304.2,1128.03 1305.7,1128.25 1307.22,1128.55 1308.73,1129.02 1310.25,1129.17 1311.75,1129.39 1313.27,1129.69 1314.77,1130.11 1316.3,1130.33 1317.8,1130.58 1319.32,1131.07 1320.82,1131.55 1322.34,1131.82 1323.87,1132.26 1325.37,1132.56 1326.89,1132.76 1328.39,1133.19 1329.92,1133.36 1331.42,1133.51 1332.94,1133.94 1334.44,1134.29 1335.96,1134.46 1337.46,1134.72 1338.67,1135.13 1338.99,1135.12 1340.49,1135.4 1342.01,1135.88 1343.53,1136.25 1345.04,1136.69 1346.56,1137.05 1348.06,1137.16 1349.58,1137.61 1351.08,1138.03 1352.61,1138.39 1354.11,1138.65 1355.63,1138.82 1357.13,1139.01 1358.65,1139.49 1360.16,1139.66 1361.68,1140 1363.2,1140.23 1364.7,1140.76 1366.22,1141.01 1367.73,1141.24 1369.25,1141.49 1370.75,1142.05 1372.27,1142.37 1373.77,1142.83 1375.3,1143.03 1376.8,1143.21 1378.32,1143.71 1379.82,1143.92 1381.34,1144.16 1382.87,1144.65 1384.37,1144.92 1385.89,1145.34 1387.39,1145.82 1388.92,1146.06 1390.42,1146.27 1391.94,1146.75 1393.44,1147 1394.96,1147.21 1396.46,1147.7 1397.99,1147.97 1399.49,1148.32 1401.01,1148.65 1402.53,1148.8 1404.04,1149.25 1405.56,1149.42 1407.06,1149.89 1408.58,1150.31 1410.08,1150.45 1411.61,1150.83 1413.11,1151.03 1414.63,1151.38 1416.13,1151.86 1417.65,1152.15 1419.16,1152.44 1420.68,1152.75 1422.2,1153.21 1423.7,1153.53 1425.22,1153.94 1426.73,1154.31 1428.25,1154.71 1429.75,1154.86 1431.27,1155.16 1432.77,1155.34 1434.3,1155.67 1435.8,1156 1437.32,1156.25 1438.82,1156.62 1440.34,1157 1441.87,1157.34 1443.37,1157.7 1444.4,1157.78 1444.89,1157.98 1446.39,1158.27 1447.92,1158.55 1449.42,1158.68 1450.94,1158.87 1452.44,1159.34 1453.96,1159.7 1455.46,1160.02 1456.99,1160.18 1458.49,1160.26 1460.01,1160.52 1461.53,1160.89 1463.04,1161.18 1464.56,1161.44 1466.06,1161.72 1467.58,1161.94 1469.08,1162.2 1470.61,1162.38 1472.11,1162.68 1473.63,1163.01 1475.13,1163.12 1476.13,1163.29 1476.65,1163.21 1478.16,1163.51 1479.68,1163.45 1481.2,1163.58 1482.7,1163.61 1484.22,1163.78 1485.73,1163.78 1487.25,1163.86 1488.75,1164.08 1490.27,1164.38 1491.77,1164.46 1493.3,1164.67 1494.8,1164.68 1496.32,1164.6 1497.82,1164.67 1499.34,1164.93 1500.87,1165.01 1502.37,1164.98 1503.62,1165.07 1503.89,1165.25 1505.39,1165.37 1506.92,1165.31 1508.42,1165.24 1509.94,1165.17 1511.44,1165.28 1512.96,1165.16 1514.47,1165.28 1515.99,1165.29 1517.49,1165.41 1519.01,1165.37 1520.53,1165.2" fill="none" stroke="#00A087" stroke-width="1.9" stroke-linejoin="round"/>
<polyline points="1127.2,1165.2 1128.7,1155.91 1129.31,1151.69 1130.22,1148.37 1131.73,1143.35 1133.25,1139.02 1133.54,1138.01 1134.75,1136.02 1136.27,1133.72 1137.77,1130.82 1139.3,1129.95 1140.8,1129.34 1142.32,1129.32 1143.82,1129.14 1144.12,1128.53 1145.34,1125.64 1146.87,1122.76 1148.35,1120.07 1148.37,1120.18 1149.89,1119.9 1151.39,1119.81 1152.91,1119.29 1154.42,1119.31 1155.94,1118.52 1157.44,1118.42 1158.92,1118.33 1158.96,1118.59 1160.46,1118.31 1161.99,1118.19 1163.49,1117.53 1165.01,1117.76 1166.53,1117.74 1168.03,1117.27 1169.56,1116.92 1171.06,1116.63 1172.58,1116.65 1174.08,1116.68 1175.61,1116.64 1177.11,1115.88 1178.63,1116.22 1180.07,1116.16 1180.13,1115.89 1181.65,1115.9 1183.15,1116.63 1184.68,1116.36 1186.2,1116.3 1187.7,1116.68 1189.22,1117.2 1190.73,1117.14 1192.25,1117.85 1193.75,1118.57 1195.27,1118.81 1196.77,1119.2 1198.3,1119.41 1199.8,1119.08 1201.32,1119.81 1202.82,1120 1204.34,1119.83 1205.87,1120.25 1207.37,1120.14 1208.89,1120.93 1210.39,1121.05 1211.91,1121.36 1213.42,1121.53 1214.94,1121.99 1216.44,1122.36 1217.96,1122.5 1219.46,1122.82 1220.99,1123.01 1222.49,1123.25 1224.01,1123.49 1225.53,1123.78 1227.03,1123.91 1228.56,1124.13 1230.06,1124.66 1231.58,1124.96 1232.93,1125.23 1233.08,1125.36 1234.61,1125.55 1236.11,1125.93 1237.63,1126.21 1239.13,1126.5 1240.65,1126.7 1242.16,1127.05 1243.68,1127.21 1245.2,1127.29 1246.7,1127.5 1248.22,1127.83 1249.73,1128.15 1251.25,1128.44 1252.75,1128.61 1254.27,1129 1255.77,1129.41 1257.3,1129.48 1258.8,1129.77 1260.32,1129.92 1261.82,1130.4 1263.34,1130.79 1264.87,1131.08 1266.37,1131.17 1267.89,1131.46 1269.39,1131.77 1270.92,1132.1 1272.42,1132.45 1273.94,1132.6 1275.44,1132.91 1276.96,1133.24 1278.46,1133.55 1279.99,1133.75 1281.49,1133.99 1283.01,1134.12 1284.53,1134.33 1286.04,1134.56 1287.56,1135.02 1289.06,1135.42 1290.58,1135.73 1292.08,1136.06 1293.61,1136.16 1295.11,1136.37 1296.63,1136.8 1298.13,1137.01 1299.65,1137.21 1301.16,1137.37 1302.68,1137.75 1304.2,1138.04 1305.7,1138.44 1307.22,1138.58 1308.73,1138.96 1310.25,1139.21 1311.75,1139.39 1313.27,1139.69 1314.77,1139.92 1316.3,1140.1 1317.8,1140.33 1319.32,1140.6 1320.82,1141.03 1322.34,1141.22 1323.87,1141.66 1325.37,1141.96 1326.89,1142.3 1328.39,1142.65 1329.92,1142.92 1331.42,1143.13 1332.94,1143.28 1334.44,1143.61 1335.96,1143.77 1337.46,1144.2 1338.67,1144.37 1338.99,1144.28 1340.49,1144.57 1342.01,1144.75 1343.53,1145.13 1345.04,1145.26 1346.56,1145.65 1348.06,1146.01 1349.58,1146.19 1351.08,1146.62 1352.61,1146.93 1354.11,1147.29 1355.63,1147.36 1357.13,1147.6 1358.65,1147.94 1360.16,1148.25 1361.68,1148.49 1363.2,1148.67 1364.7,1148.94 1366.22,1149.19 1367.73,1149.41 1369.25,1149.87 1370.75,1149.98 1372.27,1150.32 1373.77,1150.45 1375.3,1150.65 1376.8,1150.89 1378.32,1151.12 1379.82,1151.61 1381.34,1151.95 1382.87,1152.35 1384.37,1152.73 1385.89,1152.98 1387.39,1153.26 1388.92,1153.49 1390.42,1153.7 1391.94,1153.83 1393.44,1153.97 1394.96,1154.3 1396.46,1154.77 1397.99,1155.11 1399.49,1155.48 1401.01,1155.58 1402.53,1155.89 1404.04,1156.16 1405.56,1156.29 1407.06,1156.64 1408.58,1156.81 1410.08,1157.28 1411.61,1157.67 1413.11,1157.99 1414.63,1158.26 1416.13,1158.3 1417.65,1158.57 1419.16,1158.74 1420.68,1159 1422.2,1159.38 1423.7,1159.59 1425.22,1159.98 1426.73,1160.18 1428.25,1160.45 1429.75,1160.58 1431.27,1160.85 1432.77,1161.18 1434.3,1161.62 1435.8,1161.73 1437.32,1161.94 1438.82,1162.19 1440.34,1162.51 1441.87,1162.7 1443.37,1163.07 1444.4,1163.16 1444.89,1163.19 1446.39,1163.5 1447.92,1163.76 1449.42,1163.72 1450.94,1163.9 1452.44,1163.97 1453.96,1164.03 1455.46,1164.34 1456.99,1164.46 1458.49,1164.46 1460.01,1164.77 1461.53,1164.83 1463.04,1164.88 1464.56,1164.97 1466.06,1165.17 1467.58,1165.4 1469.08,1165.63 1470.61,1165.63 1472.11,1165.9 1473.63,1165.85 1475.13,1165.93 1476.13,1165.95 1476.65,1165.89 1478.16,1165.53 1479.68,1165.21 1481.2,1164.81 1482.7,1164.57 1484.22,1164.22 1485.73,1163.87 1486.7,1163.65 1487.25,1163.58 1488.75,1163.7 1490.27,1163.8 1491.77,1163.66 1493.3,1163.68 1494.8,1163.86 1496.32,1163.99 1497.82,1164.06 1499.34,1164.24 1500.87,1164.14 1502.37,1164.13 1503.89,1164.14 1505.39,1164.13 1506.92,1164.38 1508.42,1164.51 1509.94,1164.68 1511.44,1164.87 1512.96,1164.87 1514.47,1164.87 1515.99,1164.94 1517.49,1164.99 1519.01,1165.11 1520.53,1165.2" fill="none" stroke="#3C5488" stroke-width="1.9" stroke-linejoin="round"/>
<polyline points="1127.2,1165.2 1128.7,1152.49 1129.31,1147.36 1130.22,1144.49 1131.73,1139.41 1133.25,1134.47 1133.54,1133.88 1134.75,1132.15 1136.27,1129.52 1137.77,1127.15 1139.3,1125.32 1139.89,1124.27 1140.8,1123.68 1142.32,1122.83 1143.82,1121.85 1145.34,1120.23 1146.87,1118.72 1148.35,1117.35 1148.37,1117.89 1149.89,1116.51 1151.39,1116.03 1152.91,1114.9 1154.42,1113.52 1155.94,1112.41 1157.44,1111.29 1158.92,1110.15 1158.96,1110.48 1160.46,1110.52 1161.99,1110.66 1163.49,1110.14 1165.01,1110.03 1166.53,1109.69 1168.03,1109.88 1169.56,1109.81 1171.06,1110.02 1172.58,1109.4 1174.08,1109.43 1175.61,1109.53 1177.11,1108.84 1178.63,1108.91 1180.07,1108.83 1180.13,1108.43 1181.65,1108.67 1183.15,1108.62 1184.68,1109.02 1186.2,1109.14 1187.7,1109.57 1189.22,1109.83 1190.73,1110.08 1192.25,1110.36 1193.75,1110.38 1195.27,1110.82 1196.77,1110.59 1198.3,1110.82 1199.8,1110.87 1201.32,1111.62 1202.82,1111.43 1204.34,1112.07 1205.87,1112.13 1207.37,1112.08 1208.89,1112.45 1210.39,1112.32 1211.91,1112.65 1213.42,1113.04 1214.94,1113.34 1216.44,1113.63 1217.96,1113.81 1219.46,1114.03 1220.99,1114.21 1222.49,1114.59 1224.01,1114.86 1225.53,1114.95 1227.03,1115.1 1228.56,1115.37 1230.06,1115.53 1231.58,1115.83 1232.93,1116.08 1233.08,1116 1234.61,1116.47 1236.11,1116.83 1237.63,1116.97 1239.13,1117.22 1240.65,1117.65 1242.16,1117.76 1243.68,1117.98 1245.2,1118.29 1246.7,1118.56 1248.22,1119.02 1249.73,1119.26 1251.25,1119.45 1252.75,1119.9 1254.27,1120.34 1255.77,1120.59 1257.3,1120.95 1258.8,1121.33 1260.32,1121.56 1261.82,1121.72 1263.34,1121.97 1264.87,1122.46 1266.37,1122.66 1267.89,1122.86 1269.39,1123.08 1270.92,1123.59 1272.42,1123.99 1273.94,1124.37 1275.44,1124.53 1276.96,1124.85 1278.46,1125.19 1279.99,1125.33 1281.49,1125.76 1283.01,1126.01 1284.53,1126.18 1286.04,1126.63 1287.56,1126.99 1289.06,1127.29 1290.58,1127.53 1292.08,1127.67 1293.61,1127.92 1295.11,1128.32 1296.63,1128.7 1298.13,1128.95 1299.65,1129.13 1301.16,1129.54 1302.68,1129.72 1304.2,1130.19 1305.7,1130.45 1307.22,1130.77 1308.73,1130.97 1310.25,1131.16 1311.75,1131.49 1313.27,1131.91 1314.77,1132.14 1316.3,1132.64 1317.8,1132.97 1319.32,1133.32 1320.82,1133.51 1322.34,1133.87 1323.87,1134.08 1325.37,1134.49 1326.89,1134.69 1328.39,1135.12 1329.92,1135.29 1331.42,1135.47 1332.94,1135.69 1334.44,1136.21 1335.96,1136.43 1337.46,1136.68 1338.67,1136.86 1338.99,1136.85 1340.49,1137.18 1342.01,1137.52 1343.53,1138.07 1345.04,1138.49 1346.56,1138.61 1348.06,1139.03 1349.58,1139.5 1351.08,1139.7 1352.61,1140.02 1354.11,1140.19 1355.63,1140.43 1357.13,1140.69 1358.65,1141.13 1360.16,1141.51 1361.68,1141.83 1363.2,1142.3 1364.7,1142.75 1366.22,1142.98 1367.73,1143.21 1369.25,1143.39 1370.75,1143.68 1372.27,1144.15 1373.77,1144.56 1375.3,1144.75 1376.8,1145.09 1378.32,1145.51 1379.82,1145.94 1381.34,1146.29 1382.87,1146.65 1384.37,1146.96 1385.89,1147.3 1387.39,1147.49 1388.92,1147.79 1390.42,1148.02 1391.94,1148.36 1393.44,1148.69 1394.96,1149.08 1396.46,1149.5 1397.99,1149.94 1399.49,1150.12 1401.01,1150.45 1402.53,1150.77 1404.04,1151.02 1405.56,1151.31 1407.06,1151.7 1408.58,1152.14 1410.08,1152.51 1411.61,1152.8 1413.11,1153.19 1414.63,1153.53 1416.13,1153.91 1417.65,1154.25 1419.16,1154.48 1420.68,1154.76 1422.2,1155.01 1423.7,1155.27 1425.22,1155.7 1426.73,1156.1 1428.25,1156.21 1429.75,1156.61 1431.27,1157.06 1432.77,1157.32 1434.3,1157.67 1435.8,1157.88 1437.32,1158.14 1438.82,1158.4 1440.34,1158.92 1441.87,1159.28 1443.37,1159.49 1444.4,1159.82 1444.89,1159.91 1446.39,1159.93 1447.92,1159.92 1449.42,1160.07 1450.94,1160.39 1452.44,1160.47 1453.96,1160.6 1455.46,1160.81 1456.99,1160.92 1458.49,1161 1460.01,1161 1461.53,1161.02 1463.04,1161.25 1464.56,1161.31 1466.06,1161.59 1467.58,1161.68 1469.08,1161.77 1470.61,1162.05 1472.11,1162.32 1473.63,1162.39 1475.13,1162.62 1476.13,1162.73 1476.65,1162.53 1478.16,1162.06 1479.68,1161.57 1481.2,1161.03 1482.7,1160.76 1484.22,1160.25 1485.73,1159.77 1486.7,1159.53 1487.25,1159.67 1488.75,1159.91 1490.27,1160.31 1491.77,1160.46 1493.3,1160.71 1494.8,1161.11 1496.32,1161.3 1497.82,1161.67 1499.34,1161.98 1500.87,1162.1 1502.37,1162.4 1503.89,1162.44 1505.39,1162.84 1506.92,1162.99 1508.42,1163.17 1509.94,1163.57 1511.44,1163.66 1512.96,1163.78 1514.47,1163.98 1515.99,1164.18 1517.49,1164.46 1519.01,1164.75 1520.53,1165.2" fill="none" stroke="#F39B7F" stroke-width="1.9" stroke-linejoin="round"/>
<line x1="1118.1" y1="1098.4" x2="1529.1" y2="1098.4" stroke="#333" stroke-width="1.5"/>
<line x1="1529.1" y1="1098.4" x2="1529.1" y2="1290.3" stroke="#333" stroke-width="1.5"/>
<line x1="1118.1" y1="1290.3" x2="1529.1" y2="1290.3" stroke="#111" stroke-width="1.8"/>
<line x1="1118.1" y1="1098.4" x2="1118.1" y2="1290.3" stroke="#111" stroke-width="1.8"/>
<line x1="1118.1" y1="1174" x2="1529.1" y2="1174" stroke="#111" stroke-width="1.8"/>
<line x1="1118.1" y1="1213.1" x2="1529.1" y2="1213.1" stroke="#111" stroke-width="1.8"/>
<line x1="1113.5" y1="1165.2" x2="1118.1" y2="1165.2" stroke="#222" stroke-width="1.3"/>
<text class="s" transform="translate(1111.5,1168.82)" font-size="10.76" text-anchor="end">0.0</text>
<line x1="1113.5" y1="1156.1" x2="1118.1" y2="1156.1" stroke="#222" stroke-width="1.3"/>
<text class="s" transform="translate(1111.5,1159.72)" font-size="10.76" text-anchor="end">0.1</text>
<line x1="1113.5" y1="1147" x2="1118.1" y2="1147" stroke="#222" stroke-width="1.3"/>
<text class="s" transform="translate(1111.5,1150.62)" font-size="10.76" text-anchor="end">0.2</text>
<line x1="1113.5" y1="1137.9" x2="1118.1" y2="1137.9" stroke="#222" stroke-width="1.3"/>
<text class="s" transform="translate(1111.5,1141.52)" font-size="10.76" text-anchor="end">0.3</text>
<line x1="1113.5" y1="1128.8" x2="1118.1" y2="1128.8" stroke="#222" stroke-width="1.3"/>
<text class="s" transform="translate(1111.5,1132.42)" font-size="10.76" text-anchor="end">0.4</text>
<line x1="1113.5" y1="1119.7" x2="1118.1" y2="1119.7" stroke="#222" stroke-width="1.3"/>
<text class="s" transform="translate(1111.5,1123.32)" font-size="10.76" text-anchor="end">0.5</text>
<line x1="1113.5" y1="1110.6" x2="1118.1" y2="1110.6" stroke="#222" stroke-width="1.3"/>
<text class="s" transform="translate(1111.5,1114.22)" font-size="10.76" text-anchor="end">0.6</text>
<line x1="1113.5" y1="1108" x2="1118.1" y2="1108" stroke="#222" stroke-width="1.3"/>
<line x1="1113.5" y1="1168" x2="1118.1" y2="1168" stroke="#222" stroke-width="1.3"/>
<line x1="1113.5" y1="1223.95" x2="1118.1" y2="1223.95" stroke="#222" stroke-width="1.3"/>
<text class="s" transform="translate(1111.5,1227.57)" font-size="10.76" text-anchor="end">1.5</text>
<line x1="1113.5" y1="1235.3" x2="1118.1" y2="1235.3" stroke="#222" stroke-width="1.3"/>
<text class="s" transform="translate(1111.5,1238.92)" font-size="10.76" text-anchor="end">1.0</text>
<line x1="1113.5" y1="1246.65" x2="1118.1" y2="1246.65" stroke="#222" stroke-width="1.3"/>
<text class="s" transform="translate(1111.5,1250.27)" font-size="10.76" text-anchor="end">0.5</text>
<line x1="1113.5" y1="1258" x2="1118.1" y2="1258" stroke="#222" stroke-width="1.3"/>
<text class="s" transform="translate(1111.5,1261.62)" font-size="10.76" text-anchor="end">0.0</text>
<line x1="1113.5" y1="1269.35" x2="1118.1" y2="1269.35" stroke="#222" stroke-width="1.3"/>
<text class="s" transform="translate(1111.5,1272.97)" font-size="10.76" text-anchor="end">−0.5</text>
<line x1="1113.5" y1="1280.7" x2="1118.1" y2="1280.7" stroke="#222" stroke-width="1.3"/>
<text class="s" transform="translate(1111.5,1284.32)" font-size="10.76" text-anchor="end">−1.0</text>
<line x1="1113.5" y1="1222" x2="1118.1" y2="1222" stroke="#222" stroke-width="1.3"/>
<line x1="1113.5" y1="1282" x2="1118.1" y2="1282" stroke="#222" stroke-width="1.3"/>
<line x1="1127.2" y1="1290.3" x2="1127.2" y2="1294.8" stroke="#222" stroke-width="1.3"/>
<text class="s" transform="translate(1127.2,1305.2)" font-size="10.76" text-anchor="middle">0</text>
<line x1="1232.93" y1="1290.3" x2="1232.93" y2="1294.8" stroke="#222" stroke-width="1.3"/>
<text class="s" transform="translate(1232.93,1305.2)" font-size="10.76" text-anchor="middle">5,000</text>
<line x1="1338.67" y1="1290.3" x2="1338.67" y2="1294.8" stroke="#222" stroke-width="1.3"/>
<text class="s" transform="translate(1338.67,1305.2)" font-size="10.76" text-anchor="middle">10,000</text>
<line x1="1444.4" y1="1290.3" x2="1444.4" y2="1294.8" stroke="#222" stroke-width="1.3"/>
<text class="s" transform="translate(1444.4,1305.2)" font-size="10.76" text-anchor="middle">15,000</text>
<line x1="1520.53" y1="1290.3" x2="1520.53" y2="1294.8" stroke="#222" stroke-width="1.3"/>
<text class="s" transform="translate(1323.3,1318.2)" font-size="10.66" text-anchor="middle">Rank in Ordered DataSet</text>
<text class="s" transform="translate(1317.7,1086.2)" font-size="17.18" text-anchor="middle" style="stroke-width:0.1px">GRN</text>
<text class="s" transform="translate(1080.5,1138.2) rotate(-90)" font-size="10.66" text-anchor="middle">Enrichment</text>
<text class="s" transform="translate(1091.9,1138.2) rotate(-90)" font-size="10.66" text-anchor="middle">score</text>
<text class="s" transform="translate(1074.7,1252.2) rotate(-90)" font-size="10.66" text-anchor="middle">Ranked list</text>
<text class="s" transform="translate(1085.4,1252.2) rotate(-90)" font-size="10.66" text-anchor="middle">metric</text>
<text class="s" transform="translate(1131.5,1229)" font-size="10.66">H</text>
<text class="s" transform="translate(1507.5,1281)" font-size="10.66">L</text>
<line x1="1118.7" y1="1326.1" x2="1124.6" y2="1326.1" stroke="#E64B35" stroke-width="1.8"/>
<text class="s" transform="translate(1127.2,1330.5)" font-size="10.64">FC_EPSILON_RI_SIGNALING_PATHWAY(ES=0.5411,NP=0.0020)</text>
<line x1="1118.7" y1="1344" x2="1124.6" y2="1344" stroke="#4DBBD5" stroke-width="1.8"/>
<text class="s" transform="translate(1127.2,1348.4)" font-size="10.64">LEUKOCYTE_TRANSENDOTHELIAL_MIGRATION(ES=0.6021,NP=0.0021)</text>
<line x1="1118.7" y1="1361.9" x2="1124.6" y2="1361.9" stroke="#00A087" stroke-width="1.8"/>
<text class="s" transform="translate(1127.2,1366.3)" font-size="10.64">FC_GAMMA_R_MEDIATED_PHAGOCYTOSIS(ES=0.6373,NP=0.0021)</text>
<line x1="1118.7" y1="1379.8" x2="1124.6" y2="1379.8" stroke="#3C5488" stroke-width="1.8"/>
<text class="s" transform="translate(1127.2,1384.2)" font-size="10.64">TYPE_II_DIABETES_MELLITUS(ES=0.5442,NP=0.0021)</text>
<line x1="1118.7" y1="1397.7" x2="1124.6" y2="1397.7" stroke="#F39B7F" stroke-width="1.8"/>
<text class="s" transform="translate(1127.2,1402.1)" font-size="10.64">LEISHMANIA_INFECTION(ES=0.6225,NP=0.0039)</text>
</g>
<g id="panelD">
<text class="s" transform="translate(83.6,1470.4) scale(0.97,1)" font-size="33.3" style="fill:#000;stroke:none">D</text>
<line x1="355.6" y1="1616.4" x2="312.4" y2="1472.2" stroke="#7a7a7a" stroke-width="2.4"/>
<line x1="355.6" y1="1616.4" x2="417.3" y2="1476.5" stroke="#7a7a7a" stroke-width="2.4"/>
<line x1="355.6" y1="1616.4" x2="241.4" y2="1532.3" stroke="#7a7a7a" stroke-width="2.4"/>
<line x1="355.6" y1="1616.4" x2="473.6" y2="1539.3" stroke="#7a7a7a" stroke-width="2.4"/>
<line x1="355.6" y1="1616.4" x2="215.3" y2="1614.9" stroke="#7a7a7a" stroke-width="2.4"/>
<line x1="355.6" y1="1616.4" x2="495.4" y2="1623" stroke="#7a7a7a" stroke-width="2.4"/>
<line x1="355.6" y1="1616.4" x2="240.7" y2="1698" stroke="#7a7a7a" stroke-width="2.4"/>
<line x1="355.6" y1="1616.4" x2="483.4" y2="1698.6" stroke="#7a7a7a" stroke-width="2.4"/>
<line x1="355.6" y1="1616.4" x2="292.5" y2="1753.3" stroke="#7a7a7a" stroke-width="2.4"/>
<line x1="355.6" y1="1616.4" x2="405.9" y2="1755" stroke="#7a7a7a" stroke-width="2.4"/>
<line x1="746.9" y1="1621.1" x2="724.2" y2="1471.5" stroke="#7a7a7a" stroke-width="2.4"/>
<line x1="746.9" y1="1621.1" x2="823.7" y2="1489" stroke="#7a7a7a" stroke-width="2.4"/>
<line x1="746.9" y1="1621.1" x2="643.4" y2="1525.4" stroke="#7a7a7a" stroke-width="2.4"/>
<line x1="746.9" y1="1621.1" x2="870.7" y2="1551" stroke="#7a7a7a" stroke-width="2.4"/>
<line x1="746.9" y1="1621.1" x2="606.2" y2="1613.3" stroke="#7a7a7a" stroke-width="2.4"/>
<line x1="746.9" y1="1621.1" x2="887.1" y2="1631.8" stroke="#7a7a7a" stroke-width="2.4"/>
<line x1="746.9" y1="1621.1" x2="625.2" y2="1693.5" stroke="#7a7a7a" stroke-width="2.4"/>
<line x1="746.9" y1="1621.1" x2="868.8" y2="1700" stroke="#7a7a7a" stroke-width="2.4"/>
<line x1="746.9" y1="1621.1" x2="670" y2="1745.1" stroke="#7a7a7a" stroke-width="2.4"/>
<line x1="746.9" y1="1621.1" x2="786.2" y2="1749.5" stroke="#7a7a7a" stroke-width="2.4"/>
<line x1="1138.5" y1="1620.9" x2="1125.5" y2="1455.9" stroke="#7a7a7a" stroke-width="2.4"/>
<line x1="1138.5" y1="1620.9" x2="1230.5" y2="1486.7" stroke="#7a7a7a" stroke-width="2.4"/>
<line x1="1138.5" y1="1620.9" x2="1024.7" y2="1510.1" stroke="#7a7a7a" stroke-width="2.4"/>
<line x1="1138.5" y1="1620.9" x2="1282.6" y2="1558.3" stroke="#7a7a7a" stroke-width="2.4"/>
<line x1="1138.5" y1="1620.9" x2="1004.3" y2="1598" stroke="#7a7a7a" stroke-width="2.4"/>
<line x1="1138.5" y1="1620.9" x2="1278.5" y2="1631.8" stroke="#7a7a7a" stroke-width="2.4"/>
<line x1="1138.5" y1="1620.9" x2="1016.8" y2="1693.6" stroke="#7a7a7a" stroke-width="2.4"/>
<line x1="1138.5" y1="1620.9" x2="1258.4" y2="1693.1" stroke="#7a7a7a" stroke-width="2.4"/>
<line x1="1138.5" y1="1620.9" x2="1065" y2="1749.9" stroke="#7a7a7a" stroke-width="2.4"/>
<line x1="1138.5" y1="1620.9" x2="1175.8" y2="1749.6" stroke="#7a7a7a" stroke-width="2.4"/>
<line x1="355.5" y1="2009.7" x2="325.5" y2="1861.1" stroke="#7a7a7a" stroke-width="2.4"/>
<line x1="355.5" y1="2009.7" x2="424.5" y2="1882.8" stroke="#7a7a7a" stroke-width="2.4"/>
<line x1="355.5" y1="2009.7" x2="252.5" y2="1914.6" stroke="#7a7a7a" stroke-width="2.4"/>
<line x1="355.5" y1="2009.7" x2="479.3" y2="1949.8" stroke="#7a7a7a" stroke-width="2.4"/>
<line x1="355.5" y1="2009.7" x2="215.3" y2="2002.4" stroke="#7a7a7a" stroke-width="2.4"/>
<line x1="355.5" y1="2009.7" x2="495.7" y2="2020.6" stroke="#7a7a7a" stroke-width="2.4"/>
<line x1="355.5" y1="2009.7" x2="234.3" y2="2082.6" stroke="#7a7a7a" stroke-width="2.4"/>
<line x1="355.5" y1="2009.7" x2="474.6" y2="2093.8" stroke="#7a7a7a" stroke-width="2.4"/>
<line x1="355.5" y1="2009.7" x2="279.9" y2="2136" stroke="#7a7a7a" stroke-width="2.4"/>
<line x1="355.5" y1="2009.7" x2="393.8" y2="2148.3" stroke="#7a7a7a" stroke-width="2.4"/>
<line x1="746.9" y1="2009.7" x2="720.8" y2="1867.1" stroke="#7a7a7a" stroke-width="2.4"/>
<line x1="746.9" y1="2009.7" x2="827.7" y2="1878.6" stroke="#7a7a7a" stroke-width="2.4"/>
<line x1="746.9" y1="2009.7" x2="642.1" y2="1922.4" stroke="#7a7a7a" stroke-width="2.4"/>
<line x1="746.9" y1="2009.7" x2="870.9" y2="1940.1" stroke="#7a7a7a" stroke-width="2.4"/>
<line x1="746.9" y1="2009.7" x2="606.4" y2="2001.9" stroke="#7a7a7a" stroke-width="2.4"/>
<line x1="746.9" y1="2009.7" x2="887.1" y2="2020.6" stroke="#7a7a7a" stroke-width="2.4"/>
<line x1="746.9" y1="2009.7" x2="625.7" y2="2082.6" stroke="#7a7a7a" stroke-width="2.4"/>
<line x1="746.9" y1="2009.7" x2="876.1" y2="2095.2" stroke="#7a7a7a" stroke-width="2.4"/>
<line x1="746.9" y1="2009.7" x2="677.3" y2="2134.8" stroke="#7a7a7a" stroke-width="2.4"/>
<line x1="746.9" y1="2009.7" x2="797.2" y2="2152.5" stroke="#7a7a7a" stroke-width="2.4"/>
<line x1="1138.4" y1="2009.7" x2="1096.5" y2="1851.2" stroke="#7a7a7a" stroke-width="2.4"/>
<line x1="1138.4" y1="2009.7" x2="1205.4" y2="1870.3" stroke="#7a7a7a" stroke-width="2.4"/>
<line x1="1138.4" y1="2009.7" x2="1014.7" y2="1911.2" stroke="#7a7a7a" stroke-width="2.4"/>
<line x1="1138.4" y1="2009.7" x2="1275" y2="1929.4" stroke="#7a7a7a" stroke-width="2.4"/>
<line x1="1138.4" y1="2009.7" x2="997.7" y2="2001.9" stroke="#7a7a7a" stroke-width="2.4"/>
<line x1="1138.4" y1="2009.7" x2="1278.4" y2="2020.6" stroke="#7a7a7a" stroke-width="2.4"/>
<line x1="1138.4" y1="2009.7" x2="1017.3" y2="2082.1" stroke="#7a7a7a" stroke-width="2.4"/>
<line x1="1138.4" y1="2009.7" x2="1241.1" y2="2103.5" stroke="#7a7a7a" stroke-width="2.4"/>
<line x1="1138.4" y1="2009.7" x2="1065.2" y2="2130.9" stroke="#7a7a7a" stroke-width="2.4"/>
<line x1="1138.4" y1="2009.7" x2="1161.6" y2="2148.3" stroke="#7a7a7a" stroke-width="2.4"/>
<rect x="271.1" y="1453.2" width="82.6" height="38" fill="#8CCFF3" rx="4.5"/>
<text class="a" transform="translate(312.4,1476.4)" font-size="13.25" text-anchor="middle">miR-4725-3p</text>
<rect x="376" y="1457.5" width="82.6" height="38" fill="#8CCFF3" rx="4.5"/>
<text class="a" transform="translate(417.3,1480.7)" font-size="13.25" text-anchor="middle">miR-499b-5p</text>
<rect x="200.1" y="1513.3" width="82.6" height="38" fill="#8CCFF3" rx="4.5"/>
<text class="a" transform="translate(241.4,1536.5)" font-size="13.25" text-anchor="middle">miR-1253</text>
<rect x="432.3" y="1520.3" width="82.6" height="38" fill="#8CCFF3" rx="4.5"/>
<text class="a" transform="translate(473.6,1543.5)" font-size="13.25" text-anchor="middle">miR-4271</text>
<rect x="174" y="1595.9" width="82.6" height="38" fill="#8CCFF3" rx="4.5"/>
<text class="a" transform="translate(215.3,1619.1)" font-size="13.25" text-anchor="middle">miR-9-3p</text>
<rect x="454.1" y="1604" width="82.6" height="38" fill="#8CCFF3" rx="4.5"/>
<text class="a" transform="translate(495.4,1627.2)" font-size="13.25" text-anchor="middle">miR-514a-3p</text>
<rect x="199.4" y="1679" width="82.6" height="38" fill="#8CCFF3" rx="4.5"/>
<text class="a" transform="translate(240.7,1702.2)" font-size="13.25" text-anchor="middle">miR-4746-3p</text>
<rect x="442.1" y="1679.6" width="82.6" height="38" fill="#8CCFF3" rx="4.5"/>
<text class="a" transform="translate(483.4,1702.8)" font-size="13.25" text-anchor="middle">miR-6756-3p</text>
<rect x="251.2" y="1734.3" width="82.6" height="38" fill="#8CCFF3" rx="4.5"/>
<text class="a" transform="translate(292.5,1757.5)" font-size="13.25" text-anchor="middle">miR-3127-3p</text>
<rect x="364.6" y="1736" width="82.6" height="38" fill="#8CCFF3" rx="4.5"/>
<text class="a" transform="translate(405.9,1759.2)" font-size="13.25" text-anchor="middle">miR-6780b-5p</text>
<rect x="314.3" y="1597.4" width="82.6" height="38" fill="#66FFCC" rx="4.5"/>
<text class="a" transform="translate(355.6,1620.6)" font-size="13.25" text-anchor="middle">NDUFB11</text>
<rect x="682.9" y="1452.5" width="82.6" height="38" fill="#8CCFF3" rx="4.5"/>
<text class="a" transform="translate(724.2,1475.7)" font-size="13.25" text-anchor="middle">miR-3674</text>
<rect x="782.4" y="1470" width="82.6" height="38" fill="#8CCFF3" rx="4.5"/>
<text class="a" transform="translate(823.7,1493.2)" font-size="13.25" text-anchor="middle">miR-6845-5p</text>
<rect x="602.1" y="1506.4" width="82.6" height="38" fill="#8CCFF3" rx="4.5"/>
<text class="a" transform="translate(643.4,1529.6)" font-size="13.25" text-anchor="middle">miR-4801</text>
<rect x="829.4" y="1532" width="82.6" height="38" fill="#8CCFF3" rx="4.5"/>
<text class="a" transform="translate(870.7,1555.2)" font-size="13.25" text-anchor="middle">miR-4999-3p</text>
<rect x="564.9" y="1594.3" width="82.6" height="38" fill="#8CCFF3" rx="4.5"/>
<text class="a" transform="translate(606.2,1617.5)" font-size="13.25" text-anchor="middle">miR-6800-3p</text>
<rect x="845.8" y="1612.8" width="82.6" height="38" fill="#8CCFF3" rx="4.5"/>
<text class="a" transform="translate(887.1,1636)" font-size="13.25" text-anchor="middle">miR-488-3p</text>
<rect x="583.9" y="1674.5" width="82.6" height="38" fill="#8CCFF3" rx="4.5"/>
<text class="a" transform="translate(625.2,1697.7)" font-size="13.25" text-anchor="middle">miR-4732-5p</text>
<rect x="827.5" y="1681" width="82.6" height="38" fill="#8CCFF3" rx="4.5"/>
<text class="a" transform="translate(868.8,1704.2)" font-size="13.25" text-anchor="middle">miR-6762-5p</text>
<rect x="628.7" y="1726.1" width="82.6" height="38" fill="#8CCFF3" rx="4.5"/>
<text class="a" transform="translate(670,1749.3)" font-size="13.25" text-anchor="middle">miR-6720-3p</text>
<rect x="744.9" y="1730.5" width="82.6" height="38" fill="#8CCFF3" rx="4.5"/>
<text class="a" transform="translate(786.2,1753.7)" font-size="13.25" text-anchor="middle">miR-4731-3p</text>
<rect x="705.6" y="1602.1" width="82.6" height="38" fill="#FFFF66" rx="4.5"/>
<text class="a" transform="translate(746.9,1625.3)" font-size="13.25" text-anchor="middle">GTPBP3</text>
<rect x="1084.2" y="1436.9" width="82.6" height="38" fill="#8CCFF3" rx="4.5"/>
<text class="a" transform="translate(1125.5,1460.1)" font-size="13.25" text-anchor="middle">miR-3677-3p</text>
<rect x="1189.2" y="1467.7" width="82.6" height="38" fill="#8CCFF3" rx="4.5"/>
<text class="a" transform="translate(1230.5,1490.9)" font-size="13.25" text-anchor="middle">miR-3178</text>
<rect x="983.4" y="1491.1" width="82.6" height="38" fill="#8CCFF3" rx="4.5"/>
<text class="a" transform="translate(1024.7,1514.3)" font-size="13.25" text-anchor="middle">miR-7112-5p</text>
<rect x="1241.3" y="1539.3" width="82.6" height="38" fill="#8CCFF3" rx="4.5"/>
<text class="a" transform="translate(1282.6,1562.5)" font-size="13.25" text-anchor="middle">miR-4750-5p</text>
<rect x="963" y="1579" width="82.6" height="38" fill="#8CCFF3" rx="4.5"/>
<text class="a" transform="translate(1004.3,1602.2)" font-size="13.25" text-anchor="middle">miR-6763-3p</text>
<rect x="1237.2" y="1612.8" width="82.6" height="38" fill="#8CCFF3" rx="4.5"/>
<text class="a" transform="translate(1278.5,1636)" font-size="13.25" text-anchor="middle">miR-3194-5p</text>
<rect x="975.5" y="1674.6" width="82.6" height="38" fill="#8CCFF3" rx="4.5"/>
<text class="a" transform="translate(1016.8,1697.8)" font-size="13.25" text-anchor="middle">miR-6781-5p</text>
<rect x="1217.1" y="1674.1" width="82.6" height="38" fill="#8CCFF3" rx="4.5"/>
<text class="a" transform="translate(1258.4,1697.3)" font-size="13.25" text-anchor="middle">miR-4710</text>
<rect x="1023.7" y="1730.9" width="82.6" height="38" fill="#8CCFF3" rx="4.5"/>
<text class="a" transform="translate(1065,1754.1)" font-size="13.25" text-anchor="middle">miR-4462</text>
<rect x="1134.5" y="1730.6" width="82.6" height="38" fill="#8CCFF3" rx="4.5"/>
<text class="a" transform="translate(1175.8,1753.8)" font-size="13.25" text-anchor="middle">miR-4763-5p</text>
<rect x="1097.2" y="1601.9" width="82.6" height="38" fill="#FF66CC" rx="4.5"/>
<text class="a" transform="translate(1138.5,1625.1)" font-size="13.25" text-anchor="middle">SLC16A3</text>
<rect x="284.2" y="1842.1" width="82.6" height="38" fill="#8CCFF3" rx="4.5"/>
<text class="a" transform="translate(325.5,1865.3)" font-size="13.25" text-anchor="middle">miR-612</text>
<rect x="383.2" y="1863.8" width="82.6" height="38" fill="#8CCFF3" rx="4.5"/>
<text class="a" transform="translate(424.5,1887)" font-size="13.25" text-anchor="middle">miR-155-3p</text>
<rect x="211.2" y="1895.6" width="82.6" height="38" fill="#8CCFF3" rx="4.5"/>
<text class="a" transform="translate(252.5,1918.8)" font-size="13.25" text-anchor="middle">miR-5584-3p</text>
<rect x="438" y="1930.8" width="82.6" height="38" fill="#8CCFF3" rx="4.5"/>
<text class="a" transform="translate(479.3,1954)" font-size="13.25" text-anchor="middle">miR-3187-5p</text>
<rect x="174" y="1983.4" width="82.6" height="38" fill="#8CCFF3" rx="4.5"/>
<text class="a" transform="translate(215.3,2006.6)" font-size="13.25" text-anchor="middle">miR-1285-3p</text>
<rect x="454.4" y="2001.6" width="82.6" height="38" fill="#8CCFF3" rx="4.5"/>
<text class="a" transform="translate(495.7,2024.8)" font-size="13.25" text-anchor="middle">miR-5189-5p</text>
<rect x="193" y="2063.6" width="82.6" height="38" fill="#8CCFF3" rx="4.5"/>
<text class="a" transform="translate(234.3,2086.8)" font-size="13.25" text-anchor="middle">miR-7160-5p</text>
<rect x="433.3" y="2074.8" width="82.6" height="38" fill="#8CCFF3" rx="4.5"/>
<text class="a" transform="translate(474.6,2098)" font-size="13.25" text-anchor="middle">miR-558</text>
<rect x="238.6" y="2117" width="82.6" height="38" fill="#8CCFF3" rx="4.5"/>
<text class="a" transform="translate(279.9,2140.2)" font-size="13.25" text-anchor="middle">miR-544b</text>
<rect x="352.5" y="2129.3" width="82.6" height="38" fill="#8CCFF3" rx="4.5"/>
<text class="a" transform="translate(393.8,2152.5)" font-size="13.25" text-anchor="middle">miR-6860</text>
<rect x="314.2" y="1990.7" width="82.6" height="38" fill="#FF3333" rx="4.5"/>
<text class="a" transform="translate(355.5,2013.9)" font-size="13.25" text-anchor="middle">PUS1</text>
<rect x="679.5" y="1848.1" width="82.6" height="38" fill="#8CCFF3" rx="4.5"/>
<text class="a" transform="translate(720.8,1871.3)" font-size="13.25" text-anchor="middle">miR-6777-5p</text>
<rect x="786.4" y="1859.6" width="82.6" height="38" fill="#8CCFF3" rx="4.5"/>
<text class="a" transform="translate(827.7,1882.8)" font-size="13.25" text-anchor="middle">miR-3939</text>
<rect x="600.8" y="1903.4" width="82.6" height="38" fill="#8CCFF3" rx="4.5"/>
<text class="a" transform="translate(642.1,1926.6)" font-size="13.25" text-anchor="middle">miR-6794-5p</text>
<rect x="829.6" y="1921.1" width="82.6" height="38" fill="#8CCFF3" rx="4.5"/>
<text class="a" transform="translate(870.9,1944.3)" font-size="13.25" text-anchor="middle">miR-1343-5p</text>
<rect x="565.1" y="1982.9" width="82.6" height="38" fill="#8CCFF3" rx="4.5"/>
<text class="a" transform="translate(606.4,2006.1)" font-size="13.25" text-anchor="middle">miR-5191</text>
<rect x="845.8" y="2001.6" width="82.6" height="38" fill="#8CCFF3" rx="4.5"/>
<text class="a" transform="translate(887.1,2024.8)" font-size="13.25" text-anchor="middle">miR-7113-5p</text>
<rect x="584.4" y="2063.6" width="82.6" height="38" fill="#8CCFF3" rx="4.5"/>
<text class="a" transform="translate(625.7,2086.8)" font-size="13.25" text-anchor="middle">miR-4278</text>
<rect x="834.8" y="2076.2" width="82.6" height="38" fill="#8CCFF3" rx="4.5"/>
<text class="a" transform="translate(876.1,2099.4)" font-size="13.25" text-anchor="middle">miR-4716-3p</text>
<rect x="636" y="2115.8" width="82.6" height="38" fill="#8CCFF3" rx="4.5"/>
<text class="a" transform="translate(677.3,2139)" font-size="13.25" text-anchor="middle">miR-615-5p</text>
<rect x="755.9" y="2133.5" width="82.6" height="38" fill="#8CCFF3" rx="4.5"/>
<text class="a" transform="translate(797.2,2156.7)" font-size="13.25" text-anchor="middle">miR-939-5p</text>
<rect x="705.6" y="1990.7" width="82.6" height="38" fill="#1AFF33" rx="4.5"/>
<text class="a" transform="translate(746.9,2013.9)" font-size="13.25" text-anchor="middle">GRN</text>
<rect x="1055.2" y="1832.2" width="82.6" height="38" fill="#8CCFF3" rx="4.5"/>
<text class="a" transform="translate(1096.5,1855.4)" font-size="13.25" text-anchor="middle">miR-15a-5p</text>
<rect x="1164.1" y="1851.3" width="82.6" height="38" fill="#8CCFF3" rx="4.5"/>
<text class="a" transform="translate(1205.4,1874.5)" font-size="13.25" text-anchor="middle">miR-16-5p</text>
<rect x="973.4" y="1892.2" width="82.6" height="38" fill="#8CCFF3" rx="4.5"/>
<text class="a" transform="translate(1014.7,1915.4)" font-size="13.25" text-anchor="middle">miR-424-5p</text>
<rect x="1233.7" y="1910.4" width="82.6" height="38" fill="#8CCFF3" rx="4.5"/>
<text class="a" transform="translate(1275,1933.6)" font-size="13.25" text-anchor="middle">miR-195-5p</text>
<rect x="956.4" y="1982.9" width="82.6" height="38" fill="#8CCFF3" rx="4.5"/>
<text class="a" transform="translate(997.7,2006.1)" font-size="13.25" text-anchor="middle">miR-15b-5p</text>
<rect x="1237.1" y="2001.6" width="82.6" height="38" fill="#8CCFF3" rx="4.5"/>
<text class="a" transform="translate(1278.4,2024.8)" font-size="13.25" text-anchor="middle">miR-6742-3p</text>
<rect x="976" y="2063.1" width="82.6" height="38" fill="#8CCFF3" rx="4.5"/>
<text class="a" transform="translate(1017.3,2086.3)" font-size="13.25" text-anchor="middle">miR-6853-5p</text>
<rect x="1199.8" y="2084.5" width="82.6" height="38" fill="#8CCFF3" rx="4.5"/>
<text class="a" transform="translate(1241.1,2107.7)" font-size="13.25" text-anchor="middle">miR-497-5p</text>
<rect x="1023.9" y="2111.9" width="82.6" height="38" fill="#8CCFF3" rx="4.5"/>
<text class="a" transform="translate(1065.2,2135.1)" font-size="13.25" text-anchor="middle">miR-6838-5p</text>
<rect x="1120.3" y="2129.3" width="82.6" height="38" fill="#8CCFF3" rx="4.5"/>
<text class="a" transform="translate(1161.6,2152.5)" font-size="13.25" text-anchor="middle">miR-500a-3p</text>
<rect x="1097.1" y="1990.7" width="82.6" height="38" fill="#9999FF" rx="4.5"/>
<text class="a" transform="translate(1138.4,2013.9)" font-size="13.25" text-anchor="middle">SLC2A3</text>
</g>
</svg></body></html>
